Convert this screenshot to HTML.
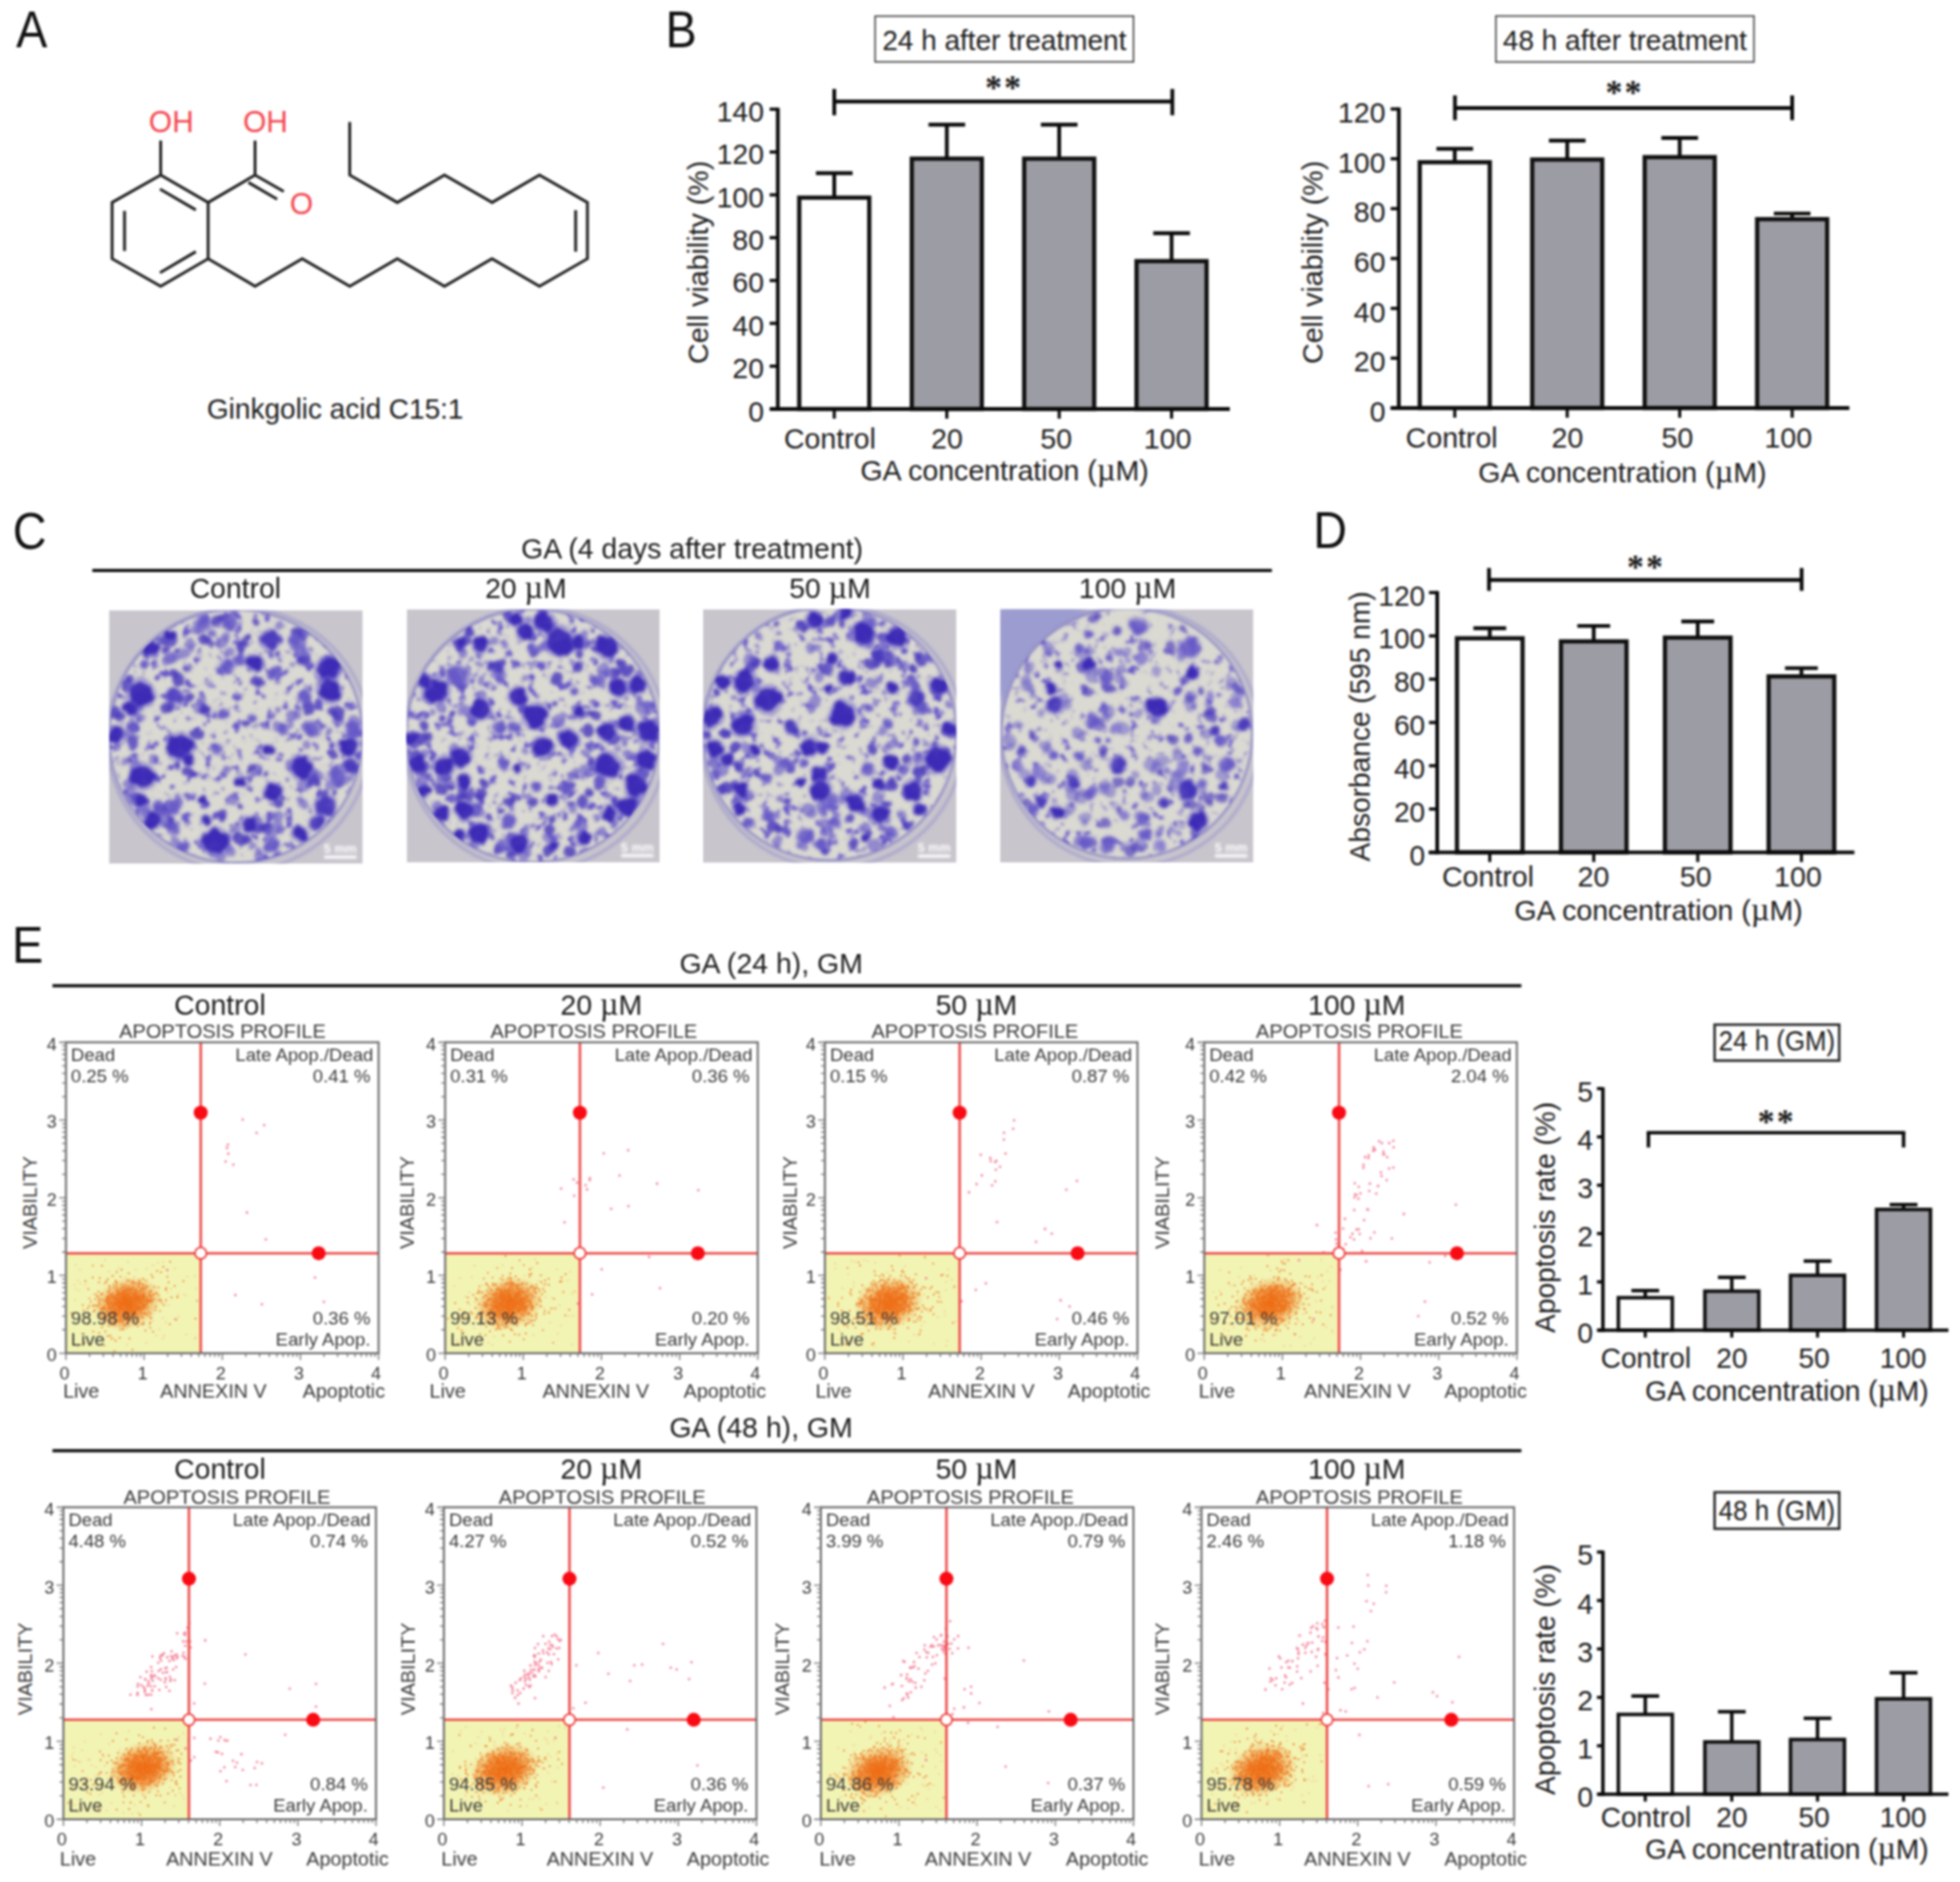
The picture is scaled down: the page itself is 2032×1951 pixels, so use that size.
<!DOCTYPE html>
<html lang="en"><head><meta charset="utf-8"><title>Ginkgolic acid C15:1 figure</title>
<style>
html,body{margin:0;padding:0;background:#fff;}
body{width:2032px;height:1951px;overflow:hidden;}
svg{display:block;font-family:"Liberation Sans",sans-serif;filter:blur(0.8px);}
</style></head><body>
<svg width="2032" height="1951" viewBox="0 0 2032 1951">
<rect width="2032" height="1951" fill="#fff"/>
<text transform="translate(16.7,49) scale(1,1.10)" font-size="48.5" fill="#111">A</text>
<text transform="translate(690,48.7) scale(1,1.10)" font-size="48.5" fill="#111">B</text>
<text transform="translate(13.2,569) scale(1,1.10)" font-size="48.5" fill="#111">C</text>
<text transform="translate(1361.5,568) scale(1,1.10)" font-size="48.5" fill="#111">D</text>
<text transform="translate(12.5,998) scale(1,1.10)" font-size="48.5" fill="#111">E</text>
<path d="M116.2 209.9 L166.6 181.5 L215.8 209.9 L215.8 268.2 L166.6 296.7 L116.2 268.2 Z" fill="none" stroke="#222" stroke-width="3.0" stroke-linejoin="miter" stroke-linecap="butt"/>
<path d="M129.1 218.6 L129.1 260.2" fill="none" stroke="#222" stroke-width="3.0" stroke-linejoin="miter" stroke-linecap="butt"/>
<path d="M165.9 196.0 L203.0 217.6" fill="none" stroke="#222" stroke-width="3.0" stroke-linejoin="miter" stroke-linecap="butt"/>
<path d="M165.9 282.8 L203.0 260.9" fill="none" stroke="#222" stroke-width="3.0" stroke-linejoin="miter" stroke-linecap="butt"/>
<path d="M166.6 181.5 L166.6 145.7" fill="none" stroke="#222" stroke-width="3.0" stroke-linejoin="miter" stroke-linecap="butt"/>
<path d="M215.8 268.2 L264.4 296.7 L313.3 268.2 L362.6 296.7 L411.9 268.2 L460.8 296.7 L510.1 268.2 L559.3 296.7 L609.0 268.2 L609.0 209.9 L559.3 181.5 L510.1 209.9 L460.8 181.5 L411.9 209.9 L362.6 181.5 L362.6 126.6" fill="none" stroke="#222" stroke-width="3.0" stroke-linejoin="miter" stroke-linecap="butt"/>
<path d="M596.8 217.9 L596.8 260.9" fill="none" stroke="#222" stroke-width="3.0" stroke-linejoin="miter" stroke-linecap="butt"/>
<path d="M215.8 209.9 L264.4 181.5 L264.4 145.7" fill="none" stroke="#222" stroke-width="3.0" stroke-linejoin="miter" stroke-linecap="butt"/>
<path d="M264.4 181.5 L294.2 198.5" fill="none" stroke="#222" stroke-width="3.0" stroke-linejoin="miter" stroke-linecap="butt"/>
<path d="M257.5 189.1 L287.3 206.5" fill="none" stroke="#222" stroke-width="3.0" stroke-linejoin="miter" stroke-linecap="butt"/>
<text x="154.3" y="136.5" font-size="31" text-anchor="start" fill="#f4474f" >OH</text>
<text x="252.0" y="136.5" font-size="31" text-anchor="start" fill="#f4474f" >OH</text>
<text x="300.5" y="222.0" font-size="31" text-anchor="start" fill="#f4474f" >O</text>
<text x="347.5" y="434.0" font-size="29" text-anchor="middle" fill="#1c1c1c" >Ginkgolic acid C15:1</text>
<rect x="828.6" y="204.9" width="72.6" height="219.1" fill="#ffffff" stroke="#111" stroke-width="4.4" />
<rect x="945.3" y="164.5" width="72.6" height="259.5" fill="#9c9ca4" stroke="#111" stroke-width="4.4" />
<rect x="1061.8" y="164.5" width="72.6" height="259.5" fill="#9c9ca4" stroke="#111" stroke-width="4.4" />
<rect x="1178.3" y="270.7" width="72.6" height="153.3" fill="#9c9ca4" stroke="#111" stroke-width="4.4" />
<line x1="864.9" y1="179.5" x2="864.9" y2="203.7" stroke="#0a0a0a" stroke-width="3.9" stroke-linecap="butt"/>
<line x1="845.9" y1="179.5" x2="883.9" y2="179.5" stroke="#0a0a0a" stroke-width="3.9" stroke-linecap="butt"/>
<line x1="981.6" y1="129.3" x2="981.6" y2="163.3" stroke="#0a0a0a" stroke-width="3.9" stroke-linecap="butt"/>
<line x1="962.6" y1="129.3" x2="1000.6" y2="129.3" stroke="#0a0a0a" stroke-width="3.9" stroke-linecap="butt"/>
<line x1="1098.1" y1="129.3" x2="1098.1" y2="163.3" stroke="#0a0a0a" stroke-width="3.9" stroke-linecap="butt"/>
<line x1="1079.1" y1="129.3" x2="1117.1" y2="129.3" stroke="#0a0a0a" stroke-width="3.9" stroke-linecap="butt"/>
<line x1="1214.6" y1="241.8" x2="1214.6" y2="269.5" stroke="#0a0a0a" stroke-width="3.9" stroke-linecap="butt"/>
<line x1="1195.6" y1="241.8" x2="1233.6" y2="241.8" stroke="#0a0a0a" stroke-width="3.9" stroke-linecap="butt"/>
<line x1="806.4" y1="111.8" x2="806.4" y2="425.9" stroke="#0a0a0a" stroke-width="3.9" stroke-linecap="butt"/>
<line x1="798.0" y1="424.0" x2="1275.0" y2="424.0" stroke="#0a0a0a" stroke-width="3.9" stroke-linecap="butt"/>
<line x1="797.9" y1="424.0" x2="806.4" y2="424.0" stroke="#0a0a0a" stroke-width="3.3" stroke-linecap="butt"/>
<text x="792.0" y="436.5" font-size="29.4" text-anchor="end" fill="#1c1c1c" >0</text>
<line x1="797.9" y1="379.6" x2="806.4" y2="379.6" stroke="#0a0a0a" stroke-width="3.3" stroke-linecap="butt"/>
<text x="792.0" y="392.1" font-size="29.4" text-anchor="end" fill="#1c1c1c" >20</text>
<line x1="797.9" y1="335.2" x2="806.4" y2="335.2" stroke="#0a0a0a" stroke-width="3.3" stroke-linecap="butt"/>
<text x="792.0" y="347.7" font-size="29.4" text-anchor="end" fill="#1c1c1c" >40</text>
<line x1="797.9" y1="290.8" x2="806.4" y2="290.8" stroke="#0a0a0a" stroke-width="3.3" stroke-linecap="butt"/>
<text x="792.0" y="303.3" font-size="29.4" text-anchor="end" fill="#1c1c1c" >60</text>
<line x1="797.9" y1="246.4" x2="806.4" y2="246.4" stroke="#0a0a0a" stroke-width="3.3" stroke-linecap="butt"/>
<text x="792.0" y="258.9" font-size="29.4" text-anchor="end" fill="#1c1c1c" >80</text>
<line x1="797.9" y1="202.0" x2="806.4" y2="202.0" stroke="#0a0a0a" stroke-width="3.3" stroke-linecap="butt"/>
<text x="792.0" y="214.5" font-size="29.4" text-anchor="end" fill="#1c1c1c" >100</text>
<line x1="797.9" y1="157.6" x2="806.4" y2="157.6" stroke="#0a0a0a" stroke-width="3.3" stroke-linecap="butt"/>
<text x="792.0" y="170.1" font-size="29.4" text-anchor="end" fill="#1c1c1c" >120</text>
<line x1="797.9" y1="113.2" x2="806.4" y2="113.2" stroke="#0a0a0a" stroke-width="3.3" stroke-linecap="butt"/>
<text x="792.0" y="125.7" font-size="29.4" text-anchor="end" fill="#1c1c1c" >140</text>
<line x1="864.9" y1="424.0" x2="864.9" y2="434.0" stroke="#0a0a0a" stroke-width="3.2" stroke-linecap="butt"/>
<text x="860.4" y="465.4" font-size="29.6" text-anchor="middle" fill="#1c1c1c" >Control</text>
<line x1="981.6" y1="424.0" x2="981.6" y2="434.0" stroke="#0a0a0a" stroke-width="3.2" stroke-linecap="butt"/>
<text x="981.7" y="465.4" font-size="29.6" text-anchor="middle" fill="#1c1c1c" >20</text>
<line x1="1098.1" y1="424.0" x2="1098.1" y2="434.0" stroke="#0a0a0a" stroke-width="3.2" stroke-linecap="butt"/>
<text x="1095.0" y="465.4" font-size="29.6" text-anchor="middle" fill="#1c1c1c" >50</text>
<line x1="1214.6" y1="424.0" x2="1214.6" y2="434.0" stroke="#0a0a0a" stroke-width="3.2" stroke-linecap="butt"/>
<text x="1210.5" y="465.4" font-size="29.6" text-anchor="middle" fill="#1c1c1c" >100</text>
<text x="1041.5" y="497.8" font-size="29.6" text-anchor="middle" fill="#1c1c1c" >GA concentration (<tspan font-family="Liberation Serif, serif" font-size="1.13em">µ</tspan>M)</text>
<text transform="translate(734.0,272.0) rotate(-90)" font-size="29.6" text-anchor="middle" fill="#1c1c1c">Cell viability (%)</text>
<line x1="864.9" y1="105.2" x2="1215.4" y2="105.2" stroke="#0a0a0a" stroke-width="3.9" stroke-linecap="butt"/>
<line x1="864.9" y1="92.2" x2="864.9" y2="119.5" stroke="#0a0a0a" stroke-width="3.9" stroke-linecap="butt"/>
<line x1="1215.4" y1="92.2" x2="1215.4" y2="119.5" stroke="#0a0a0a" stroke-width="3.9" stroke-linecap="butt"/>
<text x="1041.0" y="102.6" font-size="35" text-anchor="middle" fill="#1c1c1c" font-family="Liberation Serif, serif" font-weight="bold" letter-spacing="2.2">**</text>
<rect x="907.3" y="16.7" width="267.9" height="47.5" fill="#fff" stroke="#444" stroke-width="1.6" />
<text x="1041.2" y="51.5" font-size="29" text-anchor="middle" fill="#1c1c1c" >24 h after treatment</text>
<rect x="1471.9" y="168.2" width="72.6" height="254.8" fill="#ffffff" stroke="#111" stroke-width="4.4" />
<rect x="1588.5" y="165.4" width="72.6" height="257.6" fill="#9c9ca4" stroke="#111" stroke-width="4.4" />
<rect x="1705.1" y="162.9" width="72.6" height="260.1" fill="#9c9ca4" stroke="#111" stroke-width="4.4" />
<rect x="1821.7" y="227.2" width="72.6" height="195.8" fill="#9c9ca4" stroke="#111" stroke-width="4.4" />
<line x1="1508.2" y1="154.3" x2="1508.2" y2="167.0" stroke="#0a0a0a" stroke-width="3.9" stroke-linecap="butt"/>
<line x1="1489.2" y1="154.3" x2="1527.2" y2="154.3" stroke="#0a0a0a" stroke-width="3.9" stroke-linecap="butt"/>
<line x1="1624.8" y1="145.8" x2="1624.8" y2="164.2" stroke="#0a0a0a" stroke-width="3.9" stroke-linecap="butt"/>
<line x1="1605.8" y1="145.8" x2="1643.8" y2="145.8" stroke="#0a0a0a" stroke-width="3.9" stroke-linecap="butt"/>
<line x1="1741.4" y1="143.0" x2="1741.4" y2="161.7" stroke="#0a0a0a" stroke-width="3.9" stroke-linecap="butt"/>
<line x1="1722.4" y1="143.0" x2="1760.4" y2="143.0" stroke="#0a0a0a" stroke-width="3.9" stroke-linecap="butt"/>
<line x1="1858.0" y1="221.4" x2="1858.0" y2="226.0" stroke="#0a0a0a" stroke-width="3.9" stroke-linecap="butt"/>
<line x1="1839.0" y1="221.4" x2="1877.0" y2="221.4" stroke="#0a0a0a" stroke-width="3.9" stroke-linecap="butt"/>
<line x1="1450.2" y1="111.5" x2="1450.2" y2="424.9" stroke="#0a0a0a" stroke-width="3.9" stroke-linecap="butt"/>
<line x1="1441.7" y1="423.0" x2="1917.3" y2="423.0" stroke="#0a0a0a" stroke-width="3.9" stroke-linecap="butt"/>
<line x1="1441.7" y1="423.0" x2="1450.2" y2="423.0" stroke="#0a0a0a" stroke-width="3.3" stroke-linecap="butt"/>
<text x="1436.5" y="437.0" font-size="29.6" text-anchor="end" fill="#1c1c1c" >0</text>
<line x1="1441.7" y1="371.3" x2="1450.2" y2="371.3" stroke="#0a0a0a" stroke-width="3.3" stroke-linecap="butt"/>
<text x="1436.5" y="385.3" font-size="29.6" text-anchor="end" fill="#1c1c1c" >20</text>
<line x1="1441.7" y1="319.7" x2="1450.2" y2="319.7" stroke="#0a0a0a" stroke-width="3.3" stroke-linecap="butt"/>
<text x="1436.5" y="333.7" font-size="29.6" text-anchor="end" fill="#1c1c1c" >40</text>
<line x1="1441.7" y1="268.0" x2="1450.2" y2="268.0" stroke="#0a0a0a" stroke-width="3.3" stroke-linecap="butt"/>
<text x="1436.5" y="282.0" font-size="29.6" text-anchor="end" fill="#1c1c1c" >60</text>
<line x1="1441.7" y1="216.3" x2="1450.2" y2="216.3" stroke="#0a0a0a" stroke-width="3.3" stroke-linecap="butt"/>
<text x="1436.5" y="230.3" font-size="29.6" text-anchor="end" fill="#1c1c1c" >80</text>
<line x1="1441.7" y1="164.6" x2="1450.2" y2="164.6" stroke="#0a0a0a" stroke-width="3.3" stroke-linecap="butt"/>
<text x="1436.5" y="178.6" font-size="29.6" text-anchor="end" fill="#1c1c1c" >100</text>
<line x1="1441.7" y1="113.0" x2="1450.2" y2="113.0" stroke="#0a0a0a" stroke-width="3.3" stroke-linecap="butt"/>
<text x="1436.5" y="127.0" font-size="29.6" text-anchor="end" fill="#1c1c1c" >120</text>
<line x1="1508.2" y1="423.0" x2="1508.2" y2="433.0" stroke="#0a0a0a" stroke-width="3.2" stroke-linecap="butt"/>
<text x="1505.0" y="464.3" font-size="29.6" text-anchor="middle" fill="#1c1c1c" >Control</text>
<line x1="1624.8" y1="423.0" x2="1624.8" y2="433.0" stroke="#0a0a0a" stroke-width="3.2" stroke-linecap="butt"/>
<text x="1625.0" y="464.3" font-size="29.6" text-anchor="middle" fill="#1c1c1c" >20</text>
<line x1="1741.4" y1="423.0" x2="1741.4" y2="433.0" stroke="#0a0a0a" stroke-width="3.2" stroke-linecap="butt"/>
<text x="1739.0" y="464.3" font-size="29.6" text-anchor="middle" fill="#1c1c1c" >50</text>
<line x1="1858.0" y1="423.0" x2="1858.0" y2="433.0" stroke="#0a0a0a" stroke-width="3.2" stroke-linecap="butt"/>
<text x="1854.0" y="464.3" font-size="29.6" text-anchor="middle" fill="#1c1c1c" >100</text>
<text x="1682.0" y="499.6" font-size="29.6" text-anchor="middle" fill="#1c1c1c" >GA concentration (<tspan font-family="Liberation Serif, serif" font-size="1.13em">µ</tspan>M)</text>
<text transform="translate(1371.0,272.0) rotate(-90)" font-size="29.6" text-anchor="middle" fill="#1c1c1c">Cell viability (%)</text>
<line x1="1508.4" y1="112.0" x2="1858.0" y2="112.0" stroke="#0a0a0a" stroke-width="3.9" stroke-linecap="butt"/>
<line x1="1508.4" y1="98.9" x2="1508.4" y2="124.6" stroke="#0a0a0a" stroke-width="3.9" stroke-linecap="butt"/>
<line x1="1858.0" y1="98.9" x2="1858.0" y2="124.6" stroke="#0a0a0a" stroke-width="3.9" stroke-linecap="butt"/>
<text x="1684.3" y="107.6" font-size="35" text-anchor="middle" fill="#1c1c1c" font-family="Liberation Serif, serif" font-weight="bold" letter-spacing="2.2">**</text>
<rect x="1550.8" y="16.6" width="267.6" height="47.7" fill="#fff" stroke="#444" stroke-width="1.6" />
<text x="1684.6" y="51.5" font-size="29" text-anchor="middle" fill="#1c1c1c" >48 h after treatment</text>
<rect x="1510.5" y="661.7" width="68.0" height="221.9" fill="#ffffff" stroke="#111" stroke-width="4.4" />
<rect x="1618.3" y="664.9" width="68.0" height="218.7" fill="#9c9ca4" stroke="#111" stroke-width="4.4" />
<rect x="1726.1" y="661.0" width="68.0" height="222.6" fill="#9c9ca4" stroke="#111" stroke-width="4.4" />
<rect x="1833.6" y="701.2" width="68.0" height="182.4" fill="#9c9ca4" stroke="#111" stroke-width="4.4" />
<line x1="1544.5" y1="651.3" x2="1544.5" y2="660.5" stroke="#0a0a0a" stroke-width="3.9" stroke-linecap="butt"/>
<line x1="1527.5" y1="651.3" x2="1561.5" y2="651.3" stroke="#0a0a0a" stroke-width="3.9" stroke-linecap="butt"/>
<line x1="1652.3" y1="648.9" x2="1652.3" y2="663.7" stroke="#0a0a0a" stroke-width="3.9" stroke-linecap="butt"/>
<line x1="1635.3" y1="648.9" x2="1669.3" y2="648.9" stroke="#0a0a0a" stroke-width="3.9" stroke-linecap="butt"/>
<line x1="1760.1" y1="644.3" x2="1760.1" y2="659.8" stroke="#0a0a0a" stroke-width="3.9" stroke-linecap="butt"/>
<line x1="1743.1" y1="644.3" x2="1777.1" y2="644.3" stroke="#0a0a0a" stroke-width="3.9" stroke-linecap="butt"/>
<line x1="1867.6" y1="692.6" x2="1867.6" y2="700.0" stroke="#0a0a0a" stroke-width="3.9" stroke-linecap="butt"/>
<line x1="1850.6" y1="692.6" x2="1884.6" y2="692.6" stroke="#0a0a0a" stroke-width="3.9" stroke-linecap="butt"/>
<line x1="1490.0" y1="612.8" x2="1490.0" y2="885.6" stroke="#0a0a0a" stroke-width="3.9" stroke-linecap="butt"/>
<line x1="1481.2" y1="883.6" x2="1922.5" y2="883.6" stroke="#0a0a0a" stroke-width="3.9" stroke-linecap="butt"/>
<line x1="1481.5" y1="883.6" x2="1490.0" y2="883.6" stroke="#0a0a0a" stroke-width="3.3" stroke-linecap="butt"/>
<text x="1477.5" y="896.8" font-size="29.1" text-anchor="end" fill="#1c1c1c" >0</text>
<line x1="1481.5" y1="838.7" x2="1490.0" y2="838.7" stroke="#0a0a0a" stroke-width="3.3" stroke-linecap="butt"/>
<text x="1477.5" y="851.9" font-size="29.1" text-anchor="end" fill="#1c1c1c" >20</text>
<line x1="1481.5" y1="793.8" x2="1490.0" y2="793.8" stroke="#0a0a0a" stroke-width="3.3" stroke-linecap="butt"/>
<text x="1477.5" y="807.1" font-size="29.1" text-anchor="end" fill="#1c1c1c" >40</text>
<line x1="1481.5" y1="749.0" x2="1490.0" y2="749.0" stroke="#0a0a0a" stroke-width="3.3" stroke-linecap="butt"/>
<text x="1477.5" y="762.2" font-size="29.1" text-anchor="end" fill="#1c1c1c" >60</text>
<line x1="1481.5" y1="704.1" x2="1490.0" y2="704.1" stroke="#0a0a0a" stroke-width="3.3" stroke-linecap="butt"/>
<text x="1477.5" y="717.3" font-size="29.1" text-anchor="end" fill="#1c1c1c" >80</text>
<line x1="1481.5" y1="659.2" x2="1490.0" y2="659.2" stroke="#0a0a0a" stroke-width="3.3" stroke-linecap="butt"/>
<text x="1477.5" y="672.4" font-size="29.1" text-anchor="end" fill="#1c1c1c" >100</text>
<line x1="1481.5" y1="614.3" x2="1490.0" y2="614.3" stroke="#0a0a0a" stroke-width="3.3" stroke-linecap="butt"/>
<text x="1477.5" y="627.5" font-size="29.1" text-anchor="end" fill="#1c1c1c" >120</text>
<line x1="1544.5" y1="883.6" x2="1544.5" y2="893.6" stroke="#0a0a0a" stroke-width="3.2" stroke-linecap="butt"/>
<text x="1542.7" y="919.0" font-size="29.6" text-anchor="middle" fill="#1c1c1c" >Control</text>
<line x1="1652.3" y1="883.6" x2="1652.3" y2="893.6" stroke="#0a0a0a" stroke-width="3.2" stroke-linecap="butt"/>
<text x="1652.0" y="919.0" font-size="29.6" text-anchor="middle" fill="#1c1c1c" >20</text>
<line x1="1760.1" y1="883.6" x2="1760.1" y2="893.6" stroke="#0a0a0a" stroke-width="3.2" stroke-linecap="butt"/>
<text x="1758.0" y="919.0" font-size="29.6" text-anchor="middle" fill="#1c1c1c" >50</text>
<line x1="1867.6" y1="883.6" x2="1867.6" y2="893.6" stroke="#0a0a0a" stroke-width="3.2" stroke-linecap="butt"/>
<text x="1864.0" y="919.0" font-size="29.6" text-anchor="middle" fill="#1c1c1c" >100</text>
<text x="1719.5" y="953.5" font-size="29.6" text-anchor="middle" fill="#1c1c1c" >GA concentration (<tspan font-family="Liberation Serif, serif" font-size="1.13em">µ</tspan>M)</text>
<text transform="translate(1419.8,753.0) rotate(-90)" font-size="29.1" text-anchor="middle" fill="#1c1c1c">Absorbance (595 nm)</text>
<line x1="1543.7" y1="601.2" x2="1867.8" y2="601.2" stroke="#0a0a0a" stroke-width="3.9" stroke-linecap="butt"/>
<line x1="1543.7" y1="588.8" x2="1543.7" y2="612.5" stroke="#0a0a0a" stroke-width="3.9" stroke-linecap="butt"/>
<line x1="1867.8" y1="588.8" x2="1867.8" y2="612.5" stroke="#0a0a0a" stroke-width="3.9" stroke-linecap="butt"/>
<text x="1706.4" y="600.0" font-size="35" text-anchor="middle" fill="#1c1c1c" font-family="Liberation Serif, serif" font-weight="bold" letter-spacing="2.2">**</text>
<rect x="1677.8" y="1345.3" width="55.9" height="33.6" fill="#ffffff" stroke="#111" stroke-width="3.7" />
<rect x="1767.5" y="1338.5" width="55.9" height="40.4" fill="#9c9ca4" stroke="#111" stroke-width="3.7" />
<rect x="1856.3" y="1322.1" width="55.9" height="56.9" fill="#9c9ca4" stroke="#111" stroke-width="3.7" />
<rect x="1945.5" y="1253.8" width="55.9" height="125.2" fill="#9c9ca4" stroke="#111" stroke-width="3.7" />
<line x1="1705.7" y1="1337.9" x2="1705.7" y2="1344.5" stroke="#0a0a0a" stroke-width="3.6" stroke-linecap="butt"/>
<line x1="1691.3" y1="1337.9" x2="1720.1" y2="1337.9" stroke="#0a0a0a" stroke-width="3.6" stroke-linecap="butt"/>
<line x1="1795.4" y1="1324.2" x2="1795.4" y2="1337.7" stroke="#0a0a0a" stroke-width="3.6" stroke-linecap="butt"/>
<line x1="1781.0" y1="1324.2" x2="1809.8" y2="1324.2" stroke="#0a0a0a" stroke-width="3.6" stroke-linecap="butt"/>
<line x1="1884.3" y1="1307.3" x2="1884.3" y2="1321.3" stroke="#0a0a0a" stroke-width="3.6" stroke-linecap="butt"/>
<line x1="1869.9" y1="1307.3" x2="1898.7" y2="1307.3" stroke="#0a0a0a" stroke-width="3.6" stroke-linecap="butt"/>
<line x1="1973.5" y1="1248.8" x2="1973.5" y2="1252.9" stroke="#0a0a0a" stroke-width="3.6" stroke-linecap="butt"/>
<line x1="1959.1" y1="1248.8" x2="1987.9" y2="1248.8" stroke="#0a0a0a" stroke-width="3.6" stroke-linecap="butt"/>
<line x1="1661.8" y1="1127.2" x2="1661.8" y2="1380.8" stroke="#0a0a0a" stroke-width="3.6" stroke-linecap="butt"/>
<line x1="1656.3" y1="1379.0" x2="2020.0" y2="1379.0" stroke="#0a0a0a" stroke-width="3.6" stroke-linecap="butt"/>
<line x1="1655.6" y1="1379.0" x2="1661.8" y2="1379.0" stroke="#0a0a0a" stroke-width="3.3" stroke-linecap="butt"/>
<text x="1651.5" y="1392.4" font-size="29.3" text-anchor="end" fill="#1c1c1c" >0</text>
<line x1="1655.6" y1="1328.9" x2="1661.8" y2="1328.9" stroke="#0a0a0a" stroke-width="3.3" stroke-linecap="butt"/>
<text x="1651.5" y="1342.3" font-size="29.3" text-anchor="end" fill="#1c1c1c" >1</text>
<line x1="1655.6" y1="1278.8" x2="1661.8" y2="1278.8" stroke="#0a0a0a" stroke-width="3.3" stroke-linecap="butt"/>
<text x="1651.5" y="1292.2" font-size="29.3" text-anchor="end" fill="#1c1c1c" >2</text>
<line x1="1655.6" y1="1228.7" x2="1661.8" y2="1228.7" stroke="#0a0a0a" stroke-width="3.3" stroke-linecap="butt"/>
<text x="1651.5" y="1242.1" font-size="29.3" text-anchor="end" fill="#1c1c1c" >3</text>
<line x1="1655.6" y1="1178.6" x2="1661.8" y2="1178.6" stroke="#0a0a0a" stroke-width="3.3" stroke-linecap="butt"/>
<text x="1651.5" y="1192.0" font-size="29.3" text-anchor="end" fill="#1c1c1c" >4</text>
<line x1="1655.6" y1="1128.5" x2="1661.8" y2="1128.5" stroke="#0a0a0a" stroke-width="3.3" stroke-linecap="butt"/>
<text x="1651.5" y="1141.9" font-size="29.3" text-anchor="end" fill="#1c1c1c" >5</text>
<line x1="1705.7" y1="1379.0" x2="1705.7" y2="1386.6" stroke="#0a0a0a" stroke-width="3.2" stroke-linecap="butt"/>
<text x="1706.3" y="1417.6" font-size="29.1" text-anchor="middle" fill="#1c1c1c" >Control</text>
<line x1="1795.4" y1="1379.0" x2="1795.4" y2="1386.6" stroke="#0a0a0a" stroke-width="3.2" stroke-linecap="butt"/>
<text x="1795.4" y="1417.6" font-size="29.1" text-anchor="middle" fill="#1c1c1c" >20</text>
<line x1="1884.3" y1="1379.0" x2="1884.3" y2="1386.6" stroke="#0a0a0a" stroke-width="3.2" stroke-linecap="butt"/>
<text x="1880.7" y="1417.6" font-size="29.1" text-anchor="middle" fill="#1c1c1c" >50</text>
<line x1="1973.5" y1="1379.0" x2="1973.5" y2="1386.6" stroke="#0a0a0a" stroke-width="3.2" stroke-linecap="butt"/>
<text x="1973.0" y="1417.6" font-size="29.1" text-anchor="middle" fill="#1c1c1c" >100</text>
<text x="1852.5" y="1451.8" font-size="29.1" text-anchor="middle" fill="#1c1c1c" >GA concentration (<tspan font-family="Liberation Serif, serif" font-size="1.13em">µ</tspan>M)</text>
<text transform="translate(1612.0,1262.0) rotate(-90)" font-size="29.1" text-anchor="middle" fill="#1c1c1c">Apoptosis rate (%)</text>
<line x1="1707.2" y1="1174.3" x2="1975.3" y2="1174.3" stroke="#0a0a0a" stroke-width="3.6" stroke-linecap="butt"/>
<line x1="1709.0" y1="1174.3" x2="1709.0" y2="1189.5" stroke="#0a0a0a" stroke-width="3.6" stroke-linecap="butt"/>
<line x1="1973.5" y1="1174.3" x2="1973.5" y2="1189.5" stroke="#0a0a0a" stroke-width="3.6" stroke-linecap="butt"/>
<text x="1842.0" y="1174.8" font-size="35" text-anchor="middle" fill="#1c1c1c" font-family="Liberation Serif, serif" font-weight="bold" letter-spacing="2.2">**</text>
<rect x="1777.6" y="1062.2" width="129.2" height="37.3" fill="#fff" stroke="#2a2a2a" stroke-width="2.6" />
<text transform="translate(1842.2,1089.2) scale(0.925,1)" font-size="29" text-anchor="middle" fill="#1c1c1c">24 h (GM)</text>
<rect x="1677.8" y="1777.3" width="55.9" height="82.7" fill="#ffffff" stroke="#111" stroke-width="3.7" />
<rect x="1767.5" y="1805.8" width="55.9" height="54.2" fill="#9c9ca4" stroke="#111" stroke-width="3.7" />
<rect x="1856.3" y="1803.3" width="55.9" height="56.6" fill="#9c9ca4" stroke="#111" stroke-width="3.7" />
<rect x="1945.5" y="1761.1" width="55.9" height="98.9" fill="#9c9ca4" stroke="#111" stroke-width="3.7" />
<line x1="1705.7" y1="1758.2" x2="1705.7" y2="1776.5" stroke="#0a0a0a" stroke-width="3.6" stroke-linecap="butt"/>
<line x1="1691.3" y1="1758.2" x2="1720.1" y2="1758.2" stroke="#0a0a0a" stroke-width="3.6" stroke-linecap="butt"/>
<line x1="1795.4" y1="1774.5" x2="1795.4" y2="1804.9" stroke="#0a0a0a" stroke-width="3.6" stroke-linecap="butt"/>
<line x1="1781.0" y1="1774.5" x2="1809.8" y2="1774.5" stroke="#0a0a0a" stroke-width="3.6" stroke-linecap="butt"/>
<line x1="1884.3" y1="1781.3" x2="1884.3" y2="1802.5" stroke="#0a0a0a" stroke-width="3.6" stroke-linecap="butt"/>
<line x1="1869.9" y1="1781.3" x2="1898.7" y2="1781.3" stroke="#0a0a0a" stroke-width="3.6" stroke-linecap="butt"/>
<line x1="1973.5" y1="1734.1" x2="1973.5" y2="1760.3" stroke="#0a0a0a" stroke-width="3.6" stroke-linecap="butt"/>
<line x1="1959.1" y1="1734.1" x2="1987.9" y2="1734.1" stroke="#0a0a0a" stroke-width="3.6" stroke-linecap="butt"/>
<line x1="1661.8" y1="1607.6" x2="1661.8" y2="1861.8" stroke="#0a0a0a" stroke-width="3.6" stroke-linecap="butt"/>
<line x1="1656.3" y1="1860.0" x2="2020.0" y2="1860.0" stroke="#0a0a0a" stroke-width="3.6" stroke-linecap="butt"/>
<line x1="1655.6" y1="1860.0" x2="1661.8" y2="1860.0" stroke="#0a0a0a" stroke-width="3.3" stroke-linecap="butt"/>
<text x="1651.5" y="1873.4" font-size="29.3" text-anchor="end" fill="#1c1c1c" >0</text>
<line x1="1655.6" y1="1809.8" x2="1661.8" y2="1809.8" stroke="#0a0a0a" stroke-width="3.3" stroke-linecap="butt"/>
<text x="1651.5" y="1823.2" font-size="29.3" text-anchor="end" fill="#1c1c1c" >1</text>
<line x1="1655.6" y1="1759.6" x2="1661.8" y2="1759.6" stroke="#0a0a0a" stroke-width="3.3" stroke-linecap="butt"/>
<text x="1651.5" y="1773.0" font-size="29.3" text-anchor="end" fill="#1c1c1c" >2</text>
<line x1="1655.6" y1="1709.4" x2="1661.8" y2="1709.4" stroke="#0a0a0a" stroke-width="3.3" stroke-linecap="butt"/>
<text x="1651.5" y="1722.8" font-size="29.3" text-anchor="end" fill="#1c1c1c" >3</text>
<line x1="1655.6" y1="1659.2" x2="1661.8" y2="1659.2" stroke="#0a0a0a" stroke-width="3.3" stroke-linecap="butt"/>
<text x="1651.5" y="1672.6" font-size="29.3" text-anchor="end" fill="#1c1c1c" >4</text>
<line x1="1655.6" y1="1609.0" x2="1661.8" y2="1609.0" stroke="#0a0a0a" stroke-width="3.3" stroke-linecap="butt"/>
<text x="1651.5" y="1622.4" font-size="29.3" text-anchor="end" fill="#1c1c1c" >5</text>
<line x1="1705.7" y1="1860.0" x2="1705.7" y2="1867.6" stroke="#0a0a0a" stroke-width="3.2" stroke-linecap="butt"/>
<text x="1706.3" y="1893.8" font-size="29.1" text-anchor="middle" fill="#1c1c1c" >Control</text>
<line x1="1795.4" y1="1860.0" x2="1795.4" y2="1867.6" stroke="#0a0a0a" stroke-width="3.2" stroke-linecap="butt"/>
<text x="1795.4" y="1893.8" font-size="29.1" text-anchor="middle" fill="#1c1c1c" >20</text>
<line x1="1884.3" y1="1860.0" x2="1884.3" y2="1867.6" stroke="#0a0a0a" stroke-width="3.2" stroke-linecap="butt"/>
<text x="1880.7" y="1893.8" font-size="29.1" text-anchor="middle" fill="#1c1c1c" >50</text>
<line x1="1973.5" y1="1860.0" x2="1973.5" y2="1867.6" stroke="#0a0a0a" stroke-width="3.2" stroke-linecap="butt"/>
<text x="1973.0" y="1893.8" font-size="29.1" text-anchor="middle" fill="#1c1c1c" >100</text>
<text x="1852.5" y="1927.0" font-size="29.1" text-anchor="middle" fill="#1c1c1c" >GA concentration (<tspan font-family="Liberation Serif, serif" font-size="1.13em">µ</tspan>M)</text>
<text transform="translate(1612.0,1741.0) rotate(-90)" font-size="29.1" text-anchor="middle" fill="#1c1c1c">Apoptosis rate (%)</text>
<rect x="1777.6" y="1547.0" width="129.2" height="37.8" fill="#fff" stroke="#2a2a2a" stroke-width="2.6" />
<text transform="translate(1842.2,1575.8) scale(0.925,1)" font-size="29" text-anchor="middle" fill="#1c1c1c">48 h (GM)</text>
<defs>
<clipPath id="pc0"><rect x="113.1" y="632.6" width="262.8" height="262.8"/></clipPath>
<clipPath id="pw0"><circle cx="244.5" cy="763.2" r="131.4"/></clipPath>
<clipPath id="pc1"><rect x="421.6" y="631.6" width="262.3" height="262.3"/></clipPath>
<clipPath id="pw1"><circle cx="552.2" cy="762.8" r="131.2"/></clipPath>
<clipPath id="pc2"><rect x="728.8" y="631.6" width="262.8" height="262.8"/></clipPath>
<clipPath id="pw2"><circle cx="860.2" cy="760.4" r="131.4"/></clipPath>
<clipPath id="pc3"><rect x="1037.0" y="631.6" width="262.5" height="262.5"/></clipPath>
<clipPath id="pw3"><circle cx="1168.2" cy="760.2" r="129.9"/></clipPath>
<filter id="b1" x="-10%" y="-10%" width="120%" height="120%"><feGaussianBlur stdDeviation="0.9"/></filter>
<filter id="b2" x="-10%" y="-10%" width="120%" height="120%"><feGaussianBlur stdDeviation="1.5"/></filter>
<filter id="b4" x="-20%" y="-20%" width="140%" height="140%"><feGaussianBlur stdDeviation="6"/></filter>
<filter id="nz0" x="0" y="0" width="100%" height="100%" color-interpolation-filters="sRGB"><feTurbulence type="fractalNoise" baseFrequency="0.095" numOctaves="3" seed="4"/><feColorMatrix type="matrix" values="0 0 0 0 0.40  0 0 0 0 0.34  0 0 0 0 0.79  5.0 0 0 0 -2.8"/><feGaussianBlur stdDeviation="1.2"/></filter>
<filter id="bd0" x="-5%" y="-5%" width="110%" height="110%"><feTurbulence type="fractalNoise" baseFrequency="0.06" numOctaves="3" seed="5" result="n"/><feDisplacementMap in="SourceGraphic" in2="n" scale="7" xChannelSelector="R" yChannelSelector="G"/><feGaussianBlur stdDeviation="1.5"/></filter>
<filter id="nz1" x="0" y="0" width="100%" height="100%" color-interpolation-filters="sRGB"><feTurbulence type="fractalNoise" baseFrequency="0.095" numOctaves="3" seed="9"/><feColorMatrix type="matrix" values="0 0 0 0 0.40  0 0 0 0 0.34  0 0 0 0 0.79  5.0 0 0 0 -2.72"/><feGaussianBlur stdDeviation="1.2"/></filter>
<filter id="bd1" x="-5%" y="-5%" width="110%" height="110%"><feTurbulence type="fractalNoise" baseFrequency="0.06" numOctaves="3" seed="10" result="n"/><feDisplacementMap in="SourceGraphic" in2="n" scale="7" xChannelSelector="R" yChannelSelector="G"/><feGaussianBlur stdDeviation="1.5"/></filter>
<filter id="nz2" x="0" y="0" width="100%" height="100%" color-interpolation-filters="sRGB"><feTurbulence type="fractalNoise" baseFrequency="0.09" numOctaves="3" seed="15"/><feColorMatrix type="matrix" values="0 0 0 0 0.40  0 0 0 0 0.34  0 0 0 0 0.79  5.0 0 0 0 -2.8"/><feGaussianBlur stdDeviation="1.2"/></filter>
<filter id="bd2" x="-5%" y="-5%" width="110%" height="110%"><feTurbulence type="fractalNoise" baseFrequency="0.06" numOctaves="3" seed="16" result="n"/><feDisplacementMap in="SourceGraphic" in2="n" scale="7" xChannelSelector="R" yChannelSelector="G"/><feGaussianBlur stdDeviation="1.5"/></filter>
<filter id="nz3" x="0" y="0" width="100%" height="100%" color-interpolation-filters="sRGB"><feTurbulence type="fractalNoise" baseFrequency="0.1" numOctaves="3" seed="21"/><feColorMatrix type="matrix" values="0 0 0 0 0.40  0 0 0 0 0.34  0 0 0 0 0.79  4.4 0 0 0 -2.55"/><feGaussianBlur stdDeviation="1.2"/></filter>
<filter id="bd3" x="-5%" y="-5%" width="110%" height="110%"><feTurbulence type="fractalNoise" baseFrequency="0.06" numOctaves="3" seed="22" result="n"/><feDisplacementMap in="SourceGraphic" in2="n" scale="7" xChannelSelector="R" yChannelSelector="G"/><feGaussianBlur stdDeviation="1.5"/></filter>
</defs>
<g clip-path="url(#pc0)">
<rect x="113.1" y="632.6" width="262.8" height="262.8" fill="#c9c5cd" stroke="none" stroke-width="0" />

<circle cx="247.5" cy="766.2" r="136.4" fill="none" stroke="#9f9ccb" stroke-width="3" opacity="0.7" filter="url(#b1)"/>
<circle cx="244.5" cy="763.2" r="131.4" fill="#dad9d2" stroke="#8f8bc6" stroke-width="2.4" filter="url(#b1)"/>
<g clip-path="url(#pw0)">
<rect x="113.1" y="632.6" width="262.8" height="262.8" filter="url(#nz0)"/>
<g filter="url(#bd0)">
<circle cx="140.8" cy="795.2" r="6.5" fill="#6c5fca" opacity="0.65"/>
<circle cx="176.5" cy="721.6" r="4.8" fill="#4c3cbd" opacity="0.85"/>
<circle cx="320.5" cy="814.2" r="3.0" fill="#4c3cbd" opacity="0.85"/>
<circle cx="367.0" cy="796.2" r="6.7" fill="#4c3cbd" opacity="0.85"/>
<circle cx="266.3" cy="796.4" r="4.8" fill="#6c5fca" opacity="0.65"/>
<circle cx="266.5" cy="801.2" r="3.4" fill="#6c5fca" opacity="0.65"/>
<circle cx="345.6" cy="782.6" r="4.5" fill="#4c3cbd" opacity="0.85"/>
<circle cx="177.6" cy="682.1" r="5.4" fill="#6c5fca" opacity="0.65"/>
<circle cx="183.0" cy="682.0" r="3.8" fill="#6c5fca" opacity="0.65"/>
<circle cx="365.9" cy="759.9" r="5.6" fill="#6c5fca" opacity="0.65"/>
<circle cx="364.5" cy="765.3" r="3.9" fill="#6c5fca" opacity="0.65"/>
<circle cx="351.5" cy="813.8" r="4.3" fill="#4c3cbd" opacity="0.85"/>
<circle cx="355.7" cy="812.6" r="3.0" fill="#4c3cbd" opacity="0.85"/>
<circle cx="253.6" cy="750.3" r="3.5" fill="#4c3cbd" opacity="0.85"/>
<circle cx="257.0" cy="749.8" r="2.4" fill="#4c3cbd" opacity="0.85"/>
<circle cx="195.2" cy="800.2" r="5.2" fill="#4c3cbd" opacity="0.85"/>
<circle cx="199.7" cy="803.0" r="3.7" fill="#4c3cbd" opacity="0.85"/>
<circle cx="181.9" cy="872.8" r="5.8" fill="#6c5fca" opacity="0.65"/>
<circle cx="186.6" cy="876.2" r="4.0" fill="#6c5fca" opacity="0.65"/>
<circle cx="355.8" cy="807.2" r="3.3" fill="#6c5fca" opacity="0.65"/>
<circle cx="357.0" cy="810.3" r="2.3" fill="#6c5fca" opacity="0.65"/>
<circle cx="236.3" cy="691.2" r="5.3" fill="#6c5fca" opacity="0.65"/>
<circle cx="237.5" cy="696.4" r="3.7" fill="#6c5fca" opacity="0.65"/>
<circle cx="228.8" cy="888.7" r="6.0" fill="#6c5fca" opacity="0.65"/>
<circle cx="268.6" cy="858.6" r="6.2" fill="#4c3cbd" opacity="0.85"/>
<circle cx="274.7" cy="858.2" r="4.3" fill="#4c3cbd" opacity="0.85"/>
<circle cx="264.5" cy="848.4" r="5.8" fill="#6c5fca" opacity="0.65"/>
<circle cx="269.8" cy="851.0" r="4.1" fill="#6c5fca" opacity="0.65"/>
<circle cx="337.1" cy="822.1" r="3.6" fill="#4c3cbd" opacity="0.85"/>
<circle cx="333.6" cy="823.1" r="2.5" fill="#4c3cbd" opacity="0.85"/>
<circle cx="345.3" cy="736.8" r="5.0" fill="#4c3cbd" opacity="0.85"/>
<circle cx="348.1" cy="740.9" r="3.5" fill="#4c3cbd" opacity="0.85"/>
<circle cx="345.6" cy="697.6" r="3.6" fill="#6c5fca" opacity="0.65"/>
<circle cx="320.0" cy="733.5" r="6.6" fill="#4c3cbd" opacity="0.85"/>
<circle cx="184.7" cy="795.4" r="2.8" fill="#4c3cbd" opacity="0.85"/>
<circle cx="183.9" cy="792.7" r="1.9" fill="#4c3cbd" opacity="0.85"/>
<circle cx="239.2" cy="883.9" r="5.1" fill="#6c5fca" opacity="0.65"/>
<circle cx="238.3" cy="878.9" r="3.6" fill="#6c5fca" opacity="0.65"/>
<circle cx="321.3" cy="798.6" r="4.9" fill="#4c3cbd" opacity="0.85"/>
<circle cx="221.0" cy="885.4" r="3.5" fill="#6c5fca" opacity="0.65"/>
<circle cx="217.8" cy="886.6" r="2.4" fill="#6c5fca" opacity="0.65"/>
<circle cx="317.6" cy="792.4" r="4.1" fill="#6c5fca" opacity="0.65"/>
<circle cx="314.9" cy="795.6" r="2.9" fill="#6c5fca" opacity="0.65"/>
<circle cx="342.6" cy="683.0" r="5.4" fill="#4c3cbd" opacity="0.85"/>
<circle cx="276.5" cy="802.0" r="2.7" fill="#4c3cbd" opacity="0.85"/>
<circle cx="287.0" cy="753.1" r="5.3" fill="#6c5fca" opacity="0.65"/>
<circle cx="191.0" cy="878.9" r="2.9" fill="#6c5fca" opacity="0.65"/>
<circle cx="339.3" cy="694.5" r="5.6" fill="#4c3cbd" opacity="0.85"/>
<circle cx="176.0" cy="855.3" r="6.4" fill="#4c3cbd" opacity="0.85"/>
<circle cx="177.6" cy="849.1" r="4.5" fill="#4c3cbd" opacity="0.85"/>
<circle cx="315.9" cy="680.6" r="5.2" fill="#6c5fca" opacity="0.65"/>
<circle cx="195.5" cy="723.3" r="5.3" fill="#4c3cbd" opacity="0.85"/>
<circle cx="231.1" cy="666.1" r="5.7" fill="#6c5fca" opacity="0.65"/>
<circle cx="234.1" cy="661.3" r="4.0" fill="#6c5fca" opacity="0.65"/>
<circle cx="346.2" cy="822.3" r="2.7" fill="#4c3cbd" opacity="0.85"/>
<circle cx="346.6" cy="825.0" r="1.9" fill="#4c3cbd" opacity="0.85"/>
<circle cx="211.0" cy="663.7" r="5.2" fill="#4c3cbd" opacity="0.85"/>
<circle cx="216.2" cy="664.1" r="3.6" fill="#4c3cbd" opacity="0.85"/>
<circle cx="208.4" cy="871.8" r="3.5" fill="#6c5fca" opacity="0.65"/>
<circle cx="190.1" cy="677.4" r="6.3" fill="#6c5fca" opacity="0.65"/>
<circle cx="276.6" cy="858.9" r="6.0" fill="#4c3cbd" opacity="0.85"/>
<circle cx="162.5" cy="836.1" r="3.9" fill="#6c5fca" opacity="0.65"/>
<circle cx="164.5" cy="832.7" r="2.8" fill="#6c5fca" opacity="0.65"/>
<circle cx="311.9" cy="668.9" r="6.6" fill="#6c5fca" opacity="0.65"/>
<circle cx="305.6" cy="670.9" r="4.6" fill="#6c5fca" opacity="0.65"/>
<circle cx="231.4" cy="845.2" r="4.3" fill="#4c3cbd" opacity="0.85"/>
<circle cx="229.7" cy="849.2" r="3.0" fill="#4c3cbd" opacity="0.85"/>
<circle cx="311.9" cy="655.8" r="4.5" fill="#6c5fca" opacity="0.65"/>
<circle cx="315.0" cy="652.5" r="3.2" fill="#6c5fca" opacity="0.65"/>
<circle cx="356.4" cy="793.1" r="5.0" fill="#6c5fca" opacity="0.65"/>
<circle cx="317.2" cy="772.0" r="4.5" fill="#6c5fca" opacity="0.65"/>
<circle cx="250.3" cy="836.9" r="2.8" fill="#4c3cbd" opacity="0.85"/>
<circle cx="248.4" cy="834.9" r="2.0" fill="#4c3cbd" opacity="0.85"/>
<circle cx="177.0" cy="663.9" r="6.6" fill="#4c3cbd" opacity="0.85"/>
<circle cx="170.5" cy="664.9" r="4.6" fill="#4c3cbd" opacity="0.85"/>
<circle cx="260.2" cy="795.8" r="4.6" fill="#4c3cbd" opacity="0.85"/>
<circle cx="259.5" cy="800.4" r="3.2" fill="#4c3cbd" opacity="0.85"/>
<circle cx="179.2" cy="858.3" r="4.8" fill="#4c3cbd" opacity="0.85"/>
<circle cx="150.8" cy="837.3" r="6.4" fill="#6c5fca" opacity="0.65"/>
<circle cx="232.0" cy="692.0" r="4.5" fill="#4c3cbd" opacity="0.85"/>
<circle cx="166.6" cy="839.4" r="6.3" fill="#4c3cbd" opacity="0.85"/>
<circle cx="134.3" cy="788.8" r="3.5" fill="#4c3cbd" opacity="0.85"/>
<circle cx="171.3" cy="672.9" r="3.5" fill="#4c3cbd" opacity="0.85"/>
<circle cx="350.7" cy="748.0" r="5.9" fill="#6c5fca" opacity="0.65"/>
<circle cx="303.2" cy="688.4" r="2.9" fill="#6c5fca" opacity="0.65"/>
<circle cx="256.4" cy="659.5" r="2.7" fill="#4c3cbd" opacity="0.85"/>
<circle cx="257.3" cy="656.9" r="1.9" fill="#4c3cbd" opacity="0.85"/>
<circle cx="288.3" cy="846.5" r="5.9" fill="#6c5fca" opacity="0.65"/>
<circle cx="282.4" cy="845.8" r="4.1" fill="#6c5fca" opacity="0.65"/>
<circle cx="224.4" cy="643.5" r="5.5" fill="#4c3cbd" opacity="0.85"/>
<circle cx="229.6" cy="641.7" r="3.8" fill="#4c3cbd" opacity="0.85"/>
<circle cx="316.4" cy="806.4" r="4.8" fill="#6c5fca" opacity="0.65"/>
<circle cx="176.1" cy="681.7" r="6.1" fill="#6c5fca" opacity="0.65"/>
<circle cx="171.6" cy="685.8" r="4.3" fill="#6c5fca" opacity="0.65"/>
<circle cx="314.3" cy="660.9" r="3.5" fill="#4c3cbd" opacity="0.85"/>
<circle cx="136.6" cy="746.7" r="3.4" fill="#6c5fca" opacity="0.65"/>
<circle cx="207.3" cy="734.3" r="6.7" fill="#6c5fca" opacity="0.65"/>
<circle cx="209.4" cy="728.0" r="4.7" fill="#6c5fca" opacity="0.65"/>
<circle cx="147.9" cy="723.0" r="5.5" fill="#6c5fca" opacity="0.65"/>
<circle cx="136.6" cy="828.1" r="6.5" fill="#6c5fca" opacity="0.65"/>
<circle cx="141.1" cy="832.8" r="4.5" fill="#6c5fca" opacity="0.65"/>
<circle cx="134.4" cy="812.0" r="6.4" fill="#6c5fca" opacity="0.65"/>
<circle cx="136.7" cy="817.9" r="4.5" fill="#6c5fca" opacity="0.65"/>
<circle cx="152.4" cy="679.0" r="3.1" fill="#4c3cbd" opacity="0.85"/>
<circle cx="153.5" cy="682.0" r="2.2" fill="#4c3cbd" opacity="0.85"/>
<circle cx="260.9" cy="876.9" r="4.0" fill="#6c5fca" opacity="0.65"/>
<circle cx="336.9" cy="834.8" r="3.1" fill="#6c5fca" opacity="0.65"/>
<circle cx="337.9" cy="837.7" r="2.2" fill="#6c5fca" opacity="0.65"/>
<circle cx="145.1" cy="744.0" r="4.2" fill="#6c5fca" opacity="0.65"/>
<circle cx="288.5" cy="832.4" r="5.3" fill="#4c3cbd" opacity="0.85"/>
<circle cx="310.6" cy="673.8" r="6.2" fill="#6c5fca" opacity="0.65"/>
<circle cx="290.5" cy="648.2" r="3.9" fill="#6c5fca" opacity="0.65"/>
<circle cx="269.8" cy="888.1" r="6.3" fill="#6c5fca" opacity="0.65"/>
<circle cx="268.9" cy="881.8" r="4.4" fill="#6c5fca" opacity="0.65"/>
<circle cx="240.5" cy="829.8" r="6.1" fill="#6c5fca" opacity="0.65"/>
<circle cx="314.1" cy="833.7" r="5.5" fill="#6c5fca" opacity="0.65"/>
<circle cx="311.8" cy="828.7" r="3.8" fill="#6c5fca" opacity="0.65"/>
<circle cx="351.7" cy="696.4" r="3.1" fill="#6c5fca" opacity="0.65"/>
<circle cx="129.7" cy="761.2" r="3.4" fill="#6c5fca" opacity="0.65"/>
<circle cx="133.0" cy="762.0" r="2.4" fill="#6c5fca" opacity="0.65"/>
<circle cx="144.0" cy="729.4" r="5.0" fill="#6c5fca" opacity="0.65"/>
<circle cx="145.5" cy="734.2" r="3.5" fill="#6c5fca" opacity="0.65"/>
<circle cx="312.8" cy="656.0" r="6.5" fill="#6c5fca" opacity="0.65"/>
<circle cx="318.9" cy="654.0" r="4.5" fill="#6c5fca" opacity="0.65"/>
<circle cx="129.5" cy="791.1" r="4.0" fill="#6c5fca" opacity="0.65"/>
<circle cx="144.4" cy="810.3" r="2.7" fill="#4c3cbd" opacity="0.85"/>
<circle cx="287.3" cy="856.2" r="5.7" fill="#6c5fca" opacity="0.65"/>
<circle cx="290.2" cy="861.1" r="4.0" fill="#6c5fca" opacity="0.65"/>
<circle cx="204.6" cy="760.1" r="6.4" fill="#4c3cbd" opacity="0.85"/>
<circle cx="316.3" cy="677.2" r="4.3" fill="#6c5fca" opacity="0.65"/>
<circle cx="363.8" cy="750.2" r="3.7" fill="#4c3cbd" opacity="0.85"/>
<circle cx="265.6" cy="644.7" r="4.3" fill="#4c3cbd" opacity="0.85"/>
<circle cx="204.2" cy="651.8" r="5.8" fill="#6c5fca" opacity="0.65"/>
<circle cx="329.9" cy="803.8" r="4.6" fill="#6c5fca" opacity="0.65"/>
<circle cx="327.0" cy="800.3" r="3.2" fill="#6c5fca" opacity="0.65"/>
<circle cx="184.1" cy="703.5" r="6.6" fill="#4c3cbd" opacity="0.85"/>
<circle cx="180.5" cy="698.0" r="4.6" fill="#4c3cbd" opacity="0.85"/>
<circle cx="147.5" cy="717.9" r="4.2" fill="#4c3cbd" opacity="0.85"/>
<circle cx="208.9" cy="650.5" r="6.7" fill="#6c5fca" opacity="0.65"/>
<circle cx="238.4" cy="676.1" r="4.3" fill="#6c5fca" opacity="0.65"/>
<circle cx="235.3" cy="679.1" r="3.0" fill="#6c5fca" opacity="0.65"/>
<circle cx="315.2" cy="813.5" r="6.4" fill="#6c5fca" opacity="0.65"/>
<circle cx="351.1" cy="740.9" r="6.8" fill="#4c3cbd" opacity="0.85"/>
<circle cx="342.6" cy="814.1" r="5.8" fill="#6c5fca" opacity="0.65"/>
<circle cx="300.0" cy="850.5" r="3.3" fill="#6c5fca" opacity="0.65"/>
<circle cx="361.6" cy="808.3" r="4.4" fill="#6c5fca" opacity="0.65"/>
<circle cx="184.7" cy="830.5" r="5.4" fill="#6c5fca" opacity="0.65"/>
<circle cx="183.6" cy="825.3" r="3.7" fill="#6c5fca" opacity="0.65"/>
<circle cx="233.4" cy="800.5" r="3.6" fill="#6c5fca" opacity="0.65"/>
<circle cx="233.5" cy="796.9" r="2.5" fill="#6c5fca" opacity="0.65"/>
<circle cx="149.2" cy="842.1" r="5.7" fill="#6c5fca" opacity="0.65"/>
<circle cx="302.5" cy="742.1" r="6.4" fill="#6c5fca" opacity="0.65"/>
<circle cx="308.8" cy="741.0" r="4.5" fill="#6c5fca" opacity="0.65"/>
<circle cx="248.7" cy="869.6" r="6.5" fill="#4c3cbd" opacity="0.85"/>
<circle cx="255.2" cy="868.7" r="4.6" fill="#4c3cbd" opacity="0.85"/>
<circle cx="289.6" cy="662.0" r="3.1" fill="#4c3cbd" opacity="0.85"/>
<circle cx="290.5" cy="665.0" r="2.2" fill="#4c3cbd" opacity="0.85"/>
<circle cx="345.6" cy="797.5" r="3.1" fill="#6c5fca" opacity="0.65"/>
<circle cx="160.0" cy="787.4" r="5.0" fill="#6c5fca" opacity="0.65"/>
<circle cx="119.5" cy="738.7" r="6.6" fill="#4c3cbd" opacity="0.85"/>
<circle cx="124.5" cy="743.1" r="4.6" fill="#4c3cbd" opacity="0.85"/>
<circle cx="337.6" cy="688.8" r="5.2" fill="#6c5fca" opacity="0.65"/>
<circle cx="335.5" cy="684.0" r="3.7" fill="#6c5fca" opacity="0.65"/>
<circle cx="143.4" cy="719.5" r="5.3" fill="#4c3cbd" opacity="0.85"/>
<circle cx="143.4" cy="724.8" r="3.7" fill="#4c3cbd" opacity="0.85"/>
<circle cx="367.9" cy="747.4" r="6.3" fill="#6c5fca" opacity="0.65"/>
<circle cx="367.0" cy="753.6" r="4.4" fill="#6c5fca" opacity="0.65"/>
<circle cx="144.8" cy="813.8" r="3.0" fill="#6c5fca" opacity="0.65"/>
<circle cx="147.4" cy="815.4" r="2.1" fill="#6c5fca" opacity="0.65"/>
<circle cx="196.2" cy="666.6" r="5.3" fill="#6c5fca" opacity="0.65"/>
<circle cx="197.5" cy="671.7" r="3.7" fill="#6c5fca" opacity="0.65"/>
<circle cx="179.3" cy="860.9" r="6.1" fill="#6c5fca" opacity="0.65"/>
<circle cx="181.5" cy="855.2" r="4.3" fill="#6c5fca" opacity="0.65"/>
<circle cx="160.1" cy="680.1" r="3.5" fill="#6c5fca" opacity="0.65"/>
<circle cx="161.3" cy="676.9" r="2.4" fill="#6c5fca" opacity="0.65"/>
<circle cx="167.5" cy="846.3" r="6.8" fill="#6c5fca" opacity="0.65"/>
<circle cx="241.5" cy="638.7" r="4.4" fill="#6c5fca" opacity="0.65"/>
<circle cx="244.6" cy="635.6" r="3.1" fill="#6c5fca" opacity="0.65"/>
<circle cx="300.7" cy="793.4" r="5.0" fill="#6c5fca" opacity="0.65"/>
<circle cx="208.6" cy="876.4" r="2.9" fill="#6c5fca" opacity="0.65"/>
<circle cx="324.2" cy="808.2" r="5.6" fill="#4c3cbd" opacity="0.85"/>
<circle cx="327.8" cy="812.6" r="4.0" fill="#4c3cbd" opacity="0.85"/>
<circle cx="171.4" cy="854.1" r="4.1" fill="#6c5fca" opacity="0.65"/>
<circle cx="131.6" cy="710.7" r="6.5" fill="#4c3cbd" opacity="0.85"/>
<circle cx="133.8" cy="704.5" r="4.6" fill="#4c3cbd" opacity="0.85"/>
<circle cx="213.2" cy="850.5" r="4.3" fill="#4c3cbd" opacity="0.85"/>
<circle cx="245.5" cy="859.3" r="4.1" fill="#6c5fca" opacity="0.65"/>
<circle cx="242.4" cy="862.0" r="2.9" fill="#6c5fca" opacity="0.65"/>
<circle cx="281.3" cy="865.5" r="5.9" fill="#6c5fca" opacity="0.65"/>
<circle cx="171.8" cy="733.0" r="5.8" fill="#4c3cbd" opacity="0.85"/>
<circle cx="177.5" cy="733.8" r="4.1" fill="#4c3cbd" opacity="0.85"/>
<circle cx="137.4" cy="752.7" r="5.0" fill="#4c3cbd" opacity="0.85"/>
<circle cx="264.4" cy="707.2" r="4.9" fill="#4c3cbd" opacity="0.85"/>
<circle cx="268.7" cy="709.6" r="3.4" fill="#4c3cbd" opacity="0.85"/>
<circle cx="234.4" cy="639.9" r="3.0" fill="#4c3cbd" opacity="0.85"/>
<circle cx="234.4" cy="636.9" r="2.1" fill="#4c3cbd" opacity="0.85"/>
<circle cx="193.3" cy="693.7" r="3.5" fill="#4c3cbd" opacity="0.85"/>
<circle cx="253.6" cy="665.2" r="4.0" fill="#4c3cbd" opacity="0.85"/>
<circle cx="137.3" cy="767.5" r="5.6" fill="#4c3cbd" opacity="0.85"/>
<circle cx="142.2" cy="827.6" r="5.4" fill="#4c3cbd" opacity="0.85"/>
<circle cx="306.5" cy="656.6" r="6.6" fill="#4c3cbd" opacity="0.85"/>
<circle cx="214.7" cy="647.1" r="4.4" fill="#6c5fca" opacity="0.65"/>
<circle cx="214.5" cy="642.7" r="3.1" fill="#6c5fca" opacity="0.65"/>
<circle cx="341.4" cy="757.7" r="3.3" fill="#6c5fca" opacity="0.65"/>
<circle cx="340.6" cy="760.9" r="2.3" fill="#6c5fca" opacity="0.65"/>
<circle cx="301.6" cy="752.2" r="3.9" fill="#6c5fca" opacity="0.65"/>
<circle cx="257.3" cy="685.2" r="2.9" fill="#6c5fca" opacity="0.65"/>
<circle cx="287.2" cy="735.8" r="3.1" fill="#6c5fca" opacity="0.65"/>
<circle cx="287.5" cy="738.9" r="2.1" fill="#6c5fca" opacity="0.65"/>
<circle cx="222.0" cy="655.2" r="3.5" fill="#6c5fca" opacity="0.65"/>
<circle cx="223.6" cy="658.3" r="2.5" fill="#6c5fca" opacity="0.65"/>
<circle cx="248.8" cy="671.1" r="4.9" fill="#4c3cbd" opacity="0.85"/>
<circle cx="248.5" cy="676.0" r="3.4" fill="#4c3cbd" opacity="0.85"/>
<circle cx="339.0" cy="682.4" r="4.0" fill="#6c5fca" opacity="0.65"/>
<circle cx="161.2" cy="772.3" r="2.8" fill="#4c3cbd" opacity="0.85"/>
<circle cx="164.5" cy="833.8" r="4.8" fill="#6c5fca" opacity="0.65"/>
<circle cx="197.6" cy="691.7" r="2.6" fill="#6c5fca" opacity="0.65"/>
<circle cx="198.3" cy="689.2" r="1.9" fill="#6c5fca" opacity="0.65"/>
<circle cx="219.1" cy="655.2" r="3.3" fill="#6c5fca" opacity="0.65"/>
<circle cx="219.0" cy="658.5" r="2.3" fill="#6c5fca" opacity="0.65"/>
<circle cx="316.7" cy="685.5" r="5.3" fill="#4c3cbd" opacity="0.85"/>
<circle cx="311.6" cy="684.4" r="3.7" fill="#4c3cbd" opacity="0.85"/>
<circle cx="313.8" cy="859.4" r="2.6" fill="#4c3cbd" opacity="0.85"/>
<circle cx="272.4" cy="705.9" r="3.7" fill="#4c3cbd" opacity="0.85"/>
<circle cx="268.7" cy="706.4" r="2.6" fill="#4c3cbd" opacity="0.85"/>
<circle cx="187.1" cy="774.1" r="16.0" fill="#7a6ed0" opacity="0.5"/>
<circle cx="187.1" cy="774.1" r="11.7" fill="#3c2ab6" opacity="0.93"/>
<circle cx="179.6" cy="775.6" r="6.7" fill="#3c2ab6" opacity="0.93"/>
<circle cx="194.4" cy="772.0" r="6.7" fill="#3c2ab6" opacity="0.93"/>
<circle cx="180.6" cy="770.1" r="6.7" fill="#3c2ab6" opacity="0.93"/>
<circle cx="340.4" cy="693.9" r="15.1" fill="#7a6ed0" opacity="0.5"/>
<circle cx="340.4" cy="693.9" r="11.0" fill="#3c2ab6" opacity="0.93"/>
<circle cx="344.9" cy="688.3" r="6.3" fill="#3c2ab6" opacity="0.93"/>
<circle cx="338.1" cy="700.7" r="6.3" fill="#3c2ab6" opacity="0.93"/>
<circle cx="342.2" cy="687.0" r="6.3" fill="#3c2ab6" opacity="0.93"/>
<circle cx="342.0" cy="715.5" r="14.2" fill="#7a6ed0" opacity="0.5"/>
<circle cx="342.0" cy="715.5" r="10.4" fill="#3c2ab6" opacity="0.93"/>
<circle cx="336.1" cy="718.9" r="5.9" fill="#3c2ab6" opacity="0.93"/>
<circle cx="347.9" cy="712.1" r="5.9" fill="#3c2ab6" opacity="0.93"/>
<circle cx="347.7" cy="719.2" r="5.9" fill="#3c2ab6" opacity="0.93"/>
<circle cx="280.3" cy="663.1" r="12.4" fill="#7a6ed0" opacity="0.5"/>
<circle cx="280.3" cy="663.1" r="9.1" fill="#4a3abc" opacity="0.88"/>
<circle cx="283.1" cy="657.9" r="5.2" fill="#4a3abc" opacity="0.88"/>
<circle cx="281.9" cy="668.9" r="5.2" fill="#4a3abc" opacity="0.88"/>
<circle cx="274.6" cy="661.5" r="5.2" fill="#4a3abc" opacity="0.88"/>
<circle cx="263.4" cy="687.8" r="10.6" fill="#7a6ed0" opacity="0.5"/>
<circle cx="263.4" cy="687.8" r="7.8" fill="#3c2ab6" opacity="0.93"/>
<circle cx="258.4" cy="687.0" r="4.4" fill="#3c2ab6" opacity="0.93"/>
<circle cx="266.2" cy="692.0" r="4.4" fill="#3c2ab6" opacity="0.93"/>
<circle cx="265.9" cy="683.4" r="4.4" fill="#3c2ab6" opacity="0.93"/>
<circle cx="146.2" cy="718.6" r="16.0" fill="#7a6ed0" opacity="0.5"/>
<circle cx="146.2" cy="718.6" r="11.7" fill="#3c2ab6" opacity="0.93"/>
<circle cx="143.4" cy="725.7" r="6.7" fill="#3c2ab6" opacity="0.93"/>
<circle cx="143.4" cy="725.7" r="6.7" fill="#3c2ab6" opacity="0.93"/>
<circle cx="153.0" cy="722.1" r="6.7" fill="#3c2ab6" opacity="0.93"/>
<circle cx="135.4" cy="734.0" r="8.9" fill="#7a6ed0" opacity="0.5"/>
<circle cx="135.4" cy="734.0" r="6.5" fill="#3c2ab6" opacity="0.93"/>
<circle cx="134.0" cy="738.0" r="3.7" fill="#3c2ab6" opacity="0.93"/>
<circle cx="131.3" cy="734.9" r="3.7" fill="#3c2ab6" opacity="0.93"/>
<circle cx="134.5" cy="729.9" r="3.7" fill="#3c2ab6" opacity="0.93"/>
<circle cx="181.7" cy="721.7" r="10.6" fill="#7a6ed0" opacity="0.5"/>
<circle cx="181.7" cy="721.7" r="7.8" fill="#5646c1" opacity="0.82"/>
<circle cx="178.5" cy="725.6" r="4.4" fill="#5646c1" opacity="0.82"/>
<circle cx="179.7" cy="717.0" r="4.4" fill="#5646c1" opacity="0.82"/>
<circle cx="185.7" cy="724.8" r="4.4" fill="#5646c1" opacity="0.82"/>
<circle cx="157.0" cy="672.4" r="9.7" fill="#7a6ed0" opacity="0.5"/>
<circle cx="157.0" cy="672.4" r="7.1" fill="#3c2ab6" opacity="0.93"/>
<circle cx="153.4" cy="675.2" r="4.1" fill="#3c2ab6" opacity="0.93"/>
<circle cx="152.5" cy="673.5" r="4.1" fill="#3c2ab6" opacity="0.93"/>
<circle cx="161.6" cy="671.4" r="4.1" fill="#3c2ab6" opacity="0.93"/>
<circle cx="177.1" cy="660.0" r="8.0" fill="#7a6ed0" opacity="0.5"/>
<circle cx="177.1" cy="660.0" r="5.8" fill="#3c2ab6" opacity="0.93"/>
<circle cx="178.9" cy="656.7" r="3.3" fill="#3c2ab6" opacity="0.93"/>
<circle cx="174.9" cy="656.9" r="3.3" fill="#3c2ab6" opacity="0.93"/>
<circle cx="180.9" cy="660.3" r="3.3" fill="#3c2ab6" opacity="0.93"/>
<circle cx="120.0" cy="761.8" r="10.6" fill="#7a6ed0" opacity="0.5"/>
<circle cx="120.0" cy="761.8" r="7.8" fill="#3c2ab6" opacity="0.93"/>
<circle cx="116.4" cy="765.3" r="4.4" fill="#3c2ab6" opacity="0.93"/>
<circle cx="118.8" cy="756.8" r="4.4" fill="#3c2ab6" opacity="0.93"/>
<circle cx="120.4" cy="766.8" r="4.4" fill="#3c2ab6" opacity="0.93"/>
<circle cx="147.8" cy="804.9" r="15.1" fill="#7a6ed0" opacity="0.5"/>
<circle cx="147.8" cy="804.9" r="11.0" fill="#3c2ab6" opacity="0.93"/>
<circle cx="141.2" cy="802.1" r="6.3" fill="#3c2ab6" opacity="0.93"/>
<circle cx="140.8" cy="806.8" r="6.3" fill="#3c2ab6" opacity="0.93"/>
<circle cx="155.0" cy="805.4" r="6.3" fill="#3c2ab6" opacity="0.93"/>
<circle cx="312.7" cy="795.7" r="14.2" fill="#7a6ed0" opacity="0.5"/>
<circle cx="312.7" cy="795.7" r="10.4" fill="#3c2ab6" opacity="0.93"/>
<circle cx="319.5" cy="795.3" r="5.9" fill="#3c2ab6" opacity="0.93"/>
<circle cx="314.8" cy="789.2" r="5.9" fill="#3c2ab6" opacity="0.93"/>
<circle cx="314.5" cy="802.2" r="5.9" fill="#3c2ab6" opacity="0.93"/>
<circle cx="362.0" cy="774.1" r="12.4" fill="#7a6ed0" opacity="0.5"/>
<circle cx="362.0" cy="774.1" r="9.1" fill="#3c2ab6" opacity="0.93"/>
<circle cx="357.6" cy="770.1" r="5.2" fill="#3c2ab6" opacity="0.93"/>
<circle cx="360.5" cy="779.8" r="5.2" fill="#3c2ab6" opacity="0.93"/>
<circle cx="357.8" cy="778.3" r="5.2" fill="#3c2ab6" opacity="0.93"/>
<circle cx="323.5" cy="755.6" r="10.6" fill="#7a6ed0" opacity="0.5"/>
<circle cx="323.5" cy="755.6" r="7.8" fill="#6658c7" opacity="0.78"/>
<circle cx="318.6" cy="754.3" r="4.4" fill="#6658c7" opacity="0.78"/>
<circle cx="322.0" cy="760.5" r="4.4" fill="#6658c7" opacity="0.78"/>
<circle cx="320.8" cy="759.9" r="4.4" fill="#6658c7" opacity="0.78"/>
<circle cx="283.4" cy="820.3" r="10.6" fill="#7a6ed0" opacity="0.5"/>
<circle cx="283.4" cy="820.3" r="7.8" fill="#3c2ab6" opacity="0.93"/>
<circle cx="279.5" cy="823.5" r="4.4" fill="#3c2ab6" opacity="0.93"/>
<circle cx="280.9" cy="815.9" r="4.4" fill="#3c2ab6" opacity="0.93"/>
<circle cx="283.2" cy="825.4" r="4.4" fill="#3c2ab6" opacity="0.93"/>
<circle cx="158.6" cy="851.2" r="11.5" fill="#7a6ed0" opacity="0.5"/>
<circle cx="158.6" cy="851.2" r="8.4" fill="#3c2ab6" opacity="0.93"/>
<circle cx="160.3" cy="856.4" r="4.8" fill="#3c2ab6" opacity="0.93"/>
<circle cx="157.9" cy="845.7" r="4.8" fill="#3c2ab6" opacity="0.93"/>
<circle cx="155.9" cy="856.0" r="4.8" fill="#3c2ab6" opacity="0.93"/>
<circle cx="223.3" cy="872.7" r="16.8" fill="#7a6ed0" opacity="0.5"/>
<circle cx="223.3" cy="872.7" r="12.3" fill="#3c2ab6" opacity="0.93"/>
<circle cx="230.9" cy="870.0" r="7.0" fill="#3c2ab6" opacity="0.93"/>
<circle cx="215.9" cy="869.6" r="7.0" fill="#3c2ab6" opacity="0.93"/>
<circle cx="222.0" cy="864.8" r="7.0" fill="#3c2ab6" opacity="0.93"/>
<circle cx="258.8" cy="854.2" r="9.7" fill="#7a6ed0" opacity="0.5"/>
<circle cx="258.8" cy="854.2" r="7.1" fill="#3c2ab6" opacity="0.93"/>
<circle cx="256.5" cy="858.3" r="4.1" fill="#3c2ab6" opacity="0.93"/>
<circle cx="260.9" cy="850.1" r="4.1" fill="#3c2ab6" opacity="0.93"/>
<circle cx="262.7" cy="856.8" r="4.1" fill="#3c2ab6" opacity="0.93"/>
<circle cx="311.2" cy="865.0" r="10.6" fill="#7a6ed0" opacity="0.5"/>
<circle cx="311.2" cy="865.0" r="7.8" fill="#3c2ab6" opacity="0.93"/>
<circle cx="314.4" cy="869.0" r="4.4" fill="#3c2ab6" opacity="0.93"/>
<circle cx="315.4" cy="867.9" r="4.4" fill="#3c2ab6" opacity="0.93"/>
<circle cx="308.9" cy="860.5" r="4.4" fill="#3c2ab6" opacity="0.93"/>
<circle cx="337.4" cy="835.7" r="12.4" fill="#7a6ed0" opacity="0.5"/>
<circle cx="337.4" cy="835.7" r="9.1" fill="#4a3abc" opacity="0.88"/>
<circle cx="335.8" cy="830.0" r="5.2" fill="#4a3abc" opacity="0.88"/>
<circle cx="339.9" cy="841.1" r="5.2" fill="#4a3abc" opacity="0.88"/>
<circle cx="332.5" cy="839.2" r="5.2" fill="#4a3abc" opacity="0.88"/>
<circle cx="209.4" cy="831.1" r="6.2" fill="#7a6ed0" opacity="0.5"/>
<circle cx="209.4" cy="831.1" r="4.5" fill="#3c2ab6" opacity="0.93"/>
<circle cx="211.0" cy="828.6" r="2.6" fill="#3c2ab6" opacity="0.93"/>
<circle cx="207.0" cy="829.5" r="2.6" fill="#3c2ab6" opacity="0.93"/>
<circle cx="211.9" cy="832.7" r="2.6" fill="#3c2ab6" opacity="0.93"/>
<circle cx="214.1" cy="849.6" r="5.3" fill="#7a6ed0" opacity="0.5"/>
<circle cx="214.1" cy="849.6" r="3.9" fill="#3c2ab6" opacity="0.93"/>
<circle cx="214.4" cy="852.1" r="2.2" fill="#3c2ab6" opacity="0.93"/>
<circle cx="215.5" cy="851.7" r="2.2" fill="#3c2ab6" opacity="0.93"/>
<circle cx="215.9" cy="851.4" r="2.2" fill="#3c2ab6" opacity="0.93"/>
<circle cx="248.7" cy="810.3" r="6.2" fill="#7a6ed0" opacity="0.5"/>
<circle cx="248.7" cy="810.3" r="4.5" fill="#3c2ab6" opacity="0.93"/>
<circle cx="246.3" cy="812.0" r="2.6" fill="#3c2ab6" opacity="0.93"/>
<circle cx="251.4" cy="811.6" r="2.6" fill="#3c2ab6" opacity="0.93"/>
<circle cx="251.3" cy="808.9" r="2.6" fill="#3c2ab6" opacity="0.93"/>
<circle cx="278.8" cy="777.2" r="7.1" fill="#7a6ed0" opacity="0.5"/>
<circle cx="278.8" cy="777.2" r="5.2" fill="#3c2ab6" opacity="0.93"/>
<circle cx="275.8" cy="778.7" r="3.0" fill="#3c2ab6" opacity="0.93"/>
<circle cx="275.4" cy="776.9" r="3.0" fill="#3c2ab6" opacity="0.93"/>
<circle cx="276.8" cy="774.5" r="3.0" fill="#3c2ab6" opacity="0.93"/>
<circle cx="292.7" cy="755.6" r="7.1" fill="#7a6ed0" opacity="0.5"/>
<circle cx="292.7" cy="755.6" r="5.2" fill="#6658c7" opacity="0.78"/>
<circle cx="293.0" cy="752.2" r="3.0" fill="#6658c7" opacity="0.78"/>
<circle cx="294.1" cy="752.5" r="3.0" fill="#6658c7" opacity="0.78"/>
<circle cx="290.1" cy="757.8" r="3.0" fill="#6658c7" opacity="0.78"/>
<circle cx="212.5" cy="735.6" r="6.2" fill="#7a6ed0" opacity="0.5"/>
<circle cx="212.5" cy="735.6" r="4.5" fill="#4a3abc" opacity="0.88"/>
<circle cx="211.1" cy="738.1" r="2.6" fill="#4a3abc" opacity="0.88"/>
<circle cx="210.0" cy="737.1" r="2.6" fill="#4a3abc" opacity="0.88"/>
<circle cx="215.5" cy="735.8" r="2.6" fill="#4a3abc" opacity="0.88"/>
<circle cx="231.0" cy="740.2" r="6.2" fill="#7a6ed0" opacity="0.5"/>
<circle cx="231.0" cy="740.2" r="4.5" fill="#6658c7" opacity="0.78"/>
<circle cx="228.6" cy="741.9" r="2.6" fill="#6658c7" opacity="0.78"/>
<circle cx="230.1" cy="737.4" r="2.6" fill="#6658c7" opacity="0.78"/>
<circle cx="234.0" cy="739.9" r="2.6" fill="#6658c7" opacity="0.78"/>
<circle cx="224.8" cy="775.6" r="7.1" fill="#7a6ed0" opacity="0.5"/>
<circle cx="224.8" cy="775.6" r="5.2" fill="#6658c7" opacity="0.78"/>
<circle cx="225.7" cy="772.4" r="3.0" fill="#6658c7" opacity="0.78"/>
<circle cx="223.0" cy="772.8" r="3.0" fill="#6658c7" opacity="0.78"/>
<circle cx="222.2" cy="773.5" r="3.0" fill="#6658c7" opacity="0.78"/>
<circle cx="146.2" cy="829.6" r="8.0" fill="#7a6ed0" opacity="0.5"/>
<circle cx="146.2" cy="829.6" r="5.8" fill="#3c2ab6" opacity="0.93"/>
<circle cx="150.0" cy="830.0" r="3.3" fill="#3c2ab6" opacity="0.93"/>
<circle cx="144.4" cy="832.9" r="3.3" fill="#3c2ab6" opacity="0.93"/>
<circle cx="144.1" cy="832.8" r="3.3" fill="#3c2ab6" opacity="0.93"/>
<circle cx="180.1" cy="835.7" r="9.7" fill="#7a6ed0" opacity="0.5"/>
<circle cx="180.1" cy="835.7" r="7.1" fill="#6658c7" opacity="0.78"/>
<circle cx="177.4" cy="832.0" r="4.1" fill="#6658c7" opacity="0.78"/>
<circle cx="183.8" cy="838.6" r="4.1" fill="#6658c7" opacity="0.78"/>
<circle cx="176.8" cy="839.0" r="4.1" fill="#6658c7" opacity="0.78"/>
<circle cx="235.6" cy="690.9" r="8.9" fill="#7a6ed0" opacity="0.5"/>
<circle cx="235.6" cy="690.9" r="6.5" fill="#6658c7" opacity="0.78"/>
<circle cx="231.4" cy="690.6" r="3.7" fill="#6658c7" opacity="0.78"/>
<circle cx="236.7" cy="686.7" r="3.7" fill="#6658c7" opacity="0.78"/>
<circle cx="237.6" cy="687.1" r="3.7" fill="#6658c7" opacity="0.78"/>
<circle cx="248.0" cy="684.7" r="7.1" fill="#7a6ed0" opacity="0.5"/>
<circle cx="248.0" cy="684.7" r="5.2" fill="#6658c7" opacity="0.78"/>
<circle cx="245.4" cy="682.5" r="3.0" fill="#6658c7" opacity="0.78"/>
<circle cx="249.8" cy="687.5" r="3.0" fill="#6658c7" opacity="0.78"/>
<circle cx="248.3" cy="681.3" r="3.0" fill="#6658c7" opacity="0.78"/>
<circle cx="285.0" cy="697.0" r="8.0" fill="#7a6ed0" opacity="0.5"/>
<circle cx="285.0" cy="697.0" r="5.8" fill="#6658c7" opacity="0.78"/>
<circle cx="288.1" cy="694.8" r="3.3" fill="#6658c7" opacity="0.78"/>
<circle cx="281.3" cy="695.9" r="3.3" fill="#6658c7" opacity="0.78"/>
<circle cx="282.7" cy="700.1" r="3.3" fill="#6658c7" opacity="0.78"/>
<circle cx="315.8" cy="721.7" r="8.9" fill="#7a6ed0" opacity="0.5"/>
<circle cx="315.8" cy="721.7" r="6.5" fill="#6658c7" opacity="0.78"/>
<circle cx="311.5" cy="721.7" r="3.7" fill="#6658c7" opacity="0.78"/>
<circle cx="318.5" cy="725.0" r="3.7" fill="#6658c7" opacity="0.78"/>
<circle cx="314.8" cy="717.6" r="3.7" fill="#6658c7" opacity="0.78"/>
<circle cx="138.5" cy="755.6" r="7.1" fill="#7a6ed0" opacity="0.5"/>
<circle cx="138.5" cy="755.6" r="5.2" fill="#6658c7" opacity="0.78"/>
<circle cx="141.9" cy="755.3" r="3.0" fill="#6658c7" opacity="0.78"/>
<circle cx="135.2" cy="755.3" r="3.0" fill="#6658c7" opacity="0.78"/>
<circle cx="137.8" cy="752.3" r="3.0" fill="#6658c7" opacity="0.78"/>
<circle cx="137.0" cy="772.6" r="5.3" fill="#7a6ed0" opacity="0.5"/>
<circle cx="137.0" cy="772.6" r="3.9" fill="#6658c7" opacity="0.78"/>
<circle cx="138.3" cy="770.4" r="2.2" fill="#6658c7" opacity="0.78"/>
<circle cx="137.8" cy="775.0" r="2.2" fill="#6658c7" opacity="0.78"/>
<circle cx="139.4" cy="771.7" r="2.2" fill="#6658c7" opacity="0.78"/>
<circle cx="365.1" cy="755.6" r="8.9" fill="#7a6ed0" opacity="0.5"/>
<circle cx="365.1" cy="755.6" r="6.5" fill="#6658c7" opacity="0.78"/>
<circle cx="362.2" cy="752.6" r="3.7" fill="#6658c7" opacity="0.78"/>
<circle cx="366.5" cy="759.6" r="3.7" fill="#6658c7" opacity="0.78"/>
<circle cx="368.8" cy="757.7" r="3.7" fill="#6658c7" opacity="0.78"/>
<circle cx="349.7" cy="804.9" r="10.6" fill="#7a6ed0" opacity="0.5"/>
<circle cx="349.7" cy="804.9" r="7.8" fill="#6658c7" opacity="0.78"/>
<circle cx="349.9" cy="810.0" r="4.4" fill="#6658c7" opacity="0.78"/>
<circle cx="345.2" cy="802.6" r="4.4" fill="#6658c7" opacity="0.78"/>
<circle cx="348.0" cy="800.1" r="4.4" fill="#6658c7" opacity="0.78"/>
<circle cx="189.4" cy="878.9" r="8.0" fill="#7a6ed0" opacity="0.5"/>
<circle cx="189.4" cy="878.9" r="5.8" fill="#6658c7" opacity="0.78"/>
<circle cx="187.6" cy="882.3" r="3.3" fill="#6658c7" opacity="0.78"/>
<circle cx="192.8" cy="877.3" r="3.3" fill="#6658c7" opacity="0.78"/>
<circle cx="186.9" cy="881.8" r="3.3" fill="#6658c7" opacity="0.78"/>
<circle cx="281.9" cy="875.8" r="8.9" fill="#7a6ed0" opacity="0.5"/>
<circle cx="281.9" cy="875.8" r="6.5" fill="#6658c7" opacity="0.78"/>
<circle cx="277.8" cy="876.8" r="3.7" fill="#6658c7" opacity="0.78"/>
<circle cx="284.9" cy="878.8" r="3.7" fill="#6658c7" opacity="0.78"/>
<circle cx="286.1" cy="875.1" r="3.7" fill="#6658c7" opacity="0.78"/>
<circle cx="305.0" cy="664.7" r="7.1" fill="#7a6ed0" opacity="0.5"/>
<circle cx="305.0" cy="664.7" r="5.2" fill="#6658c7" opacity="0.78"/>
<circle cx="307.2" cy="667.2" r="3.0" fill="#6658c7" opacity="0.78"/>
<circle cx="307.8" cy="662.7" r="3.0" fill="#6658c7" opacity="0.78"/>
<circle cx="301.7" cy="663.7" r="3.0" fill="#6658c7" opacity="0.78"/>
<circle cx="238.7" cy="647.7" r="8.9" fill="#7a6ed0" opacity="0.5"/>
<circle cx="238.7" cy="647.7" r="6.5" fill="#6658c7" opacity="0.78"/>
<circle cx="234.8" cy="646.1" r="3.7" fill="#6658c7" opacity="0.78"/>
<circle cx="234.8" cy="646.1" r="3.7" fill="#6658c7" opacity="0.78"/>
<circle cx="238.3" cy="651.9" r="3.7" fill="#6658c7" opacity="0.78"/>
<circle cx="207.9" cy="644.6" r="7.1" fill="#7a6ed0" opacity="0.5"/>
<circle cx="207.9" cy="644.6" r="5.2" fill="#6658c7" opacity="0.78"/>
<circle cx="210.7" cy="642.8" r="3.0" fill="#6658c7" opacity="0.78"/>
<circle cx="211.3" cy="644.5" r="3.0" fill="#6658c7" opacity="0.78"/>
<circle cx="209.3" cy="641.5" r="3.0" fill="#6658c7" opacity="0.78"/>
<circle cx="147.8" cy="689.3" r="5.3" fill="#7a6ed0" opacity="0.5"/>
<circle cx="147.8" cy="689.3" r="3.9" fill="#6658c7" opacity="0.78"/>
<circle cx="145.7" cy="687.8" r="2.2" fill="#6658c7" opacity="0.78"/>
<circle cx="149.6" cy="691.1" r="2.2" fill="#6658c7" opacity="0.78"/>
<circle cx="148.9" cy="687.1" r="2.2" fill="#6658c7" opacity="0.78"/>
<circle cx="261.8" cy="744.8" r="5.3" fill="#7a6ed0" opacity="0.5"/>
<circle cx="261.8" cy="744.8" r="3.9" fill="#6658c7" opacity="0.78"/>
<circle cx="261.2" cy="747.3" r="2.2" fill="#6658c7" opacity="0.78"/>
<circle cx="263.9" cy="743.3" r="2.2" fill="#6658c7" opacity="0.78"/>
<circle cx="262.0" cy="747.3" r="2.2" fill="#6658c7" opacity="0.78"/>
<circle cx="195.6" cy="788.0" r="7.1" fill="#7a6ed0" opacity="0.5"/>
<circle cx="195.6" cy="788.0" r="5.2" fill="#3c2ab6" opacity="0.93"/>
<circle cx="192.5" cy="786.5" r="3.0" fill="#3c2ab6" opacity="0.93"/>
<circle cx="197.2" cy="785.0" r="3.0" fill="#3c2ab6" opacity="0.93"/>
<circle cx="196.9" cy="791.1" r="3.0" fill="#3c2ab6" opacity="0.93"/>
<circle cx="362.0" cy="794.1" r="8.9" fill="#7a6ed0" opacity="0.5"/>
<circle cx="362.0" cy="794.1" r="6.5" fill="#4a3abc" opacity="0.88"/>
<circle cx="358.0" cy="792.9" r="3.7" fill="#4a3abc" opacity="0.88"/>
<circle cx="365.8" cy="796.1" r="3.7" fill="#4a3abc" opacity="0.88"/>
<circle cx="366.2" cy="795.0" r="3.7" fill="#4a3abc" opacity="0.88"/>
<circle cx="328.1" cy="851.2" r="8.9" fill="#7a6ed0" opacity="0.5"/>
<circle cx="328.1" cy="851.2" r="6.5" fill="#4a3abc" opacity="0.88"/>
<circle cx="329.9" cy="855.0" r="3.7" fill="#4a3abc" opacity="0.88"/>
<circle cx="332.3" cy="850.8" r="3.7" fill="#4a3abc" opacity="0.88"/>
<circle cx="332.1" cy="849.6" r="3.7" fill="#4a3abc" opacity="0.88"/>
</g></g>
<g filter="url(#b1)"><rect x="336.0" y="887.0" width="33.6" height="3" fill="#fff"/>
<text x="352.8" y="884.1" font-size="13" font-weight="bold" text-anchor="middle" fill="#fff">5 mm</text></g>
</g>
<g clip-path="url(#pc1)">
<rect x="421.6" y="631.6" width="262.3" height="262.3" fill="#c9c5cd" stroke="none" stroke-width="0" />

<circle cx="555.2" cy="765.8" r="136.2" fill="none" stroke="#9f9ccb" stroke-width="3" opacity="0.7" filter="url(#b1)"/>
<circle cx="552.2" cy="762.8" r="131.2" fill="#dad9d2" stroke="#8f8bc6" stroke-width="2.4" filter="url(#b1)"/>
<g clip-path="url(#pw1)">
<rect x="421.6" y="631.6" width="262.3" height="262.3" filter="url(#nz1)"/>
<g filter="url(#bd1)">
<circle cx="440.4" cy="780.8" r="5.4" fill="#6c5fca" opacity="0.65"/>
<circle cx="436.6" cy="784.6" r="3.8" fill="#6c5fca" opacity="0.65"/>
<circle cx="534.2" cy="881.4" r="5.5" fill="#4c3cbd" opacity="0.85"/>
<circle cx="512.9" cy="699.6" r="4.4" fill="#6c5fca" opacity="0.65"/>
<circle cx="664.4" cy="806.2" r="2.9" fill="#4c3cbd" opacity="0.85"/>
<circle cx="662.0" cy="807.9" r="2.0" fill="#4c3cbd" opacity="0.85"/>
<circle cx="575.3" cy="727.6" r="2.9" fill="#4c3cbd" opacity="0.85"/>
<circle cx="658.8" cy="831.3" r="6.6" fill="#6c5fca" opacity="0.65"/>
<circle cx="663.2" cy="836.3" r="4.6" fill="#6c5fca" opacity="0.65"/>
<circle cx="509.5" cy="865.7" r="3.3" fill="#4c3cbd" opacity="0.85"/>
<circle cx="511.1" cy="868.6" r="2.3" fill="#4c3cbd" opacity="0.85"/>
<circle cx="591.8" cy="672.4" r="4.4" fill="#6c5fca" opacity="0.65"/>
<circle cx="588.5" cy="675.3" r="3.1" fill="#6c5fca" opacity="0.65"/>
<circle cx="666.5" cy="784.9" r="6.7" fill="#4c3cbd" opacity="0.85"/>
<circle cx="492.7" cy="838.1" r="5.5" fill="#4c3cbd" opacity="0.85"/>
<circle cx="493.3" cy="843.6" r="3.8" fill="#4c3cbd" opacity="0.85"/>
<circle cx="483.2" cy="842.7" r="6.0" fill="#6c5fca" opacity="0.65"/>
<circle cx="485.9" cy="837.3" r="4.2" fill="#6c5fca" opacity="0.65"/>
<circle cx="456.2" cy="807.8" r="3.5" fill="#6c5fca" opacity="0.65"/>
<circle cx="456.7" cy="804.3" r="2.5" fill="#6c5fca" opacity="0.65"/>
<circle cx="638.3" cy="827.5" r="3.3" fill="#4c3cbd" opacity="0.85"/>
<circle cx="637.8" cy="830.8" r="2.3" fill="#4c3cbd" opacity="0.85"/>
<circle cx="489.6" cy="855.9" r="2.8" fill="#6c5fca" opacity="0.65"/>
<circle cx="489.1" cy="858.7" r="2.0" fill="#6c5fca" opacity="0.65"/>
<circle cx="427.9" cy="781.4" r="4.6" fill="#4c3cbd" opacity="0.85"/>
<circle cx="432.0" cy="779.3" r="3.2" fill="#4c3cbd" opacity="0.85"/>
<circle cx="499.6" cy="823.1" r="5.7" fill="#4c3cbd" opacity="0.85"/>
<circle cx="498.9" cy="828.8" r="4.0" fill="#4c3cbd" opacity="0.85"/>
<circle cx="564.5" cy="669.1" r="3.6" fill="#6c5fca" opacity="0.65"/>
<circle cx="561.8" cy="666.7" r="2.5" fill="#6c5fca" opacity="0.65"/>
<circle cx="678.7" cy="749.8" r="4.7" fill="#6c5fca" opacity="0.65"/>
<circle cx="679.8" cy="745.3" r="3.3" fill="#6c5fca" opacity="0.65"/>
<circle cx="607.6" cy="665.0" r="3.6" fill="#6c5fca" opacity="0.65"/>
<circle cx="605.1" cy="662.4" r="2.5" fill="#6c5fca" opacity="0.65"/>
<circle cx="542.3" cy="887.6" r="6.4" fill="#6c5fca" opacity="0.65"/>
<circle cx="546.7" cy="883.1" r="4.4" fill="#6c5fca" opacity="0.65"/>
<circle cx="530.1" cy="886.0" r="4.8" fill="#4c3cbd" opacity="0.85"/>
<circle cx="572.3" cy="850.2" r="3.7" fill="#4c3cbd" opacity="0.85"/>
<circle cx="635.5" cy="853.3" r="4.4" fill="#6c5fca" opacity="0.65"/>
<circle cx="639.8" cy="852.8" r="3.1" fill="#6c5fca" opacity="0.65"/>
<circle cx="448.4" cy="721.7" r="6.5" fill="#4c3cbd" opacity="0.85"/>
<circle cx="456.8" cy="817.1" r="6.4" fill="#4c3cbd" opacity="0.85"/>
<circle cx="496.8" cy="841.6" r="5.7" fill="#6c5fca" opacity="0.65"/>
<circle cx="495.4" cy="836.1" r="4.0" fill="#6c5fca" opacity="0.65"/>
<circle cx="650.5" cy="694.9" r="6.4" fill="#4c3cbd" opacity="0.85"/>
<circle cx="575.9" cy="668.5" r="3.0" fill="#6c5fca" opacity="0.65"/>
<circle cx="578.6" cy="667.3" r="2.1" fill="#6c5fca" opacity="0.65"/>
<circle cx="512.2" cy="663.2" r="5.2" fill="#6c5fca" opacity="0.65"/>
<circle cx="522.2" cy="669.2" r="3.6" fill="#6c5fca" opacity="0.65"/>
<circle cx="520.8" cy="665.9" r="2.5" fill="#6c5fca" opacity="0.65"/>
<circle cx="593.3" cy="813.5" r="3.9" fill="#4c3cbd" opacity="0.85"/>
<circle cx="484.9" cy="657.6" r="4.1" fill="#6c5fca" opacity="0.65"/>
<circle cx="481.0" cy="659.0" r="2.9" fill="#6c5fca" opacity="0.65"/>
<circle cx="601.0" cy="865.4" r="4.0" fill="#6c5fca" opacity="0.65"/>
<circle cx="604.8" cy="864.0" r="2.8" fill="#6c5fca" opacity="0.65"/>
<circle cx="647.9" cy="767.4" r="3.8" fill="#6c5fca" opacity="0.65"/>
<circle cx="648.6" cy="771.1" r="2.6" fill="#6c5fca" opacity="0.65"/>
<circle cx="643.9" cy="711.5" r="5.5" fill="#6c5fca" opacity="0.65"/>
<circle cx="639.5" cy="708.1" r="3.9" fill="#6c5fca" opacity="0.65"/>
<circle cx="599.9" cy="690.5" r="4.5" fill="#4c3cbd" opacity="0.85"/>
<circle cx="567.3" cy="868.8" r="5.8" fill="#6c5fca" opacity="0.65"/>
<circle cx="486.8" cy="654.8" r="4.9" fill="#4c3cbd" opacity="0.85"/>
<circle cx="486.2" cy="649.9" r="3.4" fill="#4c3cbd" opacity="0.85"/>
<circle cx="506.2" cy="857.0" r="4.1" fill="#6c5fca" opacity="0.65"/>
<circle cx="506.8" cy="861.1" r="2.9" fill="#6c5fca" opacity="0.65"/>
<circle cx="468.8" cy="738.9" r="2.8" fill="#4c3cbd" opacity="0.85"/>
<circle cx="471.4" cy="737.8" r="2.0" fill="#4c3cbd" opacity="0.85"/>
<circle cx="472.6" cy="705.8" r="6.3" fill="#4c3cbd" opacity="0.85"/>
<circle cx="477.0" cy="710.3" r="4.4" fill="#4c3cbd" opacity="0.85"/>
<circle cx="475.5" cy="668.8" r="5.2" fill="#4c3cbd" opacity="0.85"/>
<circle cx="471.6" cy="665.3" r="3.6" fill="#4c3cbd" opacity="0.85"/>
<circle cx="544.0" cy="861.5" r="4.2" fill="#6c5fca" opacity="0.65"/>
<circle cx="545.5" cy="857.6" r="2.9" fill="#6c5fca" opacity="0.65"/>
<circle cx="591.8" cy="834.5" r="3.7" fill="#4c3cbd" opacity="0.85"/>
<circle cx="666.6" cy="802.3" r="6.3" fill="#4c3cbd" opacity="0.85"/>
<circle cx="666.0" cy="796.0" r="4.4" fill="#4c3cbd" opacity="0.85"/>
<circle cx="527.2" cy="831.6" r="6.2" fill="#4c3cbd" opacity="0.85"/>
<circle cx="531.7" cy="827.3" r="4.4" fill="#4c3cbd" opacity="0.85"/>
<circle cx="642.9" cy="776.9" r="2.7" fill="#6c5fca" opacity="0.65"/>
<circle cx="642.3" cy="774.3" r="1.9" fill="#6c5fca" opacity="0.65"/>
<circle cx="529.1" cy="839.5" r="3.4" fill="#6c5fca" opacity="0.65"/>
<circle cx="499.3" cy="720.7" r="5.5" fill="#6c5fca" opacity="0.65"/>
<circle cx="494.0" cy="719.8" r="3.8" fill="#6c5fca" opacity="0.65"/>
<circle cx="482.8" cy="665.3" r="4.7" fill="#4c3cbd" opacity="0.85"/>
<circle cx="479.7" cy="661.8" r="3.3" fill="#4c3cbd" opacity="0.85"/>
<circle cx="476.1" cy="827.0" r="4.8" fill="#4c3cbd" opacity="0.85"/>
<circle cx="480.3" cy="824.8" r="3.3" fill="#4c3cbd" opacity="0.85"/>
<circle cx="430.6" cy="769.2" r="5.5" fill="#4c3cbd" opacity="0.85"/>
<circle cx="463.5" cy="806.7" r="5.2" fill="#4c3cbd" opacity="0.85"/>
<circle cx="592.7" cy="805.5" r="3.1" fill="#6c5fca" opacity="0.65"/>
<circle cx="595.8" cy="805.6" r="2.1" fill="#6c5fca" opacity="0.65"/>
<circle cx="552.4" cy="832.2" r="5.5" fill="#4c3cbd" opacity="0.85"/>
<circle cx="665.9" cy="733.9" r="6.6" fill="#6c5fca" opacity="0.65"/>
<circle cx="671.8" cy="731.0" r="4.6" fill="#6c5fca" opacity="0.65"/>
<circle cx="471.1" cy="775.4" r="5.8" fill="#6c5fca" opacity="0.65"/>
<circle cx="517.7" cy="841.2" r="3.0" fill="#4c3cbd" opacity="0.85"/>
<circle cx="669.9" cy="752.9" r="6.5" fill="#6c5fca" opacity="0.65"/>
<circle cx="675.7" cy="749.9" r="4.6" fill="#6c5fca" opacity="0.65"/>
<circle cx="460.2" cy="695.8" r="2.7" fill="#6c5fca" opacity="0.65"/>
<circle cx="459.9" cy="693.2" r="1.9" fill="#6c5fca" opacity="0.65"/>
<circle cx="606.2" cy="658.1" r="4.0" fill="#6c5fca" opacity="0.65"/>
<circle cx="656.1" cy="755.9" r="3.4" fill="#4c3cbd" opacity="0.85"/>
<circle cx="497.6" cy="827.4" r="4.2" fill="#4c3cbd" opacity="0.85"/>
<circle cx="493.5" cy="826.3" r="3.0" fill="#4c3cbd" opacity="0.85"/>
<circle cx="664.2" cy="728.1" r="3.7" fill="#6c5fca" opacity="0.65"/>
<circle cx="663.9" cy="724.5" r="2.6" fill="#6c5fca" opacity="0.65"/>
<circle cx="499.4" cy="705.2" r="4.9" fill="#6c5fca" opacity="0.65"/>
<circle cx="485.9" cy="826.3" r="4.1" fill="#4c3cbd" opacity="0.85"/>
<circle cx="481.8" cy="826.3" r="2.9" fill="#4c3cbd" opacity="0.85"/>
<circle cx="476.5" cy="782.2" r="4.3" fill="#6c5fca" opacity="0.65"/>
<circle cx="473.7" cy="785.4" r="3.0" fill="#6c5fca" opacity="0.65"/>
<circle cx="478.8" cy="863.9" r="3.8" fill="#6c5fca" opacity="0.65"/>
<circle cx="467.7" cy="826.4" r="5.3" fill="#6c5fca" opacity="0.65"/>
<circle cx="621.9" cy="814.2" r="6.0" fill="#4c3cbd" opacity="0.85"/>
<circle cx="600.1" cy="851.9" r="3.8" fill="#4c3cbd" opacity="0.85"/>
<circle cx="601.3" cy="855.5" r="2.7" fill="#4c3cbd" opacity="0.85"/>
<circle cx="479.6" cy="677.1" r="5.1" fill="#6c5fca" opacity="0.65"/>
<circle cx="431.5" cy="795.0" r="4.2" fill="#6c5fca" opacity="0.65"/>
<circle cx="430.6" cy="790.9" r="3.0" fill="#6c5fca" opacity="0.65"/>
<circle cx="553.0" cy="677.3" r="4.8" fill="#4c3cbd" opacity="0.85"/>
<circle cx="494.1" cy="668.0" r="5.6" fill="#6c5fca" opacity="0.65"/>
<circle cx="499.6" cy="668.8" r="3.9" fill="#6c5fca" opacity="0.65"/>
<circle cx="644.2" cy="687.0" r="4.2" fill="#4c3cbd" opacity="0.85"/>
<circle cx="622.5" cy="861.4" r="4.4" fill="#6c5fca" opacity="0.65"/>
<circle cx="618.7" cy="863.6" r="3.1" fill="#6c5fca" opacity="0.65"/>
<circle cx="604.8" cy="780.5" r="3.1" fill="#6c5fca" opacity="0.65"/>
<circle cx="607.0" cy="782.6" r="2.2" fill="#6c5fca" opacity="0.65"/>
<circle cx="600.1" cy="678.1" r="4.7" fill="#4c3cbd" opacity="0.85"/>
<circle cx="603.5" cy="829.8" r="6.2" fill="#4c3cbd" opacity="0.85"/>
<circle cx="457.5" cy="745.7" r="3.4" fill="#4c3cbd" opacity="0.85"/>
<circle cx="439.2" cy="724.7" r="3.7" fill="#6c5fca" opacity="0.65"/>
<circle cx="638.6" cy="832.9" r="3.4" fill="#4c3cbd" opacity="0.85"/>
<circle cx="489.9" cy="683.3" r="2.7" fill="#6c5fca" opacity="0.65"/>
<circle cx="487.7" cy="684.9" r="1.9" fill="#6c5fca" opacity="0.65"/>
<circle cx="662.0" cy="821.1" r="4.8" fill="#6c5fca" opacity="0.65"/>
<circle cx="637.9" cy="697.4" r="4.9" fill="#4c3cbd" opacity="0.85"/>
<circle cx="641.9" cy="694.6" r="3.4" fill="#4c3cbd" opacity="0.85"/>
<circle cx="670.2" cy="780.9" r="4.8" fill="#4c3cbd" opacity="0.85"/>
<circle cx="570.9" cy="860.1" r="6.0" fill="#4c3cbd" opacity="0.85"/>
<circle cx="571.5" cy="650.2" r="6.3" fill="#4c3cbd" opacity="0.85"/>
<circle cx="570.1" cy="656.3" r="4.4" fill="#4c3cbd" opacity="0.85"/>
<circle cx="614.1" cy="797.8" r="2.8" fill="#4c3cbd" opacity="0.85"/>
<circle cx="611.9" cy="796.1" r="1.9" fill="#4c3cbd" opacity="0.85"/>
<circle cx="636.1" cy="856.8" r="4.8" fill="#6c5fca" opacity="0.65"/>
<circle cx="632.9" cy="665.4" r="3.5" fill="#6c5fca" opacity="0.65"/>
<circle cx="530.2" cy="869.3" r="5.5" fill="#4c3cbd" opacity="0.85"/>
<circle cx="552.7" cy="673.0" r="5.8" fill="#6c5fca" opacity="0.65"/>
<circle cx="558.5" cy="673.7" r="4.0" fill="#6c5fca" opacity="0.65"/>
<circle cx="483.5" cy="696.3" r="3.0" fill="#6c5fca" opacity="0.65"/>
<circle cx="482.1" cy="699.0" r="2.1" fill="#6c5fca" opacity="0.65"/>
<circle cx="454.2" cy="719.4" r="4.8" fill="#4c3cbd" opacity="0.85"/>
<circle cx="515.3" cy="879.5" r="3.9" fill="#4c3cbd" opacity="0.85"/>
<circle cx="513.7" cy="883.1" r="2.7" fill="#4c3cbd" opacity="0.85"/>
<circle cx="655.4" cy="715.7" r="5.6" fill="#6c5fca" opacity="0.65"/>
<circle cx="660.8" cy="714.3" r="3.9" fill="#6c5fca" opacity="0.65"/>
<circle cx="624.0" cy="794.3" r="4.4" fill="#4c3cbd" opacity="0.85"/>
<circle cx="670.9" cy="761.6" r="4.4" fill="#4c3cbd" opacity="0.85"/>
<circle cx="675.1" cy="763.0" r="3.1" fill="#4c3cbd" opacity="0.85"/>
<circle cx="671.1" cy="731.8" r="5.4" fill="#6c5fca" opacity="0.65"/>
<circle cx="672.1" cy="737.0" r="3.8" fill="#6c5fca" opacity="0.65"/>
<circle cx="612.3" cy="789.9" r="4.6" fill="#4c3cbd" opacity="0.85"/>
<circle cx="438.7" cy="752.5" r="4.6" fill="#4c3cbd" opacity="0.85"/>
<circle cx="673.1" cy="751.2" r="5.4" fill="#6c5fca" opacity="0.65"/>
<circle cx="667.7" cy="752.2" r="3.8" fill="#6c5fca" opacity="0.65"/>
<circle cx="480.6" cy="787.2" r="3.4" fill="#6c5fca" opacity="0.65"/>
<circle cx="478.1" cy="784.8" r="2.4" fill="#6c5fca" opacity="0.65"/>
<circle cx="492.5" cy="874.6" r="5.5" fill="#6c5fca" opacity="0.65"/>
<circle cx="488.3" cy="878.0" r="3.8" fill="#6c5fca" opacity="0.65"/>
<circle cx="590.8" cy="882.6" r="6.4" fill="#4c3cbd" opacity="0.85"/>
<circle cx="618.5" cy="847.1" r="3.3" fill="#6c5fca" opacity="0.65"/>
<circle cx="593.0" cy="837.2" r="5.7" fill="#6c5fca" opacity="0.65"/>
<circle cx="587.3" cy="817.4" r="6.5" fill="#4c3cbd" opacity="0.85"/>
<circle cx="482.0" cy="736.8" r="6.7" fill="#6c5fca" opacity="0.65"/>
<circle cx="606.2" cy="833.4" r="4.9" fill="#6c5fca" opacity="0.65"/>
<circle cx="548.0" cy="825.5" r="3.3" fill="#6c5fca" opacity="0.65"/>
<circle cx="634.4" cy="684.0" r="4.4" fill="#6c5fca" opacity="0.65"/>
<circle cx="609.4" cy="820.6" r="4.4" fill="#4c3cbd" opacity="0.85"/>
<circle cx="613.5" cy="822.3" r="3.1" fill="#4c3cbd" opacity="0.85"/>
<circle cx="580.3" cy="744.3" r="5.7" fill="#6c5fca" opacity="0.65"/>
<circle cx="581.8" cy="749.7" r="4.0" fill="#6c5fca" opacity="0.65"/>
<circle cx="436.9" cy="809.3" r="6.1" fill="#6c5fca" opacity="0.65"/>
<circle cx="439.7" cy="814.8" r="4.3" fill="#6c5fca" opacity="0.65"/>
<circle cx="518.7" cy="877.3" r="6.4" fill="#6c5fca" opacity="0.65"/>
<circle cx="524.9" cy="875.7" r="4.5" fill="#6c5fca" opacity="0.65"/>
<circle cx="589.0" cy="814.0" r="3.7" fill="#4c3cbd" opacity="0.85"/>
<circle cx="588.3" cy="810.3" r="2.6" fill="#4c3cbd" opacity="0.85"/>
<circle cx="635.3" cy="839.7" r="3.3" fill="#6c5fca" opacity="0.65"/>
<circle cx="625.3" cy="693.0" r="6.7" fill="#6c5fca" opacity="0.65"/>
<circle cx="661.3" cy="697.3" r="3.0" fill="#6c5fca" opacity="0.65"/>
<circle cx="617.8" cy="705.3" r="5.8" fill="#6c5fca" opacity="0.65"/>
<circle cx="622.8" cy="708.2" r="4.1" fill="#6c5fca" opacity="0.65"/>
<circle cx="636.6" cy="766.6" r="6.5" fill="#4c3cbd" opacity="0.85"/>
<circle cx="637.1" cy="713.5" r="5.5" fill="#4c3cbd" opacity="0.85"/>
<circle cx="655.1" cy="830.4" r="3.3" fill="#6c5fca" opacity="0.65"/>
<circle cx="548.2" cy="642.2" r="3.9" fill="#6c5fca" opacity="0.65"/>
<circle cx="669.4" cy="798.4" r="3.9" fill="#6c5fca" opacity="0.65"/>
<circle cx="668.5" cy="794.6" r="2.7" fill="#6c5fca" opacity="0.65"/>
<circle cx="585.8" cy="827.6" r="2.9" fill="#6c5fca" opacity="0.65"/>
<circle cx="582.7" cy="760.6" r="4.5" fill="#6c5fca" opacity="0.65"/>
<circle cx="580.2" cy="764.4" r="3.2" fill="#6c5fca" opacity="0.65"/>
<circle cx="630.2" cy="825.7" r="3.7" fill="#6c5fca" opacity="0.65"/>
<circle cx="633.6" cy="824.0" r="2.6" fill="#6c5fca" opacity="0.65"/>
<circle cx="527.1" cy="638.6" r="6.0" fill="#4c3cbd" opacity="0.85"/>
<circle cx="531.8" cy="642.5" r="4.2" fill="#4c3cbd" opacity="0.85"/>
<circle cx="666.2" cy="751.4" r="5.6" fill="#6c5fca" opacity="0.65"/>
<circle cx="489.1" cy="748.5" r="3.5" fill="#4c3cbd" opacity="0.85"/>
<circle cx="605.5" cy="796.9" r="5.8" fill="#6c5fca" opacity="0.65"/>
<circle cx="609.2" cy="801.3" r="4.0" fill="#6c5fca" opacity="0.65"/>
<circle cx="597.9" cy="857.0" r="4.4" fill="#6c5fca" opacity="0.65"/>
<circle cx="593.8" cy="858.5" r="3.1" fill="#6c5fca" opacity="0.65"/>
<circle cx="596.7" cy="801.2" r="4.6" fill="#6c5fca" opacity="0.65"/>
<circle cx="565.1" cy="648.0" r="6.6" fill="#6c5fca" opacity="0.65"/>
<circle cx="559.4" cy="651.4" r="4.6" fill="#6c5fca" opacity="0.65"/>
<circle cx="661.8" cy="816.3" r="2.8" fill="#4c3cbd" opacity="0.85"/>
<circle cx="610.2" cy="757.2" r="6.4" fill="#4c3cbd" opacity="0.85"/>
<circle cx="453.4" cy="708.4" r="4.6" fill="#4c3cbd" opacity="0.85"/>
<circle cx="457.6" cy="733.7" r="5.2" fill="#6c5fca" opacity="0.65"/>
<circle cx="565.6" cy="670.2" r="5.6" fill="#6c5fca" opacity="0.65"/>
<circle cx="560.1" cy="669.3" r="3.9" fill="#6c5fca" opacity="0.65"/>
<circle cx="543.4" cy="702.0" r="3.2" fill="#6c5fca" opacity="0.65"/>
<circle cx="604.1" cy="857.8" r="6.3" fill="#6c5fca" opacity="0.65"/>
<circle cx="598.9" cy="854.2" r="4.4" fill="#6c5fca" opacity="0.65"/>
<circle cx="466.4" cy="816.2" r="3.3" fill="#4c3cbd" opacity="0.85"/>
<circle cx="469.8" cy="815.9" r="2.3" fill="#4c3cbd" opacity="0.85"/>
<circle cx="437.9" cy="765.3" r="6.5" fill="#4c3cbd" opacity="0.85"/>
<circle cx="443.7" cy="762.4" r="4.5" fill="#4c3cbd" opacity="0.85"/>
<circle cx="652.0" cy="838.6" r="5.9" fill="#6c5fca" opacity="0.65"/>
<circle cx="458.1" cy="723.4" r="5.2" fill="#6c5fca" opacity="0.65"/>
<circle cx="542.0" cy="734.4" r="5.3" fill="#4c3cbd" opacity="0.85"/>
<circle cx="447.7" cy="738.7" r="3.2" fill="#6c5fca" opacity="0.65"/>
<circle cx="666.5" cy="809.8" r="3.1" fill="#6c5fca" opacity="0.65"/>
<circle cx="652.2" cy="781.7" r="6.0" fill="#6c5fca" opacity="0.65"/>
<circle cx="657.7" cy="783.9" r="4.2" fill="#6c5fca" opacity="0.65"/>
<circle cx="616.6" cy="741.0" r="5.4" fill="#4c3cbd" opacity="0.85"/>
<circle cx="611.5" cy="739.1" r="3.8" fill="#4c3cbd" opacity="0.85"/>
<circle cx="520.1" cy="687.1" r="3.6" fill="#4c3cbd" opacity="0.85"/>
<circle cx="516.4" cy="687.3" r="2.5" fill="#4c3cbd" opacity="0.85"/>
<circle cx="438.3" cy="796.0" r="6.2" fill="#4c3cbd" opacity="0.85"/>
<circle cx="488.9" cy="746.2" r="5.0" fill="#6c5fca" opacity="0.65"/>
<circle cx="501.7" cy="812.6" r="4.2" fill="#4c3cbd" opacity="0.85"/>
<circle cx="499.7" cy="808.9" r="2.9" fill="#4c3cbd" opacity="0.85"/>
<circle cx="630.7" cy="791.9" r="3.7" fill="#6c5fca" opacity="0.65"/>
<circle cx="634.2" cy="790.6" r="2.6" fill="#6c5fca" opacity="0.65"/>
<circle cx="543.3" cy="778.7" r="3.6" fill="#6c5fca" opacity="0.65"/>
<circle cx="577.7" cy="703.5" r="6.7" fill="#4c3cbd" opacity="0.85"/>
<circle cx="497.0" cy="689.6" r="3.2" fill="#6c5fca" opacity="0.65"/>
<circle cx="630.7" cy="698.1" r="5.1" fill="#6c5fca" opacity="0.65"/>
<circle cx="647.6" cy="831.6" r="3.3" fill="#6c5fca" opacity="0.65"/>
<circle cx="616.4" cy="672.0" r="3.3" fill="#4c3cbd" opacity="0.85"/>
<circle cx="613.3" cy="670.7" r="2.3" fill="#4c3cbd" opacity="0.85"/>
<circle cx="591.6" cy="642.6" r="3.0" fill="#6c5fca" opacity="0.65"/>
<circle cx="593.3" cy="640.1" r="2.1" fill="#6c5fca" opacity="0.65"/>
<circle cx="453.0" cy="837.0" r="5.9" fill="#6c5fca" opacity="0.65"/>
<circle cx="522.1" cy="699.4" r="3.8" fill="#6c5fca" opacity="0.65"/>
<circle cx="480.1" cy="818.4" r="5.6" fill="#4c3cbd" opacity="0.85"/>
<circle cx="478.0" cy="813.1" r="3.9" fill="#4c3cbd" opacity="0.85"/>
<circle cx="568.3" cy="880.9" r="5.7" fill="#4c3cbd" opacity="0.85"/>
<circle cx="536.4" cy="721.8" r="11.5" fill="#7a6ed0" opacity="0.5"/>
<circle cx="536.4" cy="721.8" r="8.4" fill="#3c2ab6" opacity="0.93"/>
<circle cx="540.4" cy="725.6" r="4.8" fill="#3c2ab6" opacity="0.93"/>
<circle cx="539.7" cy="717.3" r="4.8" fill="#3c2ab6" opacity="0.93"/>
<circle cx="540.6" cy="725.3" r="4.8" fill="#3c2ab6" opacity="0.93"/>
<circle cx="554.9" cy="741.8" r="15.1" fill="#7a6ed0" opacity="0.5"/>
<circle cx="554.9" cy="741.8" r="11.0" fill="#3c2ab6" opacity="0.93"/>
<circle cx="548.6" cy="738.3" r="6.3" fill="#3c2ab6" opacity="0.93"/>
<circle cx="561.9" cy="740.0" r="6.3" fill="#3c2ab6" opacity="0.93"/>
<circle cx="554.1" cy="748.9" r="6.3" fill="#3c2ab6" opacity="0.93"/>
<circle cx="497.9" cy="735.6" r="12.4" fill="#7a6ed0" opacity="0.5"/>
<circle cx="497.9" cy="735.6" r="9.1" fill="#3c2ab6" opacity="0.93"/>
<circle cx="492.0" cy="736.3" r="5.2" fill="#3c2ab6" opacity="0.93"/>
<circle cx="495.2" cy="730.3" r="5.2" fill="#3c2ab6" opacity="0.93"/>
<circle cx="494.3" cy="730.9" r="5.2" fill="#3c2ab6" opacity="0.93"/>
<circle cx="451.7" cy="715.6" r="16.0" fill="#7a6ed0" opacity="0.5"/>
<circle cx="451.7" cy="715.6" r="11.7" fill="#3c2ab6" opacity="0.93"/>
<circle cx="448.3" cy="722.4" r="6.7" fill="#3c2ab6" opacity="0.93"/>
<circle cx="445.1" cy="719.4" r="6.7" fill="#3c2ab6" opacity="0.93"/>
<circle cx="457.7" cy="711.0" r="6.7" fill="#3c2ab6" opacity="0.93"/>
<circle cx="440.9" cy="706.3" r="8.9" fill="#7a6ed0" opacity="0.5"/>
<circle cx="440.9" cy="706.3" r="6.5" fill="#3c2ab6" opacity="0.93"/>
<circle cx="440.0" cy="702.2" r="3.7" fill="#3c2ab6" opacity="0.93"/>
<circle cx="442.8" cy="710.1" r="3.7" fill="#3c2ab6" opacity="0.93"/>
<circle cx="439.1" cy="702.5" r="3.7" fill="#3c2ab6" opacity="0.93"/>
<circle cx="497.9" cy="667.8" r="10.6" fill="#7a6ed0" opacity="0.5"/>
<circle cx="497.9" cy="667.8" r="7.8" fill="#3c2ab6" opacity="0.93"/>
<circle cx="500.9" cy="663.7" r="4.4" fill="#3c2ab6" opacity="0.93"/>
<circle cx="493.8" cy="664.8" r="4.4" fill="#3c2ab6" opacity="0.93"/>
<circle cx="501.9" cy="664.7" r="4.4" fill="#3c2ab6" opacity="0.93"/>
<circle cx="477.9" cy="664.7" r="7.1" fill="#7a6ed0" opacity="0.5"/>
<circle cx="477.9" cy="664.7" r="5.2" fill="#3c2ab6" opacity="0.93"/>
<circle cx="477.5" cy="668.1" r="3.0" fill="#3c2ab6" opacity="0.93"/>
<circle cx="477.0" cy="668.0" r="3.0" fill="#3c2ab6" opacity="0.93"/>
<circle cx="480.1" cy="662.2" r="3.0" fill="#3c2ab6" opacity="0.93"/>
<circle cx="579.6" cy="664.7" r="17.7" fill="#7a6ed0" opacity="0.5"/>
<circle cx="579.6" cy="664.7" r="12.9" fill="#3c2ab6" opacity="0.93"/>
<circle cx="579.2" cy="673.2" r="7.4" fill="#3c2ab6" opacity="0.93"/>
<circle cx="585.5" cy="670.8" r="7.4" fill="#3c2ab6" opacity="0.93"/>
<circle cx="584.6" cy="671.5" r="7.4" fill="#3c2ab6" opacity="0.93"/>
<circle cx="544.1" cy="655.5" r="10.6" fill="#7a6ed0" opacity="0.5"/>
<circle cx="544.1" cy="655.5" r="7.8" fill="#3c2ab6" opacity="0.93"/>
<circle cx="547.9" cy="652.1" r="4.4" fill="#3c2ab6" opacity="0.93"/>
<circle cx="546.4" cy="650.9" r="4.4" fill="#3c2ab6" opacity="0.93"/>
<circle cx="545.7" cy="660.3" r="4.4" fill="#3c2ab6" opacity="0.93"/>
<circle cx="564.2" cy="644.7" r="12.4" fill="#7a6ed0" opacity="0.5"/>
<circle cx="564.2" cy="644.7" r="9.1" fill="#3c2ab6" opacity="0.93"/>
<circle cx="563.8" cy="638.8" r="5.2" fill="#3c2ab6" opacity="0.93"/>
<circle cx="566.1" cy="650.3" r="5.2" fill="#3c2ab6" opacity="0.93"/>
<circle cx="559.9" cy="640.6" r="5.2" fill="#3c2ab6" opacity="0.93"/>
<circle cx="534.9" cy="643.2" r="8.0" fill="#7a6ed0" opacity="0.5"/>
<circle cx="534.9" cy="643.2" r="5.8" fill="#3c2ab6" opacity="0.93"/>
<circle cx="538.7" cy="643.4" r="3.3" fill="#3c2ab6" opacity="0.93"/>
<circle cx="531.5" cy="641.4" r="3.3" fill="#3c2ab6" opacity="0.93"/>
<circle cx="534.9" cy="639.3" r="3.3" fill="#3c2ab6" opacity="0.93"/>
<circle cx="628.9" cy="670.9" r="14.2" fill="#7a6ed0" opacity="0.5"/>
<circle cx="628.9" cy="670.9" r="10.4" fill="#3c2ab6" opacity="0.93"/>
<circle cx="622.1" cy="670.7" r="5.9" fill="#3c2ab6" opacity="0.93"/>
<circle cx="624.2" cy="666.0" r="5.9" fill="#3c2ab6" opacity="0.93"/>
<circle cx="633.9" cy="675.5" r="5.9" fill="#3c2ab6" opacity="0.93"/>
<circle cx="599.6" cy="666.3" r="8.9" fill="#7a6ed0" opacity="0.5"/>
<circle cx="599.6" cy="666.3" r="6.5" fill="#3c2ab6" opacity="0.93"/>
<circle cx="595.5" cy="667.4" r="3.7" fill="#3c2ab6" opacity="0.93"/>
<circle cx="600.5" cy="662.1" r="3.7" fill="#3c2ab6" opacity="0.93"/>
<circle cx="596.6" cy="669.3" r="3.7" fill="#3c2ab6" opacity="0.93"/>
<circle cx="641.2" cy="712.5" r="12.4" fill="#7a6ed0" opacity="0.5"/>
<circle cx="641.2" cy="712.5" r="9.1" fill="#3c2ab6" opacity="0.93"/>
<circle cx="641.0" cy="706.6" r="5.2" fill="#3c2ab6" opacity="0.93"/>
<circle cx="636.4" cy="709.1" r="5.2" fill="#3c2ab6" opacity="0.93"/>
<circle cx="643.3" cy="707.0" r="5.2" fill="#3c2ab6" opacity="0.93"/>
<circle cx="661.2" cy="711.0" r="10.6" fill="#7a6ed0" opacity="0.5"/>
<circle cx="661.2" cy="711.0" r="7.8" fill="#3c2ab6" opacity="0.93"/>
<circle cx="660.9" cy="705.9" r="4.4" fill="#3c2ab6" opacity="0.93"/>
<circle cx="659.5" cy="715.8" r="4.4" fill="#3c2ab6" opacity="0.93"/>
<circle cx="663.4" cy="706.4" r="4.4" fill="#3c2ab6" opacity="0.93"/>
<circle cx="601.1" cy="738.7" r="8.9" fill="#7a6ed0" opacity="0.5"/>
<circle cx="601.1" cy="738.7" r="6.5" fill="#3c2ab6" opacity="0.93"/>
<circle cx="602.9" cy="734.8" r="3.7" fill="#3c2ab6" opacity="0.93"/>
<circle cx="597.3" cy="740.6" r="3.7" fill="#3c2ab6" opacity="0.93"/>
<circle cx="600.3" cy="734.6" r="3.7" fill="#3c2ab6" opacity="0.93"/>
<circle cx="590.4" cy="766.4" r="12.4" fill="#7a6ed0" opacity="0.5"/>
<circle cx="590.4" cy="766.4" r="9.1" fill="#3c2ab6" opacity="0.93"/>
<circle cx="585.3" cy="769.5" r="5.2" fill="#3c2ab6" opacity="0.93"/>
<circle cx="585.1" cy="763.7" r="5.2" fill="#3c2ab6" opacity="0.93"/>
<circle cx="587.7" cy="771.7" r="5.2" fill="#3c2ab6" opacity="0.93"/>
<circle cx="562.6" cy="774.2" r="12.4" fill="#7a6ed0" opacity="0.5"/>
<circle cx="562.6" cy="774.2" r="9.1" fill="#3c2ab6" opacity="0.93"/>
<circle cx="556.8" cy="775.6" r="5.2" fill="#3c2ab6" opacity="0.93"/>
<circle cx="560.5" cy="779.7" r="5.2" fill="#3c2ab6" opacity="0.93"/>
<circle cx="567.3" cy="770.5" r="5.2" fill="#3c2ab6" opacity="0.93"/>
<circle cx="630.4" cy="758.7" r="12.4" fill="#7a6ed0" opacity="0.5"/>
<circle cx="630.4" cy="758.7" r="9.1" fill="#3c2ab6" opacity="0.93"/>
<circle cx="625.9" cy="754.9" r="5.2" fill="#3c2ab6" opacity="0.93"/>
<circle cx="625.9" cy="754.9" r="5.2" fill="#3c2ab6" opacity="0.93"/>
<circle cx="624.6" cy="757.9" r="5.2" fill="#3c2ab6" opacity="0.93"/>
<circle cx="630.4" cy="794.2" r="16.0" fill="#7a6ed0" opacity="0.5"/>
<circle cx="630.4" cy="794.2" r="11.7" fill="#3c2ab6" opacity="0.93"/>
<circle cx="623.0" cy="795.9" r="6.7" fill="#3c2ab6" opacity="0.93"/>
<circle cx="633.9" cy="801.0" r="6.7" fill="#3c2ab6" opacity="0.93"/>
<circle cx="625.8" cy="788.1" r="6.7" fill="#3c2ab6" opacity="0.93"/>
<circle cx="650.5" cy="749.5" r="10.6" fill="#7a6ed0" opacity="0.5"/>
<circle cx="650.5" cy="749.5" r="7.8" fill="#3c2ab6" opacity="0.93"/>
<circle cx="645.7" cy="751.2" r="4.4" fill="#3c2ab6" opacity="0.93"/>
<circle cx="647.6" cy="753.7" r="4.4" fill="#3c2ab6" opacity="0.93"/>
<circle cx="645.4" cy="749.1" r="4.4" fill="#3c2ab6" opacity="0.93"/>
<circle cx="672.0" cy="758.7" r="14.2" fill="#7a6ed0" opacity="0.5"/>
<circle cx="672.0" cy="758.7" r="10.4" fill="#3c2ab6" opacity="0.93"/>
<circle cx="676.7" cy="763.7" r="5.9" fill="#3c2ab6" opacity="0.93"/>
<circle cx="668.0" cy="753.3" r="5.9" fill="#3c2ab6" opacity="0.93"/>
<circle cx="673.4" cy="752.1" r="5.9" fill="#3c2ab6" opacity="0.93"/>
<circle cx="669.0" cy="786.5" r="12.4" fill="#7a6ed0" opacity="0.5"/>
<circle cx="669.0" cy="786.5" r="9.1" fill="#3c2ab6" opacity="0.93"/>
<circle cx="665.0" cy="790.9" r="5.2" fill="#3c2ab6" opacity="0.93"/>
<circle cx="672.1" cy="791.5" r="5.2" fill="#3c2ab6" opacity="0.93"/>
<circle cx="674.8" cy="785.3" r="5.2" fill="#3c2ab6" opacity="0.93"/>
<circle cx="659.7" cy="814.2" r="14.2" fill="#7a6ed0" opacity="0.5"/>
<circle cx="659.7" cy="814.2" r="10.4" fill="#3c2ab6" opacity="0.93"/>
<circle cx="654.8" cy="809.6" r="5.9" fill="#3c2ab6" opacity="0.93"/>
<circle cx="656.9" cy="820.4" r="5.9" fill="#3c2ab6" opacity="0.93"/>
<circle cx="665.4" cy="817.9" r="5.9" fill="#3c2ab6" opacity="0.93"/>
<circle cx="650.5" cy="835.8" r="12.4" fill="#7a6ed0" opacity="0.5"/>
<circle cx="650.5" cy="835.8" r="9.1" fill="#3c2ab6" opacity="0.93"/>
<circle cx="645.1" cy="833.2" r="5.2" fill="#3c2ab6" opacity="0.93"/>
<circle cx="651.6" cy="841.6" r="5.2" fill="#3c2ab6" opacity="0.93"/>
<circle cx="655.2" cy="832.3" r="5.2" fill="#3c2ab6" opacity="0.93"/>
<circle cx="632.0" cy="843.5" r="10.6" fill="#7a6ed0" opacity="0.5"/>
<circle cx="632.0" cy="843.5" r="7.8" fill="#3c2ab6" opacity="0.93"/>
<circle cx="630.9" cy="838.5" r="4.4" fill="#3c2ab6" opacity="0.93"/>
<circle cx="631.1" cy="848.5" r="4.4" fill="#3c2ab6" opacity="0.93"/>
<circle cx="627.7" cy="846.3" r="4.4" fill="#3c2ab6" opacity="0.93"/>
<circle cx="477.9" cy="784.9" r="12.4" fill="#7a6ed0" opacity="0.5"/>
<circle cx="477.9" cy="784.9" r="9.1" fill="#3c2ab6" opacity="0.93"/>
<circle cx="482.9" cy="788.0" r="5.2" fill="#3c2ab6" opacity="0.93"/>
<circle cx="478.8" cy="790.8" r="5.2" fill="#3c2ab6" opacity="0.93"/>
<circle cx="472.3" cy="782.8" r="5.2" fill="#3c2ab6" opacity="0.93"/>
<circle cx="460.9" cy="794.2" r="12.4" fill="#7a6ed0" opacity="0.5"/>
<circle cx="460.9" cy="794.2" r="9.1" fill="#3c2ab6" opacity="0.93"/>
<circle cx="465.3" cy="790.2" r="5.2" fill="#3c2ab6" opacity="0.93"/>
<circle cx="455.6" cy="796.8" r="5.2" fill="#3c2ab6" opacity="0.93"/>
<circle cx="466.7" cy="792.8" r="5.2" fill="#3c2ab6" opacity="0.93"/>
<circle cx="431.6" cy="791.1" r="11.5" fill="#7a6ed0" opacity="0.5"/>
<circle cx="431.6" cy="791.1" r="8.4" fill="#3c2ab6" opacity="0.93"/>
<circle cx="431.4" cy="796.6" r="4.8" fill="#3c2ab6" opacity="0.93"/>
<circle cx="436.0" cy="794.4" r="4.8" fill="#3c2ab6" opacity="0.93"/>
<circle cx="434.6" cy="786.4" r="4.8" fill="#3c2ab6" opacity="0.93"/>
<circle cx="427.0" cy="764.9" r="8.9" fill="#7a6ed0" opacity="0.5"/>
<circle cx="427.0" cy="764.9" r="6.5" fill="#3c2ab6" opacity="0.93"/>
<circle cx="423.9" cy="767.9" r="3.7" fill="#3c2ab6" opacity="0.93"/>
<circle cx="426.2" cy="769.1" r="3.7" fill="#3c2ab6" opacity="0.93"/>
<circle cx="423.0" cy="766.4" r="3.7" fill="#3c2ab6" opacity="0.93"/>
<circle cx="480.9" cy="809.6" r="9.7" fill="#7a6ed0" opacity="0.5"/>
<circle cx="480.9" cy="809.6" r="7.1" fill="#3c2ab6" opacity="0.93"/>
<circle cx="477.4" cy="806.6" r="4.1" fill="#3c2ab6" opacity="0.93"/>
<circle cx="481.8" cy="814.2" r="4.1" fill="#3c2ab6" opacity="0.93"/>
<circle cx="484.6" cy="812.5" r="4.1" fill="#3c2ab6" opacity="0.93"/>
<circle cx="482.5" cy="840.4" r="12.4" fill="#7a6ed0" opacity="0.5"/>
<circle cx="482.5" cy="840.4" r="9.1" fill="#3c2ab6" opacity="0.93"/>
<circle cx="477.6" cy="837.0" r="5.2" fill="#3c2ab6" opacity="0.93"/>
<circle cx="479.2" cy="835.5" r="5.2" fill="#3c2ab6" opacity="0.93"/>
<circle cx="477.0" cy="838.2" r="5.2" fill="#3c2ab6" opacity="0.93"/>
<circle cx="457.8" cy="843.5" r="9.7" fill="#7a6ed0" opacity="0.5"/>
<circle cx="457.8" cy="843.5" r="7.1" fill="#3c2ab6" opacity="0.93"/>
<circle cx="460.3" cy="847.4" r="4.1" fill="#3c2ab6" opacity="0.93"/>
<circle cx="460.8" cy="839.9" r="4.1" fill="#3c2ab6" opacity="0.93"/>
<circle cx="453.6" cy="845.5" r="4.1" fill="#3c2ab6" opacity="0.93"/>
<circle cx="496.3" cy="863.5" r="12.4" fill="#7a6ed0" opacity="0.5"/>
<circle cx="496.3" cy="863.5" r="9.1" fill="#3c2ab6" opacity="0.93"/>
<circle cx="490.6" cy="862.0" r="5.2" fill="#3c2ab6" opacity="0.93"/>
<circle cx="500.8" cy="859.6" r="5.2" fill="#3c2ab6" opacity="0.93"/>
<circle cx="500.3" cy="868.0" r="5.2" fill="#3c2ab6" opacity="0.93"/>
<circle cx="476.3" cy="865.1" r="7.1" fill="#7a6ed0" opacity="0.5"/>
<circle cx="476.3" cy="865.1" r="5.2" fill="#3c2ab6" opacity="0.93"/>
<circle cx="472.9" cy="865.2" r="3.0" fill="#3c2ab6" opacity="0.93"/>
<circle cx="473.3" cy="866.6" r="3.0" fill="#3c2ab6" opacity="0.93"/>
<circle cx="474.1" cy="862.5" r="3.0" fill="#3c2ab6" opacity="0.93"/>
<circle cx="538.0" cy="874.3" r="12.4" fill="#7a6ed0" opacity="0.5"/>
<circle cx="538.0" cy="874.3" r="9.1" fill="#3c2ab6" opacity="0.93"/>
<circle cx="538.9" cy="880.2" r="5.2" fill="#3c2ab6" opacity="0.93"/>
<circle cx="538.3" cy="880.3" r="5.2" fill="#3c2ab6" opacity="0.93"/>
<circle cx="538.8" cy="880.2" r="5.2" fill="#3c2ab6" opacity="0.93"/>
<circle cx="527.2" cy="852.8" r="8.9" fill="#7a6ed0" opacity="0.5"/>
<circle cx="527.2" cy="852.8" r="6.5" fill="#6658c7" opacity="0.78"/>
<circle cx="523.2" cy="851.2" r="3.7" fill="#6658c7" opacity="0.78"/>
<circle cx="525.8" cy="856.8" r="3.7" fill="#6658c7" opacity="0.78"/>
<circle cx="531.0" cy="850.9" r="3.7" fill="#6658c7" opacity="0.78"/>
<circle cx="571.9" cy="829.6" r="7.1" fill="#7a6ed0" opacity="0.5"/>
<circle cx="571.9" cy="829.6" r="5.2" fill="#3c2ab6" opacity="0.93"/>
<circle cx="574.2" cy="827.2" r="3.0" fill="#3c2ab6" opacity="0.93"/>
<circle cx="571.4" cy="826.3" r="3.0" fill="#3c2ab6" opacity="0.93"/>
<circle cx="569.0" cy="831.5" r="3.0" fill="#3c2ab6" opacity="0.93"/>
<circle cx="556.4" cy="815.8" r="7.1" fill="#7a6ed0" opacity="0.5"/>
<circle cx="556.4" cy="815.8" r="5.2" fill="#6658c7" opacity="0.78"/>
<circle cx="558.0" cy="812.7" r="3.0" fill="#6658c7" opacity="0.78"/>
<circle cx="553.4" cy="814.2" r="3.0" fill="#6658c7" opacity="0.78"/>
<circle cx="557.1" cy="812.4" r="3.0" fill="#6658c7" opacity="0.78"/>
<circle cx="605.8" cy="869.7" r="8.9" fill="#7a6ed0" opacity="0.5"/>
<circle cx="605.8" cy="869.7" r="6.5" fill="#3c2ab6" opacity="0.93"/>
<circle cx="609.8" cy="868.5" r="3.7" fill="#3c2ab6" opacity="0.93"/>
<circle cx="608.8" cy="872.6" r="3.7" fill="#3c2ab6" opacity="0.93"/>
<circle cx="606.1" cy="865.5" r="3.7" fill="#3c2ab6" opacity="0.93"/>
<circle cx="573.4" cy="875.9" r="5.3" fill="#7a6ed0" opacity="0.5"/>
<circle cx="573.4" cy="875.9" r="3.9" fill="#3c2ab6" opacity="0.93"/>
<circle cx="575.5" cy="874.4" r="2.2" fill="#3c2ab6" opacity="0.93"/>
<circle cx="571.3" cy="877.3" r="2.2" fill="#3c2ab6" opacity="0.93"/>
<circle cx="572.0" cy="878.0" r="2.2" fill="#3c2ab6" opacity="0.93"/>
<circle cx="517.9" cy="754.1" r="8.0" fill="#7a6ed0" opacity="0.5"/>
<circle cx="517.9" cy="754.1" r="5.8" fill="#6658c7" opacity="0.78"/>
<circle cx="521.7" cy="754.9" r="3.3" fill="#6658c7" opacity="0.78"/>
<circle cx="520.9" cy="751.8" r="3.3" fill="#6658c7" opacity="0.78"/>
<circle cx="518.9" cy="757.8" r="3.3" fill="#6658c7" opacity="0.78"/>
<circle cx="533.3" cy="754.1" r="7.1" fill="#7a6ed0" opacity="0.5"/>
<circle cx="533.3" cy="754.1" r="5.2" fill="#6658c7" opacity="0.78"/>
<circle cx="536.7" cy="754.3" r="3.0" fill="#6658c7" opacity="0.78"/>
<circle cx="536.2" cy="755.9" r="3.0" fill="#6658c7" opacity="0.78"/>
<circle cx="530.0" cy="753.8" r="3.0" fill="#6658c7" opacity="0.78"/>
<circle cx="516.4" cy="692.5" r="7.1" fill="#7a6ed0" opacity="0.5"/>
<circle cx="516.4" cy="692.5" r="5.2" fill="#4a3abc" opacity="0.88"/>
<circle cx="515.0" cy="689.4" r="3.0" fill="#4a3abc" opacity="0.88"/>
<circle cx="519.2" cy="690.6" r="3.0" fill="#4a3abc" opacity="0.88"/>
<circle cx="514.6" cy="689.6" r="3.0" fill="#4a3abc" opacity="0.88"/>
<circle cx="508.7" cy="690.9" r="5.3" fill="#7a6ed0" opacity="0.5"/>
<circle cx="508.7" cy="690.9" r="3.9" fill="#4a3abc" opacity="0.88"/>
<circle cx="510.7" cy="692.4" r="2.2" fill="#4a3abc" opacity="0.88"/>
<circle cx="511.0" cy="689.9" r="2.2" fill="#4a3abc" opacity="0.88"/>
<circle cx="510.4" cy="689.1" r="2.2" fill="#4a3abc" opacity="0.88"/>
<circle cx="522.5" cy="791.1" r="7.1" fill="#7a6ed0" opacity="0.5"/>
<circle cx="522.5" cy="791.1" r="5.2" fill="#6658c7" opacity="0.78"/>
<circle cx="523.7" cy="787.9" r="3.0" fill="#6658c7" opacity="0.78"/>
<circle cx="525.3" cy="789.1" r="3.0" fill="#6658c7" opacity="0.78"/>
<circle cx="524.3" cy="788.2" r="3.0" fill="#6658c7" opacity="0.78"/>
<circle cx="536.4" cy="797.3" r="4.4" fill="#7a6ed0" opacity="0.5"/>
<circle cx="536.4" cy="797.3" r="3.2" fill="#3c2ab6" opacity="0.93"/>
<circle cx="535.6" cy="795.3" r="1.8" fill="#3c2ab6" opacity="0.93"/>
<circle cx="536.6" cy="795.2" r="1.8" fill="#3c2ab6" opacity="0.93"/>
<circle cx="538.5" cy="797.6" r="1.8" fill="#3c2ab6" opacity="0.93"/>
<circle cx="439.3" cy="820.4" r="8.9" fill="#7a6ed0" opacity="0.5"/>
<circle cx="439.3" cy="820.4" r="6.5" fill="#3c2ab6" opacity="0.93"/>
<circle cx="443.6" cy="820.1" r="3.7" fill="#3c2ab6" opacity="0.93"/>
<circle cx="443.6" cy="820.5" r="3.7" fill="#3c2ab6" opacity="0.93"/>
<circle cx="435.5" cy="822.3" r="3.7" fill="#3c2ab6" opacity="0.93"/>
<circle cx="474.8" cy="700.2" r="12.4" fill="#7a6ed0" opacity="0.5"/>
<circle cx="474.8" cy="700.2" r="9.1" fill="#6658c7" opacity="0.78"/>
<circle cx="469.4" cy="697.7" r="5.2" fill="#6658c7" opacity="0.78"/>
<circle cx="468.8" cy="699.8" r="5.2" fill="#6658c7" opacity="0.78"/>
<circle cx="471.6" cy="705.2" r="5.2" fill="#6658c7" opacity="0.78"/>
<circle cx="616.6" cy="706.3" r="5.3" fill="#7a6ed0" opacity="0.5"/>
<circle cx="616.6" cy="706.3" r="3.9" fill="#6658c7" opacity="0.78"/>
<circle cx="614.0" cy="706.2" r="2.2" fill="#6658c7" opacity="0.78"/>
<circle cx="615.5" cy="708.7" r="2.2" fill="#6658c7" opacity="0.78"/>
<circle cx="615.2" cy="704.2" r="2.2" fill="#6658c7" opacity="0.78"/>
<circle cx="595.0" cy="717.1" r="5.3" fill="#7a6ed0" opacity="0.5"/>
<circle cx="595.0" cy="717.1" r="3.9" fill="#6658c7" opacity="0.78"/>
<circle cx="597.5" cy="717.6" r="2.2" fill="#6658c7" opacity="0.78"/>
<circle cx="593.6" cy="719.2" r="2.2" fill="#6658c7" opacity="0.78"/>
<circle cx="593.5" cy="715.1" r="2.2" fill="#6658c7" opacity="0.78"/>
<circle cx="517.9" cy="704.8" r="5.3" fill="#7a6ed0" opacity="0.5"/>
<circle cx="517.9" cy="704.8" r="3.9" fill="#6658c7" opacity="0.78"/>
<circle cx="515.5" cy="705.5" r="2.2" fill="#6658c7" opacity="0.78"/>
<circle cx="520.4" cy="705.1" r="2.2" fill="#6658c7" opacity="0.78"/>
<circle cx="515.5" cy="705.4" r="2.2" fill="#6658c7" opacity="0.78"/>
<circle cx="621.2" cy="811.1" r="7.1" fill="#7a6ed0" opacity="0.5"/>
<circle cx="621.2" cy="811.1" r="5.2" fill="#6658c7" opacity="0.78"/>
<circle cx="624.2" cy="809.7" r="3.0" fill="#6658c7" opacity="0.78"/>
<circle cx="617.8" cy="810.7" r="3.0" fill="#6658c7" opacity="0.78"/>
<circle cx="620.8" cy="807.8" r="3.0" fill="#6658c7" opacity="0.78"/>
<circle cx="587.3" cy="817.3" r="7.1" fill="#7a6ed0" opacity="0.5"/>
<circle cx="587.3" cy="817.3" r="5.2" fill="#6658c7" opacity="0.78"/>
<circle cx="584.8" cy="819.6" r="3.0" fill="#6658c7" opacity="0.78"/>
<circle cx="590.6" cy="816.9" r="3.0" fill="#6658c7" opacity="0.78"/>
<circle cx="583.9" cy="816.8" r="3.0" fill="#6658c7" opacity="0.78"/>
<circle cx="610.4" cy="774.2" r="5.3" fill="#7a6ed0" opacity="0.5"/>
<circle cx="610.4" cy="774.2" r="3.9" fill="#6658c7" opacity="0.78"/>
<circle cx="611.3" cy="771.8" r="2.2" fill="#6658c7" opacity="0.78"/>
<circle cx="608.6" cy="772.3" r="2.2" fill="#6658c7" opacity="0.78"/>
<circle cx="611.4" cy="771.8" r="2.2" fill="#6658c7" opacity="0.78"/>
</g></g>
<g filter="url(#b1)"><rect x="644.0" y="885.5" width="33.6" height="3" fill="#fff"/>
<text x="660.8" y="882.6" font-size="13" font-weight="bold" text-anchor="middle" fill="#fff">5 mm</text></g>
</g>
<g clip-path="url(#pc2)">
<rect x="728.8" y="631.6" width="262.8" height="262.8" fill="#c9c5cd" stroke="none" stroke-width="0" />

<circle cx="863.2" cy="763.4" r="136.4" fill="none" stroke="#9f9ccb" stroke-width="3" opacity="0.7" filter="url(#b1)"/>
<circle cx="860.2" cy="760.4" r="131.4" fill="#dad9d2" stroke="#8f8bc6" stroke-width="2.4" filter="url(#b1)"/>
<g clip-path="url(#pw2)">
<rect x="728.8" y="631.6" width="262.8" height="262.8" filter="url(#nz2)"/>
<g filter="url(#bd2)">
<circle cx="853.7" cy="874.9" r="5.5" fill="#4c3cbd" opacity="0.85"/>
<circle cx="854.4" cy="880.4" r="3.8" fill="#4c3cbd" opacity="0.85"/>
<circle cx="910.9" cy="827.6" r="5.7" fill="#6c5fca" opacity="0.65"/>
<circle cx="880.6" cy="848.8" r="4.4" fill="#4c3cbd" opacity="0.85"/>
<circle cx="949.0" cy="768.4" r="3.2" fill="#4c3cbd" opacity="0.85"/>
<circle cx="901.9" cy="646.9" r="5.7" fill="#4c3cbd" opacity="0.85"/>
<circle cx="855.1" cy="882.1" r="4.6" fill="#4c3cbd" opacity="0.85"/>
<circle cx="773.2" cy="801.6" r="4.4" fill="#6c5fca" opacity="0.65"/>
<circle cx="775.1" cy="797.6" r="3.1" fill="#6c5fca" opacity="0.65"/>
<circle cx="898.1" cy="639.2" r="5.5" fill="#6c5fca" opacity="0.65"/>
<circle cx="935.9" cy="846.1" r="4.5" fill="#6c5fca" opacity="0.65"/>
<circle cx="931.5" cy="845.5" r="3.1" fill="#6c5fca" opacity="0.65"/>
<circle cx="858.1" cy="863.0" r="5.1" fill="#6c5fca" opacity="0.65"/>
<circle cx="852.9" cy="863.3" r="3.6" fill="#6c5fca" opacity="0.65"/>
<circle cx="868.0" cy="845.3" r="3.4" fill="#6c5fca" opacity="0.65"/>
<circle cx="866.0" cy="842.5" r="2.4" fill="#6c5fca" opacity="0.65"/>
<circle cx="954.2" cy="732.2" r="5.6" fill="#4c3cbd" opacity="0.85"/>
<circle cx="957.7" cy="736.6" r="3.9" fill="#4c3cbd" opacity="0.85"/>
<circle cx="902.1" cy="646.5" r="5.3" fill="#6c5fca" opacity="0.65"/>
<circle cx="905.7" cy="642.6" r="3.7" fill="#6c5fca" opacity="0.65"/>
<circle cx="950.8" cy="681.7" r="3.5" fill="#4c3cbd" opacity="0.85"/>
<circle cx="950.0" cy="678.4" r="2.4" fill="#4c3cbd" opacity="0.85"/>
<circle cx="942.6" cy="856.3" r="5.1" fill="#4c3cbd" opacity="0.85"/>
<circle cx="938.8" cy="852.8" r="3.6" fill="#4c3cbd" opacity="0.85"/>
<circle cx="764.0" cy="706.8" r="4.1" fill="#4c3cbd" opacity="0.85"/>
<circle cx="762.8" cy="710.7" r="2.9" fill="#4c3cbd" opacity="0.85"/>
<circle cx="918.9" cy="858.9" r="3.1" fill="#6c5fca" opacity="0.65"/>
<circle cx="917.0" cy="856.5" r="2.2" fill="#6c5fca" opacity="0.65"/>
<circle cx="759.2" cy="723.2" r="2.8" fill="#6c5fca" opacity="0.65"/>
<circle cx="761.5" cy="724.7" r="1.9" fill="#6c5fca" opacity="0.65"/>
<circle cx="987.6" cy="762.8" r="3.1" fill="#6c5fca" opacity="0.65"/>
<circle cx="985.0" cy="761.0" r="2.2" fill="#6c5fca" opacity="0.65"/>
<circle cx="951.5" cy="808.7" r="4.1" fill="#4c3cbd" opacity="0.85"/>
<circle cx="949.4" cy="812.3" r="2.9" fill="#4c3cbd" opacity="0.85"/>
<circle cx="733.9" cy="763.1" r="4.8" fill="#6c5fca" opacity="0.65"/>
<circle cx="846.1" cy="807.2" r="4.7" fill="#4c3cbd" opacity="0.85"/>
<circle cx="854.2" cy="874.9" r="6.2" fill="#6c5fca" opacity="0.65"/>
<circle cx="807.1" cy="828.3" r="3.8" fill="#6c5fca" opacity="0.65"/>
<circle cx="810.8" cy="829.2" r="2.7" fill="#6c5fca" opacity="0.65"/>
<circle cx="808.5" cy="799.1" r="5.8" fill="#6c5fca" opacity="0.65"/>
<circle cx="809.3" cy="793.4" r="4.0" fill="#6c5fca" opacity="0.65"/>
<circle cx="898.2" cy="857.2" r="4.9" fill="#6c5fca" opacity="0.65"/>
<circle cx="893.7" cy="859.1" r="3.5" fill="#6c5fca" opacity="0.65"/>
<circle cx="940.0" cy="853.2" r="3.1" fill="#4c3cbd" opacity="0.85"/>
<circle cx="939.0" cy="856.1" r="2.1" fill="#4c3cbd" opacity="0.85"/>
<circle cx="822.3" cy="792.4" r="3.1" fill="#6c5fca" opacity="0.65"/>
<circle cx="824.6" cy="790.2" r="2.2" fill="#6c5fca" opacity="0.65"/>
<circle cx="913.5" cy="757.0" r="4.8" fill="#6c5fca" opacity="0.65"/>
<circle cx="805.7" cy="871.2" r="4.9" fill="#6c5fca" opacity="0.65"/>
<circle cx="805.8" cy="876.1" r="3.4" fill="#6c5fca" opacity="0.65"/>
<circle cx="911.0" cy="704.9" r="4.6" fill="#6c5fca" opacity="0.65"/>
<circle cx="912.5" cy="700.5" r="3.2" fill="#6c5fca" opacity="0.65"/>
<circle cx="886.4" cy="873.6" r="5.4" fill="#4c3cbd" opacity="0.85"/>
<circle cx="949.3" cy="711.7" r="5.0" fill="#4c3cbd" opacity="0.85"/>
<circle cx="916.2" cy="718.4" r="3.2" fill="#6c5fca" opacity="0.65"/>
<circle cx="771.0" cy="741.3" r="6.6" fill="#6c5fca" opacity="0.65"/>
<circle cx="777.3" cy="743.4" r="4.6" fill="#6c5fca" opacity="0.65"/>
<circle cx="974.7" cy="782.5" r="3.1" fill="#4c3cbd" opacity="0.85"/>
<circle cx="980.4" cy="760.1" r="4.4" fill="#4c3cbd" opacity="0.85"/>
<circle cx="841.0" cy="672.0" r="5.8" fill="#6c5fca" opacity="0.65"/>
<circle cx="846.8" cy="671.9" r="4.1" fill="#6c5fca" opacity="0.65"/>
<circle cx="773.2" cy="776.3" r="5.9" fill="#6c5fca" opacity="0.65"/>
<circle cx="779.0" cy="777.3" r="4.1" fill="#6c5fca" opacity="0.65"/>
<circle cx="854.9" cy="854.0" r="6.5" fill="#6c5fca" opacity="0.65"/>
<circle cx="920.7" cy="680.9" r="6.8" fill="#4c3cbd" opacity="0.85"/>
<circle cx="920.2" cy="687.6" r="4.7" fill="#4c3cbd" opacity="0.85"/>
<circle cx="740.0" cy="790.4" r="4.9" fill="#6c5fca" opacity="0.65"/>
<circle cx="735.2" cy="791.1" r="3.4" fill="#6c5fca" opacity="0.65"/>
<circle cx="899.9" cy="862.1" r="2.7" fill="#4c3cbd" opacity="0.85"/>
<circle cx="902.1" cy="863.7" r="1.9" fill="#4c3cbd" opacity="0.85"/>
<circle cx="782.3" cy="711.7" r="6.3" fill="#6c5fca" opacity="0.65"/>
<circle cx="902.3" cy="688.7" r="5.7" fill="#4c3cbd" opacity="0.85"/>
<circle cx="907.8" cy="687.3" r="4.0" fill="#4c3cbd" opacity="0.85"/>
<circle cx="981.3" cy="777.2" r="3.2" fill="#4c3cbd" opacity="0.85"/>
<circle cx="984.4" cy="778.3" r="2.2" fill="#4c3cbd" opacity="0.85"/>
<circle cx="735.4" cy="759.8" r="3.7" fill="#6c5fca" opacity="0.65"/>
<circle cx="864.5" cy="867.2" r="2.6" fill="#6c5fca" opacity="0.65"/>
<circle cx="815.4" cy="831.1" r="2.8" fill="#4c3cbd" opacity="0.85"/>
<circle cx="817.8" cy="829.7" r="2.0" fill="#4c3cbd" opacity="0.85"/>
<circle cx="856.2" cy="693.2" r="6.4" fill="#4c3cbd" opacity="0.85"/>
<circle cx="916.2" cy="660.4" r="5.6" fill="#4c3cbd" opacity="0.85"/>
<circle cx="856.9" cy="833.2" r="5.7" fill="#6c5fca" opacity="0.65"/>
<circle cx="853.4" cy="828.8" r="4.0" fill="#6c5fca" opacity="0.65"/>
<circle cx="778.7" cy="692.9" r="5.9" fill="#4c3cbd" opacity="0.85"/>
<circle cx="781.0" cy="687.5" r="4.1" fill="#4c3cbd" opacity="0.85"/>
<circle cx="751.1" cy="760.9" r="4.3" fill="#4c3cbd" opacity="0.85"/>
<circle cx="755.2" cy="759.6" r="3.0" fill="#4c3cbd" opacity="0.85"/>
<circle cx="800.1" cy="857.4" r="6.4" fill="#4c3cbd" opacity="0.85"/>
<circle cx="805.8" cy="860.4" r="4.5" fill="#4c3cbd" opacity="0.85"/>
<circle cx="761.3" cy="773.9" r="6.0" fill="#4c3cbd" opacity="0.85"/>
<circle cx="766.0" cy="792.5" r="5.0" fill="#4c3cbd" opacity="0.85"/>
<circle cx="767.1" cy="797.3" r="3.5" fill="#4c3cbd" opacity="0.85"/>
<circle cx="917.0" cy="834.3" r="3.9" fill="#4c3cbd" opacity="0.85"/>
<circle cx="920.5" cy="832.8" r="2.7" fill="#4c3cbd" opacity="0.85"/>
<circle cx="837.5" cy="839.1" r="6.7" fill="#6c5fca" opacity="0.65"/>
<circle cx="842.2" cy="844.0" r="4.7" fill="#6c5fca" opacity="0.65"/>
<circle cx="949.6" cy="800.3" r="3.5" fill="#6c5fca" opacity="0.65"/>
<circle cx="948.4" cy="797.0" r="2.4" fill="#6c5fca" opacity="0.65"/>
<circle cx="941.0" cy="786.2" r="5.0" fill="#4c3cbd" opacity="0.85"/>
<circle cx="830.7" cy="648.8" r="5.9" fill="#4c3cbd" opacity="0.85"/>
<circle cx="836.3" cy="650.7" r="4.2" fill="#4c3cbd" opacity="0.85"/>
<circle cx="783.2" cy="687.2" r="4.8" fill="#4c3cbd" opacity="0.85"/>
<circle cx="781.9" cy="682.6" r="3.4" fill="#4c3cbd" opacity="0.85"/>
<circle cx="770.4" cy="805.1" r="3.6" fill="#6c5fca" opacity="0.65"/>
<circle cx="743.2" cy="719.1" r="3.8" fill="#4c3cbd" opacity="0.85"/>
<circle cx="741.0" cy="716.0" r="2.6" fill="#4c3cbd" opacity="0.85"/>
<circle cx="925.2" cy="863.8" r="6.7" fill="#6c5fca" opacity="0.65"/>
<circle cx="877.6" cy="850.4" r="3.0" fill="#6c5fca" opacity="0.65"/>
<circle cx="876.7" cy="847.5" r="2.1" fill="#6c5fca" opacity="0.65"/>
<circle cx="771.1" cy="714.6" r="5.6" fill="#6c5fca" opacity="0.65"/>
<circle cx="767.4" cy="718.8" r="3.9" fill="#6c5fca" opacity="0.65"/>
<circle cx="983.5" cy="761.9" r="3.0" fill="#6c5fca" opacity="0.65"/>
<circle cx="902.7" cy="667.7" r="4.4" fill="#6c5fca" opacity="0.65"/>
<circle cx="898.4" cy="667.1" r="3.1" fill="#6c5fca" opacity="0.65"/>
<circle cx="863.1" cy="835.7" r="6.4" fill="#6c5fca" opacity="0.65"/>
<circle cx="863.2" cy="829.3" r="4.5" fill="#6c5fca" opacity="0.65"/>
<circle cx="858.8" cy="691.9" r="5.7" fill="#6c5fca" opacity="0.65"/>
<circle cx="972.4" cy="718.6" r="5.1" fill="#4c3cbd" opacity="0.85"/>
<circle cx="967.6" cy="717.0" r="3.6" fill="#4c3cbd" opacity="0.85"/>
<circle cx="906.1" cy="658.7" r="4.2" fill="#6c5fca" opacity="0.65"/>
<circle cx="806.1" cy="845.4" r="3.8" fill="#6c5fca" opacity="0.65"/>
<circle cx="808.0" cy="842.1" r="2.7" fill="#6c5fca" opacity="0.65"/>
<circle cx="770.2" cy="699.9" r="5.9" fill="#6c5fca" opacity="0.65"/>
<circle cx="860.4" cy="643.9" r="5.7" fill="#4c3cbd" opacity="0.85"/>
<circle cx="784.8" cy="733.1" r="3.6" fill="#6c5fca" opacity="0.65"/>
<circle cx="787.7" cy="731.0" r="2.5" fill="#6c5fca" opacity="0.65"/>
<circle cx="952.0" cy="785.6" r="5.7" fill="#6c5fca" opacity="0.65"/>
<circle cx="923.8" cy="860.4" r="4.4" fill="#6c5fca" opacity="0.65"/>
<circle cx="920.2" cy="863.0" r="3.1" fill="#6c5fca" opacity="0.65"/>
<circle cx="898.3" cy="649.7" r="5.0" fill="#6c5fca" opacity="0.65"/>
<circle cx="896.8" cy="645.0" r="3.5" fill="#6c5fca" opacity="0.65"/>
<circle cx="750.2" cy="798.9" r="5.2" fill="#6c5fca" opacity="0.65"/>
<circle cx="945.2" cy="853.4" r="3.0" fill="#4c3cbd" opacity="0.85"/>
<circle cx="741.8" cy="800.7" r="4.8" fill="#6c5fca" opacity="0.65"/>
<circle cx="743.2" cy="796.2" r="3.3" fill="#6c5fca" opacity="0.65"/>
<circle cx="805.2" cy="694.6" r="3.1" fill="#6c5fca" opacity="0.65"/>
<circle cx="931.0" cy="685.5" r="2.8" fill="#4c3cbd" opacity="0.85"/>
<circle cx="930.7" cy="682.8" r="1.9" fill="#4c3cbd" opacity="0.85"/>
<circle cx="734.0" cy="760.8" r="3.2" fill="#4c3cbd" opacity="0.85"/>
<circle cx="968.3" cy="772.1" r="3.8" fill="#4c3cbd" opacity="0.85"/>
<circle cx="807.5" cy="669.8" r="5.1" fill="#6c5fca" opacity="0.65"/>
<circle cx="811.3" cy="673.2" r="3.6" fill="#6c5fca" opacity="0.65"/>
<circle cx="849.2" cy="701.5" r="4.8" fill="#6c5fca" opacity="0.65"/>
<circle cx="904.2" cy="776.7" r="5.2" fill="#4c3cbd" opacity="0.85"/>
<circle cx="804.0" cy="646.1" r="3.2" fill="#4c3cbd" opacity="0.85"/>
<circle cx="893.6" cy="826.2" r="3.6" fill="#6c5fca" opacity="0.65"/>
<circle cx="833.7" cy="654.5" r="2.9" fill="#4c3cbd" opacity="0.85"/>
<circle cx="914.2" cy="858.0" r="3.6" fill="#6c5fca" opacity="0.65"/>
<circle cx="914.2" cy="854.3" r="2.5" fill="#6c5fca" opacity="0.65"/>
<circle cx="939.8" cy="823.6" r="3.6" fill="#4c3cbd" opacity="0.85"/>
<circle cx="849.9" cy="876.2" r="4.5" fill="#6c5fca" opacity="0.65"/>
<circle cx="845.5" cy="875.2" r="3.2" fill="#6c5fca" opacity="0.65"/>
<circle cx="898.9" cy="656.7" r="2.6" fill="#4c3cbd" opacity="0.85"/>
<circle cx="784.3" cy="800.5" r="4.5" fill="#4c3cbd" opacity="0.85"/>
<circle cx="787.2" cy="803.9" r="3.1" fill="#4c3cbd" opacity="0.85"/>
<circle cx="933.7" cy="690.2" r="2.9" fill="#4c3cbd" opacity="0.85"/>
<circle cx="931.8" cy="692.4" r="2.0" fill="#4c3cbd" opacity="0.85"/>
<circle cx="776.8" cy="683.0" r="6.4" fill="#6c5fca" opacity="0.65"/>
<circle cx="935.1" cy="689.4" r="5.6" fill="#6c5fca" opacity="0.65"/>
<circle cx="951.4" cy="735.7" r="5.7" fill="#6c5fca" opacity="0.65"/>
<circle cx="870.9" cy="638.7" r="6.3" fill="#6c5fca" opacity="0.65"/>
<circle cx="921.3" cy="850.9" r="2.9" fill="#6c5fca" opacity="0.65"/>
<circle cx="833.8" cy="877.7" r="4.4" fill="#6c5fca" opacity="0.65"/>
<circle cx="830.0" cy="875.7" r="3.0" fill="#6c5fca" opacity="0.65"/>
<circle cx="819.5" cy="796.6" r="3.9" fill="#4c3cbd" opacity="0.85"/>
<circle cx="817.9" cy="793.0" r="2.7" fill="#4c3cbd" opacity="0.85"/>
<circle cx="805.5" cy="787.6" r="5.2" fill="#6c5fca" opacity="0.65"/>
<circle cx="801.6" cy="784.2" r="3.6" fill="#6c5fca" opacity="0.65"/>
<circle cx="843.9" cy="728.1" r="6.6" fill="#6c5fca" opacity="0.65"/>
<circle cx="840.8" cy="733.9" r="4.6" fill="#6c5fca" opacity="0.65"/>
<circle cx="894.6" cy="648.2" r="5.7" fill="#6c5fca" opacity="0.65"/>
<circle cx="944.4" cy="854.2" r="2.8" fill="#6c5fca" opacity="0.65"/>
<circle cx="874.3" cy="647.1" r="3.6" fill="#4c3cbd" opacity="0.85"/>
<circle cx="878.3" cy="824.4" r="6.8" fill="#6c5fca" opacity="0.65"/>
<circle cx="874.1" cy="829.7" r="4.7" fill="#6c5fca" opacity="0.65"/>
<circle cx="955.1" cy="685.2" r="6.1" fill="#4c3cbd" opacity="0.85"/>
<circle cx="954.6" cy="679.0" r="4.3" fill="#4c3cbd" opacity="0.85"/>
<circle cx="906.1" cy="877.2" r="6.7" fill="#6c5fca" opacity="0.65"/>
<circle cx="863.8" cy="828.3" r="6.3" fill="#6c5fca" opacity="0.65"/>
<circle cx="857.9" cy="826.0" r="4.4" fill="#6c5fca" opacity="0.65"/>
<circle cx="952.5" cy="799.9" r="5.3" fill="#4c3cbd" opacity="0.85"/>
<circle cx="956.7" cy="796.6" r="3.7" fill="#4c3cbd" opacity="0.85"/>
<circle cx="925.1" cy="810.9" r="4.0" fill="#6c5fca" opacity="0.65"/>
<circle cx="922.8" cy="807.6" r="2.8" fill="#6c5fca" opacity="0.65"/>
<circle cx="795.6" cy="808.1" r="4.8" fill="#6c5fca" opacity="0.65"/>
<circle cx="960.8" cy="737.4" r="4.4" fill="#6c5fca" opacity="0.65"/>
<circle cx="957.0" cy="739.6" r="3.1" fill="#6c5fca" opacity="0.65"/>
<circle cx="899.7" cy="842.2" r="5.5" fill="#6c5fca" opacity="0.65"/>
<circle cx="903.1" cy="846.6" r="3.9" fill="#6c5fca" opacity="0.65"/>
<circle cx="911.8" cy="680.1" r="6.1" fill="#4c3cbd" opacity="0.85"/>
<circle cx="792.7" cy="846.6" r="4.3" fill="#6c5fca" opacity="0.65"/>
<circle cx="925.0" cy="812.3" r="6.4" fill="#4c3cbd" opacity="0.85"/>
<circle cx="903.7" cy="708.2" r="5.6" fill="#6c5fca" opacity="0.65"/>
<circle cx="777.2" cy="823.9" r="4.8" fill="#6c5fca" opacity="0.65"/>
<circle cx="926.4" cy="682.7" r="4.4" fill="#6c5fca" opacity="0.65"/>
<circle cx="925.4" cy="687.0" r="3.1" fill="#6c5fca" opacity="0.65"/>
<circle cx="926.4" cy="652.9" r="4.2" fill="#6c5fca" opacity="0.65"/>
<circle cx="929.1" cy="649.8" r="2.9" fill="#6c5fca" opacity="0.65"/>
<circle cx="854.0" cy="839.6" r="3.9" fill="#6c5fca" opacity="0.65"/>
<circle cx="854.5" cy="843.5" r="2.7" fill="#6c5fca" opacity="0.65"/>
<circle cx="787.6" cy="658.7" r="3.7" fill="#6c5fca" opacity="0.65"/>
<circle cx="924.2" cy="772.5" r="5.0" fill="#6c5fca" opacity="0.65"/>
<circle cx="919.9" cy="775.0" r="3.5" fill="#6c5fca" opacity="0.65"/>
<circle cx="947.2" cy="771.2" r="3.3" fill="#6c5fca" opacity="0.65"/>
<circle cx="948.5" cy="768.1" r="2.3" fill="#6c5fca" opacity="0.65"/>
<circle cx="959.5" cy="770.6" r="3.3" fill="#6c5fca" opacity="0.65"/>
<circle cx="982.7" cy="729.8" r="4.0" fill="#6c5fca" opacity="0.65"/>
<circle cx="986.2" cy="731.8" r="2.8" fill="#6c5fca" opacity="0.65"/>
<circle cx="761.8" cy="812.1" r="4.3" fill="#4c3cbd" opacity="0.85"/>
<circle cx="760.6" cy="816.2" r="3.0" fill="#4c3cbd" opacity="0.85"/>
<circle cx="946.5" cy="693.7" r="3.7" fill="#4c3cbd" opacity="0.85"/>
<circle cx="943.6" cy="691.5" r="2.6" fill="#4c3cbd" opacity="0.85"/>
<circle cx="740.4" cy="784.5" r="5.7" fill="#6c5fca" opacity="0.65"/>
<circle cx="741.2" cy="778.9" r="4.0" fill="#6c5fca" opacity="0.65"/>
<circle cx="918.0" cy="665.9" r="6.3" fill="#6c5fca" opacity="0.65"/>
<circle cx="915.4" cy="671.6" r="4.4" fill="#6c5fca" opacity="0.65"/>
<circle cx="851.1" cy="835.5" r="6.5" fill="#6c5fca" opacity="0.65"/>
<circle cx="852.8" cy="841.8" r="4.5" fill="#6c5fca" opacity="0.65"/>
<circle cx="753.5" cy="815.5" r="6.2" fill="#4c3cbd" opacity="0.85"/>
<circle cx="748.0" cy="818.2" r="4.3" fill="#4c3cbd" opacity="0.85"/>
<circle cx="895.3" cy="657.0" r="15.1" fill="#7a6ed0" opacity="0.5"/>
<circle cx="895.3" cy="657.0" r="11.0" fill="#3c2ab6" opacity="0.93"/>
<circle cx="902.1" cy="654.7" r="6.3" fill="#3c2ab6" opacity="0.93"/>
<circle cx="889.8" cy="661.7" r="6.3" fill="#3c2ab6" opacity="0.93"/>
<circle cx="891.0" cy="651.2" r="6.3" fill="#3c2ab6" opacity="0.93"/>
<circle cx="930.7" cy="660.1" r="13.3" fill="#7a6ed0" opacity="0.5"/>
<circle cx="930.7" cy="660.1" r="9.7" fill="#3c2ab6" opacity="0.93"/>
<circle cx="936.8" cy="662.1" r="5.5" fill="#3c2ab6" opacity="0.93"/>
<circle cx="924.4" cy="660.9" r="5.5" fill="#3c2ab6" opacity="0.93"/>
<circle cx="924.4" cy="659.9" r="5.5" fill="#3c2ab6" opacity="0.93"/>
<circle cx="844.4" cy="643.2" r="10.6" fill="#7a6ed0" opacity="0.5"/>
<circle cx="844.4" cy="643.2" r="7.8" fill="#3c2ab6" opacity="0.93"/>
<circle cx="848.7" cy="640.4" r="4.4" fill="#3c2ab6" opacity="0.93"/>
<circle cx="849.3" cy="641.9" r="4.4" fill="#3c2ab6" opacity="0.93"/>
<circle cx="844.5" cy="638.1" r="4.4" fill="#3c2ab6" opacity="0.93"/>
<circle cx="876.8" cy="637.0" r="8.0" fill="#7a6ed0" opacity="0.5"/>
<circle cx="876.8" cy="637.0" r="5.8" fill="#3c2ab6" opacity="0.93"/>
<circle cx="874.9" cy="640.3" r="3.3" fill="#3c2ab6" opacity="0.93"/>
<circle cx="879.4" cy="634.3" r="3.3" fill="#3c2ab6" opacity="0.93"/>
<circle cx="880.1" cy="635.1" r="3.3" fill="#3c2ab6" opacity="0.93"/>
<circle cx="799.7" cy="687.9" r="9.7" fill="#7a6ed0" opacity="0.5"/>
<circle cx="799.7" cy="687.9" r="7.1" fill="#3c2ab6" opacity="0.93"/>
<circle cx="803.8" cy="690.0" r="4.1" fill="#3c2ab6" opacity="0.93"/>
<circle cx="795.6" cy="690.0" r="4.1" fill="#3c2ab6" opacity="0.93"/>
<circle cx="795.3" cy="686.4" r="4.1" fill="#3c2ab6" opacity="0.93"/>
<circle cx="772.0" cy="706.4" r="14.2" fill="#7a6ed0" opacity="0.5"/>
<circle cx="772.0" cy="706.4" r="10.4" fill="#3c2ab6" opacity="0.93"/>
<circle cx="769.7" cy="712.7" r="5.9" fill="#3c2ab6" opacity="0.93"/>
<circle cx="772.4" cy="713.1" r="5.9" fill="#3c2ab6" opacity="0.93"/>
<circle cx="773.4" cy="699.7" r="5.9" fill="#3c2ab6" opacity="0.93"/>
<circle cx="748.8" cy="706.4" r="8.9" fill="#7a6ed0" opacity="0.5"/>
<circle cx="748.8" cy="706.4" r="6.5" fill="#3c2ab6" opacity="0.93"/>
<circle cx="749.9" cy="710.5" r="3.7" fill="#3c2ab6" opacity="0.93"/>
<circle cx="744.8" cy="705.0" r="3.7" fill="#3c2ab6" opacity="0.93"/>
<circle cx="753.0" cy="706.9" r="3.7" fill="#3c2ab6" opacity="0.93"/>
<circle cx="796.6" cy="724.9" r="16.8" fill="#7a6ed0" opacity="0.5"/>
<circle cx="796.6" cy="724.9" r="12.3" fill="#3c2ab6" opacity="0.93"/>
<circle cx="788.8" cy="726.8" r="7.0" fill="#3c2ab6" opacity="0.93"/>
<circle cx="804.5" cy="723.1" r="7.0" fill="#3c2ab6" opacity="0.93"/>
<circle cx="804.7" cy="725.0" r="7.0" fill="#3c2ab6" opacity="0.93"/>
<circle cx="878.3" cy="703.3" r="10.6" fill="#7a6ed0" opacity="0.5"/>
<circle cx="878.3" cy="703.3" r="7.8" fill="#3c2ab6" opacity="0.93"/>
<circle cx="882.3" cy="706.5" r="4.4" fill="#3c2ab6" opacity="0.93"/>
<circle cx="882.4" cy="700.3" r="4.4" fill="#3c2ab6" opacity="0.93"/>
<circle cx="882.7" cy="700.7" r="4.4" fill="#3c2ab6" opacity="0.93"/>
<circle cx="859.8" cy="712.5" r="6.2" fill="#7a6ed0" opacity="0.5"/>
<circle cx="859.8" cy="712.5" r="4.5" fill="#3c2ab6" opacity="0.93"/>
<circle cx="856.8" cy="712.4" r="2.6" fill="#3c2ab6" opacity="0.93"/>
<circle cx="859.0" cy="715.4" r="2.6" fill="#3c2ab6" opacity="0.93"/>
<circle cx="858.9" cy="715.4" r="2.6" fill="#3c2ab6" opacity="0.93"/>
<circle cx="862.9" cy="683.2" r="7.1" fill="#7a6ed0" opacity="0.5"/>
<circle cx="862.9" cy="683.2" r="5.2" fill="#3c2ab6" opacity="0.93"/>
<circle cx="862.5" cy="679.9" r="3.0" fill="#3c2ab6" opacity="0.93"/>
<circle cx="859.9" cy="681.6" r="3.0" fill="#3c2ab6" opacity="0.93"/>
<circle cx="859.7" cy="684.4" r="3.0" fill="#3c2ab6" opacity="0.93"/>
<circle cx="873.7" cy="740.3" r="16.0" fill="#7a6ed0" opacity="0.5"/>
<circle cx="873.7" cy="740.3" r="11.7" fill="#3c2ab6" opacity="0.93"/>
<circle cx="870.9" cy="733.2" r="6.7" fill="#3c2ab6" opacity="0.93"/>
<circle cx="879.9" cy="744.7" r="6.7" fill="#3c2ab6" opacity="0.93"/>
<circle cx="867.8" cy="745.2" r="6.7" fill="#3c2ab6" opacity="0.93"/>
<circle cx="738.0" cy="743.3" r="13.3" fill="#7a6ed0" opacity="0.5"/>
<circle cx="738.0" cy="743.3" r="9.7" fill="#3c2ab6" opacity="0.93"/>
<circle cx="742.6" cy="738.9" r="5.5" fill="#3c2ab6" opacity="0.93"/>
<circle cx="743.5" cy="740.0" r="5.5" fill="#3c2ab6" opacity="0.93"/>
<circle cx="731.7" cy="743.9" r="5.5" fill="#3c2ab6" opacity="0.93"/>
<circle cx="770.4" cy="751.1" r="14.2" fill="#7a6ed0" opacity="0.5"/>
<circle cx="770.4" cy="751.1" r="10.4" fill="#3c2ab6" opacity="0.93"/>
<circle cx="771.8" cy="744.4" r="5.9" fill="#3c2ab6" opacity="0.93"/>
<circle cx="775.5" cy="746.6" r="5.9" fill="#3c2ab6" opacity="0.93"/>
<circle cx="763.7" cy="750.1" r="5.9" fill="#3c2ab6" opacity="0.93"/>
<circle cx="819.7" cy="754.1" r="8.9" fill="#7a6ed0" opacity="0.5"/>
<circle cx="819.7" cy="754.1" r="6.5" fill="#4a3abc" opacity="0.88"/>
<circle cx="822.4" cy="757.5" r="3.7" fill="#4a3abc" opacity="0.88"/>
<circle cx="823.1" cy="756.7" r="3.7" fill="#4a3abc" opacity="0.88"/>
<circle cx="817.7" cy="750.4" r="3.7" fill="#4a3abc" opacity="0.88"/>
<circle cx="839.8" cy="774.2" r="11.5" fill="#7a6ed0" opacity="0.5"/>
<circle cx="839.8" cy="774.2" r="8.4" fill="#3c2ab6" opacity="0.93"/>
<circle cx="836.8" cy="778.8" r="4.8" fill="#3c2ab6" opacity="0.93"/>
<circle cx="834.3" cy="773.3" r="4.8" fill="#3c2ab6" opacity="0.93"/>
<circle cx="845.1" cy="775.6" r="4.8" fill="#3c2ab6" opacity="0.93"/>
<circle cx="852.1" cy="775.7" r="7.1" fill="#7a6ed0" opacity="0.5"/>
<circle cx="852.1" cy="775.7" r="5.2" fill="#3c2ab6" opacity="0.93"/>
<circle cx="855.3" cy="774.6" r="3.0" fill="#3c2ab6" opacity="0.93"/>
<circle cx="851.5" cy="779.1" r="3.0" fill="#3c2ab6" opacity="0.93"/>
<circle cx="849.9" cy="773.2" r="3.0" fill="#3c2ab6" opacity="0.93"/>
<circle cx="784.3" cy="777.3" r="7.1" fill="#7a6ed0" opacity="0.5"/>
<circle cx="784.3" cy="777.3" r="5.2" fill="#3c2ab6" opacity="0.93"/>
<circle cx="781.9" cy="774.9" r="3.0" fill="#3c2ab6" opacity="0.93"/>
<circle cx="782.2" cy="779.9" r="3.0" fill="#3c2ab6" opacity="0.93"/>
<circle cx="785.1" cy="780.5" r="3.0" fill="#3c2ab6" opacity="0.93"/>
<circle cx="741.1" cy="775.7" r="10.6" fill="#7a6ed0" opacity="0.5"/>
<circle cx="741.1" cy="775.7" r="7.8" fill="#3c2ab6" opacity="0.93"/>
<circle cx="736.4" cy="773.8" r="4.4" fill="#3c2ab6" opacity="0.93"/>
<circle cx="738.8" cy="780.2" r="4.4" fill="#3c2ab6" opacity="0.93"/>
<circle cx="745.6" cy="778.1" r="4.4" fill="#3c2ab6" opacity="0.93"/>
<circle cx="753.5" cy="788.0" r="8.9" fill="#7a6ed0" opacity="0.5"/>
<circle cx="753.5" cy="788.0" r="6.5" fill="#3c2ab6" opacity="0.93"/>
<circle cx="755.4" cy="791.8" r="3.7" fill="#3c2ab6" opacity="0.93"/>
<circle cx="757.6" cy="789.1" r="3.7" fill="#3c2ab6" opacity="0.93"/>
<circle cx="756.9" cy="785.5" r="3.7" fill="#3c2ab6" opacity="0.93"/>
<circle cx="923.0" cy="791.1" r="9.7" fill="#7a6ed0" opacity="0.5"/>
<circle cx="923.0" cy="791.1" r="7.1" fill="#3c2ab6" opacity="0.93"/>
<circle cx="924.4" cy="795.6" r="4.1" fill="#3c2ab6" opacity="0.93"/>
<circle cx="927.1" cy="788.9" r="4.1" fill="#3c2ab6" opacity="0.93"/>
<circle cx="919.6" cy="788.0" r="4.1" fill="#3c2ab6" opacity="0.93"/>
<circle cx="972.3" cy="786.5" r="16.0" fill="#7a6ed0" opacity="0.5"/>
<circle cx="972.3" cy="786.5" r="11.7" fill="#3c2ab6" opacity="0.93"/>
<circle cx="979.7" cy="784.5" r="6.7" fill="#3c2ab6" opacity="0.93"/>
<circle cx="964.8" cy="788.0" r="6.7" fill="#3c2ab6" opacity="0.93"/>
<circle cx="972.1" cy="794.1" r="6.7" fill="#3c2ab6" opacity="0.93"/>
<circle cx="983.1" cy="755.7" r="8.9" fill="#7a6ed0" opacity="0.5"/>
<circle cx="983.1" cy="755.7" r="6.5" fill="#3c2ab6" opacity="0.93"/>
<circle cx="986.8" cy="757.8" r="3.7" fill="#3c2ab6" opacity="0.93"/>
<circle cx="980.1" cy="752.8" r="3.7" fill="#3c2ab6" opacity="0.93"/>
<circle cx="981.7" cy="751.7" r="3.7" fill="#3c2ab6" opacity="0.93"/>
<circle cx="973.9" cy="711.0" r="10.6" fill="#7a6ed0" opacity="0.5"/>
<circle cx="973.9" cy="711.0" r="7.8" fill="#3c2ab6" opacity="0.93"/>
<circle cx="971.7" cy="706.4" r="4.4" fill="#3c2ab6" opacity="0.93"/>
<circle cx="978.2" cy="708.2" r="4.4" fill="#3c2ab6" opacity="0.93"/>
<circle cx="978.0" cy="713.9" r="4.4" fill="#3c2ab6" opacity="0.93"/>
<circle cx="926.1" cy="712.5" r="8.0" fill="#7a6ed0" opacity="0.5"/>
<circle cx="926.1" cy="712.5" r="5.8" fill="#3c2ab6" opacity="0.93"/>
<circle cx="923.8" cy="709.5" r="3.3" fill="#3c2ab6" opacity="0.93"/>
<circle cx="925.0" cy="708.9" r="3.3" fill="#3c2ab6" opacity="0.93"/>
<circle cx="929.7" cy="711.1" r="3.3" fill="#3c2ab6" opacity="0.93"/>
<circle cx="949.2" cy="723.3" r="10.6" fill="#7a6ed0" opacity="0.5"/>
<circle cx="949.2" cy="723.3" r="7.8" fill="#4a3abc" opacity="0.88"/>
<circle cx="949.2" cy="728.4" r="4.4" fill="#4a3abc" opacity="0.88"/>
<circle cx="953.8" cy="721.2" r="4.4" fill="#4a3abc" opacity="0.88"/>
<circle cx="954.2" cy="724.1" r="4.4" fill="#4a3abc" opacity="0.88"/>
<circle cx="910.7" cy="680.2" r="8.9" fill="#7a6ed0" opacity="0.5"/>
<circle cx="910.7" cy="680.2" r="6.5" fill="#4a3abc" opacity="0.88"/>
<circle cx="907.1" cy="677.9" r="3.7" fill="#4a3abc" opacity="0.88"/>
<circle cx="908.7" cy="683.9" r="3.7" fill="#4a3abc" opacity="0.88"/>
<circle cx="906.5" cy="679.7" r="3.7" fill="#4a3abc" opacity="0.88"/>
<circle cx="849.0" cy="801.9" r="9.7" fill="#7a6ed0" opacity="0.5"/>
<circle cx="849.0" cy="801.9" r="7.1" fill="#3c2ab6" opacity="0.93"/>
<circle cx="851.2" cy="806.1" r="4.1" fill="#3c2ab6" opacity="0.93"/>
<circle cx="845.5" cy="805.0" r="4.1" fill="#3c2ab6" opacity="0.93"/>
<circle cx="846.3" cy="805.7" r="4.1" fill="#3c2ab6" opacity="0.93"/>
<circle cx="850.6" cy="818.9" r="12.4" fill="#7a6ed0" opacity="0.5"/>
<circle cx="850.6" cy="818.9" r="9.1" fill="#3c2ab6" opacity="0.93"/>
<circle cx="844.8" cy="820.2" r="5.2" fill="#3c2ab6" opacity="0.93"/>
<circle cx="845.6" cy="822.2" r="5.2" fill="#3c2ab6" opacity="0.93"/>
<circle cx="851.7" cy="824.7" r="5.2" fill="#3c2ab6" opacity="0.93"/>
<circle cx="829.0" cy="809.6" r="6.2" fill="#7a6ed0" opacity="0.5"/>
<circle cx="829.0" cy="809.6" r="4.5" fill="#3c2ab6" opacity="0.93"/>
<circle cx="830.4" cy="812.2" r="2.6" fill="#3c2ab6" opacity="0.93"/>
<circle cx="826.1" cy="810.2" r="2.6" fill="#3c2ab6" opacity="0.93"/>
<circle cx="832.0" cy="809.5" r="2.6" fill="#3c2ab6" opacity="0.93"/>
<circle cx="767.3" cy="818.9" r="9.7" fill="#7a6ed0" opacity="0.5"/>
<circle cx="767.3" cy="818.9" r="7.1" fill="#3c2ab6" opacity="0.93"/>
<circle cx="770.0" cy="815.1" r="4.1" fill="#3c2ab6" opacity="0.93"/>
<circle cx="770.1" cy="822.6" r="4.1" fill="#3c2ab6" opacity="0.93"/>
<circle cx="764.2" cy="815.4" r="4.1" fill="#3c2ab6" opacity="0.93"/>
<circle cx="765.8" cy="837.4" r="8.9" fill="#7a6ed0" opacity="0.5"/>
<circle cx="765.8" cy="837.4" r="6.5" fill="#3c2ab6" opacity="0.93"/>
<circle cx="768.4" cy="840.7" r="3.7" fill="#3c2ab6" opacity="0.93"/>
<circle cx="763.9" cy="841.1" r="3.7" fill="#3c2ab6" opacity="0.93"/>
<circle cx="770.0" cy="837.3" r="3.7" fill="#3c2ab6" opacity="0.93"/>
<circle cx="887.6" cy="832.7" r="11.5" fill="#7a6ed0" opacity="0.5"/>
<circle cx="887.6" cy="832.7" r="8.4" fill="#3c2ab6" opacity="0.93"/>
<circle cx="884.6" cy="837.4" r="4.8" fill="#3c2ab6" opacity="0.93"/>
<circle cx="892.0" cy="836.1" r="4.8" fill="#3c2ab6" opacity="0.93"/>
<circle cx="882.5" cy="830.7" r="4.8" fill="#3c2ab6" opacity="0.93"/>
<circle cx="912.2" cy="845.1" r="10.6" fill="#7a6ed0" opacity="0.5"/>
<circle cx="912.2" cy="845.1" r="7.8" fill="#3c2ab6" opacity="0.93"/>
<circle cx="907.9" cy="842.4" r="4.4" fill="#3c2ab6" opacity="0.93"/>
<circle cx="907.1" cy="844.7" r="4.4" fill="#3c2ab6" opacity="0.93"/>
<circle cx="917.0" cy="843.4" r="4.4" fill="#3c2ab6" opacity="0.93"/>
<circle cx="946.1" cy="818.9" r="12.4" fill="#7a6ed0" opacity="0.5"/>
<circle cx="946.1" cy="818.9" r="9.1" fill="#3c2ab6" opacity="0.93"/>
<circle cx="940.2" cy="818.4" r="5.2" fill="#3c2ab6" opacity="0.93"/>
<circle cx="942.2" cy="823.3" r="5.2" fill="#3c2ab6" opacity="0.93"/>
<circle cx="947.7" cy="824.6" r="5.2" fill="#3c2ab6" opacity="0.93"/>
<circle cx="912.2" cy="814.2" r="8.0" fill="#7a6ed0" opacity="0.5"/>
<circle cx="912.2" cy="814.2" r="5.8" fill="#3c2ab6" opacity="0.93"/>
<circle cx="908.9" cy="812.4" r="3.3" fill="#3c2ab6" opacity="0.93"/>
<circle cx="912.1" cy="810.4" r="3.3" fill="#3c2ab6" opacity="0.93"/>
<circle cx="908.4" cy="814.2" r="3.3" fill="#3c2ab6" opacity="0.93"/>
<circle cx="953.8" cy="838.9" r="8.0" fill="#7a6ed0" opacity="0.5"/>
<circle cx="953.8" cy="838.9" r="5.8" fill="#3c2ab6" opacity="0.93"/>
<circle cx="950.9" cy="841.3" r="3.3" fill="#3c2ab6" opacity="0.93"/>
<circle cx="953.8" cy="842.7" r="3.3" fill="#3c2ab6" opacity="0.93"/>
<circle cx="956.0" cy="835.8" r="3.3" fill="#3c2ab6" opacity="0.93"/>
<circle cx="815.1" cy="792.7" r="7.1" fill="#7a6ed0" opacity="0.5"/>
<circle cx="815.1" cy="792.7" r="5.2" fill="#6658c7" opacity="0.78"/>
<circle cx="818.5" cy="792.5" r="3.0" fill="#6658c7" opacity="0.78"/>
<circle cx="812.2" cy="790.9" r="3.0" fill="#6658c7" opacity="0.78"/>
<circle cx="814.3" cy="789.4" r="3.0" fill="#6658c7" opacity="0.78"/>
<circle cx="833.6" cy="791.1" r="5.3" fill="#7a6ed0" opacity="0.5"/>
<circle cx="833.6" cy="791.1" r="3.9" fill="#6658c7" opacity="0.78"/>
<circle cx="832.5" cy="793.4" r="2.2" fill="#6658c7" opacity="0.78"/>
<circle cx="835.0" cy="793.3" r="2.2" fill="#6658c7" opacity="0.78"/>
<circle cx="836.0" cy="792.0" r="2.2" fill="#6658c7" opacity="0.78"/>
<circle cx="793.5" cy="806.5" r="6.2" fill="#7a6ed0" opacity="0.5"/>
<circle cx="793.5" cy="806.5" r="4.5" fill="#6658c7" opacity="0.78"/>
<circle cx="791.3" cy="804.6" r="2.6" fill="#6658c7" opacity="0.78"/>
<circle cx="796.1" cy="805.1" r="2.6" fill="#6658c7" opacity="0.78"/>
<circle cx="792.5" cy="803.8" r="2.6" fill="#6658c7" opacity="0.78"/>
<circle cx="776.6" cy="854.3" r="7.1" fill="#7a6ed0" opacity="0.5"/>
<circle cx="776.6" cy="854.3" r="5.2" fill="#6658c7" opacity="0.78"/>
<circle cx="775.0" cy="851.3" r="3.0" fill="#6658c7" opacity="0.78"/>
<circle cx="778.7" cy="851.7" r="3.0" fill="#6658c7" opacity="0.78"/>
<circle cx="773.7" cy="856.1" r="3.0" fill="#6658c7" opacity="0.78"/>
<circle cx="798.2" cy="846.6" r="7.1" fill="#7a6ed0" opacity="0.5"/>
<circle cx="798.2" cy="846.6" r="5.2" fill="#6658c7" opacity="0.78"/>
<circle cx="795.1" cy="848.1" r="3.0" fill="#6658c7" opacity="0.78"/>
<circle cx="797.9" cy="850.0" r="3.0" fill="#6658c7" opacity="0.78"/>
<circle cx="799.8" cy="843.7" r="3.0" fill="#6658c7" opacity="0.78"/>
<circle cx="864.4" cy="852.8" r="7.1" fill="#7a6ed0" opacity="0.5"/>
<circle cx="864.4" cy="852.8" r="5.2" fill="#6658c7" opacity="0.78"/>
<circle cx="863.2" cy="849.6" r="3.0" fill="#6658c7" opacity="0.78"/>
<circle cx="861.1" cy="852.3" r="3.0" fill="#6658c7" opacity="0.78"/>
<circle cx="865.1" cy="849.4" r="3.0" fill="#6658c7" opacity="0.78"/>
<circle cx="835.2" cy="866.7" r="8.9" fill="#7a6ed0" opacity="0.5"/>
<circle cx="835.2" cy="866.7" r="6.5" fill="#6658c7" opacity="0.78"/>
<circle cx="838.8" cy="864.4" r="3.7" fill="#6658c7" opacity="0.78"/>
<circle cx="839.2" cy="867.9" r="3.7" fill="#6658c7" opacity="0.78"/>
<circle cx="836.0" cy="870.8" r="3.7" fill="#6658c7" opacity="0.78"/>
<circle cx="852.1" cy="874.4" r="6.2" fill="#7a6ed0" opacity="0.5"/>
<circle cx="852.1" cy="874.4" r="4.5" fill="#6658c7" opacity="0.78"/>
<circle cx="849.2" cy="875.0" r="2.6" fill="#6658c7" opacity="0.78"/>
<circle cx="851.4" cy="871.5" r="2.6" fill="#6658c7" opacity="0.78"/>
<circle cx="852.3" cy="877.3" r="2.6" fill="#6658c7" opacity="0.78"/>
<circle cx="898.3" cy="868.2" r="5.3" fill="#7a6ed0" opacity="0.5"/>
<circle cx="898.3" cy="868.2" r="3.9" fill="#3c2ab6" opacity="0.93"/>
<circle cx="896.0" cy="869.1" r="2.2" fill="#3c2ab6" opacity="0.93"/>
<circle cx="897.0" cy="866.0" r="2.2" fill="#3c2ab6" opacity="0.93"/>
<circle cx="897.7" cy="870.6" r="2.2" fill="#3c2ab6" opacity="0.93"/>
<circle cx="921.5" cy="865.1" r="5.3" fill="#7a6ed0" opacity="0.5"/>
<circle cx="921.5" cy="865.1" r="3.9" fill="#6658c7" opacity="0.78"/>
<circle cx="920.2" cy="862.9" r="2.2" fill="#6658c7" opacity="0.78"/>
<circle cx="923.8" cy="866.1" r="2.2" fill="#6658c7" opacity="0.78"/>
<circle cx="919.3" cy="866.4" r="2.2" fill="#6658c7" opacity="0.78"/>
<circle cx="899.9" cy="797.3" r="8.9" fill="#7a6ed0" opacity="0.5"/>
<circle cx="899.9" cy="797.3" r="6.5" fill="#6658c7" opacity="0.78"/>
<circle cx="897.2" cy="794.1" r="3.7" fill="#6658c7" opacity="0.78"/>
<circle cx="902.7" cy="794.1" r="3.7" fill="#6658c7" opacity="0.78"/>
<circle cx="895.7" cy="797.0" r="3.7" fill="#6658c7" opacity="0.78"/>
<circle cx="946.1" cy="706.4" r="7.1" fill="#7a6ed0" opacity="0.5"/>
<circle cx="946.1" cy="706.4" r="5.2" fill="#6658c7" opacity="0.78"/>
<circle cx="944.4" cy="703.4" r="3.0" fill="#6658c7" opacity="0.78"/>
<circle cx="944.4" cy="703.4" r="3.0" fill="#6658c7" opacity="0.78"/>
<circle cx="944.1" cy="703.6" r="3.0" fill="#6658c7" opacity="0.78"/>
<circle cx="919.9" cy="749.5" r="5.3" fill="#7a6ed0" opacity="0.5"/>
<circle cx="919.9" cy="749.5" r="3.9" fill="#6658c7" opacity="0.78"/>
<circle cx="917.5" cy="750.3" r="2.2" fill="#6658c7" opacity="0.78"/>
<circle cx="918.9" cy="751.8" r="2.2" fill="#6658c7" opacity="0.78"/>
<circle cx="921.7" cy="751.3" r="2.2" fill="#6658c7" opacity="0.78"/>
<circle cx="899.9" cy="734.1" r="5.3" fill="#7a6ed0" opacity="0.5"/>
<circle cx="899.9" cy="734.1" r="3.9" fill="#6658c7" opacity="0.78"/>
<circle cx="901.8" cy="732.4" r="2.2" fill="#6658c7" opacity="0.78"/>
<circle cx="900.3" cy="731.6" r="2.2" fill="#6658c7" opacity="0.78"/>
<circle cx="898.4" cy="732.0" r="2.2" fill="#6658c7" opacity="0.78"/>
<circle cx="742.7" cy="801.9" r="6.2" fill="#7a6ed0" opacity="0.5"/>
<circle cx="742.7" cy="801.9" r="4.5" fill="#6658c7" opacity="0.78"/>
<circle cx="742.7" cy="799.0" r="2.6" fill="#6658c7" opacity="0.78"/>
<circle cx="741.5" cy="804.6" r="2.6" fill="#6658c7" opacity="0.78"/>
<circle cx="744.0" cy="804.6" r="2.6" fill="#6658c7" opacity="0.78"/>
<circle cx="936.9" cy="797.3" r="7.1" fill="#7a6ed0" opacity="0.5"/>
<circle cx="936.9" cy="797.3" r="5.2" fill="#6658c7" opacity="0.78"/>
<circle cx="933.6" cy="796.6" r="3.0" fill="#6658c7" opacity="0.78"/>
<circle cx="933.6" cy="798.0" r="3.0" fill="#6658c7" opacity="0.78"/>
<circle cx="934.9" cy="794.6" r="3.0" fill="#6658c7" opacity="0.78"/>
<circle cx="963.1" cy="681.7" r="6.2" fill="#7a6ed0" opacity="0.5"/>
<circle cx="963.1" cy="681.7" r="4.5" fill="#6658c7" opacity="0.78"/>
<circle cx="965.2" cy="679.6" r="2.6" fill="#6658c7" opacity="0.78"/>
<circle cx="960.8" cy="683.6" r="2.6" fill="#6658c7" opacity="0.78"/>
<circle cx="961.0" cy="683.8" r="2.6" fill="#6658c7" opacity="0.78"/>
</g></g>
<g filter="url(#b1)"><rect x="951.7" y="886.0" width="33.6" height="3" fill="#fff"/>
<text x="968.5" y="883.1" font-size="13" font-weight="bold" text-anchor="middle" fill="#fff">5 mm</text></g>
</g>
<g clip-path="url(#pc3)">
<rect x="1037.0" y="631.6" width="262.5" height="262.5" fill="#c9c5cd" stroke="none" stroke-width="0" />
<circle cx="1079.0" cy="676.2" r="65.6" fill="#9c9cd0" filter="url(#b4)"/>
<circle cx="1171.2" cy="763.2" r="134.9" fill="none" stroke="#9f9ccb" stroke-width="3" opacity="0.7" filter="url(#b1)"/>
<circle cx="1168.2" cy="760.2" r="129.9" fill="#dad9d2" stroke="#8f8bc6" stroke-width="2.4" filter="url(#b1)"/>
<g clip-path="url(#pw3)">
<rect x="1037.0" y="631.6" width="262.5" height="262.5" filter="url(#nz3)"/>
<g filter="url(#bd3)">
<circle cx="1253.9" cy="828.2" r="5.3" fill="#4c3cbd" opacity="0.68"/>
<circle cx="1253.7" cy="833.5" r="3.7" fill="#4c3cbd" opacity="0.68"/>
<circle cx="1157.6" cy="654.3" r="3.9" fill="#4c3cbd" opacity="0.68"/>
<circle cx="1158.3" cy="650.4" r="2.7" fill="#4c3cbd" opacity="0.68"/>
<circle cx="1218.9" cy="806.9" r="6.4" fill="#6c5fca" opacity="0.52"/>
<circle cx="1221.1" cy="800.8" r="4.5" fill="#6c5fca" opacity="0.52"/>
<circle cx="1128.6" cy="717.1" r="4.9" fill="#4c3cbd" opacity="0.68"/>
<circle cx="1125.7" cy="713.1" r="3.4" fill="#4c3cbd" opacity="0.68"/>
<circle cx="1226.4" cy="817.0" r="2.9" fill="#6c5fca" opacity="0.52"/>
<circle cx="1065.0" cy="831.7" r="4.4" fill="#4c3cbd" opacity="0.68"/>
<circle cx="1148.1" cy="712.2" r="5.1" fill="#4c3cbd" opacity="0.68"/>
<circle cx="1152.3" cy="715.1" r="3.6" fill="#4c3cbd" opacity="0.68"/>
<circle cx="1236.3" cy="692.0" r="3.4" fill="#6c5fca" opacity="0.52"/>
<circle cx="1237.3" cy="688.7" r="2.4" fill="#6c5fca" opacity="0.52"/>
<circle cx="1118.0" cy="760.1" r="6.0" fill="#6c5fca" opacity="0.52"/>
<circle cx="1123.9" cy="761.1" r="4.2" fill="#6c5fca" opacity="0.52"/>
<circle cx="1165.1" cy="707.8" r="4.8" fill="#6c5fca" opacity="0.52"/>
<circle cx="1163.2" cy="703.4" r="3.4" fill="#6c5fca" opacity="0.52"/>
<circle cx="1078.7" cy="740.3" r="4.6" fill="#6c5fca" opacity="0.52"/>
<circle cx="1245.5" cy="812.6" r="3.6" fill="#4c3cbd" opacity="0.68"/>
<circle cx="1220.9" cy="783.6" r="5.6" fill="#6c5fca" opacity="0.52"/>
<circle cx="1219.3" cy="778.2" r="3.9" fill="#6c5fca" opacity="0.52"/>
<circle cx="1251.9" cy="729.5" r="4.1" fill="#6c5fca" opacity="0.52"/>
<circle cx="1161.6" cy="837.7" r="3.4" fill="#4c3cbd" opacity="0.68"/>
<circle cx="1161.5" cy="841.1" r="2.4" fill="#4c3cbd" opacity="0.68"/>
<circle cx="1143.5" cy="781.3" r="3.9" fill="#4c3cbd" opacity="0.68"/>
<circle cx="1143.3" cy="880.4" r="4.1" fill="#6c5fca" opacity="0.52"/>
<circle cx="1145.8" cy="883.7" r="2.9" fill="#6c5fca" opacity="0.52"/>
<circle cx="1190.2" cy="826.4" r="6.3" fill="#6c5fca" opacity="0.52"/>
<circle cx="1185.2" cy="822.6" r="4.4" fill="#6c5fca" opacity="0.52"/>
<circle cx="1234.8" cy="722.1" r="5.8" fill="#6c5fca" opacity="0.52"/>
<circle cx="1066.8" cy="690.5" r="5.8" fill="#6c5fca" opacity="0.52"/>
<circle cx="1111.0" cy="824.0" r="6.6" fill="#6c5fca" opacity="0.52"/>
<circle cx="1120.3" cy="872.0" r="5.2" fill="#6c5fca" opacity="0.52"/>
<circle cx="1088.3" cy="776.0" r="3.7" fill="#6c5fca" opacity="0.52"/>
<circle cx="1087.0" cy="772.6" r="2.6" fill="#6c5fca" opacity="0.52"/>
<circle cx="1214.6" cy="816.7" r="4.5" fill="#6c5fca" opacity="0.52"/>
<circle cx="1215.6" cy="812.3" r="3.1" fill="#6c5fca" opacity="0.52"/>
<circle cx="1164.7" cy="844.4" r="4.4" fill="#6c5fca" opacity="0.52"/>
<circle cx="1167.3" cy="847.9" r="3.1" fill="#6c5fca" opacity="0.52"/>
<circle cx="1159.3" cy="702.8" r="5.4" fill="#6c5fca" opacity="0.52"/>
<circle cx="1122.3" cy="691.2" r="6.5" fill="#4c3cbd" opacity="0.68"/>
<circle cx="1252.2" cy="785.4" r="3.7" fill="#6c5fca" opacity="0.52"/>
<circle cx="1195.2" cy="729.3" r="5.5" fill="#4c3cbd" opacity="0.68"/>
<circle cx="1265.9" cy="828.2" r="4.4" fill="#4c3cbd" opacity="0.68"/>
<circle cx="1226.5" cy="652.5" r="2.9" fill="#4c3cbd" opacity="0.68"/>
<circle cx="1228.4" cy="654.7" r="2.0" fill="#4c3cbd" opacity="0.68"/>
<circle cx="1094.4" cy="830.3" r="2.6" fill="#6c5fca" opacity="0.52"/>
<circle cx="1070.9" cy="763.1" r="3.8" fill="#4c3cbd" opacity="0.68"/>
<circle cx="1069.2" cy="759.6" r="2.7" fill="#4c3cbd" opacity="0.68"/>
<circle cx="1164.5" cy="755.3" r="6.8" fill="#6c5fca" opacity="0.52"/>
<circle cx="1277.0" cy="707.6" r="6.2" fill="#6c5fca" opacity="0.52"/>
<circle cx="1273.5" cy="712.7" r="4.3" fill="#6c5fca" opacity="0.52"/>
<circle cx="1196.2" cy="748.3" r="3.2" fill="#4c3cbd" opacity="0.68"/>
<circle cx="1134.3" cy="640.5" r="4.8" fill="#4c3cbd" opacity="0.68"/>
<circle cx="1138.2" cy="637.7" r="3.4" fill="#4c3cbd" opacity="0.68"/>
<circle cx="1250.1" cy="798.5" r="5.0" fill="#4c3cbd" opacity="0.68"/>
<circle cx="1248.0" cy="794.0" r="3.5" fill="#4c3cbd" opacity="0.68"/>
<circle cx="1255.2" cy="742.4" r="3.4" fill="#6c5fca" opacity="0.52"/>
<circle cx="1083.2" cy="773.1" r="4.8" fill="#6c5fca" opacity="0.52"/>
<circle cx="1083.6" cy="777.9" r="3.3" fill="#6c5fca" opacity="0.52"/>
<circle cx="1164.4" cy="878.7" r="3.6" fill="#6c5fca" opacity="0.52"/>
<circle cx="1140.4" cy="749.6" r="5.4" fill="#4c3cbd" opacity="0.68"/>
<circle cx="1182.0" cy="672.1" r="3.5" fill="#4c3cbd" opacity="0.68"/>
<circle cx="1150.0" cy="699.3" r="4.2" fill="#4c3cbd" opacity="0.68"/>
<circle cx="1146.7" cy="696.8" r="2.9" fill="#4c3cbd" opacity="0.68"/>
<circle cx="1057.4" cy="779.2" r="4.1" fill="#6c5fca" opacity="0.52"/>
<circle cx="1145.0" cy="818.3" r="5.3" fill="#6c5fca" opacity="0.52"/>
<circle cx="1149.3" cy="879.8" r="4.8" fill="#6c5fca" opacity="0.52"/>
<circle cx="1129.5" cy="674.3" r="5.3" fill="#6c5fca" opacity="0.52"/>
<circle cx="1220.8" cy="862.6" r="2.7" fill="#6c5fca" opacity="0.52"/>
<circle cx="1222.7" cy="864.6" r="1.9" fill="#6c5fca" opacity="0.52"/>
<circle cx="1065.5" cy="696.3" r="3.9" fill="#6c5fca" opacity="0.52"/>
<circle cx="1062.4" cy="694.0" r="2.7" fill="#6c5fca" opacity="0.52"/>
<circle cx="1119.5" cy="827.0" r="6.2" fill="#6c5fca" opacity="0.52"/>
<circle cx="1122.1" cy="821.4" r="4.3" fill="#6c5fca" opacity="0.52"/>
<circle cx="1258.1" cy="759.7" r="2.7" fill="#6c5fca" opacity="0.52"/>
<circle cx="1199.2" cy="818.2" r="5.9" fill="#6c5fca" opacity="0.52"/>
<circle cx="1181.0" cy="845.3" r="5.1" fill="#6c5fca" opacity="0.52"/>
<circle cx="1063.2" cy="803.0" r="5.8" fill="#6c5fca" opacity="0.52"/>
<circle cx="1198.9" cy="696.1" r="5.1" fill="#6c5fca" opacity="0.52"/>
<circle cx="1169.2" cy="675.2" r="4.8" fill="#6c5fca" opacity="0.52"/>
<circle cx="1086.3" cy="676.8" r="2.9" fill="#4c3cbd" opacity="0.68"/>
<circle cx="1083.5" cy="675.8" r="2.1" fill="#4c3cbd" opacity="0.68"/>
<circle cx="1182.8" cy="880.2" r="3.0" fill="#6c5fca" opacity="0.52"/>
<circle cx="1180.5" cy="882.2" r="2.1" fill="#6c5fca" opacity="0.52"/>
<circle cx="1266.6" cy="802.4" r="6.7" fill="#6c5fca" opacity="0.52"/>
<circle cx="1128.7" cy="823.6" r="4.5" fill="#4c3cbd" opacity="0.68"/>
<circle cx="1145.2" cy="734.8" r="4.5" fill="#6c5fca" opacity="0.52"/>
<circle cx="1142.0" cy="738.0" r="3.1" fill="#6c5fca" opacity="0.52"/>
<circle cx="1170.2" cy="810.8" r="4.7" fill="#4c3cbd" opacity="0.68"/>
<circle cx="1245.5" cy="715.2" r="3.3" fill="#4c3cbd" opacity="0.68"/>
<circle cx="1243.6" cy="718.0" r="2.3" fill="#4c3cbd" opacity="0.68"/>
<circle cx="1213.0" cy="671.2" r="6.6" fill="#4c3cbd" opacity="0.68"/>
<circle cx="1238.6" cy="861.2" r="4.9" fill="#4c3cbd" opacity="0.68"/>
<circle cx="1238.8" cy="866.1" r="3.4" fill="#4c3cbd" opacity="0.68"/>
<circle cx="1150.4" cy="819.3" r="6.6" fill="#6c5fca" opacity="0.52"/>
<circle cx="1146.0" cy="814.3" r="4.6" fill="#6c5fca" opacity="0.52"/>
<circle cx="1187.3" cy="825.1" r="3.7" fill="#6c5fca" opacity="0.52"/>
<circle cx="1187.1" cy="821.5" r="2.6" fill="#6c5fca" opacity="0.52"/>
<circle cx="1125.8" cy="694.1" r="6.4" fill="#6c5fca" opacity="0.52"/>
<circle cx="1132.0" cy="692.7" r="4.5" fill="#6c5fca" opacity="0.52"/>
<circle cx="1183.0" cy="875.0" r="6.0" fill="#6c5fca" opacity="0.52"/>
<circle cx="1084.4" cy="805.9" r="6.6" fill="#6c5fca" opacity="0.52"/>
<circle cx="1090.6" cy="807.9" r="4.6" fill="#6c5fca" opacity="0.52"/>
<circle cx="1237.2" cy="699.8" r="5.6" fill="#4c3cbd" opacity="0.68"/>
<circle cx="1281.2" cy="712.3" r="4.7" fill="#4c3cbd" opacity="0.68"/>
<circle cx="1284.6" cy="715.7" r="3.3" fill="#4c3cbd" opacity="0.68"/>
<circle cx="1149.0" cy="737.2" r="6.7" fill="#6c5fca" opacity="0.52"/>
<circle cx="1147.3" cy="743.6" r="4.7" fill="#6c5fca" opacity="0.52"/>
<circle cx="1124.8" cy="848.2" r="6.0" fill="#6c5fca" opacity="0.52"/>
<circle cx="1125.0" cy="854.2" r="4.2" fill="#6c5fca" opacity="0.52"/>
<circle cx="1255.6" cy="736.9" r="4.5" fill="#4c3cbd" opacity="0.68"/>
<circle cx="1252.3" cy="739.9" r="3.1" fill="#4c3cbd" opacity="0.68"/>
<circle cx="1111.4" cy="801.9" r="5.6" fill="#6c5fca" opacity="0.52"/>
<circle cx="1066.3" cy="711.0" r="5.7" fill="#6c5fca" opacity="0.52"/>
<circle cx="1284.0" cy="719.1" r="5.6" fill="#6c5fca" opacity="0.52"/>
<circle cx="1287.6" cy="714.8" r="3.9" fill="#6c5fca" opacity="0.52"/>
<circle cx="1057.7" cy="778.7" r="4.2" fill="#6c5fca" opacity="0.52"/>
<circle cx="1057.1" cy="774.5" r="3.0" fill="#6c5fca" opacity="0.52"/>
<circle cx="1144.8" cy="852.1" r="5.6" fill="#4c3cbd" opacity="0.68"/>
<circle cx="1132.0" cy="700.3" r="6.5" fill="#6c5fca" opacity="0.52"/>
<circle cx="1137.8" cy="697.3" r="4.6" fill="#6c5fca" opacity="0.52"/>
<circle cx="1225.9" cy="675.8" r="6.2" fill="#6c5fca" opacity="0.52"/>
<circle cx="1224.1" cy="681.8" r="4.4" fill="#6c5fca" opacity="0.52"/>
<circle cx="1199.4" cy="745.7" r="4.0" fill="#6c5fca" opacity="0.52"/>
<circle cx="1202.1" cy="742.8" r="2.8" fill="#6c5fca" opacity="0.52"/>
<circle cx="1204.9" cy="789.3" r="6.8" fill="#6c5fca" opacity="0.52"/>
<circle cx="1199.2" cy="793.0" r="4.8" fill="#6c5fca" opacity="0.52"/>
<circle cx="1227.5" cy="704.8" r="5.0" fill="#4c3cbd" opacity="0.68"/>
<circle cx="1179.9" cy="739.3" r="4.9" fill="#6c5fca" opacity="0.52"/>
<circle cx="1216.3" cy="768.0" r="4.4" fill="#4c3cbd" opacity="0.68"/>
<circle cx="1213.5" cy="764.6" r="3.1" fill="#4c3cbd" opacity="0.68"/>
<circle cx="1232.1" cy="808.4" r="2.8" fill="#4c3cbd" opacity="0.68"/>
<circle cx="1178.2" cy="681.0" r="3.6" fill="#4c3cbd" opacity="0.68"/>
<circle cx="1254.9" cy="742.9" r="6.3" fill="#4c3cbd" opacity="0.68"/>
<circle cx="1054.3" cy="751.5" r="4.7" fill="#6c5fca" opacity="0.52"/>
<circle cx="1058.9" cy="752.7" r="3.3" fill="#6c5fca" opacity="0.52"/>
<circle cx="1130.8" cy="688.3" r="3.4" fill="#4c3cbd" opacity="0.68"/>
<circle cx="1119.0" cy="871.9" r="6.5" fill="#6c5fca" opacity="0.52"/>
<circle cx="1251.4" cy="760.3" r="6.7" fill="#6c5fca" opacity="0.52"/>
<circle cx="1192.4" cy="764.6" r="2.9" fill="#6c5fca" opacity="0.52"/>
<circle cx="1280.9" cy="751.8" r="5.1" fill="#6c5fca" opacity="0.52"/>
<circle cx="1284.4" cy="755.6" r="3.6" fill="#6c5fca" opacity="0.52"/>
<circle cx="1125.2" cy="792.7" r="6.0" fill="#6c5fca" opacity="0.52"/>
<circle cx="1128.8" cy="787.9" r="4.2" fill="#6c5fca" opacity="0.52"/>
<circle cx="1131.3" cy="873.6" r="5.6" fill="#4c3cbd" opacity="0.68"/>
<circle cx="1087.1" cy="670.6" r="6.8" fill="#6c5fca" opacity="0.52"/>
<circle cx="1172.1" cy="882.4" r="6.3" fill="#4c3cbd" opacity="0.68"/>
<circle cx="1176.9" cy="878.3" r="4.4" fill="#4c3cbd" opacity="0.68"/>
<circle cx="1109.7" cy="816.1" r="6.6" fill="#6c5fca" opacity="0.52"/>
<circle cx="1185.8" cy="878.0" r="3.5" fill="#6c5fca" opacity="0.52"/>
<circle cx="1182.5" cy="879.0" r="2.5" fill="#6c5fca" opacity="0.52"/>
<circle cx="1169.3" cy="684.7" r="3.8" fill="#6c5fca" opacity="0.52"/>
<circle cx="1235.8" cy="833.8" r="6.0" fill="#4c3cbd" opacity="0.68"/>
<circle cx="1229.8" cy="834.5" r="4.2" fill="#4c3cbd" opacity="0.68"/>
<circle cx="1245.5" cy="812.1" r="5.8" fill="#6c5fca" opacity="0.52"/>
<circle cx="1234.6" cy="724.4" r="3.9" fill="#4c3cbd" opacity="0.68"/>
<circle cx="1234.1" cy="728.3" r="2.8" fill="#4c3cbd" opacity="0.68"/>
<circle cx="1096.7" cy="695.2" r="3.3" fill="#6c5fca" opacity="0.52"/>
<circle cx="1098.9" cy="692.7" r="2.3" fill="#6c5fca" opacity="0.52"/>
<circle cx="1201.3" cy="863.3" r="4.8" fill="#6c5fca" opacity="0.52"/>
<circle cx="1203.4" cy="858.9" r="3.4" fill="#6c5fca" opacity="0.52"/>
<circle cx="1247.3" cy="819.5" r="4.6" fill="#6c5fca" opacity="0.52"/>
<circle cx="1249.5" cy="823.6" r="3.2" fill="#6c5fca" opacity="0.52"/>
<circle cx="1143.0" cy="777.7" r="5.0" fill="#4c3cbd" opacity="0.68"/>
<circle cx="1234.2" cy="730.6" r="6.0" fill="#6c5fca" opacity="0.52"/>
<circle cx="1058.3" cy="780.4" r="4.3" fill="#4c3cbd" opacity="0.68"/>
<circle cx="1059.6" cy="776.3" r="3.0" fill="#4c3cbd" opacity="0.68"/>
<circle cx="1215.4" cy="860.6" r="3.5" fill="#6c5fca" opacity="0.52"/>
<circle cx="1213.7" cy="857.6" r="2.4" fill="#6c5fca" opacity="0.52"/>
<circle cx="1102.1" cy="725.2" r="6.5" fill="#6c5fca" opacity="0.52"/>
<circle cx="1106.5" cy="729.9" r="4.6" fill="#6c5fca" opacity="0.52"/>
<circle cx="1221.3" cy="803.3" r="6.6" fill="#6c5fca" opacity="0.52"/>
<circle cx="1064.8" cy="705.1" r="6.2" fill="#6c5fca" opacity="0.52"/>
<circle cx="1201.9" cy="801.9" r="3.6" fill="#4c3cbd" opacity="0.68"/>
<circle cx="1143.1" cy="697.2" r="4.6" fill="#6c5fca" opacity="0.52"/>
<circle cx="1069.0" cy="714.8" r="4.5" fill="#6c5fca" opacity="0.52"/>
<circle cx="1069.7" cy="719.3" r="3.1" fill="#6c5fca" opacity="0.52"/>
<circle cx="1162.6" cy="694.2" r="4.6" fill="#6c5fca" opacity="0.52"/>
<circle cx="1159.5" cy="697.6" r="3.2" fill="#6c5fca" opacity="0.52"/>
<circle cx="1046.7" cy="767.4" r="5.9" fill="#6c5fca" opacity="0.52"/>
<circle cx="1047.2" cy="773.3" r="4.1" fill="#6c5fca" opacity="0.52"/>
<circle cx="1109.8" cy="838.4" r="6.7" fill="#6c5fca" opacity="0.52"/>
<circle cx="1104.5" cy="842.5" r="4.7" fill="#6c5fca" opacity="0.52"/>
<circle cx="1129.3" cy="743.3" r="2.7" fill="#6c5fca" opacity="0.52"/>
<circle cx="1130.5" cy="740.9" r="1.9" fill="#6c5fca" opacity="0.52"/>
<circle cx="1124.0" cy="678.6" r="6.8" fill="#6c5fca" opacity="0.52"/>
<circle cx="1176.9" cy="804.4" r="4.4" fill="#6c5fca" opacity="0.52"/>
<circle cx="1245.3" cy="838.3" r="3.8" fill="#4c3cbd" opacity="0.68"/>
<circle cx="1173.6" cy="724.6" r="2.8" fill="#6c5fca" opacity="0.52"/>
<circle cx="1176.3" cy="725.2" r="2.0" fill="#6c5fca" opacity="0.52"/>
<circle cx="1193.1" cy="791.5" r="6.8" fill="#6c5fca" opacity="0.52"/>
<circle cx="1197.1" cy="797.0" r="4.7" fill="#6c5fca" opacity="0.52"/>
<circle cx="1158.7" cy="810.6" r="5.9" fill="#4c3cbd" opacity="0.68"/>
<circle cx="1199.3" cy="734.2" r="13.3" fill="#7a6ed0" opacity="0.5"/>
<circle cx="1199.3" cy="734.2" r="9.7" fill="#3c2ab6" opacity="0.93"/>
<circle cx="1204.9" cy="737.1" r="5.6" fill="#3c2ab6" opacity="0.93"/>
<circle cx="1194.3" cy="730.2" r="5.6" fill="#3c2ab6" opacity="0.93"/>
<circle cx="1203.1" cy="729.1" r="5.6" fill="#3c2ab6" opacity="0.93"/>
<circle cx="1128.3" cy="689.4" r="8.9" fill="#7a6ed0" opacity="0.5"/>
<circle cx="1128.3" cy="689.4" r="6.5" fill="#3c2ab6" opacity="0.93"/>
<circle cx="1125.0" cy="692.0" r="3.7" fill="#3c2ab6" opacity="0.93"/>
<circle cx="1129.1" cy="685.3" r="3.7" fill="#3c2ab6" opacity="0.93"/>
<circle cx="1132.5" cy="689.8" r="3.7" fill="#3c2ab6" opacity="0.93"/>
<circle cx="1236.3" cy="697.1" r="8.9" fill="#7a6ed0" opacity="0.5"/>
<circle cx="1236.3" cy="697.1" r="6.5" fill="#3c2ab6" opacity="0.93"/>
<circle cx="1232.1" cy="696.7" r="3.7" fill="#3c2ab6" opacity="0.93"/>
<circle cx="1236.1" cy="692.9" r="3.7" fill="#3c2ab6" opacity="0.93"/>
<circle cx="1232.4" cy="699.0" r="3.7" fill="#3c2ab6" opacity="0.93"/>
<circle cx="1095.9" cy="689.4" r="5.3" fill="#7a6ed0" opacity="0.5"/>
<circle cx="1095.9" cy="689.4" r="3.9" fill="#3c2ab6" opacity="0.93"/>
<circle cx="1098.0" cy="690.9" r="2.2" fill="#3c2ab6" opacity="0.93"/>
<circle cx="1098.4" cy="689.0" r="2.2" fill="#3c2ab6" opacity="0.93"/>
<circle cx="1096.9" cy="687.1" r="2.2" fill="#3c2ab6" opacity="0.93"/>
<circle cx="1089.7" cy="712.6" r="7.1" fill="#7a6ed0" opacity="0.5"/>
<circle cx="1089.7" cy="712.6" r="5.2" fill="#3c2ab6" opacity="0.93"/>
<circle cx="1089.0" cy="715.9" r="3.0" fill="#3c2ab6" opacity="0.93"/>
<circle cx="1089.3" cy="709.2" r="3.0" fill="#3c2ab6" opacity="0.93"/>
<circle cx="1091.4" cy="715.5" r="3.0" fill="#3c2ab6" opacity="0.93"/>
<circle cx="1092.8" cy="731.1" r="10.6" fill="#7a6ed0" opacity="0.5"/>
<circle cx="1092.8" cy="731.1" r="7.8" fill="#4a3abc" opacity="0.88"/>
<circle cx="1089.0" cy="727.7" r="4.4" fill="#4a3abc" opacity="0.88"/>
<circle cx="1091.6" cy="726.1" r="4.4" fill="#4a3abc" opacity="0.88"/>
<circle cx="1088.7" cy="728.1" r="4.4" fill="#4a3abc" opacity="0.88"/>
<circle cx="1242.4" cy="851.4" r="12.4" fill="#7a6ed0" opacity="0.5"/>
<circle cx="1242.4" cy="851.4" r="9.1" fill="#3c2ab6" opacity="0.93"/>
<circle cx="1236.9" cy="853.6" r="5.2" fill="#3c2ab6" opacity="0.93"/>
<circle cx="1245.1" cy="846.1" r="5.2" fill="#3c2ab6" opacity="0.93"/>
<circle cx="1237.4" cy="854.5" r="5.2" fill="#3c2ab6" opacity="0.93"/>
<circle cx="1240.9" cy="874.5" r="9.8" fill="#7a6ed0" opacity="0.5"/>
<circle cx="1240.9" cy="874.5" r="7.1" fill="#3c2ab6" opacity="0.93"/>
<circle cx="1245.1" cy="876.5" r="4.1" fill="#3c2ab6" opacity="0.93"/>
<circle cx="1243.6" cy="878.3" r="4.1" fill="#3c2ab6" opacity="0.93"/>
<circle cx="1243.6" cy="878.3" r="4.1" fill="#3c2ab6" opacity="0.93"/>
<circle cx="1230.1" cy="819.0" r="12.4" fill="#7a6ed0" opacity="0.5"/>
<circle cx="1230.1" cy="819.0" r="9.1" fill="#4434ba" opacity="0.9"/>
<circle cx="1231.2" cy="813.2" r="5.2" fill="#4434ba" opacity="0.9"/>
<circle cx="1235.6" cy="821.3" r="5.2" fill="#4434ba" opacity="0.9"/>
<circle cx="1235.9" cy="817.7" r="5.2" fill="#4434ba" opacity="0.9"/>
<circle cx="1095.9" cy="842.1" r="8.0" fill="#7a6ed0" opacity="0.5"/>
<circle cx="1095.9" cy="842.1" r="5.8" fill="#3c2ab6" opacity="0.93"/>
<circle cx="1092.5" cy="840.4" r="3.3" fill="#3c2ab6" opacity="0.93"/>
<circle cx="1099.4" cy="843.8" r="3.3" fill="#3c2ab6" opacity="0.93"/>
<circle cx="1099.5" cy="840.8" r="3.3" fill="#3c2ab6" opacity="0.93"/>
<circle cx="1079.0" cy="831.3" r="7.1" fill="#7a6ed0" opacity="0.5"/>
<circle cx="1079.0" cy="831.3" r="5.2" fill="#4a3abc" opacity="0.88"/>
<circle cx="1082.3" cy="831.1" r="3.0" fill="#4a3abc" opacity="0.88"/>
<circle cx="1079.3" cy="834.7" r="3.0" fill="#4a3abc" opacity="0.88"/>
<circle cx="1075.8" cy="830.0" r="3.0" fill="#4a3abc" opacity="0.88"/>
<circle cx="1112.9" cy="811.3" r="8.0" fill="#7a6ed0" opacity="0.5"/>
<circle cx="1112.9" cy="811.3" r="5.8" fill="#4a3abc" opacity="0.88"/>
<circle cx="1113.3" cy="815.1" r="3.3" fill="#4a3abc" opacity="0.88"/>
<circle cx="1115.4" cy="814.1" r="3.3" fill="#4a3abc" opacity="0.88"/>
<circle cx="1116.3" cy="813.0" r="3.3" fill="#4a3abc" opacity="0.88"/>
<circle cx="1068.2" cy="809.7" r="7.1" fill="#7a6ed0" opacity="0.5"/>
<circle cx="1068.2" cy="809.7" r="5.2" fill="#4a3abc" opacity="0.88"/>
<circle cx="1070.7" cy="807.5" r="3.0" fill="#4a3abc" opacity="0.88"/>
<circle cx="1068.7" cy="813.1" r="3.0" fill="#4a3abc" opacity="0.88"/>
<circle cx="1069.1" cy="813.0" r="3.0" fill="#4a3abc" opacity="0.88"/>
<circle cx="1159.2" cy="792.8" r="9.8" fill="#7a6ed0" opacity="0.5"/>
<circle cx="1159.2" cy="792.8" r="7.1" fill="#4a3abc" opacity="0.88"/>
<circle cx="1161.3" cy="796.9" r="4.1" fill="#4a3abc" opacity="0.88"/>
<circle cx="1158.1" cy="797.3" r="4.1" fill="#4a3abc" opacity="0.88"/>
<circle cx="1163.5" cy="791.2" r="4.1" fill="#4a3abc" opacity="0.88"/>
<circle cx="1207.0" cy="831.3" r="7.1" fill="#7a6ed0" opacity="0.5"/>
<circle cx="1207.0" cy="831.3" r="5.2" fill="#4a3abc" opacity="0.88"/>
<circle cx="1207.8" cy="834.6" r="3.0" fill="#4a3abc" opacity="0.88"/>
<circle cx="1208.3" cy="834.4" r="3.0" fill="#4a3abc" opacity="0.88"/>
<circle cx="1210.1" cy="832.5" r="3.0" fill="#4a3abc" opacity="0.88"/>
<circle cx="1259.4" cy="757.3" r="7.1" fill="#7a6ed0" opacity="0.5"/>
<circle cx="1259.4" cy="757.3" r="5.2" fill="#4a3abc" opacity="0.88"/>
<circle cx="1258.5" cy="754.0" r="3.0" fill="#4a3abc" opacity="0.88"/>
<circle cx="1262.1" cy="759.4" r="3.0" fill="#4a3abc" opacity="0.88"/>
<circle cx="1260.8" cy="754.2" r="3.0" fill="#4a3abc" opacity="0.88"/>
<circle cx="1290.2" cy="751.1" r="7.1" fill="#7a6ed0" opacity="0.5"/>
<circle cx="1290.2" cy="751.1" r="5.2" fill="#4a3abc" opacity="0.88"/>
<circle cx="1293.4" cy="749.9" r="3.0" fill="#4a3abc" opacity="0.88"/>
<circle cx="1289.7" cy="754.5" r="3.0" fill="#4a3abc" opacity="0.88"/>
<circle cx="1286.9" cy="751.8" r="3.0" fill="#4a3abc" opacity="0.88"/>
<circle cx="1268.7" cy="814.4" r="6.2" fill="#7a6ed0" opacity="0.5"/>
<circle cx="1268.7" cy="814.4" r="4.5" fill="#4a3abc" opacity="0.88"/>
<circle cx="1269.6" cy="811.6" r="2.6" fill="#4a3abc" opacity="0.88"/>
<circle cx="1265.7" cy="814.6" r="2.6" fill="#4a3abc" opacity="0.88"/>
<circle cx="1267.4" cy="817.1" r="2.6" fill="#4a3abc" opacity="0.88"/>
<circle cx="1271.7" cy="792.8" r="8.9" fill="#7a6ed0" opacity="0.5"/>
<circle cx="1271.7" cy="792.8" r="6.5" fill="#6658c7" opacity="0.78"/>
<circle cx="1275.4" cy="790.6" r="3.7" fill="#6658c7" opacity="0.78"/>
<circle cx="1276.0" cy="792.7" r="3.7" fill="#6658c7" opacity="0.78"/>
<circle cx="1272.1" cy="797.0" r="3.7" fill="#6658c7" opacity="0.78"/>
<circle cx="1233.2" cy="670.9" r="12.4" fill="#7a6ed0" opacity="0.5"/>
<circle cx="1233.2" cy="670.9" r="9.1" fill="#6658c7" opacity="0.78"/>
<circle cx="1236.5" cy="666.0" r="5.2" fill="#6658c7" opacity="0.78"/>
<circle cx="1239.0" cy="672.3" r="5.2" fill="#6658c7" opacity="0.78"/>
<circle cx="1235.9" cy="665.6" r="5.2" fill="#6658c7" opacity="0.78"/>
<circle cx="1132.9" cy="748.0" r="8.9" fill="#7a6ed0" opacity="0.5"/>
<circle cx="1132.9" cy="748.0" r="6.5" fill="#6658c7" opacity="0.78"/>
<circle cx="1130.6" cy="751.6" r="3.7" fill="#6658c7" opacity="0.78"/>
<circle cx="1137.2" cy="747.7" r="3.7" fill="#6658c7" opacity="0.78"/>
<circle cx="1137.1" cy="748.7" r="3.7" fill="#6658c7" opacity="0.78"/>
<circle cx="1146.8" cy="703.3" r="6.2" fill="#7a6ed0" opacity="0.5"/>
<circle cx="1146.8" cy="703.3" r="4.5" fill="#6658c7" opacity="0.78"/>
<circle cx="1147.6" cy="706.2" r="2.6" fill="#6658c7" opacity="0.78"/>
<circle cx="1144.4" cy="705.0" r="2.6" fill="#6658c7" opacity="0.78"/>
<circle cx="1143.8" cy="703.2" r="2.6" fill="#6658c7" opacity="0.78"/>
<circle cx="1117.5" cy="672.5" r="5.3" fill="#7a6ed0" opacity="0.5"/>
<circle cx="1117.5" cy="672.5" r="3.9" fill="#6658c7" opacity="0.78"/>
<circle cx="1117.9" cy="670.0" r="2.2" fill="#6658c7" opacity="0.78"/>
<circle cx="1119.2" cy="674.4" r="2.2" fill="#6658c7" opacity="0.78"/>
<circle cx="1119.9" cy="673.4" r="2.2" fill="#6658c7" opacity="0.78"/>
<circle cx="1128.3" cy="658.6" r="5.3" fill="#7a6ed0" opacity="0.5"/>
<circle cx="1128.3" cy="658.6" r="3.9" fill="#6658c7" opacity="0.78"/>
<circle cx="1128.4" cy="661.1" r="2.2" fill="#6658c7" opacity="0.78"/>
<circle cx="1130.4" cy="660.1" r="2.2" fill="#6658c7" opacity="0.78"/>
<circle cx="1130.7" cy="657.8" r="2.2" fill="#6658c7" opacity="0.78"/>
<circle cx="1180.7" cy="649.3" r="10.6" fill="#7a6ed0" opacity="0.5"/>
<circle cx="1180.7" cy="649.3" r="7.8" fill="#6658c7" opacity="0.78"/>
<circle cx="1175.7" cy="648.8" r="4.4" fill="#6658c7" opacity="0.78"/>
<circle cx="1182.3" cy="654.2" r="4.4" fill="#6658c7" opacity="0.78"/>
<circle cx="1178.5" cy="653.9" r="4.4" fill="#6658c7" opacity="0.78"/>
<circle cx="1190.0" cy="667.8" r="5.3" fill="#7a6ed0" opacity="0.5"/>
<circle cx="1190.0" cy="667.8" r="3.9" fill="#6658c7" opacity="0.78"/>
<circle cx="1189.8" cy="670.4" r="2.2" fill="#6658c7" opacity="0.78"/>
<circle cx="1187.6" cy="668.6" r="2.2" fill="#6658c7" opacity="0.78"/>
<circle cx="1188.9" cy="670.1" r="2.2" fill="#6658c7" opacity="0.78"/>
<circle cx="1183.8" cy="681.7" r="7.1" fill="#7a6ed0" opacity="0.5"/>
<circle cx="1183.8" cy="681.7" r="5.2" fill="#877dd1" opacity="0.62"/>
<circle cx="1181.4" cy="679.3" r="3.0" fill="#877dd1" opacity="0.62"/>
<circle cx="1184.6" cy="685.0" r="3.0" fill="#877dd1" opacity="0.62"/>
<circle cx="1182.5" cy="678.6" r="3.0" fill="#877dd1" opacity="0.62"/>
<circle cx="1160.7" cy="675.6" r="5.3" fill="#7a6ed0" opacity="0.5"/>
<circle cx="1160.7" cy="675.6" r="3.9" fill="#877dd1" opacity="0.62"/>
<circle cx="1162.9" cy="674.2" r="2.2" fill="#877dd1" opacity="0.62"/>
<circle cx="1160.7" cy="673.0" r="2.2" fill="#877dd1" opacity="0.62"/>
<circle cx="1162.9" cy="676.8" r="2.2" fill="#877dd1" opacity="0.62"/>
<circle cx="1149.9" cy="681.7" r="4.4" fill="#7a6ed0" opacity="0.5"/>
<circle cx="1149.9" cy="681.7" r="3.2" fill="#6658c7" opacity="0.78"/>
<circle cx="1147.8" cy="682.0" r="1.9" fill="#6658c7" opacity="0.78"/>
<circle cx="1150.8" cy="679.8" r="1.9" fill="#6658c7" opacity="0.78"/>
<circle cx="1151.8" cy="682.6" r="1.9" fill="#6658c7" opacity="0.78"/>
<circle cx="1117.5" cy="783.5" r="6.2" fill="#7a6ed0" opacity="0.5"/>
<circle cx="1117.5" cy="783.5" r="4.5" fill="#6658c7" opacity="0.78"/>
<circle cx="1120.3" cy="782.4" r="2.6" fill="#6658c7" opacity="0.78"/>
<circle cx="1119.8" cy="785.4" r="2.6" fill="#6658c7" opacity="0.78"/>
<circle cx="1119.8" cy="785.4" r="2.6" fill="#6658c7" opacity="0.78"/>
<circle cx="1092.8" cy="782.0" r="5.3" fill="#7a6ed0" opacity="0.5"/>
<circle cx="1092.8" cy="782.0" r="3.9" fill="#6658c7" opacity="0.78"/>
<circle cx="1095.4" cy="782.1" r="2.2" fill="#6658c7" opacity="0.78"/>
<circle cx="1094.4" cy="780.0" r="2.2" fill="#6658c7" opacity="0.78"/>
<circle cx="1095.3" cy="782.4" r="2.2" fill="#6658c7" opacity="0.78"/>
<circle cx="1132.9" cy="822.1" r="7.1" fill="#7a6ed0" opacity="0.5"/>
<circle cx="1132.9" cy="822.1" r="5.2" fill="#6658c7" opacity="0.78"/>
<circle cx="1129.6" cy="822.7" r="3.0" fill="#6658c7" opacity="0.78"/>
<circle cx="1130.1" cy="820.3" r="3.0" fill="#6658c7" opacity="0.78"/>
<circle cx="1129.6" cy="822.4" r="3.0" fill="#6658c7" opacity="0.78"/>
<circle cx="1185.4" cy="848.3" r="7.1" fill="#7a6ed0" opacity="0.5"/>
<circle cx="1185.4" cy="848.3" r="5.2" fill="#6658c7" opacity="0.78"/>
<circle cx="1188.8" cy="848.2" r="3.0" fill="#6658c7" opacity="0.78"/>
<circle cx="1182.6" cy="846.3" r="3.0" fill="#6658c7" opacity="0.78"/>
<circle cx="1188.8" cy="848.4" r="3.0" fill="#6658c7" opacity="0.78"/>
<circle cx="1186.9" cy="863.7" r="7.1" fill="#7a6ed0" opacity="0.5"/>
<circle cx="1186.9" cy="863.7" r="5.2" fill="#6658c7" opacity="0.78"/>
<circle cx="1184.2" cy="865.8" r="3.0" fill="#6658c7" opacity="0.78"/>
<circle cx="1188.8" cy="866.6" r="3.0" fill="#6658c7" opacity="0.78"/>
<circle cx="1189.6" cy="861.6" r="3.0" fill="#6658c7" opacity="0.78"/>
<circle cx="1166.9" cy="843.7" r="6.2" fill="#7a6ed0" opacity="0.5"/>
<circle cx="1166.9" cy="843.7" r="4.5" fill="#877dd1" opacity="0.62"/>
<circle cx="1167.3" cy="846.6" r="2.6" fill="#877dd1" opacity="0.62"/>
<circle cx="1165.3" cy="841.1" r="2.6" fill="#877dd1" opacity="0.62"/>
<circle cx="1164.1" cy="844.7" r="2.6" fill="#877dd1" opacity="0.62"/>
<circle cx="1125.2" cy="874.5" r="7.1" fill="#7a6ed0" opacity="0.5"/>
<circle cx="1125.2" cy="874.5" r="5.2" fill="#6658c7" opacity="0.78"/>
<circle cx="1122.1" cy="875.8" r="3.0" fill="#6658c7" opacity="0.78"/>
<circle cx="1121.9" cy="873.7" r="3.0" fill="#6658c7" opacity="0.78"/>
<circle cx="1125.1" cy="877.9" r="3.0" fill="#6658c7" opacity="0.78"/>
<circle cx="1149.9" cy="874.5" r="8.9" fill="#7a6ed0" opacity="0.5"/>
<circle cx="1149.9" cy="874.5" r="6.5" fill="#6658c7" opacity="0.78"/>
<circle cx="1147.3" cy="871.2" r="3.7" fill="#6658c7" opacity="0.78"/>
<circle cx="1146.5" cy="872.0" r="3.7" fill="#6658c7" opacity="0.78"/>
<circle cx="1151.5" cy="870.6" r="3.7" fill="#6658c7" opacity="0.78"/>
<circle cx="1202.3" cy="876.1" r="7.1" fill="#7a6ed0" opacity="0.5"/>
<circle cx="1202.3" cy="876.1" r="5.2" fill="#877dd1" opacity="0.62"/>
<circle cx="1203.7" cy="872.9" r="3.0" fill="#877dd1" opacity="0.62"/>
<circle cx="1205.1" cy="878.0" r="3.0" fill="#877dd1" opacity="0.62"/>
<circle cx="1203.8" cy="873.0" r="3.0" fill="#877dd1" opacity="0.62"/>
<circle cx="1069.7" cy="839.0" r="6.2" fill="#7a6ed0" opacity="0.5"/>
<circle cx="1069.7" cy="839.0" r="4.5" fill="#6658c7" opacity="0.78"/>
<circle cx="1068.4" cy="841.7" r="2.6" fill="#6658c7" opacity="0.78"/>
<circle cx="1072.6" cy="838.5" r="2.6" fill="#6658c7" opacity="0.78"/>
<circle cx="1067.0" cy="837.7" r="2.6" fill="#6658c7" opacity="0.78"/>
<circle cx="1055.8" cy="794.3" r="7.1" fill="#7a6ed0" opacity="0.5"/>
<circle cx="1055.8" cy="794.3" r="5.2" fill="#877dd1" opacity="0.62"/>
<circle cx="1056.9" cy="797.5" r="3.0" fill="#877dd1" opacity="0.62"/>
<circle cx="1052.4" cy="793.9" r="3.0" fill="#877dd1" opacity="0.62"/>
<circle cx="1052.6" cy="793.4" r="3.0" fill="#877dd1" opacity="0.62"/>
<circle cx="1077.4" cy="800.5" r="7.1" fill="#7a6ed0" opacity="0.5"/>
<circle cx="1077.4" cy="800.5" r="5.2" fill="#877dd1" opacity="0.62"/>
<circle cx="1074.0" cy="800.3" r="3.0" fill="#877dd1" opacity="0.62"/>
<circle cx="1074.9" cy="802.7" r="3.0" fill="#877dd1" opacity="0.62"/>
<circle cx="1074.5" cy="798.8" r="3.0" fill="#877dd1" opacity="0.62"/>
<circle cx="1265.6" cy="768.1" r="7.1" fill="#7a6ed0" opacity="0.5"/>
<circle cx="1265.6" cy="768.1" r="5.2" fill="#6658c7" opacity="0.78"/>
<circle cx="1262.3" cy="767.2" r="3.0" fill="#6658c7" opacity="0.78"/>
<circle cx="1266.5" cy="764.8" r="3.0" fill="#6658c7" opacity="0.78"/>
<circle cx="1263.7" cy="770.9" r="3.0" fill="#6658c7" opacity="0.78"/>
<circle cx="1231.6" cy="765.0" r="5.3" fill="#7a6ed0" opacity="0.5"/>
<circle cx="1231.6" cy="765.0" r="3.9" fill="#6658c7" opacity="0.78"/>
<circle cx="1229.2" cy="765.7" r="2.2" fill="#6658c7" opacity="0.78"/>
<circle cx="1234.2" cy="765.2" r="2.2" fill="#6658c7" opacity="0.78"/>
<circle cx="1231.6" cy="762.5" r="2.2" fill="#6658c7" opacity="0.78"/>
<circle cx="1242.4" cy="778.9" r="5.3" fill="#7a6ed0" opacity="0.5"/>
<circle cx="1242.4" cy="778.9" r="3.9" fill="#6658c7" opacity="0.78"/>
<circle cx="1244.8" cy="779.8" r="2.2" fill="#6658c7" opacity="0.78"/>
<circle cx="1244.2" cy="777.1" r="2.2" fill="#6658c7" opacity="0.78"/>
<circle cx="1239.9" cy="778.6" r="2.2" fill="#6658c7" opacity="0.78"/>
<circle cx="1220.8" cy="717.2" r="4.4" fill="#7a6ed0" opacity="0.5"/>
<circle cx="1220.8" cy="717.2" r="3.2" fill="#6658c7" opacity="0.78"/>
<circle cx="1218.9" cy="716.3" r="1.9" fill="#6658c7" opacity="0.78"/>
<circle cx="1219.2" cy="718.6" r="1.9" fill="#6658c7" opacity="0.78"/>
<circle cx="1218.8" cy="716.5" r="1.9" fill="#6658c7" opacity="0.78"/>
<circle cx="1281.0" cy="728.0" r="7.1" fill="#7a6ed0" opacity="0.5"/>
<circle cx="1281.0" cy="728.0" r="5.2" fill="#877dd1" opacity="0.62"/>
<circle cx="1283.7" cy="730.0" r="3.0" fill="#877dd1" opacity="0.62"/>
<circle cx="1282.9" cy="730.8" r="3.0" fill="#877dd1" opacity="0.62"/>
<circle cx="1277.7" cy="727.3" r="3.0" fill="#877dd1" opacity="0.62"/>
<circle cx="1254.8" cy="720.3" r="5.3" fill="#7a6ed0" opacity="0.5"/>
<circle cx="1254.8" cy="720.3" r="3.9" fill="#877dd1" opacity="0.62"/>
<circle cx="1254.0" cy="722.7" r="2.2" fill="#877dd1" opacity="0.62"/>
<circle cx="1252.2" cy="720.2" r="2.2" fill="#877dd1" opacity="0.62"/>
<circle cx="1252.2" cy="720.4" r="2.2" fill="#877dd1" opacity="0.62"/>
<circle cx="1171.5" cy="738.8" r="3.5" fill="#7a6ed0" opacity="0.5"/>
<circle cx="1171.5" cy="738.8" r="2.6" fill="#6658c7" opacity="0.78"/>
<circle cx="1173.2" cy="738.6" r="1.5" fill="#6658c7" opacity="0.78"/>
<circle cx="1170.5" cy="737.4" r="1.5" fill="#6658c7" opacity="0.78"/>
<circle cx="1173.2" cy="739.0" r="1.5" fill="#6658c7" opacity="0.78"/>
<circle cx="1137.6" cy="766.6" r="3.5" fill="#7a6ed0" opacity="0.5"/>
<circle cx="1137.6" cy="766.6" r="2.6" fill="#6658c7" opacity="0.78"/>
<circle cx="1136.7" cy="765.1" r="1.5" fill="#6658c7" opacity="0.78"/>
<circle cx="1136.8" cy="768.1" r="1.5" fill="#6658c7" opacity="0.78"/>
<circle cx="1138.3" cy="768.1" r="1.5" fill="#6658c7" opacity="0.78"/>
<circle cx="1148.4" cy="768.1" r="3.5" fill="#7a6ed0" opacity="0.5"/>
<circle cx="1148.4" cy="768.1" r="2.6" fill="#6658c7" opacity="0.78"/>
<circle cx="1147.2" cy="769.4" r="1.5" fill="#6658c7" opacity="0.78"/>
<circle cx="1149.7" cy="767.1" r="1.5" fill="#6658c7" opacity="0.78"/>
<circle cx="1148.8" cy="766.5" r="1.5" fill="#6658c7" opacity="0.78"/>
<circle cx="1157.6" cy="755.8" r="6.2" fill="#7a6ed0" opacity="0.5"/>
<circle cx="1157.6" cy="755.8" r="4.5" fill="#877dd1" opacity="0.62"/>
<circle cx="1154.7" cy="756.5" r="2.6" fill="#877dd1" opacity="0.62"/>
<circle cx="1159.5" cy="753.5" r="2.6" fill="#877dd1" opacity="0.62"/>
<circle cx="1154.7" cy="755.5" r="2.6" fill="#877dd1" opacity="0.62"/>
<circle cx="1227.0" cy="794.3" r="7.1" fill="#7a6ed0" opacity="0.5"/>
<circle cx="1227.0" cy="794.3" r="5.2" fill="#877dd1" opacity="0.62"/>
<circle cx="1229.0" cy="797.0" r="3.0" fill="#877dd1" opacity="0.62"/>
<circle cx="1226.1" cy="791.0" r="3.0" fill="#877dd1" opacity="0.62"/>
<circle cx="1229.2" cy="791.7" r="3.0" fill="#877dd1" opacity="0.62"/>
<circle cx="1210.0" cy="800.5" r="4.4" fill="#7a6ed0" opacity="0.5"/>
<circle cx="1210.0" cy="800.5" r="3.2" fill="#877dd1" opacity="0.62"/>
<circle cx="1209.1" cy="798.6" r="1.9" fill="#877dd1" opacity="0.62"/>
<circle cx="1209.5" cy="802.5" r="1.9" fill="#877dd1" opacity="0.62"/>
<circle cx="1207.9" cy="800.8" r="1.9" fill="#877dd1" opacity="0.62"/>
</g></g>
<g filter="url(#b1)"><rect x="1259.6" y="885.7" width="33.6" height="3" fill="#fff"/>
<text x="1276.4" y="882.8" font-size="13" font-weight="bold" text-anchor="middle" fill="#fff">5 mm</text></g>
</g>
<line x1="95.7" y1="591.4" x2="1318.6" y2="591.4" stroke="#0a0a0a" stroke-width="3.4" stroke-linecap="butt"/>
<text x="717.5" y="579.0" font-size="29.4" text-anchor="middle" fill="#1c1c1c" >GA (4 days after treatment)</text>
<text x="244.0" y="620.0" font-size="29.4" text-anchor="middle" fill="#1c1c1c" >Control</text>
<text x="545.2" y="620.0" font-size="29.4" text-anchor="middle" fill="#1c1c1c" >20 <tspan font-family="Liberation Serif, serif" font-size="1.13em">µ</tspan>M</text>
<text x="860.4" y="620.0" font-size="29.4" text-anchor="middle" fill="#1c1c1c" >50 <tspan font-family="Liberation Serif, serif" font-size="1.13em">µ</tspan>M</text>
<text x="1169.0" y="620.0" font-size="29.4" text-anchor="middle" fill="#1c1c1c" >100 <tspan font-family="Liberation Serif, serif" font-size="1.13em">µ</tspan>M</text>
<defs><radialGradient id="lg"><stop offset="0" stop-color="#ee6a12" stop-opacity="0.95"/><stop offset="0.45" stop-color="#ee6a12" stop-opacity="0.7"/><stop offset="1" stop-color="#f08a30" stop-opacity="0"/></radialGradient></defs>
<line x1="54.4" y1="1021.9" x2="1577.3" y2="1021.9" stroke="#0a0a0a" stroke-width="3.4" stroke-linecap="butt"/>
<text x="799.5" y="1009.4" font-size="29.5" text-anchor="middle" fill="#1c1c1c" >GA (24 h), GM</text>
<rect x="68.4" y="1299.2" width="139.7" height="103.6" fill="#f2f4b4" stroke="none" stroke-width="0" />
<ellipse cx="131.8" cy="1351.2" rx="37" ry="27" fill="url(#lg)" transform="rotate(-18 131.8 1351.2)"/>
<path d="M144.5 1356.7h.01M129.8 1334.7h.01M126.6 1341.2h.01M133.6 1337.7h.01M147.8 1351.9h.01M166.8 1347.4h.01M143.4 1344.2h.01M127.8 1370.1h.01M136.4 1356.3h.01M139.7 1358.1h.01M99.3 1341.5h.01M148.6 1372.5h.01M99.6 1353.6h.01M133.7 1344.7h.01M125.9 1348.5h.01M146.7 1346.8h.01M130.5 1337.5h.01M147.6 1365.9h.01M139.9 1344.4h.01M113.4 1362.2h.01M137.1 1346.2h.01M92.4 1354.3h.01M110.4 1347.0h.01M130.7 1338.6h.01M131.1 1365.7h.01M118.0 1353.9h.01M137.9 1340.9h.01M107.5 1361.0h.01M137.6 1327.9h.01M123.3 1347.1h.01M144.5 1327.3h.01M120.9 1336.4h.01M114.3 1355.8h.01M123.7 1350.7h.01M112.9 1337.7h.01M149.1 1361.5h.01M128.2 1347.0h.01M152.0 1349.3h.01M137.0 1358.8h.01M113.1 1346.2h.01M127.4 1338.3h.01M131.1 1353.0h.01M140.5 1353.1h.01M107.8 1356.2h.01M138.6 1359.6h.01M144.3 1342.8h.01M122.7 1339.2h.01M119.7 1344.5h.01M108.4 1354.0h.01M150.7 1361.8h.01M134.3 1347.9h.01M137.7 1357.2h.01M139.5 1352.1h.01M125.7 1348.8h.01M167.5 1350.5h.01M119.1 1363.3h.01M118.9 1357.0h.01M123.1 1356.1h.01M120.8 1350.7h.01M139.7 1354.6h.01M106.7 1372.7h.01M92.7 1346.0h.01M124.0 1358.7h.01M127.4 1345.7h.01M146.4 1346.3h.01M132.8 1359.6h.01M127.4 1377.1h.01M150.4 1344.5h.01M132.5 1352.5h.01M144.0 1351.7h.01M115.3 1344.4h.01M143.5 1331.1h.01M122.4 1367.5h.01M111.2 1364.0h.01M156.1 1371.0h.01M152.7 1346.6h.01M120.6 1370.7h.01M156.4 1361.5h.01M155.9 1343.7h.01M123.0 1341.5h.01M141.2 1357.8h.01M122.9 1356.6h.01M152.1 1362.6h.01M119.9 1352.4h.01M113.8 1346.0h.01M147.9 1357.0h.01M124.8 1350.8h.01M128.7 1373.1h.01M121.5 1350.8h.01M121.2 1362.2h.01M118.0 1334.5h.01M136.2 1351.5h.01M129.3 1352.8h.01M137.0 1353.8h.01M151.7 1352.9h.01M149.9 1353.4h.01M139.4 1347.5h.01M128.6 1337.6h.01M156.1 1367.0h.01M127.4 1341.9h.01M136.1 1346.5h.01M140.6 1330.0h.01M161.0 1358.0h.01M131.7 1327.3h.01M132.3 1368.8h.01M131.4 1341.3h.01M134.4 1350.8h.01M113.1 1356.7h.01M149.8 1356.4h.01M148.9 1349.7h.01M121.7 1354.0h.01M164.3 1347.7h.01M140.1 1336.7h.01M150.2 1347.7h.01M155.0 1339.3h.01M129.4 1349.1h.01M121.2 1350.8h.01M133.9 1350.4h.01M143.6 1369.8h.01M142.7 1354.0h.01M127.5 1374.0h.01M113.3 1332.9h.01M135.4 1354.5h.01M122.5 1369.9h.01M101.4 1343.5h.01M129.1 1347.6h.01M129.9 1358.7h.01M134.2 1366.7h.01M110.4 1364.6h.01M164.6 1343.0h.01M149.1 1361.1h.01M133.4 1348.0h.01M90.8 1356.6h.01M149.2 1346.1h.01M120.4 1359.8h.01M136.9 1356.1h.01M133.0 1358.5h.01M129.9 1374.7h.01M141.9 1345.2h.01M143.7 1348.8h.01M135.9 1344.5h.01M127.2 1348.6h.01M128.0 1357.8h.01M119.2 1348.2h.01M130.6 1338.4h.01M129.7 1353.2h.01M133.2 1348.1h.01M88.1 1365.6h.01M132.3 1341.0h.01M141.0 1344.6h.01M112.9 1350.3h.01M127.0 1343.8h.01M123.1 1359.9h.01M150.3 1336.4h.01M122.9 1370.2h.01M122.0 1348.8h.01M125.1 1353.4h.01M134.5 1354.6h.01M151.8 1352.1h.01M139.9 1330.2h.01M146.4 1372.8h.01M124.6 1368.1h.01M115.9 1349.3h.01M113.9 1335.4h.01M122.3 1341.9h.01M143.4 1333.4h.01M109.3 1380.3h.01M128.9 1353.9h.01M164.4 1334.6h.01M106.7 1355.3h.01M128.2 1347.6h.01M133.3 1335.8h.01M147.4 1343.4h.01M132.9 1369.5h.01M101.4 1353.8h.01M154.7 1348.2h.01M138.6 1345.2h.01M148.2 1352.8h.01M116.2 1343.5h.01M118.1 1353.8h.01M111.7 1325.9h.01M116.9 1355.6h.01M140.4 1347.0h.01M103.4 1352.3h.01M132.7 1333.2h.01M121.9 1343.5h.01M132.6 1350.8h.01M119.1 1360.9h.01M126.8 1343.9h.01M140.3 1359.8h.01M116.9 1345.8h.01M141.0 1339.4h.01M142.2 1363.0h.01M129.7 1353.5h.01M126.9 1355.9h.01M106.0 1341.3h.01M119.7 1327.6h.01M154.1 1360.4h.01M130.3 1343.5h.01M123.2 1355.1h.01M128.9 1364.7h.01M122.7 1361.2h.01M121.7 1338.4h.01M148.9 1355.2h.01M131.6 1348.5h.01M131.1 1349.2h.01M120.2 1359.7h.01M137.7 1349.8h.01M124.0 1346.1h.01M122.8 1353.3h.01M101.0 1344.1h.01M128.9 1341.6h.01M144.2 1344.5h.01M132.4 1362.4h.01M146.0 1345.6h.01M131.0 1364.8h.01M111.4 1343.8h.01M121.6 1338.6h.01M120.2 1361.2h.01M148.5 1344.3h.01M129.7 1341.5h.01M146.7 1347.1h.01M116.6 1354.6h.01M135.9 1356.2h.01M155.3 1348.9h.01M104.1 1356.7h.01M143.8 1333.3h.01M133.8 1327.6h.01M152.1 1334.1h.01M140.8 1342.1h.01M162.8 1340.6h.01M137.0 1329.7h.01M127.1 1338.3h.01M97.1 1359.6h.01M131.5 1366.8h.01M141.4 1344.6h.01M141.2 1356.1h.01M116.8 1360.8h.01M135.4 1358.2h.01M144.8 1356.9h.01M142.8 1355.6h.01M145.6 1360.5h.01M122.4 1348.8h.01M143.8 1347.2h.01M140.7 1343.2h.01M111.9 1352.1h.01M118.6 1350.7h.01M132.6 1336.0h.01M114.7 1352.0h.01M131.9 1362.2h.01M124.5 1336.3h.01M155.4 1343.0h.01M144.8 1346.5h.01M134.3 1387.6h.01M116.4 1362.7h.01M135.7 1345.7h.01M146.4 1354.9h.01M134.5 1354.1h.01M123.4 1340.3h.01M112.9 1361.8h.01M129.8 1362.3h.01M125.0 1367.1h.01M114.2 1360.7h.01M112.3 1353.2h.01M158.0 1348.1h.01M135.8 1347.6h.01M126.7 1338.5h.01M131.1 1349.5h.01M150.7 1348.1h.01M124.7 1351.8h.01M131.4 1346.4h.01M148.7 1333.4h.01M120.7 1333.3h.01M130.8 1366.2h.01M156.9 1345.6h.01M134.7 1353.5h.01M131.0 1347.6h.01M102.1 1338.9h.01M112.8 1353.9h.01M128.1 1334.2h.01M127.0 1352.8h.01M155.0 1341.9h.01M110.8 1360.3h.01M134.1 1358.5h.01M147.0 1349.0h.01M124.9 1351.4h.01M140.6 1358.4h.01M158.7 1342.5h.01M154.7 1364.2h.01M119.1 1351.3h.01M152.5 1351.2h.01M145.2 1350.4h.01M159.4 1341.9h.01M122.8 1340.0h.01M110.3 1345.8h.01M135.6 1346.5h.01M158.3 1324.2h.01M118.9 1350.5h.01M145.6 1350.0h.01M154.5 1347.5h.01M109.1 1348.5h.01M138.5 1342.0h.01M126.5 1334.8h.01M126.4 1351.5h.01M141.0 1337.7h.01M105.0 1364.6h.01M135.3 1352.0h.01M115.5 1341.4h.01M112.5 1354.9h.01M129.6 1331.5h.01M113.3 1342.8h.01M122.8 1353.7h.01M132.3 1347.8h.01M144.9 1359.5h.01M116.1 1373.4h.01M130.0 1364.0h.01M148.2 1365.6h.01M120.7 1368.3h.01M126.8 1340.8h.01M165.9 1359.0h.01M160.0 1346.7h.01M143.2 1357.3h.01M118.4 1359.5h.01M110.5 1349.3h.01M128.3 1348.7h.01M126.7 1358.0h.01M149.0 1342.9h.01M141.8 1347.5h.01M121.1 1342.4h.01M129.0 1358.4h.01M103.1 1346.4h.01M114.2 1357.4h.01M141.7 1345.1h.01M118.8 1373.7h.01M135.8 1351.4h.01M119.9 1344.3h.01M145.4 1338.8h.01M132.7 1366.9h.01M113.9 1362.3h.01M134.7 1354.1h.01M152.4 1333.1h.01M137.1 1353.7h.01M138.2 1333.8h.01M106.6 1366.2h.01M137.5 1330.6h.01M151.8 1334.4h.01M152.9 1344.5h.01M161.6 1354.6h.01M136.8 1336.1h.01M113.0 1363.8h.01M130.1 1367.9h.01M135.6 1349.2h.01M114.9 1369.4h.01M140.4 1357.7h.01M135.8 1336.8h.01M133.9 1361.7h.01M123.1 1363.9h.01M142.8 1347.3h.01M124.2 1374.5h.01M111.0 1359.2h.01M135.3 1346.3h.01M137.0 1355.0h.01M135.2 1353.7h.01M141.7 1372.5h.01M147.0 1336.3h.01M107.0 1357.5h.01M142.6 1345.2h.01M129.2 1346.3h.01M121.3 1363.8h.01M123.2 1348.6h.01M125.3 1356.8h.01M119.0 1370.5h.01M135.5 1359.8h.01M122.9 1349.8h.01M139.5 1342.1h.01M130.4 1360.8h.01M117.4 1359.3h.01M121.1 1361.1h.01M134.8 1354.0h.01M145.7 1331.0h.01M127.4 1339.9h.01M139.0 1347.5h.01M166.2 1348.0h.01M113.0 1353.6h.01M108.0 1357.1h.01M114.6 1341.3h.01M105.4 1358.1h.01M112.2 1339.7h.01M131.3 1345.7h.01M112.8 1363.0h.01M124.9 1341.8h.01M102.5 1348.0h.01M136.5 1358.3h.01M130.8 1357.4h.01M113.4 1348.7h.01M149.5 1344.3h.01M133.9 1355.7h.01M124.1 1350.2h.01M145.6 1355.9h.01M133.9 1342.0h.01M132.2 1354.6h.01M156.3 1338.8h.01M125.8 1352.4h.01M149.4 1340.6h.01M121.5 1338.7h.01M116.4 1352.2h.01M130.9 1346.7h.01M133.2 1364.8h.01M115.9 1359.7h.01M124.7 1351.4h.01M132.8 1351.8h.01M117.1 1342.3h.01M141.6 1348.9h.01M124.7 1370.9h.01M129.4 1344.9h.01M114.2 1360.8h.01M132.3 1344.2h.01M144.1 1365.4h.01M124.9 1344.6h.01M135.7 1361.9h.01M152.9 1347.7h.01M132.0 1343.7h.01M148.5 1331.3h.01M157.0 1349.3h.01M131.1 1336.8h.01M138.0 1361.7h.01M149.6 1340.9h.01M156.7 1338.2h.01M106.1 1347.6h.01M124.2 1354.8h.01M121.8 1352.2h.01M130.9 1355.9h.01M105.9 1356.7h.01M156.6 1343.0h.01M121.1 1336.4h.01M138.5 1364.2h.01M147.7 1337.5h.01M117.2 1367.6h.01M140.9 1340.4h.01M136.8 1359.7h.01M128.2 1345.0h.01M148.9 1373.0h.01M138.8 1350.3h.01M134.6 1335.0h.01M151.4 1327.5h.01M146.7 1362.7h.01M133.9 1366.9h.01M157.4 1349.0h.01M142.1 1363.3h.01M112.2 1361.8h.01M129.5 1353.3h.01M130.4 1359.7h.01M136.3 1349.7h.01M131.1 1345.6h.01M125.0 1368.6h.01M128.0 1351.4h.01M131.9 1360.3h.01M117.9 1345.2h.01M129.6 1352.4h.01M117.9 1360.2h.01M146.9 1357.4h.01M143.3 1356.0h.01M143.7 1354.8h.01M150.2 1352.7h.01M98.7 1346.6h.01M130.7 1356.7h.01M114.9 1366.9h.01M142.8 1375.0h.01M135.5 1365.8h.01M149.5 1354.6h.01M130.0 1338.8h.01M131.9 1365.2h.01M143.2 1347.1h.01M126.9 1339.1h.01M143.4 1346.7h.01M133.2 1348.5h.01M135.8 1348.6h.01M128.9 1359.1h.01M132.7 1373.3h.01M140.7 1362.4h.01M122.7 1349.8h.01M112.7 1355.7h.01M127.7 1378.5h.01M174.8 1329.4h.01M131.6 1362.5h.01M121.1 1330.4h.01M119.8 1389.9h.01M124.2 1386.8h.01M126.1 1316.3h.01M139.8 1373.0h.01M146.3 1335.6h.01M140.9 1352.1h.01M104.8 1342.0h.01M105.7 1312.1h.01M102.7 1350.4h.01M157.1 1321.5h.01M154.3 1349.7h.01M113.6 1347.8h.01M140.6 1348.1h.01M176.4 1307.8h.01M115.7 1369.6h.01M110.9 1350.7h.01M171.8 1337.1h.01M109.4 1356.9h.01M94.3 1349.3h.01M116.6 1322.6h.01M127.9 1343.6h.01M104.9 1362.6h.01M132.8 1336.4h.01M126.9 1368.3h.01M118.6 1400.7h.01M119.5 1373.6h.01M172.1 1347.7h.01M108.3 1365.2h.01M102.6 1329.3h.01M103.5 1324.9h.01M155.2 1371.7h.01M108.1 1361.0h.01M127.0 1346.8h.01M166.8 1318.8h.01M176.0 1372.7h.01M114.4 1384.7h.01M184.0 1345.0h.01M126.0 1331.6h.01M112.7 1374.5h.01M202.6 1366.9h.01M92.5 1362.8h.01M114.8 1351.5h.01M96.4 1312.0h.01M161.7 1340.6h.01M133.5 1320.1h.01M96.2 1324.4h.01M127.2 1370.6h.01M125.8 1364.8h.01M128.1 1350.7h.01M111.2 1346.2h.01M120.2 1361.3h.01M137.3 1337.0h.01M183.8 1344.2h.01M155.8 1347.7h.01M148.6 1345.5h.01M86.7 1358.3h.01M97.2 1353.2h.01M130.6 1344.9h.01M127.9 1364.3h.01M190.2 1328.1h.01M148.7 1371.2h.01M120.5 1328.8h.01M121.0 1318.7h.01M145.7 1350.3h.01M139.4 1363.1h.01M152.8 1355.7h.01M106.9 1368.2h.01M156.9 1366.0h.01M112.6 1345.4h.01M172.4 1335.3h.01M160.1 1334.1h.01M124.9 1323.5h.01M148.5 1335.4h.01M87.6 1392.1h.01M138.2 1371.1h.01M133.1 1357.2h.01M135.0 1349.4h.01M96.3 1354.2h.01M118.1 1331.5h.01M144.7 1339.0h.01M111.9 1343.9h.01M139.9 1345.2h.01M110.9 1348.4h.01M147.3 1342.0h.01M130.5 1349.0h.01M139.0 1369.0h.01M91.5 1336.3h.01M118.3 1358.9h.01M127.4 1361.9h.01M144.5 1329.3h.01M91.1 1372.7h.01M104.7 1341.3h.01M105.7 1375.8h.01M177.7 1344.8h.01M132.7 1368.4h.01M204.4 1348.5h.01M125.6 1355.3h.01M181.1 1333.1h.01M134.9 1340.1h.01M150.7 1379.3h.01M85.9 1353.0h.01M110.5 1328.3h.01M169.3 1313.4h.01M119.9 1346.1h.01M97.8 1358.1h.01M76.0 1388.8h.01M74.1 1361.2h.01M162.8 1317.6h.01M169.8 1352.9h.01M111.7 1384.8h.01M134.8 1351.7h.01M109.3 1329.8h.01M121.6 1346.6h.01M88.5 1328.1h.01M148.3 1325.7h.01M107.9 1394.7h.01M173.5 1323.7h.01M120.2 1357.5h.01M96.6 1380.3h.01M143.3 1367.2h.01M115.6 1387.7h.01M124.7 1378.4h.01M137.4 1399.4h.01M158.7 1380.7h.01M102.7 1381.8h.01M142.7 1344.2h.01M140.3 1361.8h.01M156.0 1376.5h.01" stroke="#ee6a12" stroke-width="1.7" stroke-linecap="square" fill="none" opacity="0.8"/>
<path d="M112.8 1354.5h.01M92.7 1352.2h.01M114.2 1371.5h.01M123.0 1314.7h.01M138.0 1327.8h.01M77.8 1347.5h.01M154.5 1374.6h.01M169.2 1308.3h.01M127.7 1335.6h.01M185.3 1364.8h.01M106.4 1357.1h.01M180.7 1367.0h.01M157.2 1357.2h.01M202.8 1386.3h.01M131.7 1393.7h.01M184.7 1341.6h.01M132.6 1308.1h.01M181.4 1315.0h.01M118.1 1387.4h.01M194.2 1323.5h.01M146.1 1336.6h.01M168.3 1349.3h.01M159.3 1368.9h.01M202.6 1335.9h.01M77.2 1331.7h.01M78.5 1310.9h.01M80.6 1327.4h.01M151.8 1315.4h.01M131.4 1377.2h.01M147.1 1338.9h.01M168.9 1387.4h.01M193.3 1342.7h.01M171.8 1370.8h.01M117.2 1323.0h.01M163.6 1309.0h.01M80.6 1396.5h.01M145.1 1340.6h.01M139.1 1323.4h.01M97.0 1341.8h.01M170.3 1384.6h.01M81.9 1337.7h.01M174.5 1353.1h.01M190.7 1341.7h.01M162.3 1384.6h.01M140.7 1316.3h.01M82.7 1316.5h.01M151.7 1392.2h.01M99.4 1343.3h.01M83.2 1330.4h.01M108.7 1306.3h.01M165.2 1378.2h.01M117.9 1387.8h.01M193.2 1383.4h.01M156.3 1333.1h.01M177.1 1336.3h.01M202.4 1388.1h.01M111.3 1385.6h.01M88.4 1332.1h.01M123.8 1386.6h.01M168.8 1366.2h.01M171.7 1349.7h.01M112.7 1318.3h.01M173.8 1340.0h.01M129.8 1324.0h.01M201.9 1323.0h.01M78.4 1336.3h.01M107.6 1331.3h.01M84.4 1382.2h.01M134.4 1375.0h.01M158.4 1311.4h.01" stroke="#f0a060" stroke-width="1.5" stroke-linecap="square" fill="none" opacity="0.55"/>
<path d="M251.6 1160.6h.01M236.7 1196.0h.01M233.9 1204.1h.01M273.9 1166.3h.01M241.9 1207.3h.01M235.3 1190.0h.01M266.0 1174.3h.01M236.2 1186.6h.01M271.6 1352.2h.01M182.4 1367.8h.01M173.3 1316.7h.01M244.0 1342.5h.01M275.6 1284.8h.01M256.0 1257.0h.01M335.8 1349.6h.01M326.6 1324.3h.01" stroke="#f2708a" stroke-width="2.3" stroke-linecap="square" fill="none" opacity="0.85"/>
<line x1="208.1" y1="1080.5" x2="208.1" y2="1402.8" stroke="#ee4b4b" stroke-width="2.6" stroke-linecap="butt"/>
<line x1="68.4" y1="1299.2" x2="392.5" y2="1299.2" stroke="#ee4b4b" stroke-width="2.6" stroke-linecap="butt"/>
<rect x="68.4" y="1080.5" width="324.1" height="322.3" fill="none" stroke="#666" stroke-width="2" />
<path d="M64.4 1378.5h4M92.8 1402.8v4M64.4 1364.4h4M107.1 1402.8v4M64.4 1354.3h4M117.2 1402.8v4M64.4 1346.5h4M125.0 1402.8v4M64.4 1340.1h4M131.4 1402.8v4M64.4 1334.7h4M136.9 1402.8v4M64.4 1330.0h4M141.6 1402.8v4M64.4 1325.9h4M145.7 1402.8v4M64.4 1298.0h4M173.8 1402.8v4M64.4 1283.8h4M188.1 1402.8v4M64.4 1273.7h4M198.2 1402.8v4M64.4 1265.9h4M206.1 1402.8v4M64.4 1259.5h4M212.5 1402.8v4M64.4 1254.1h4M217.9 1402.8v4M64.4 1249.5h4M222.6 1402.8v4M64.4 1245.3h4M226.7 1402.8v4M64.4 1217.4h4M254.8 1402.8v4M64.4 1203.2h4M269.1 1402.8v4M64.4 1193.1h4M279.2 1402.8v4M64.4 1185.3h4M287.1 1402.8v4M64.4 1179.0h4M293.5 1402.8v4M64.4 1173.6h4M298.9 1402.8v4M64.4 1168.9h4M303.6 1402.8v4M64.4 1164.8h4M307.8 1402.8v4M64.4 1136.8h4M335.9 1402.8v4M64.4 1122.6h4M350.1 1402.8v4M64.4 1112.6h4M360.3 1402.8v4M64.4 1104.8h4M368.1 1402.8v4M64.4 1098.4h4M374.5 1402.8v4M64.4 1093.0h4M379.9 1402.8v4M64.4 1088.3h4M384.6 1402.8v4M64.4 1084.2h4M388.8 1402.8v4M61.4 1402.8h7M68.4 1402.8v7M61.4 1322.2h7M149.4 1402.8v7M61.4 1241.6h7M230.5 1402.8v7M61.4 1161.1h7M311.5 1402.8v7M61.4 1080.5h7M392.5 1402.8v7" stroke="#777" stroke-width="1.3" fill="none"/>
<circle cx="208.1" cy="1153.5" r="7.3" fill="#f90b14"/>
<circle cx="330.4" cy="1299.2" r="7.3" fill="#f90b14"/>
<circle cx="208.1" cy="1299.2" r="6" fill="#fff" stroke="#ee3a3a" stroke-width="1.8"/>
<text x="73.6" y="1100.0" font-size="19.2" text-anchor="start" fill="#3a3a3a" >Dead</text>
<text x="73.6" y="1122.0" font-size="19.2" text-anchor="start" fill="#3a3a3a" >0.25 %</text>
<text x="387.0" y="1100.0" font-size="19.2" text-anchor="end" fill="#3a3a3a" >Late Apop./Dead</text>
<text x="384.0" y="1122.0" font-size="19.2" text-anchor="end" fill="#3a3a3a" >0.41 %</text>
<text x="73.6" y="1372.8" font-size="19.2" text-anchor="start" fill="#3a3a3a" >98.98 %</text>
<text x="73.6" y="1395.0" font-size="19.2" text-anchor="start" fill="#3a3a3a" >Live</text>
<text x="384.0" y="1372.8" font-size="19.2" text-anchor="end" fill="#3a3a3a" >0.36 %</text>
<text x="384.0" y="1395.0" font-size="19.2" text-anchor="end" fill="#3a3a3a" >Early Apop.</text>
<text x="58.9" y="1411.0" font-size="18.5" text-anchor="end" fill="#3a3a3a" >0</text>
<text x="66.9" y="1429.8" font-size="18.5" text-anchor="middle" fill="#3a3a3a" >0</text>
<text x="58.9" y="1330.4" font-size="18.5" text-anchor="end" fill="#3a3a3a" >1</text>
<text x="147.9" y="1429.8" font-size="18.5" text-anchor="middle" fill="#3a3a3a" >1</text>
<text x="58.9" y="1249.8" font-size="18.5" text-anchor="end" fill="#3a3a3a" >2</text>
<text x="229.0" y="1429.8" font-size="18.5" text-anchor="middle" fill="#3a3a3a" >2</text>
<text x="58.9" y="1169.3" font-size="18.5" text-anchor="end" fill="#3a3a3a" >3</text>
<text x="310.0" y="1429.8" font-size="18.5" text-anchor="middle" fill="#3a3a3a" >3</text>
<text x="58.9" y="1088.7" font-size="18.5" text-anchor="end" fill="#3a3a3a" >4</text>
<text x="390.0" y="1429.8" font-size="18.5" text-anchor="middle" fill="#3a3a3a" >4</text>
<text x="228.0" y="1052.0" font-size="29.5" text-anchor="middle" fill="#1c1c1c" >Control</text>
<text x="230.7" y="1076.2" font-size="20.8" text-anchor="middle" fill="#3a3a3a" >APOPTOSIS PROFILE</text>
<text transform="translate(38.0,1246.6) rotate(-90)" font-size="20.6" text-anchor="middle" fill="#3a3a3a">VIABILITY</text>
<text x="65.4" y="1448.7" font-size="20.5" text-anchor="start" fill="#3a3a3a" >Live</text>
<text x="221.3" y="1448.7" font-size="20.5" text-anchor="middle" fill="#3a3a3a" >ANNEXIN V</text>
<text x="399.2" y="1448.7" font-size="20.5" text-anchor="end" fill="#3a3a3a" >Apoptotic</text>
<rect x="461.5" y="1299.2" width="139.7" height="103.6" fill="#f2f4b4" stroke="none" stroke-width="0" />
<ellipse cx="527.2" cy="1351.2" rx="37" ry="27" fill="url(#lg)" transform="rotate(-18 527.2 1351.2)"/>
<path d="M517.7 1350.7h.01M558.3 1335.7h.01M506.9 1361.1h.01M531.7 1357.3h.01M526.6 1367.9h.01M544.8 1374.1h.01M536.8 1351.2h.01M551.6 1353.3h.01M518.8 1363.2h.01M521.7 1367.0h.01M520.2 1357.8h.01M517.0 1358.5h.01M552.1 1356.3h.01M513.6 1340.8h.01M535.9 1340.9h.01M518.3 1362.0h.01M511.8 1365.5h.01M543.8 1346.3h.01M513.3 1353.5h.01M550.7 1345.9h.01M546.4 1345.8h.01M530.1 1352.7h.01M530.6 1353.8h.01M544.3 1359.3h.01M522.2 1342.4h.01M514.6 1345.1h.01M497.2 1361.2h.01M522.1 1373.5h.01M514.5 1339.7h.01M533.4 1349.4h.01M541.1 1348.7h.01M553.4 1335.2h.01M529.7 1345.7h.01M514.8 1336.9h.01M531.3 1331.6h.01M534.7 1354.1h.01M528.5 1333.4h.01M537.5 1340.3h.01M532.3 1345.7h.01M554.9 1336.1h.01M525.4 1355.3h.01M504.2 1353.6h.01M525.1 1354.9h.01M528.2 1371.1h.01M560.5 1354.4h.01M529.4 1358.0h.01M564.7 1359.1h.01M536.1 1342.7h.01M547.6 1353.7h.01M528.6 1349.6h.01M503.0 1342.9h.01M509.8 1360.5h.01M528.6 1343.1h.01M528.8 1366.7h.01M508.6 1352.8h.01M516.3 1377.2h.01M526.7 1367.5h.01M536.9 1341.1h.01M537.8 1350.4h.01M535.6 1351.0h.01M539.1 1354.3h.01M518.8 1362.7h.01M511.7 1341.9h.01M519.0 1344.2h.01M514.0 1343.6h.01M543.0 1356.0h.01M522.4 1367.8h.01M523.8 1344.2h.01M513.7 1360.4h.01M526.9 1354.3h.01M574.4 1346.5h.01M522.7 1340.8h.01M519.1 1346.2h.01M510.6 1330.3h.01M526.0 1339.4h.01M559.6 1338.1h.01M542.6 1350.3h.01M516.7 1357.2h.01M519.9 1349.5h.01M520.3 1331.7h.01M550.0 1350.2h.01M529.7 1366.1h.01M504.3 1330.4h.01M528.4 1341.2h.01M524.3 1346.0h.01M520.4 1342.2h.01M528.5 1358.9h.01M538.3 1366.9h.01M537.4 1352.5h.01M532.0 1355.7h.01M520.5 1338.8h.01M505.1 1338.0h.01M523.6 1353.3h.01M537.4 1360.2h.01M513.0 1331.7h.01M516.5 1354.1h.01M494.3 1347.7h.01M516.7 1376.7h.01M540.7 1338.6h.01M519.7 1354.3h.01M531.1 1352.0h.01M506.1 1346.8h.01M547.0 1344.1h.01M542.0 1345.9h.01M531.5 1352.7h.01M526.8 1364.5h.01M539.3 1346.5h.01M534.6 1366.4h.01M515.5 1364.1h.01M549.1 1361.7h.01M546.2 1336.0h.01M538.2 1343.7h.01M540.1 1348.9h.01M538.3 1340.1h.01M531.6 1355.8h.01M538.3 1357.8h.01M551.5 1333.0h.01M523.0 1334.1h.01M541.7 1364.3h.01M534.0 1362.3h.01M559.1 1345.7h.01M544.0 1356.4h.01M512.1 1342.6h.01M518.5 1344.4h.01M528.9 1325.5h.01M490.6 1342.4h.01M529.2 1347.5h.01M522.9 1348.3h.01M517.0 1345.5h.01M529.1 1347.9h.01M531.0 1348.9h.01M528.3 1351.1h.01M564.3 1362.0h.01M537.7 1326.6h.01M540.5 1362.4h.01M528.8 1333.6h.01M530.9 1379.1h.01M519.3 1337.2h.01M527.2 1362.1h.01M524.2 1338.9h.01M494.7 1363.6h.01M504.7 1369.0h.01M545.7 1349.1h.01M526.2 1349.9h.01M520.7 1344.8h.01M509.5 1346.0h.01M556.2 1361.8h.01M529.3 1356.5h.01M522.6 1354.1h.01M550.5 1354.7h.01M544.6 1353.5h.01M537.0 1340.0h.01M532.5 1330.4h.01M531.3 1353.6h.01M527.1 1329.6h.01M537.2 1334.0h.01M489.7 1361.7h.01M520.1 1334.8h.01M530.8 1348.1h.01M521.8 1338.3h.01M538.7 1348.1h.01M519.5 1340.5h.01M515.0 1351.7h.01M496.8 1351.8h.01M545.2 1343.6h.01M525.1 1347.2h.01M542.4 1357.2h.01M529.2 1345.6h.01M540.7 1357.2h.01M526.1 1357.3h.01M538.5 1357.3h.01M527.7 1344.5h.01M528.0 1346.9h.01M531.9 1366.1h.01M540.3 1347.4h.01M535.2 1355.2h.01M532.5 1345.2h.01M514.1 1331.6h.01M534.4 1370.9h.01M521.4 1370.3h.01M513.8 1350.6h.01M541.1 1335.5h.01M522.9 1365.7h.01M526.4 1360.2h.01M561.0 1328.9h.01M551.2 1364.0h.01M526.2 1349.9h.01M541.6 1353.9h.01M545.7 1330.6h.01M530.6 1362.1h.01M535.2 1345.2h.01M541.3 1353.6h.01M508.6 1336.9h.01M528.5 1349.6h.01M532.2 1354.7h.01M512.9 1349.5h.01M543.1 1338.9h.01M507.1 1346.6h.01M542.6 1368.7h.01M540.2 1331.3h.01M527.1 1344.6h.01M541.5 1350.0h.01M523.0 1345.3h.01M542.3 1330.3h.01M518.1 1342.2h.01M547.7 1360.8h.01M538.6 1358.9h.01M523.7 1336.7h.01M536.5 1370.8h.01M523.7 1362.8h.01M507.9 1364.0h.01M548.7 1348.0h.01M501.2 1361.2h.01M517.6 1365.1h.01M532.0 1348.9h.01M528.0 1339.0h.01M526.0 1360.0h.01M539.1 1368.2h.01M546.2 1372.0h.01M514.9 1354.3h.01M527.0 1337.0h.01M532.1 1345.5h.01M525.2 1349.4h.01M536.5 1358.6h.01M525.0 1360.2h.01M502.8 1351.4h.01M514.0 1362.1h.01M527.0 1343.5h.01M530.4 1350.1h.01M512.6 1370.9h.01M531.3 1359.7h.01M554.0 1368.8h.01M530.6 1346.9h.01M518.5 1352.5h.01M537.8 1348.6h.01M518.1 1341.2h.01M526.8 1365.5h.01M540.4 1351.9h.01M553.1 1354.7h.01M513.3 1367.5h.01M522.3 1362.6h.01M515.9 1351.0h.01M501.3 1354.1h.01M536.9 1351.3h.01M544.6 1347.2h.01M543.5 1354.5h.01M540.1 1358.4h.01M527.6 1369.1h.01M534.6 1323.2h.01M498.6 1365.8h.01M533.6 1341.5h.01M563.0 1336.1h.01M545.3 1360.7h.01M515.2 1341.0h.01M521.8 1344.3h.01M534.6 1333.5h.01M550.5 1369.9h.01M525.6 1348.0h.01M536.4 1349.6h.01M510.4 1341.6h.01M552.1 1333.5h.01M532.0 1356.6h.01M541.5 1352.1h.01M515.9 1359.9h.01M531.9 1335.9h.01M530.8 1329.3h.01M525.0 1338.7h.01M514.0 1362.9h.01M507.2 1361.8h.01M536.5 1334.9h.01M530.9 1364.2h.01M520.4 1355.0h.01M542.1 1353.8h.01M546.8 1338.6h.01M560.5 1348.8h.01M519.7 1338.8h.01M540.0 1347.4h.01M521.9 1363.9h.01M545.3 1356.2h.01M508.1 1347.2h.01M508.5 1357.8h.01M552.1 1356.6h.01M542.0 1330.5h.01M526.0 1343.4h.01M526.9 1354.7h.01M527.4 1329.8h.01M543.9 1340.0h.01M529.9 1330.0h.01M532.1 1352.5h.01M549.1 1323.5h.01M518.5 1339.0h.01M508.0 1370.7h.01M527.2 1354.8h.01M527.8 1347.3h.01M518.1 1338.5h.01M541.6 1354.1h.01M529.3 1370.4h.01M526.6 1341.7h.01M537.3 1356.3h.01M510.2 1362.3h.01M538.6 1344.4h.01M543.2 1358.4h.01M508.0 1365.6h.01M514.0 1343.7h.01M529.2 1343.9h.01M527.1 1344.4h.01M509.1 1358.9h.01M519.9 1352.1h.01M516.3 1357.0h.01M528.0 1362.3h.01M519.8 1357.5h.01M506.9 1334.3h.01M535.3 1346.3h.01M532.2 1360.8h.01M505.6 1348.7h.01M510.6 1349.7h.01M564.7 1338.8h.01M528.6 1342.8h.01M526.8 1348.4h.01M547.3 1339.2h.01M539.5 1342.0h.01M522.1 1344.7h.01M534.5 1345.7h.01M539.3 1347.8h.01M514.4 1343.6h.01M530.5 1334.5h.01M526.3 1325.6h.01M534.2 1351.0h.01M527.0 1357.0h.01M503.3 1353.3h.01M537.8 1359.5h.01M527.9 1353.0h.01M528.7 1359.4h.01M504.5 1331.7h.01M544.3 1350.9h.01M508.0 1360.9h.01M555.7 1364.1h.01M528.3 1365.2h.01M513.6 1363.4h.01M539.1 1336.9h.01M514.2 1378.3h.01M551.3 1368.3h.01M519.9 1346.2h.01M556.1 1339.9h.01M500.1 1358.9h.01M538.5 1352.5h.01M493.2 1365.8h.01M503.3 1384.1h.01M504.2 1350.2h.01M527.1 1345.5h.01M542.3 1339.1h.01M534.6 1353.2h.01M529.0 1337.1h.01M550.6 1333.9h.01M511.5 1352.8h.01M521.3 1322.7h.01M524.7 1364.6h.01M531.1 1352.2h.01M541.6 1350.5h.01M501.1 1344.9h.01M518.9 1325.5h.01M532.6 1371.1h.01M523.9 1361.9h.01M476.5 1357.7h.01M522.5 1353.6h.01M517.6 1365.0h.01M522.0 1347.1h.01M527.2 1357.7h.01M512.2 1355.2h.01M523.3 1364.4h.01M523.1 1337.2h.01M522.4 1341.6h.01M533.0 1346.8h.01M533.8 1351.2h.01M514.6 1356.5h.01M528.1 1352.2h.01M527.3 1347.5h.01M495.0 1340.6h.01M531.3 1364.6h.01M536.7 1340.2h.01M530.2 1348.8h.01M501.8 1351.1h.01M499.7 1360.9h.01M554.4 1339.9h.01M505.5 1360.5h.01M538.1 1336.5h.01M537.4 1350.0h.01M520.6 1349.9h.01M555.8 1366.7h.01M482.9 1365.2h.01M535.8 1331.9h.01M518.9 1357.8h.01M537.7 1351.0h.01M507.1 1358.0h.01M539.7 1357.0h.01M511.6 1372.9h.01M524.7 1372.1h.01M499.9 1339.7h.01M527.6 1359.7h.01M516.0 1355.5h.01M493.2 1345.9h.01M517.3 1353.0h.01M548.3 1349.4h.01M525.4 1352.3h.01M513.7 1370.2h.01M515.8 1347.8h.01M565.3 1331.0h.01M538.0 1349.0h.01M515.0 1348.8h.01M539.1 1366.7h.01M539.1 1340.0h.01M545.1 1342.2h.01M512.2 1346.4h.01M529.5 1327.6h.01M510.4 1356.6h.01M528.8 1330.3h.01M520.8 1347.8h.01M539.1 1354.9h.01M541.3 1349.5h.01M523.6 1356.7h.01M543.8 1358.2h.01M533.8 1344.1h.01M521.3 1341.9h.01M561.9 1341.6h.01M542.5 1354.3h.01M539.4 1348.2h.01M521.0 1361.8h.01M487.9 1360.2h.01M512.6 1348.1h.01M532.2 1339.0h.01M518.8 1342.5h.01M525.7 1346.8h.01M542.3 1361.4h.01M523.3 1342.0h.01M548.0 1348.3h.01M540.7 1353.5h.01M531.2 1331.4h.01M528.9 1346.0h.01M526.0 1348.9h.01M550.8 1341.6h.01M525.0 1330.3h.01M532.9 1332.4h.01M531.6 1348.1h.01M549.9 1352.1h.01M550.7 1357.0h.01M508.7 1366.6h.01M544.4 1354.2h.01M517.2 1336.7h.01M534.0 1356.4h.01M537.6 1331.9h.01M524.3 1352.0h.01M517.0 1336.4h.01M496.5 1337.4h.01M504.6 1343.5h.01M530.1 1359.4h.01M580.5 1328.7h.01M546.1 1354.7h.01M515.2 1341.2h.01M518.6 1360.6h.01M533.5 1346.3h.01M550.8 1353.3h.01M542.0 1347.4h.01M504.7 1352.4h.01M530.9 1365.7h.01M507.1 1340.7h.01M494.9 1366.2h.01M498.1 1368.1h.01M511.4 1367.1h.01M526.2 1366.5h.01M526.0 1347.6h.01M526.8 1346.8h.01M527.5 1345.2h.01M530.8 1359.6h.01M530.0 1365.3h.01M516.1 1371.5h.01M512.4 1369.1h.01M523.5 1364.8h.01M513.9 1350.1h.01M527.4 1336.0h.01M505.1 1352.9h.01M535.9 1366.7h.01M551.0 1320.7h.01M565.0 1327.4h.01M551.7 1357.6h.01M504.0 1375.4h.01M524.7 1374.4h.01M535.5 1341.8h.01M560.5 1353.8h.01M554.3 1344.5h.01M538.1 1383.7h.01M547.8 1368.0h.01M549.0 1321.1h.01M515.6 1363.5h.01M568.8 1325.7h.01M514.7 1340.3h.01M543.1 1388.5h.01M542.9 1311.5h.01M521.6 1384.4h.01M538.7 1306.5h.01M522.6 1345.2h.01M550.4 1349.3h.01M529.5 1332.3h.01M559.3 1348.0h.01M547.8 1362.9h.01M511.3 1332.5h.01M492.9 1355.8h.01M586.4 1320.8h.01M513.0 1355.1h.01M518.8 1342.8h.01M539.8 1347.7h.01M480.4 1381.7h.01M478.6 1367.4h.01M481.2 1359.7h.01M480.9 1362.1h.01M517.4 1367.5h.01M530.8 1314.7h.01M529.1 1320.2h.01M529.3 1324.1h.01M496.9 1333.5h.01M521.9 1356.3h.01M557.0 1309.4h.01M519.7 1373.6h.01M586.2 1363.6h.01M556.7 1352.0h.01M584.1 1339.4h.01M501.6 1325.5h.01M485.0 1350.1h.01M535.7 1343.4h.01M528.5 1361.0h.01M516.9 1356.0h.01M496.0 1339.5h.01M505.8 1319.5h.01M535.2 1351.0h.01M497.8 1369.4h.01M515.7 1336.5h.01M556.1 1331.8h.01M485.8 1366.9h.01M560.7 1322.1h.01M538.4 1339.1h.01M532.8 1352.3h.01M484.9 1345.1h.01M548.0 1371.3h.01M544.9 1372.6h.01M582.3 1328.3h.01M527.7 1358.4h.01M536.2 1374.2h.01M516.6 1373.9h.01M464.4 1367.1h.01M514.8 1372.3h.01M518.8 1377.9h.01M551.7 1364.4h.01M476.0 1363.9h.01M516.8 1375.0h.01M526.3 1352.8h.01M510.6 1324.5h.01M535.7 1346.9h.01M549.4 1316.1h.01M537.7 1340.8h.01M533.7 1383.2h.01M518.9 1345.3h.01M516.3 1334.7h.01M511.4 1358.7h.01M590.2 1357.9h.01M525.7 1331.8h.01M521.4 1326.7h.01M497.5 1340.0h.01M474.8 1392.9h.01M523.6 1331.2h.01M504.0 1354.8h.01M546.3 1357.3h.01M536.0 1336.4h.01M528.0 1356.7h.01M548.2 1342.3h.01M552.7 1373.7h.01M575.5 1356.3h.01M524.0 1346.4h.01M527.7 1336.8h.01M571.7 1356.3h.01M548.9 1335.9h.01M526.1 1375.6h.01M509.9 1338.2h.01M474.6 1376.9h.01M529.9 1370.6h.01M573.5 1392.0h.01M527.8 1336.0h.01M524.0 1302.1h.01M524.0 1369.9h.01M528.3 1391.0h.01M478.4 1379.4h.01M497.6 1382.9h.01M556.1 1334.9h.01M562.8 1379.0h.01M553.5 1337.6h.01M582.2 1324.4h.01M504.9 1363.7h.01M534.1 1365.0h.01M528.2 1363.1h.01M551.7 1343.4h.01M569.0 1361.1h.01M514.6 1340.9h.01M505.3 1332.0h.01M569.0 1331.8h.01M528.6 1363.7h.01M507.8 1366.3h.01M545.2 1382.3h.01M523.3 1376.4h.01M507.9 1380.1h.01M544.2 1363.4h.01M529.4 1377.8h.01M471.8 1350.8h.01M525.4 1350.2h.01M515.5 1314.5h.01M543.2 1339.2h.01" stroke="#ee6a12" stroke-width="1.7" stroke-linecap="square" fill="none" opacity="0.8"/>
<path d="M544.2 1322.1h.01M549.3 1372.0h.01M580.0 1353.0h.01M541.4 1332.2h.01M481.7 1344.0h.01M492.7 1368.1h.01M499.8 1340.2h.01M471.1 1333.5h.01M577.5 1315.7h.01M534.1 1373.0h.01M589.9 1364.2h.01M475.5 1374.6h.01M578.2 1382.5h.01M570.3 1370.9h.01M565.6 1344.9h.01M476.9 1325.1h.01M529.5 1351.4h.01M596.5 1338.7h.01M525.1 1374.8h.01M506.7 1339.8h.01M492.0 1349.9h.01M488.2 1361.4h.01M526.7 1322.7h.01M503.1 1359.2h.01M510.5 1394.6h.01M593.0 1341.1h.01M557.8 1328.0h.01M491.6 1376.9h.01M588.8 1327.5h.01M508.5 1362.7h.01M488.9 1324.2h.01M532.2 1345.2h.01M504.2 1350.3h.01M505.1 1342.3h.01M569.5 1359.1h.01M525.6 1347.0h.01M593.0 1394.0h.01M581.4 1374.3h.01M524.5 1352.8h.01M486.0 1392.4h.01M491.9 1311.9h.01M549.3 1314.9h.01M564.6 1333.1h.01M563.8 1355.5h.01M486.6 1352.5h.01M554.6 1305.4h.01M486.4 1339.4h.01M545.1 1342.5h.01M521.1 1366.2h.01M500.4 1332.4h.01M529.3 1390.8h.01M521.1 1311.8h.01M498.9 1353.0h.01M594.1 1364.2h.01M537.5 1326.9h.01M512.3 1385.4h.01M594.8 1339.1h.01M551.7 1369.0h.01M562.3 1331.2h.01M499.7 1339.0h.01M531.2 1325.8h.01M474.0 1389.4h.01M515.0 1350.2h.01M506.5 1391.8h.01M553.2 1384.0h.01M499.0 1375.1h.01M525.4 1327.9h.01M551.8 1314.6h.01M591.2 1318.3h.01M572.5 1345.5h.01" stroke="#f0a060" stroke-width="1.5" stroke-linecap="square" fill="none" opacity="0.55"/>
<path d="M595.3 1239.6h.01M651.2 1192.4h.01M607.1 1228.6h.01M625.9 1195.6h.01M594.7 1222.7h.01M598.2 1226.0h.01M642.3 1218.6h.01M611.4 1223.4h.01M608.6 1233.0h.01M611.6 1221.4h.01M673.0 1303.0h.01M581.8 1232.2h.01M599.0 1351.3h.01M684.2 1335.3h.01M724.0 1233.8h.01M633.6 1253.2h.01M585.3 1267.2h.01M613.9 1341.8h.01M681.2 1227.0h.01M651.5 1250.4h.01M623.8 1315.9h.01" stroke="#f2708a" stroke-width="2.3" stroke-linecap="square" fill="none" opacity="0.85"/>
<line x1="601.2" y1="1080.5" x2="601.2" y2="1402.8" stroke="#ee4b4b" stroke-width="2.6" stroke-linecap="butt"/>
<line x1="461.5" y1="1299.2" x2="785.6" y2="1299.2" stroke="#ee4b4b" stroke-width="2.6" stroke-linecap="butt"/>
<rect x="461.5" y="1080.5" width="324.1" height="322.3" fill="none" stroke="#666" stroke-width="2" />
<path d="M457.5 1378.5h4M485.9 1402.8v4M457.5 1364.4h4M500.2 1402.8v4M457.5 1354.3h4M510.3 1402.8v4M457.5 1346.5h4M518.1 1402.8v4M457.5 1340.1h4M524.5 1402.8v4M457.5 1334.7h4M530.0 1402.8v4M457.5 1330.0h4M534.7 1402.8v4M457.5 1325.9h4M538.8 1402.8v4M457.5 1298.0h4M566.9 1402.8v4M457.5 1283.8h4M581.2 1402.8v4M457.5 1273.7h4M591.3 1402.8v4M457.5 1265.9h4M599.2 1402.8v4M457.5 1259.5h4M605.6 1402.8v4M457.5 1254.1h4M611.0 1402.8v4M457.5 1249.5h4M615.7 1402.8v4M457.5 1245.3h4M619.8 1402.8v4M457.5 1217.4h4M647.9 1402.8v4M457.5 1203.2h4M662.2 1402.8v4M457.5 1193.1h4M672.3 1402.8v4M457.5 1185.3h4M680.2 1402.8v4M457.5 1179.0h4M686.6 1402.8v4M457.5 1173.6h4M692.0 1402.8v4M457.5 1168.9h4M696.7 1402.8v4M457.5 1164.8h4M700.9 1402.8v4M457.5 1136.8h4M729.0 1402.8v4M457.5 1122.6h4M743.2 1402.8v4M457.5 1112.6h4M753.4 1402.8v4M457.5 1104.8h4M761.2 1402.8v4M457.5 1098.4h4M767.6 1402.8v4M457.5 1093.0h4M773.0 1402.8v4M457.5 1088.3h4M777.7 1402.8v4M457.5 1084.2h4M781.9 1402.8v4M454.5 1402.8h7M461.5 1402.8v7M454.5 1322.2h7M542.5 1402.8v7M454.5 1241.6h7M623.5 1402.8v7M454.5 1161.1h7M704.6 1402.8v7M454.5 1080.5h7M785.6 1402.8v7" stroke="#777" stroke-width="1.3" fill="none"/>
<circle cx="601.2" cy="1153.5" r="7.3" fill="#f90b14"/>
<circle cx="723.5" cy="1299.2" r="7.3" fill="#f90b14"/>
<circle cx="601.2" cy="1299.2" r="6" fill="#fff" stroke="#ee3a3a" stroke-width="1.8"/>
<text x="466.7" y="1100.0" font-size="19.2" text-anchor="start" fill="#3a3a3a" >Dead</text>
<text x="466.7" y="1122.0" font-size="19.2" text-anchor="start" fill="#3a3a3a" >0.31 %</text>
<text x="780.1" y="1100.0" font-size="19.2" text-anchor="end" fill="#3a3a3a" >Late Apop./Dead</text>
<text x="777.1" y="1122.0" font-size="19.2" text-anchor="end" fill="#3a3a3a" >0.36 %</text>
<text x="466.7" y="1372.8" font-size="19.2" text-anchor="start" fill="#3a3a3a" >99.13 %</text>
<text x="466.7" y="1395.0" font-size="19.2" text-anchor="start" fill="#3a3a3a" >Live</text>
<text x="777.1" y="1372.8" font-size="19.2" text-anchor="end" fill="#3a3a3a" >0.20 %</text>
<text x="777.1" y="1395.0" font-size="19.2" text-anchor="end" fill="#3a3a3a" >Early Apop.</text>
<text x="452.0" y="1411.0" font-size="18.5" text-anchor="end" fill="#3a3a3a" >0</text>
<text x="460.0" y="1429.8" font-size="18.5" text-anchor="middle" fill="#3a3a3a" >0</text>
<text x="452.0" y="1330.4" font-size="18.5" text-anchor="end" fill="#3a3a3a" >1</text>
<text x="541.0" y="1429.8" font-size="18.5" text-anchor="middle" fill="#3a3a3a" >1</text>
<text x="452.0" y="1249.8" font-size="18.5" text-anchor="end" fill="#3a3a3a" >2</text>
<text x="622.0" y="1429.8" font-size="18.5" text-anchor="middle" fill="#3a3a3a" >2</text>
<text x="452.0" y="1169.3" font-size="18.5" text-anchor="end" fill="#3a3a3a" >3</text>
<text x="703.1" y="1429.8" font-size="18.5" text-anchor="middle" fill="#3a3a3a" >3</text>
<text x="452.0" y="1088.7" font-size="18.5" text-anchor="end" fill="#3a3a3a" >4</text>
<text x="783.1" y="1429.8" font-size="18.5" text-anchor="middle" fill="#3a3a3a" >4</text>
<text x="623.4" y="1052.0" font-size="29.5" text-anchor="middle" fill="#1c1c1c" >20 <tspan font-family="Liberation Serif, serif" font-size="1.13em">µ</tspan>M</text>
<text x="615.7" y="1076.2" font-size="20.8" text-anchor="middle" fill="#3a3a3a" >APOPTOSIS PROFILE</text>
<text transform="translate(428.5,1246.6) rotate(-90)" font-size="20.6" text-anchor="middle" fill="#3a3a3a">VIABILITY</text>
<text x="445.3" y="1448.7" font-size="20.5" text-anchor="start" fill="#3a3a3a" >Live</text>
<text x="617.7" y="1448.7" font-size="20.5" text-anchor="middle" fill="#3a3a3a" >ANNEXIN V</text>
<text x="794.2" y="1448.7" font-size="20.5" text-anchor="end" fill="#3a3a3a" >Apoptotic</text>
<rect x="855.2" y="1299.2" width="139.7" height="103.6" fill="#f2f4b4" stroke="none" stroke-width="0" />
<ellipse cx="921.3" cy="1351.2" rx="37" ry="27" fill="url(#lg)" transform="rotate(-18 921.3 1351.2)"/>
<path d="M937.1 1358.3h.01M937.0 1361.3h.01M908.0 1348.7h.01M904.4 1347.1h.01M939.8 1348.8h.01M905.6 1347.2h.01M935.1 1334.3h.01M915.3 1358.7h.01M944.2 1358.3h.01M909.7 1340.9h.01M906.4 1360.7h.01M928.4 1362.3h.01M937.4 1358.1h.01M902.8 1345.2h.01M922.9 1355.5h.01M914.4 1368.0h.01M896.6 1358.1h.01M909.2 1359.8h.01M927.7 1345.5h.01M930.7 1362.3h.01M908.1 1346.8h.01M905.2 1352.2h.01M900.3 1337.9h.01M926.7 1335.4h.01M887.6 1367.1h.01M903.2 1362.1h.01M932.8 1335.1h.01M905.9 1367.7h.01M890.6 1346.7h.01M905.5 1346.8h.01M938.5 1343.4h.01M898.0 1374.3h.01M929.1 1346.3h.01M950.3 1351.4h.01M929.9 1341.1h.01M925.6 1366.6h.01M930.0 1345.6h.01M902.3 1362.6h.01M927.4 1360.5h.01M934.7 1356.7h.01M923.4 1355.0h.01M916.0 1357.0h.01M928.7 1353.1h.01M911.5 1359.2h.01M915.9 1341.6h.01M923.8 1357.5h.01M919.3 1369.3h.01M929.7 1360.3h.01M925.2 1330.4h.01M895.2 1364.7h.01M912.9 1347.8h.01M929.9 1352.1h.01M921.8 1340.4h.01M934.2 1322.4h.01M934.0 1341.0h.01M933.3 1347.7h.01M930.0 1364.0h.01M904.4 1332.9h.01M903.0 1330.3h.01M907.7 1346.1h.01M925.2 1342.4h.01M920.4 1334.0h.01M923.9 1347.5h.01M942.2 1369.4h.01M934.2 1356.4h.01M905.5 1348.8h.01M942.4 1325.4h.01M918.5 1357.1h.01M933.4 1341.1h.01M923.1 1356.6h.01M941.0 1345.6h.01M921.7 1364.9h.01M934.7 1341.0h.01M926.2 1348.4h.01M917.1 1334.1h.01M924.7 1349.4h.01M902.3 1356.8h.01M905.6 1349.1h.01M923.7 1374.0h.01M934.3 1335.1h.01M938.4 1342.1h.01M943.6 1352.1h.01M944.0 1355.1h.01M913.6 1347.7h.01M925.5 1353.2h.01M947.4 1370.1h.01M932.2 1370.4h.01M932.4 1355.1h.01M908.2 1357.3h.01M931.4 1346.1h.01M911.6 1355.1h.01M941.9 1355.2h.01M915.4 1363.9h.01M917.8 1347.9h.01M944.1 1349.4h.01M924.1 1350.2h.01M878.9 1375.6h.01M935.0 1317.9h.01M881.0 1358.9h.01M938.2 1350.0h.01M927.1 1340.3h.01M907.6 1360.0h.01M905.7 1370.1h.01M931.4 1346.6h.01M914.9 1371.2h.01M914.3 1333.2h.01M901.2 1335.4h.01M929.2 1335.7h.01M921.3 1355.7h.01M934.9 1330.0h.01M928.7 1343.3h.01M911.4 1329.0h.01M922.8 1353.0h.01M928.1 1355.9h.01M904.2 1338.2h.01M926.2 1334.3h.01M959.2 1334.9h.01M893.1 1369.6h.01M916.8 1344.5h.01M912.5 1350.6h.01M903.0 1369.1h.01M939.8 1346.0h.01M911.3 1358.0h.01M939.3 1350.6h.01M919.2 1356.2h.01M906.0 1365.8h.01M946.7 1352.2h.01M937.5 1352.1h.01M906.6 1372.2h.01M936.8 1334.9h.01M920.5 1360.9h.01M925.8 1338.0h.01M901.8 1344.2h.01M929.5 1358.7h.01M933.2 1344.5h.01M924.7 1344.9h.01M939.0 1346.6h.01M921.5 1365.7h.01M920.9 1348.2h.01M907.1 1355.9h.01M941.4 1332.8h.01M935.9 1334.4h.01M913.3 1366.4h.01M906.9 1353.0h.01M920.5 1366.9h.01M928.6 1343.9h.01M917.5 1357.5h.01M914.0 1361.8h.01M941.5 1353.4h.01M911.3 1371.1h.01M927.7 1367.1h.01M929.9 1347.5h.01M900.6 1379.3h.01M912.1 1359.8h.01M942.1 1361.5h.01M913.3 1374.0h.01M911.9 1351.8h.01M952.6 1339.9h.01M916.7 1337.7h.01M914.3 1326.7h.01M927.1 1357.1h.01M919.1 1340.5h.01M948.5 1340.4h.01M912.4 1353.2h.01M903.2 1347.4h.01M896.2 1350.1h.01M891.4 1364.2h.01M913.0 1350.2h.01M923.4 1344.5h.01M945.1 1329.3h.01M926.7 1356.4h.01M913.1 1342.2h.01M907.8 1368.6h.01M918.8 1357.0h.01M890.5 1354.1h.01M927.7 1347.8h.01M918.1 1342.5h.01M935.1 1344.7h.01M933.6 1353.1h.01M912.0 1353.6h.01M920.1 1341.8h.01M918.4 1344.1h.01M900.0 1359.0h.01M927.2 1358.1h.01M926.4 1340.2h.01M913.1 1366.3h.01M904.6 1336.0h.01M892.2 1352.0h.01M943.0 1328.4h.01M938.7 1337.3h.01M913.4 1343.4h.01M952.0 1356.7h.01M911.3 1359.6h.01M896.1 1353.8h.01M923.4 1345.8h.01M921.2 1325.6h.01M955.1 1336.6h.01M890.5 1351.1h.01M893.8 1348.6h.01M935.4 1345.9h.01M942.6 1357.2h.01M948.2 1333.4h.01M906.5 1358.8h.01M946.2 1358.3h.01M921.9 1356.6h.01M953.1 1356.1h.01M901.6 1367.5h.01M938.2 1351.1h.01M915.1 1334.3h.01M931.0 1359.8h.01M927.2 1326.7h.01M940.0 1353.3h.01M934.2 1337.2h.01M921.4 1342.1h.01M918.9 1352.1h.01M923.0 1337.1h.01M943.1 1368.0h.01M923.1 1353.4h.01M919.0 1347.5h.01M915.5 1348.1h.01M945.9 1345.8h.01M901.8 1346.9h.01M910.3 1337.8h.01M931.3 1358.3h.01M893.0 1348.3h.01M907.9 1345.4h.01M927.7 1329.8h.01M923.4 1357.6h.01M951.4 1342.2h.01M930.1 1362.4h.01M899.2 1355.8h.01M939.5 1339.2h.01M931.7 1358.2h.01M930.0 1358.3h.01M915.3 1337.1h.01M896.3 1343.4h.01M932.5 1347.5h.01M910.5 1339.5h.01M968.1 1341.8h.01M906.4 1365.8h.01M926.7 1360.9h.01M955.6 1359.6h.01M927.2 1350.4h.01M914.3 1339.2h.01M912.7 1377.5h.01M912.9 1342.5h.01M905.6 1331.1h.01M928.8 1341.2h.01M920.6 1343.7h.01M893.0 1383.2h.01M916.6 1341.6h.01M905.1 1353.2h.01M912.7 1341.0h.01M907.6 1359.0h.01M936.8 1332.3h.01M925.3 1361.0h.01M937.6 1335.5h.01M901.9 1348.3h.01M931.0 1361.7h.01M917.4 1340.6h.01M910.0 1361.2h.01M911.5 1349.8h.01M922.6 1347.1h.01M920.0 1338.3h.01M923.7 1358.8h.01M922.1 1357.4h.01M933.1 1347.0h.01M942.3 1352.5h.01M932.9 1346.1h.01M927.9 1363.6h.01M917.0 1363.5h.01M869.1 1350.9h.01M913.4 1361.1h.01M912.2 1340.3h.01M930.1 1340.1h.01M906.8 1346.0h.01M905.4 1348.6h.01M926.7 1354.3h.01M881.1 1391.5h.01M903.8 1356.1h.01M898.9 1364.6h.01M914.9 1362.0h.01M915.1 1365.6h.01M902.0 1359.4h.01M932.6 1343.6h.01M881.5 1339.8h.01M913.7 1332.4h.01M923.0 1343.9h.01M910.0 1347.3h.01M917.9 1356.9h.01M920.6 1326.9h.01M928.9 1339.7h.01M941.6 1334.8h.01M897.6 1345.7h.01M921.2 1349.6h.01M902.6 1346.3h.01M908.9 1370.8h.01M919.4 1347.0h.01M920.1 1352.6h.01M917.4 1356.3h.01M933.7 1347.3h.01M917.4 1345.8h.01M930.2 1347.0h.01M924.6 1342.4h.01M931.0 1338.8h.01M927.0 1339.3h.01M922.2 1373.5h.01M929.2 1349.4h.01M936.6 1357.1h.01M919.5 1343.5h.01M893.0 1349.8h.01M946.5 1343.6h.01M924.1 1352.2h.01M906.9 1356.4h.01M907.6 1365.3h.01M941.7 1346.0h.01M949.0 1363.2h.01M911.6 1355.6h.01M905.8 1354.5h.01M946.2 1351.2h.01M898.3 1367.7h.01M916.7 1332.1h.01M932.3 1344.9h.01M902.0 1351.8h.01M899.7 1345.9h.01M918.4 1336.2h.01M904.2 1348.4h.01M930.7 1355.0h.01M938.8 1355.7h.01M911.6 1349.5h.01M904.5 1372.0h.01M934.8 1358.2h.01M904.4 1355.7h.01M921.2 1377.8h.01M903.7 1352.0h.01M925.4 1351.3h.01M910.4 1356.4h.01M907.3 1339.9h.01M935.8 1350.5h.01M917.7 1367.2h.01M891.9 1351.8h.01M938.5 1348.7h.01M918.1 1345.7h.01M937.7 1348.9h.01M922.7 1354.1h.01M931.1 1333.3h.01M901.2 1338.1h.01M916.3 1341.0h.01M916.9 1327.3h.01M947.3 1335.1h.01M922.8 1322.7h.01M939.2 1340.0h.01M903.9 1365.0h.01M927.5 1348.4h.01M914.7 1355.8h.01M939.0 1354.3h.01M925.4 1354.6h.01M902.9 1350.4h.01M918.0 1352.3h.01M936.5 1356.5h.01M928.4 1350.9h.01M908.4 1377.7h.01M917.5 1329.5h.01M921.2 1346.2h.01M912.8 1337.8h.01M925.4 1348.1h.01M926.4 1354.7h.01M910.8 1359.3h.01M923.2 1369.4h.01M950.4 1331.7h.01M930.1 1351.4h.01M899.2 1364.5h.01M917.2 1331.5h.01M937.6 1355.9h.01M944.2 1349.2h.01M925.0 1341.6h.01M918.0 1355.2h.01M928.9 1341.7h.01M921.8 1361.7h.01M953.8 1368.5h.01M936.7 1340.8h.01M909.8 1362.5h.01M924.5 1349.0h.01M930.2 1364.6h.01M918.2 1364.2h.01M936.1 1353.0h.01M939.9 1338.1h.01M894.0 1347.9h.01M936.2 1361.8h.01M934.4 1344.5h.01M941.8 1346.0h.01M926.7 1346.7h.01M922.8 1367.8h.01M874.5 1360.3h.01M907.0 1352.6h.01M913.5 1363.7h.01M920.9 1333.1h.01M909.1 1359.1h.01M912.8 1349.3h.01M908.0 1356.4h.01M944.0 1345.7h.01M933.2 1352.2h.01M893.7 1347.0h.01M891.6 1339.3h.01M948.4 1345.1h.01M914.7 1336.1h.01M926.4 1348.5h.01M956.9 1353.3h.01M925.8 1346.2h.01M893.7 1365.5h.01M917.8 1350.8h.01M933.1 1367.9h.01M930.2 1355.8h.01M923.5 1344.1h.01M912.5 1350.6h.01M934.0 1359.3h.01M921.0 1340.5h.01M927.1 1366.6h.01M920.3 1349.7h.01M909.4 1343.2h.01M940.9 1343.6h.01M916.1 1350.0h.01M916.7 1353.1h.01M933.0 1358.9h.01M938.3 1322.9h.01M927.2 1338.3h.01M901.4 1363.1h.01M919.9 1353.5h.01M912.8 1327.2h.01M934.3 1336.7h.01M922.3 1343.9h.01M930.5 1370.4h.01M910.5 1353.9h.01M903.2 1342.8h.01M925.9 1345.9h.01M919.4 1364.4h.01M936.7 1318.8h.01M933.6 1353.1h.01M895.7 1372.4h.01M911.9 1346.4h.01M911.8 1350.8h.01M928.7 1340.0h.01M894.7 1352.2h.01M915.7 1352.7h.01M920.4 1352.8h.01M886.9 1376.3h.01M916.2 1323.0h.01M938.8 1358.8h.01M921.1 1339.6h.01M922.8 1346.1h.01M947.2 1326.8h.01M924.2 1354.4h.01M931.4 1337.2h.01M939.5 1344.0h.01M925.3 1358.6h.01M911.9 1345.6h.01M946.0 1340.9h.01M891.9 1350.1h.01M922.7 1340.4h.01M907.0 1348.6h.01M928.7 1350.3h.01M921.7 1353.7h.01M930.4 1338.7h.01M922.8 1355.5h.01M911.6 1343.9h.01M931.2 1336.2h.01M958.0 1356.0h.01M929.6 1341.5h.01M922.9 1335.7h.01M931.4 1352.8h.01M917.0 1365.5h.01M902.2 1357.1h.01M935.7 1348.5h.01M933.4 1355.3h.01M928.0 1348.9h.01M936.5 1347.1h.01M917.7 1355.5h.01M933.7 1331.9h.01M926.9 1335.3h.01M902.1 1356.6h.01M925.1 1354.1h.01M975.7 1322.1h.01M922.6 1376.0h.01M967.7 1362.3h.01M965.0 1358.3h.01M937.8 1343.1h.01M873.0 1345.5h.01M924.6 1312.7h.01M898.5 1336.9h.01M872.6 1358.6h.01M911.9 1323.2h.01M933.0 1335.2h.01M912.3 1372.4h.01M927.5 1382.2h.01M989.5 1333.7h.01M951.2 1367.0h.01M915.5 1336.2h.01M945.8 1330.5h.01M931.3 1372.2h.01M908.4 1348.5h.01M882.4 1342.4h.01M932.3 1366.7h.01M907.6 1367.1h.01M909.0 1359.4h.01M904.2 1393.6h.01M900.7 1337.6h.01M942.9 1358.1h.01M907.7 1332.3h.01M914.8 1321.2h.01M878.3 1365.4h.01M895.6 1359.2h.01M966.0 1334.1h.01M919.1 1353.8h.01M897.9 1362.9h.01M918.2 1347.1h.01M909.7 1342.3h.01M868.8 1353.6h.01M930.5 1329.2h.01M894.9 1356.1h.01M875.6 1373.8h.01M935.5 1353.6h.01M935.0 1340.9h.01M907.5 1321.8h.01M975.5 1349.7h.01M887.9 1352.9h.01M908.7 1334.4h.01M940.0 1325.0h.01M919.5 1329.9h.01M901.8 1366.9h.01M954.4 1379.4h.01M859.4 1345.7h.01M882.4 1336.9h.01M888.5 1350.9h.01M927.6 1340.6h.01M917.9 1350.3h.01M987.9 1371.3h.01M973.3 1339.8h.01M964.3 1336.0h.01M936.7 1344.5h.01M905.6 1327.9h.01M910.1 1354.5h.01M972.2 1349.4h.01M949.8 1370.0h.01M953.0 1364.6h.01M909.0 1341.5h.01M936.8 1343.8h.01M885.5 1366.7h.01M955.0 1365.7h.01M927.2 1386.9h.01M982.4 1322.7h.01M950.6 1357.3h.01M917.0 1347.3h.01M970.7 1339.3h.01M912.0 1341.0h.01M906.6 1317.9h.01M920.7 1377.3h.01M920.1 1344.3h.01M890.2 1308.5h.01M932.7 1301.7h.01M907.1 1367.4h.01M920.9 1336.3h.01M927.8 1377.9h.01M877.5 1393.4h.01M942.3 1359.3h.01M935.9 1334.8h.01M908.3 1330.5h.01M935.2 1342.8h.01M896.4 1358.4h.01M891.6 1311.9h.01M878.6 1314.5h.01M933.1 1328.0h.01M923.1 1357.5h.01M907.1 1369.1h.01M902.3 1355.2h.01M930.3 1331.4h.01M893.9 1332.4h.01M911.3 1346.9h.01M964.2 1357.3h.01M883.0 1369.3h.01M938.2 1334.6h.01M894.5 1382.6h.01M942.2 1367.2h.01M966.9 1355.1h.01M922.8 1365.2h.01M874.4 1371.1h.01M897.5 1342.7h.01M948.9 1356.0h.01M953.3 1342.1h.01M960.4 1357.4h.01M935.4 1332.3h.01M956.7 1334.0h.01M890.3 1369.9h.01M925.8 1316.8h.01M967.5 1309.9h.01M953.4 1383.2h.01M940.3 1334.1h.01M898.9 1339.5h.01M908.9 1373.9h.01M946.1 1340.0h.01M973.7 1344.5h.01M923.1 1354.5h.01M929.7 1362.3h.01M908.5 1351.1h.01M949.5 1321.2h.01M977.5 1321.5h.01M958.9 1303.4h.01M905.8 1392.3h.01M876.3 1393.5h.01M961.9 1344.9h.01M866.9 1372.0h.01M941.4 1376.7h.01" stroke="#ee6a12" stroke-width="1.7" stroke-linecap="square" fill="none" opacity="0.8"/>
<path d="M906.2 1395.6h.01M929.3 1341.3h.01M972.3 1365.5h.01M946.8 1365.7h.01M936.4 1372.6h.01M958.5 1370.5h.01M866.8 1365.9h.01M990.7 1369.9h.01M935.8 1316.1h.01M927.5 1345.4h.01M885.3 1332.9h.01M899.8 1307.5h.01M924.8 1378.5h.01M942.1 1390.7h.01M980.0 1363.6h.01M886.4 1308.2h.01M938.4 1312.6h.01M947.9 1383.5h.01M907.6 1328.9h.01M889.5 1394.9h.01M918.7 1337.0h.01M935.9 1367.3h.01M917.8 1360.5h.01M879.4 1320.7h.01M906.4 1360.6h.01M925.3 1333.2h.01M907.5 1309.1h.01M951.8 1383.9h.01M955.5 1374.0h.01M896.9 1334.6h.01M920.1 1319.3h.01M871.0 1380.0h.01M929.0 1383.0h.01M958.0 1341.9h.01M885.0 1329.0h.01M927.2 1365.3h.01M902.6 1337.9h.01M894.9 1336.3h.01M908.1 1350.1h.01M868.6 1377.0h.01M962.8 1360.1h.01M960.7 1357.8h.01M926.7 1387.3h.01M982.3 1389.8h.01M988.8 1335.1h.01M908.5 1375.7h.01M909.2 1345.5h.01M913.2 1378.5h.01M895.7 1306.6h.01M979.5 1359.6h.01M980.9 1329.1h.01M866.0 1309.7h.01M924.8 1335.3h.01M883.0 1390.6h.01M986.7 1326.4h.01M968.3 1393.3h.01M942.8 1325.9h.01M873.4 1335.4h.01M870.0 1388.4h.01M946.0 1363.1h.01M980.6 1337.6h.01M885.0 1372.9h.01M893.0 1343.8h.01M980.8 1395.1h.01M908.5 1338.4h.01M925.7 1335.1h.01M865.9 1315.0h.01M919.3 1346.8h.01M982.6 1316.2h.01M882.8 1307.3h.01" stroke="#f0a060" stroke-width="1.5" stroke-linecap="square" fill="none" opacity="0.55"/>
<path d="M1033.0 1203.3h.01M1032.4 1212.7h.01M1016.8 1197.1h.01M1036.8 1209.7h.01M1012.5 1227.5h.01M1031.7 1204.7h.01M1051.3 1161.3h.01M1017.9 1218.5h.01M1026.7 1200.5h.01M1040.9 1174.3h.01M1050.4 1170.2h.01M1028.5 1228.8h.01M1031.9 1224.6h.01M1027.1 1203.7h.01M1040.8 1181.4h.01M1042.5 1195.8h.01M996.9 1349.0h.01M1022.1 1330.4h.01M1099.6 1348.0h.01M1083.4 1274.0h.01M960.1 1325.2h.01M1090.4 1278.8h.01M1033.7 1266.9h.01M1116.5 1224.2h.01M1011.7 1337.2h.01M1074.1 1287.4h.01M1105.5 1233.4h.01M1096.0 1367.3h.01M1004.6 1236.0h.01M1108.9 1354.4h.01" stroke="#f2708a" stroke-width="2.3" stroke-linecap="square" fill="none" opacity="0.85"/>
<line x1="994.9" y1="1080.5" x2="994.9" y2="1402.8" stroke="#ee4b4b" stroke-width="2.6" stroke-linecap="butt"/>
<line x1="855.2" y1="1299.2" x2="1179.3" y2="1299.2" stroke="#ee4b4b" stroke-width="2.6" stroke-linecap="butt"/>
<rect x="855.2" y="1080.5" width="324.1" height="322.3" fill="none" stroke="#666" stroke-width="2" />
<path d="M851.2 1378.5h4M879.6 1402.8v4M851.2 1364.4h4M893.9 1402.8v4M851.2 1354.3h4M904.0 1402.8v4M851.2 1346.5h4M911.8 1402.8v4M851.2 1340.1h4M918.2 1402.8v4M851.2 1334.7h4M923.7 1402.8v4M851.2 1330.0h4M928.4 1402.8v4M851.2 1325.9h4M932.5 1402.8v4M851.2 1298.0h4M960.6 1402.8v4M851.2 1283.8h4M974.9 1402.8v4M851.2 1273.7h4M985.0 1402.8v4M851.2 1265.9h4M992.9 1402.8v4M851.2 1259.5h4M999.3 1402.8v4M851.2 1254.1h4M1004.7 1402.8v4M851.2 1249.5h4M1009.4 1402.8v4M851.2 1245.3h4M1013.5 1402.8v4M851.2 1217.4h4M1041.6 1402.8v4M851.2 1203.2h4M1055.9 1402.8v4M851.2 1193.1h4M1066.0 1402.8v4M851.2 1185.3h4M1073.9 1402.8v4M851.2 1179.0h4M1080.3 1402.8v4M851.2 1173.6h4M1085.7 1402.8v4M851.2 1168.9h4M1090.4 1402.8v4M851.2 1164.8h4M1094.6 1402.8v4M851.2 1136.8h4M1122.7 1402.8v4M851.2 1122.6h4M1136.9 1402.8v4M851.2 1112.6h4M1147.1 1402.8v4M851.2 1104.8h4M1154.9 1402.8v4M851.2 1098.4h4M1161.3 1402.8v4M851.2 1093.0h4M1166.7 1402.8v4M851.2 1088.3h4M1171.4 1402.8v4M851.2 1084.2h4M1175.6 1402.8v4M848.2 1402.8h7M855.2 1402.8v7M848.2 1322.2h7M936.2 1402.8v7M848.2 1241.6h7M1017.2 1402.8v7M848.2 1161.1h7M1098.3 1402.8v7M848.2 1080.5h7M1179.3 1402.8v7" stroke="#777" stroke-width="1.3" fill="none"/>
<circle cx="994.9" cy="1153.5" r="7.3" fill="#f90b14"/>
<circle cx="1117.2" cy="1299.2" r="7.3" fill="#f90b14"/>
<circle cx="994.9" cy="1299.2" r="6" fill="#fff" stroke="#ee3a3a" stroke-width="1.8"/>
<text x="860.4" y="1100.0" font-size="19.2" text-anchor="start" fill="#3a3a3a" >Dead</text>
<text x="860.4" y="1122.0" font-size="19.2" text-anchor="start" fill="#3a3a3a" >0.15 %</text>
<text x="1173.8" y="1100.0" font-size="19.2" text-anchor="end" fill="#3a3a3a" >Late Apop./Dead</text>
<text x="1170.8" y="1122.0" font-size="19.2" text-anchor="end" fill="#3a3a3a" >0.87 %</text>
<text x="860.4" y="1372.8" font-size="19.2" text-anchor="start" fill="#3a3a3a" >98.51 %</text>
<text x="860.4" y="1395.0" font-size="19.2" text-anchor="start" fill="#3a3a3a" >Live</text>
<text x="1170.8" y="1372.8" font-size="19.2" text-anchor="end" fill="#3a3a3a" >0.46 %</text>
<text x="1170.8" y="1395.0" font-size="19.2" text-anchor="end" fill="#3a3a3a" >Early Apop.</text>
<text x="845.7" y="1411.0" font-size="18.5" text-anchor="end" fill="#3a3a3a" >0</text>
<text x="853.7" y="1429.8" font-size="18.5" text-anchor="middle" fill="#3a3a3a" >0</text>
<text x="845.7" y="1330.4" font-size="18.5" text-anchor="end" fill="#3a3a3a" >1</text>
<text x="934.7" y="1429.8" font-size="18.5" text-anchor="middle" fill="#3a3a3a" >1</text>
<text x="845.7" y="1249.8" font-size="18.5" text-anchor="end" fill="#3a3a3a" >2</text>
<text x="1015.8" y="1429.8" font-size="18.5" text-anchor="middle" fill="#3a3a3a" >2</text>
<text x="845.7" y="1169.3" font-size="18.5" text-anchor="end" fill="#3a3a3a" >3</text>
<text x="1096.8" y="1429.8" font-size="18.5" text-anchor="middle" fill="#3a3a3a" >3</text>
<text x="845.7" y="1088.7" font-size="18.5" text-anchor="end" fill="#3a3a3a" >4</text>
<text x="1176.8" y="1429.8" font-size="18.5" text-anchor="middle" fill="#3a3a3a" >4</text>
<text x="1012.3" y="1052.0" font-size="29.5" text-anchor="middle" fill="#1c1c1c" >50 <tspan font-family="Liberation Serif, serif" font-size="1.13em">µ</tspan>M</text>
<text x="1010.7" y="1076.2" font-size="20.8" text-anchor="middle" fill="#3a3a3a" >APOPTOSIS PROFILE</text>
<text transform="translate(825.5,1246.6) rotate(-90)" font-size="20.6" text-anchor="middle" fill="#3a3a3a">VIABILITY</text>
<text x="845.4" y="1448.7" font-size="20.5" text-anchor="start" fill="#3a3a3a" >Live</text>
<text x="1017.5" y="1448.7" font-size="20.5" text-anchor="middle" fill="#3a3a3a" >ANNEXIN V</text>
<text x="1192.5" y="1448.7" font-size="20.5" text-anchor="end" fill="#3a3a3a" >Apoptotic</text>
<rect x="1248.5" y="1299.2" width="139.7" height="103.6" fill="#f2f4b4" stroke="none" stroke-width="0" />
<ellipse cx="1316.7" cy="1351.2" rx="37" ry="27" fill="url(#lg)" transform="rotate(-18 1316.7 1351.2)"/>
<path d="M1332.4 1344.5h.01M1306.8 1336.8h.01M1319.3 1354.7h.01M1309.7 1350.1h.01M1298.4 1372.8h.01M1320.7 1345.9h.01M1326.9 1351.7h.01M1317.6 1348.7h.01M1319.3 1355.5h.01M1332.0 1355.9h.01M1325.9 1358.6h.01M1309.0 1336.1h.01M1297.3 1367.4h.01M1289.2 1351.0h.01M1319.9 1360.8h.01M1281.7 1349.7h.01M1301.9 1347.5h.01M1319.3 1359.3h.01M1335.2 1376.8h.01M1335.9 1329.7h.01M1293.0 1355.8h.01M1315.4 1363.7h.01M1328.8 1356.4h.01M1318.1 1355.8h.01M1321.8 1347.1h.01M1320.9 1334.0h.01M1333.0 1352.7h.01M1359.8 1336.3h.01M1291.2 1352.1h.01M1311.0 1344.2h.01M1296.4 1353.2h.01M1299.0 1369.6h.01M1295.5 1364.4h.01M1332.8 1350.7h.01M1338.4 1348.5h.01M1326.6 1338.0h.01M1296.0 1351.8h.01M1321.8 1360.4h.01M1295.8 1350.5h.01M1307.0 1363.0h.01M1311.2 1365.3h.01M1308.2 1345.2h.01M1299.5 1337.1h.01M1274.4 1357.9h.01M1311.4 1376.0h.01M1325.3 1357.9h.01M1317.5 1348.4h.01M1289.9 1345.2h.01M1336.0 1339.2h.01M1311.6 1361.0h.01M1312.1 1349.7h.01M1347.9 1345.1h.01M1309.2 1348.9h.01M1306.9 1358.3h.01M1323.0 1342.5h.01M1307.5 1336.2h.01M1314.2 1359.6h.01M1301.5 1354.7h.01M1304.2 1349.8h.01M1317.7 1339.8h.01M1337.6 1358.8h.01M1331.3 1336.2h.01M1286.2 1354.7h.01M1318.4 1350.1h.01M1313.9 1352.3h.01M1313.3 1359.4h.01M1296.4 1361.8h.01M1322.1 1342.9h.01M1372.4 1336.1h.01M1316.4 1337.6h.01M1321.1 1352.1h.01M1331.7 1340.9h.01M1328.8 1332.4h.01M1311.0 1333.1h.01M1318.9 1358.8h.01M1295.9 1365.6h.01M1318.3 1332.8h.01M1300.2 1350.5h.01M1328.7 1362.7h.01M1303.4 1344.6h.01M1301.8 1325.6h.01M1322.7 1347.4h.01M1316.3 1366.1h.01M1309.8 1345.1h.01M1330.0 1341.7h.01M1316.1 1347.8h.01M1316.8 1353.5h.01M1317.5 1338.0h.01M1334.7 1341.0h.01M1313.1 1361.6h.01M1311.3 1358.1h.01M1336.3 1354.9h.01M1313.7 1363.4h.01M1311.2 1344.4h.01M1305.6 1358.4h.01M1311.2 1367.6h.01M1330.7 1353.1h.01M1336.7 1355.2h.01M1313.4 1379.6h.01M1295.6 1359.8h.01M1288.8 1357.2h.01M1305.8 1339.7h.01M1325.1 1349.7h.01M1313.4 1340.9h.01M1336.7 1342.3h.01M1322.7 1332.9h.01M1336.6 1341.0h.01M1329.7 1342.5h.01M1317.5 1356.2h.01M1323.1 1372.5h.01M1313.5 1349.5h.01M1333.5 1347.9h.01M1302.4 1353.0h.01M1328.4 1348.5h.01M1330.0 1334.5h.01M1319.2 1342.4h.01M1310.0 1347.0h.01M1312.6 1378.7h.01M1322.1 1358.4h.01M1329.1 1368.9h.01M1305.1 1341.3h.01M1323.5 1339.1h.01M1335.9 1335.3h.01M1315.7 1359.3h.01M1300.3 1353.7h.01M1317.4 1335.4h.01M1311.4 1337.9h.01M1319.9 1368.3h.01M1337.0 1342.8h.01M1311.8 1345.0h.01M1330.9 1354.7h.01M1294.0 1348.7h.01M1299.1 1359.2h.01M1321.2 1351.6h.01M1328.0 1354.2h.01M1318.8 1356.6h.01M1312.1 1361.2h.01M1325.4 1325.3h.01M1340.6 1342.7h.01M1327.7 1348.2h.01M1339.4 1343.7h.01M1321.2 1344.0h.01M1318.6 1355.6h.01M1302.3 1354.2h.01M1309.1 1354.8h.01M1331.6 1348.1h.01M1333.8 1338.5h.01M1311.4 1351.2h.01M1305.0 1359.3h.01M1304.1 1347.1h.01M1318.0 1342.4h.01M1316.2 1350.3h.01M1337.3 1360.2h.01M1322.1 1342.0h.01M1336.5 1371.4h.01M1310.6 1350.6h.01M1335.4 1344.1h.01M1315.0 1364.2h.01M1306.6 1365.1h.01M1306.1 1360.2h.01M1312.5 1343.2h.01M1323.8 1332.9h.01M1324.0 1346.6h.01M1327.7 1334.2h.01M1336.6 1366.9h.01M1307.4 1354.1h.01M1342.2 1382.8h.01M1317.9 1343.2h.01M1319.3 1348.4h.01M1305.5 1340.1h.01M1333.4 1328.1h.01M1307.2 1333.2h.01M1285.0 1367.3h.01M1297.4 1365.1h.01M1313.5 1341.0h.01M1322.0 1333.6h.01M1330.9 1358.9h.01M1297.3 1358.8h.01M1340.1 1346.7h.01M1300.7 1367.3h.01M1317.5 1353.2h.01M1297.1 1360.9h.01M1316.0 1337.9h.01M1321.8 1345.0h.01M1329.7 1354.8h.01M1298.3 1341.5h.01M1336.7 1350.6h.01M1309.3 1364.6h.01M1324.9 1352.3h.01M1305.7 1347.1h.01M1333.5 1343.8h.01M1312.8 1358.2h.01M1298.7 1354.9h.01M1323.7 1378.0h.01M1291.1 1358.5h.01M1299.9 1337.5h.01M1351.9 1356.9h.01M1308.4 1350.1h.01M1311.9 1350.6h.01M1311.5 1355.2h.01M1333.1 1349.5h.01M1325.3 1332.6h.01M1338.0 1336.7h.01M1299.0 1346.9h.01M1323.8 1347.4h.01M1297.8 1355.6h.01M1347.2 1343.3h.01M1308.3 1344.8h.01M1317.8 1338.8h.01M1309.9 1339.6h.01M1324.9 1338.5h.01M1340.8 1353.4h.01M1323.2 1363.4h.01M1336.2 1337.7h.01M1344.9 1350.9h.01M1332.0 1343.6h.01M1319.8 1362.5h.01M1312.0 1352.0h.01M1325.0 1335.5h.01M1298.3 1369.1h.01M1337.1 1365.1h.01M1324.4 1339.0h.01M1331.2 1354.3h.01M1333.9 1354.2h.01M1331.0 1357.0h.01M1307.3 1359.5h.01M1298.9 1350.2h.01M1326.2 1340.0h.01M1293.1 1350.8h.01M1329.6 1358.8h.01M1327.5 1359.4h.01M1284.3 1360.4h.01M1328.3 1345.2h.01M1322.8 1340.7h.01M1321.1 1364.7h.01M1312.6 1377.8h.01M1319.3 1348.7h.01M1346.8 1339.2h.01M1334.4 1357.8h.01M1307.9 1351.7h.01M1315.7 1350.0h.01M1310.0 1364.2h.01M1318.4 1340.0h.01M1316.4 1363.4h.01M1301.4 1353.4h.01M1343.4 1354.6h.01M1321.3 1356.5h.01M1332.6 1374.0h.01M1337.0 1351.8h.01M1306.2 1351.2h.01M1316.6 1344.4h.01M1319.8 1351.9h.01M1313.2 1349.3h.01M1297.4 1346.8h.01M1352.7 1356.9h.01M1327.5 1355.1h.01M1317.9 1342.5h.01M1315.9 1334.7h.01M1314.3 1341.3h.01M1317.7 1363.2h.01M1313.9 1350.4h.01M1328.0 1352.4h.01M1341.9 1348.9h.01M1333.5 1343.5h.01M1312.0 1362.8h.01M1329.8 1334.5h.01M1295.5 1352.5h.01M1331.9 1338.3h.01M1330.8 1369.1h.01M1325.0 1350.2h.01M1324.7 1358.8h.01M1289.4 1350.6h.01M1322.5 1371.9h.01M1346.5 1340.8h.01M1320.1 1336.9h.01M1309.0 1355.6h.01M1310.4 1358.5h.01M1314.0 1355.3h.01M1330.9 1344.0h.01M1324.0 1352.0h.01M1311.5 1354.3h.01M1308.3 1345.6h.01M1305.9 1346.9h.01M1297.8 1372.1h.01M1287.2 1367.2h.01M1300.9 1339.9h.01M1310.6 1339.1h.01M1312.5 1367.9h.01M1328.1 1349.4h.01M1320.4 1329.9h.01M1343.0 1345.3h.01M1307.7 1356.5h.01M1331.4 1339.3h.01M1324.4 1373.4h.01M1339.9 1350.6h.01M1307.9 1336.2h.01M1304.9 1356.6h.01M1326.8 1366.2h.01M1313.2 1352.3h.01M1303.6 1338.7h.01M1317.4 1338.8h.01M1304.3 1341.5h.01M1317.3 1342.6h.01M1328.4 1368.1h.01M1317.1 1353.3h.01M1300.6 1338.9h.01M1337.6 1320.7h.01M1351.8 1351.9h.01M1316.7 1357.0h.01M1316.8 1355.9h.01M1325.1 1348.7h.01M1311.3 1351.6h.01M1316.5 1350.5h.01M1320.3 1356.6h.01M1316.9 1351.3h.01M1311.1 1352.8h.01M1317.3 1351.4h.01M1319.4 1344.7h.01M1298.1 1367.4h.01M1327.7 1355.9h.01M1323.2 1335.6h.01M1331.4 1356.5h.01M1322.6 1337.5h.01M1317.5 1358.5h.01M1327.0 1341.6h.01M1323.1 1357.5h.01M1289.2 1347.7h.01M1302.1 1343.2h.01M1312.2 1359.2h.01M1307.7 1344.9h.01M1314.5 1369.3h.01M1338.6 1333.7h.01M1338.6 1357.0h.01M1311.1 1352.0h.01M1319.5 1337.4h.01M1311.3 1353.4h.01M1299.6 1352.4h.01M1325.3 1327.0h.01M1343.7 1360.3h.01M1314.9 1353.0h.01M1311.2 1332.8h.01M1317.2 1344.9h.01M1306.7 1329.1h.01M1329.2 1344.1h.01M1319.3 1345.9h.01M1328.7 1337.7h.01M1298.8 1341.1h.01M1318.4 1358.6h.01M1340.1 1350.4h.01M1319.8 1350.7h.01M1303.6 1344.8h.01M1324.6 1348.4h.01M1306.8 1353.0h.01M1321.1 1323.9h.01M1323.4 1347.8h.01M1310.5 1339.4h.01M1331.5 1353.4h.01M1308.0 1336.6h.01M1311.1 1354.3h.01M1309.0 1360.2h.01M1301.9 1378.0h.01M1298.2 1346.8h.01M1330.2 1346.9h.01M1316.0 1345.1h.01M1329.1 1348.2h.01M1332.3 1357.2h.01M1309.6 1371.8h.01M1316.4 1340.8h.01M1339.1 1332.6h.01M1348.3 1330.4h.01M1339.5 1327.7h.01M1275.8 1372.6h.01M1318.6 1366.7h.01M1365.3 1339.3h.01M1313.7 1348.9h.01M1336.0 1341.3h.01M1305.0 1362.6h.01M1347.1 1335.6h.01M1326.1 1354.0h.01M1319.2 1353.0h.01M1332.3 1357.5h.01M1297.2 1342.2h.01M1323.7 1334.0h.01M1319.2 1349.4h.01M1331.8 1344.2h.01M1313.6 1337.3h.01M1314.3 1335.7h.01M1330.2 1358.1h.01M1347.4 1347.8h.01M1313.3 1343.0h.01M1313.2 1361.1h.01M1332.9 1355.3h.01M1309.9 1343.7h.01M1292.7 1368.3h.01M1312.4 1346.8h.01M1328.5 1370.9h.01M1309.8 1348.7h.01M1303.3 1357.6h.01M1290.1 1346.2h.01M1317.7 1341.9h.01M1318.4 1355.7h.01M1318.6 1366.5h.01M1304.0 1344.0h.01M1315.1 1346.6h.01M1322.8 1355.0h.01M1306.8 1338.9h.01M1300.6 1372.1h.01M1317.7 1375.5h.01M1323.0 1345.2h.01M1303.4 1341.5h.01M1318.9 1359.0h.01M1329.6 1354.8h.01M1315.4 1341.6h.01M1317.0 1340.9h.01M1308.5 1344.8h.01M1297.3 1347.4h.01M1304.8 1355.5h.01M1325.3 1351.8h.01M1299.4 1350.2h.01M1339.8 1350.4h.01M1324.8 1351.6h.01M1325.7 1340.5h.01M1301.2 1364.7h.01M1303.9 1356.0h.01M1336.3 1340.8h.01M1300.9 1356.4h.01M1290.0 1349.8h.01M1309.9 1358.4h.01M1345.9 1355.9h.01M1342.9 1341.4h.01M1296.2 1349.0h.01M1312.7 1349.4h.01M1314.1 1361.9h.01M1326.7 1360.7h.01M1336.9 1336.2h.01M1310.6 1363.1h.01M1329.8 1338.7h.01M1316.0 1366.3h.01M1335.6 1362.1h.01M1308.2 1361.1h.01M1317.8 1344.7h.01M1309.2 1354.3h.01M1309.7 1361.0h.01M1340.4 1340.9h.01M1320.5 1355.8h.01M1327.7 1358.0h.01M1293.3 1338.5h.01M1308.4 1354.4h.01M1335.9 1352.0h.01M1302.2 1336.3h.01M1321.6 1353.2h.01M1332.7 1354.1h.01M1317.6 1341.1h.01M1319.0 1356.3h.01M1305.1 1355.5h.01M1304.1 1345.2h.01M1309.9 1348.4h.01M1298.8 1351.8h.01M1309.1 1345.8h.01M1324.2 1354.7h.01M1291.8 1342.2h.01M1297.9 1353.5h.01M1281.9 1361.5h.01M1315.7 1353.8h.01M1311.4 1360.2h.01M1323.6 1358.8h.01M1294.4 1326.9h.01M1325.1 1348.6h.01M1324.7 1366.8h.01M1315.8 1360.6h.01M1307.3 1351.9h.01M1313.3 1352.2h.01M1318.0 1372.1h.01M1295.5 1356.9h.01M1317.0 1357.4h.01M1321.2 1338.4h.01M1311.2 1365.9h.01M1316.1 1333.9h.01M1325.7 1372.2h.01M1307.5 1359.9h.01M1379.6 1363.3h.01M1280.6 1354.5h.01M1325.3 1344.4h.01M1316.5 1359.1h.01M1310.8 1353.6h.01M1342.9 1331.1h.01M1329.8 1309.5h.01M1334.9 1336.6h.01M1283.2 1339.1h.01M1335.8 1338.2h.01M1279.8 1332.5h.01M1305.8 1352.6h.01M1317.5 1345.3h.01M1298.4 1365.2h.01M1267.7 1384.2h.01M1370.2 1321.9h.01M1319.0 1346.1h.01M1282.7 1348.7h.01M1295.5 1339.0h.01M1317.0 1344.4h.01M1328.7 1307.5h.01M1283.0 1366.1h.01M1369.5 1348.3h.01M1319.8 1341.4h.01M1300.9 1356.5h.01M1360.3 1331.3h.01M1332.6 1325.9h.01M1318.2 1336.4h.01M1280.2 1366.9h.01M1328.7 1332.4h.01M1348.9 1342.9h.01M1323.5 1362.8h.01M1342.8 1383.5h.01M1296.9 1366.3h.01M1310.1 1379.1h.01M1275.8 1364.6h.01M1313.9 1312.7h.01M1300.9 1375.5h.01M1328.3 1316.5h.01M1343.6 1362.1h.01M1292.5 1377.8h.01M1323.2 1378.5h.01M1276.9 1354.9h.01M1300.3 1339.1h.01M1318.5 1359.4h.01M1273.8 1330.1h.01M1328.5 1367.0h.01M1360.6 1370.7h.01M1274.3 1319.0h.01M1295.2 1359.6h.01M1291.4 1358.2h.01M1292.0 1384.7h.01M1298.0 1354.3h.01M1301.7 1389.6h.01M1266.0 1341.7h.01M1316.9 1345.0h.01M1309.2 1383.7h.01M1299.7 1373.1h.01M1308.7 1337.8h.01M1335.7 1350.1h.01M1293.2 1376.0h.01M1331.4 1349.0h.01M1289.2 1328.1h.01M1277.8 1344.1h.01M1275.7 1391.0h.01M1357.9 1366.1h.01M1296.0 1323.4h.01M1338.1 1341.2h.01M1304.3 1374.7h.01M1331.6 1368.2h.01M1290.8 1360.0h.01M1321.6 1336.3h.01M1297.1 1325.7h.01M1280.9 1393.3h.01M1322.8 1342.6h.01M1315.9 1377.6h.01M1331.4 1316.8h.01M1287.4 1331.2h.01M1255.4 1368.2h.01M1356.9 1352.5h.01M1282.3 1356.3h.01M1328.7 1348.7h.01M1297.5 1330.3h.01M1281.1 1359.3h.01M1352.3 1340.9h.01M1353.4 1334.2h.01M1318.8 1349.5h.01M1341.1 1330.7h.01M1263.2 1352.8h.01M1322.5 1379.7h.01M1314.5 1301.5h.01M1292.1 1353.2h.01M1319.1 1354.5h.01M1318.6 1353.9h.01M1353.5 1323.1h.01M1357.0 1336.4h.01M1322.8 1363.9h.01M1332.2 1309.8h.01M1354.2 1360.5h.01M1312.1 1360.9h.01M1328.8 1367.7h.01M1368.9 1360.7h.01M1325.4 1323.9h.01M1343.4 1372.4h.01M1269.6 1351.4h.01M1357.5 1323.4h.01M1324.0 1314.9h.01M1320.5 1337.9h.01M1288.7 1348.2h.01M1344.6 1367.2h.01M1326.4 1318.3h.01M1336.5 1354.7h.01M1326.8 1343.1h.01M1299.4 1362.9h.01M1350.7 1372.9h.01M1364.9 1360.1h.01M1295.0 1379.0h.01M1320.4 1384.0h.01M1269.9 1371.1h.01M1261.0 1345.5h.01M1301.7 1362.7h.01M1354.7 1346.4h.01M1290.3 1335.5h.01M1361.0 1337.6h.01M1340.9 1332.3h.01M1311.4 1357.1h.01M1341.1 1339.3h.01M1337.6 1345.5h.01M1371.8 1373.1h.01M1335.6 1306.3h.01M1320.3 1357.6h.01M1327.1 1379.3h.01M1324.6 1368.4h.01M1291.0 1342.0h.01M1337.4 1356.2h.01M1324.9 1374.1h.01M1335.0 1351.2h.01M1331.0 1360.5h.01M1309.3 1362.6h.01M1323.2 1374.0h.01" stroke="#ee6a12" stroke-width="1.7" stroke-linecap="square" fill="none" opacity="0.8"/>
<path d="M1322.7 1383.8h.01M1374.4 1333.4h.01M1294.0 1358.2h.01M1286.6 1314.0h.01M1370.1 1306.1h.01M1273.7 1385.3h.01M1346.6 1370.1h.01M1318.5 1357.3h.01M1346.7 1351.0h.01M1381.7 1380.8h.01M1291.2 1385.4h.01M1321.9 1340.1h.01M1330.9 1395.4h.01M1350.6 1345.1h.01M1323.8 1338.5h.01M1359.2 1335.5h.01M1361.3 1338.4h.01M1380.6 1379.3h.01M1276.2 1332.7h.01M1312.0 1348.0h.01M1325.1 1356.7h.01M1357.4 1344.7h.01M1271.7 1371.8h.01M1258.1 1339.4h.01M1257.6 1392.7h.01M1335.9 1337.9h.01M1317.4 1316.9h.01M1264.8 1316.8h.01M1264.6 1338.3h.01M1315.1 1368.4h.01M1311.1 1390.5h.01M1284.4 1323.9h.01M1329.8 1362.4h.01M1300.0 1322.6h.01M1365.9 1323.7h.01M1294.2 1373.3h.01M1381.6 1355.1h.01M1340.4 1339.1h.01M1276.8 1391.1h.01M1349.7 1351.9h.01M1380.8 1354.7h.01M1308.5 1325.8h.01M1278.9 1376.0h.01M1376.0 1317.7h.01M1273.6 1379.5h.01M1270.2 1360.6h.01M1380.1 1312.9h.01M1269.4 1378.1h.01M1282.8 1342.8h.01M1364.3 1348.7h.01M1262.5 1395.3h.01M1332.2 1305.7h.01M1378.5 1328.0h.01M1306.7 1388.6h.01M1358.9 1392.8h.01M1338.2 1395.2h.01M1274.7 1362.5h.01M1323.2 1351.3h.01M1362.4 1387.6h.01M1270.0 1366.4h.01M1298.7 1326.7h.01M1311.9 1327.7h.01M1374.8 1375.4h.01M1371.3 1328.2h.01M1316.3 1336.7h.01M1350.8 1331.1h.01M1351.3 1362.0h.01M1309.4 1388.4h.01M1353.1 1395.1h.01M1348.0 1385.8h.01" stroke="#f0a060" stroke-width="1.5" stroke-linecap="square" fill="none" opacity="0.55"/>
<path d="M1408.7 1274.3h.01M1423.6 1193.0h.01M1424.9 1277.7h.01M1420.9 1283.7h.01M1432.6 1185.0h.01M1413.6 1207.4h.01M1424.7 1190.9h.01M1410.4 1237.1h.01M1428.7 1229.5h.01M1444.5 1182.6h.01M1425.5 1192.1h.01M1417.6 1253.7h.01M1429.8 1183.2h.01M1444.8 1189.4h.01M1400.0 1282.6h.01M1440.2 1185.0h.01M1434.3 1193.9h.01M1409.6 1279.1h.01M1418.7 1200.5h.01M1419.0 1197.7h.01M1415.2 1199.5h.01M1383.4 1302.7h.01M1406.3 1274.6h.01M1392.1 1294.7h.01M1413.5 1210.5h.01M1438.1 1199.6h.01M1394.3 1263.5h.01M1395.1 1289.8h.01M1435.1 1196.8h.01M1408.3 1242.7h.01M1414.2 1264.8h.01M1404.2 1241.4h.01M1372.3 1298.1h.01M1424.0 1189.4h.01M1384.6 1277.8h.01M1420.2 1227.0h.01M1385.5 1289.4h.01M1386.2 1304.1h.01M1404.0 1254.3h.01M1406.4 1238.8h.01M1392.4 1273.7h.01M1444.5 1210.3h.01M1434.0 1196.6h.01M1408.7 1230.4h.01M1426.8 1237.3h.01M1431.7 1215.3h.01M1385.0 1284.9h.01M1387.5 1296.8h.01M1437.7 1223.4h.01M1402.1 1279.0h.01M1440.1 1211.4h.01M1412.1 1296.6h.01M1419.6 1234.6h.01M1404.5 1226.6h.01M1418.3 1254.1h.01M1403.8 1284.8h.01M1477.2 1349.4h.01M1432.3 1219.1h.01M1386.2 1293.8h.01M1509.3 1248.9h.01M1443.0 1283.8h.01M1361.9 1367.5h.01M1514.7 1303.3h.01M1389.8 1316.3h.01M1498.3 1302.0h.01M1470.4 1364.3h.01M1482.1 1308.6h.01M1455.4 1258.5h.01M1365.3 1270.0h.01M1416.3 1307.5h.01M1404.8 1238.1h.01M1346.7 1306.4h.01" stroke="#f2708a" stroke-width="2.3" stroke-linecap="square" fill="none" opacity="0.85"/>
<line x1="1388.2" y1="1080.5" x2="1388.2" y2="1402.8" stroke="#ee4b4b" stroke-width="2.6" stroke-linecap="butt"/>
<line x1="1248.5" y1="1299.2" x2="1572.6" y2="1299.2" stroke="#ee4b4b" stroke-width="2.6" stroke-linecap="butt"/>
<rect x="1248.5" y="1080.5" width="324.1" height="322.3" fill="none" stroke="#666" stroke-width="2" />
<path d="M1244.5 1378.5h4M1272.9 1402.8v4M1244.5 1364.4h4M1287.2 1402.8v4M1244.5 1354.3h4M1297.3 1402.8v4M1244.5 1346.5h4M1305.1 1402.8v4M1244.5 1340.1h4M1311.5 1402.8v4M1244.5 1334.7h4M1317.0 1402.8v4M1244.5 1330.0h4M1321.7 1402.8v4M1244.5 1325.9h4M1325.8 1402.8v4M1244.5 1298.0h4M1353.9 1402.8v4M1244.5 1283.8h4M1368.2 1402.8v4M1244.5 1273.7h4M1378.3 1402.8v4M1244.5 1265.9h4M1386.2 1402.8v4M1244.5 1259.5h4M1392.6 1402.8v4M1244.5 1254.1h4M1398.0 1402.8v4M1244.5 1249.5h4M1402.7 1402.8v4M1244.5 1245.3h4M1406.8 1402.8v4M1244.5 1217.4h4M1434.9 1402.8v4M1244.5 1203.2h4M1449.2 1402.8v4M1244.5 1193.1h4M1459.3 1402.8v4M1244.5 1185.3h4M1467.2 1402.8v4M1244.5 1179.0h4M1473.6 1402.8v4M1244.5 1173.6h4M1479.0 1402.8v4M1244.5 1168.9h4M1483.7 1402.8v4M1244.5 1164.8h4M1487.9 1402.8v4M1244.5 1136.8h4M1516.0 1402.8v4M1244.5 1122.6h4M1530.2 1402.8v4M1244.5 1112.6h4M1540.4 1402.8v4M1244.5 1104.8h4M1548.2 1402.8v4M1244.5 1098.4h4M1554.6 1402.8v4M1244.5 1093.0h4M1560.0 1402.8v4M1244.5 1088.3h4M1564.7 1402.8v4M1244.5 1084.2h4M1568.9 1402.8v4M1241.5 1402.8h7M1248.5 1402.8v7M1241.5 1322.2h7M1329.5 1402.8v7M1241.5 1241.6h7M1410.5 1402.8v7M1241.5 1161.1h7M1491.6 1402.8v7M1241.5 1080.5h7M1572.6 1402.8v7" stroke="#777" stroke-width="1.3" fill="none"/>
<circle cx="1388.2" cy="1153.5" r="7.3" fill="#f90b14"/>
<circle cx="1510.5" cy="1299.2" r="7.3" fill="#f90b14"/>
<circle cx="1388.2" cy="1299.2" r="6" fill="#fff" stroke="#ee3a3a" stroke-width="1.8"/>
<text x="1253.7" y="1100.0" font-size="19.2" text-anchor="start" fill="#3a3a3a" >Dead</text>
<text x="1253.7" y="1122.0" font-size="19.2" text-anchor="start" fill="#3a3a3a" >0.42 %</text>
<text x="1567.1" y="1100.0" font-size="19.2" text-anchor="end" fill="#3a3a3a" >Late Apop./Dead</text>
<text x="1564.1" y="1122.0" font-size="19.2" text-anchor="end" fill="#3a3a3a" >2.04 %</text>
<text x="1253.7" y="1372.8" font-size="19.2" text-anchor="start" fill="#3a3a3a" >97.01 %</text>
<text x="1253.7" y="1395.0" font-size="19.2" text-anchor="start" fill="#3a3a3a" >Live</text>
<text x="1564.1" y="1372.8" font-size="19.2" text-anchor="end" fill="#3a3a3a" >0.52 %</text>
<text x="1564.1" y="1395.0" font-size="19.2" text-anchor="end" fill="#3a3a3a" >Early Apop.</text>
<text x="1239.0" y="1411.0" font-size="18.5" text-anchor="end" fill="#3a3a3a" >0</text>
<text x="1247.0" y="1429.8" font-size="18.5" text-anchor="middle" fill="#3a3a3a" >0</text>
<text x="1239.0" y="1330.4" font-size="18.5" text-anchor="end" fill="#3a3a3a" >1</text>
<text x="1328.0" y="1429.8" font-size="18.5" text-anchor="middle" fill="#3a3a3a" >1</text>
<text x="1239.0" y="1249.8" font-size="18.5" text-anchor="end" fill="#3a3a3a" >2</text>
<text x="1409.0" y="1429.8" font-size="18.5" text-anchor="middle" fill="#3a3a3a" >2</text>
<text x="1239.0" y="1169.3" font-size="18.5" text-anchor="end" fill="#3a3a3a" >3</text>
<text x="1490.1" y="1429.8" font-size="18.5" text-anchor="middle" fill="#3a3a3a" >3</text>
<text x="1239.0" y="1088.7" font-size="18.5" text-anchor="end" fill="#3a3a3a" >4</text>
<text x="1570.1" y="1429.8" font-size="18.5" text-anchor="middle" fill="#3a3a3a" >4</text>
<text x="1406.6" y="1052.0" font-size="29.5" text-anchor="middle" fill="#1c1c1c" >100 <tspan font-family="Liberation Serif, serif" font-size="1.13em">µ</tspan>M</text>
<text x="1409.4" y="1076.2" font-size="20.8" text-anchor="middle" fill="#3a3a3a" >APOPTOSIS PROFILE</text>
<text transform="translate(1212.0,1246.6) rotate(-90)" font-size="20.6" text-anchor="middle" fill="#3a3a3a">VIABILITY</text>
<text x="1242.8" y="1448.7" font-size="20.5" text-anchor="start" fill="#3a3a3a" >Live</text>
<text x="1407.3" y="1448.7" font-size="20.5" text-anchor="middle" fill="#3a3a3a" >ANNEXIN V</text>
<text x="1582.9" y="1448.7" font-size="20.5" text-anchor="end" fill="#3a3a3a" >Apoptotic</text>
<line x1="54.4" y1="1503.9" x2="1577.3" y2="1503.9" stroke="#0a0a0a" stroke-width="3.4" stroke-linecap="butt"/>
<text x="789.0" y="1490.0" font-size="29.5" text-anchor="middle" fill="#1c1c1c" >GA (48 h), GM</text>
<rect x="65.7" y="1782.8" width="130.2" height="103.2" fill="#f2f4b4" stroke="none" stroke-width="0" />
<ellipse cx="148.5" cy="1832.4" rx="37" ry="27" fill="url(#lg)" transform="rotate(-18 148.5 1832.4)"/>
<path d="M158.7 1831.2h.01M144.7 1827.7h.01M153.9 1823.9h.01M164.6 1828.0h.01M150.3 1833.5h.01M149.2 1844.2h.01M164.6 1847.4h.01M146.2 1849.5h.01M145.7 1837.4h.01M129.9 1845.1h.01M127.8 1840.4h.01M155.6 1834.3h.01M163.0 1837.1h.01M155.4 1821.9h.01M150.1 1827.0h.01M156.7 1846.1h.01M148.7 1813.2h.01M162.9 1838.6h.01M155.8 1848.3h.01M126.4 1831.5h.01M148.3 1800.9h.01M104.0 1854.4h.01M147.5 1854.8h.01M170.1 1836.2h.01M161.0 1819.9h.01M135.4 1852.5h.01M153.0 1814.9h.01M141.8 1845.6h.01M166.6 1826.7h.01M145.2 1849.0h.01M164.9 1828.6h.01M160.5 1835.3h.01M172.4 1822.1h.01M137.5 1827.7h.01M152.0 1832.9h.01M105.0 1837.5h.01M145.4 1825.8h.01M158.5 1827.8h.01M166.5 1830.4h.01M143.6 1835.3h.01M157.9 1824.9h.01M145.8 1835.2h.01M185.0 1822.8h.01M167.6 1822.8h.01M156.9 1831.6h.01M150.3 1833.1h.01M149.8 1820.4h.01M160.4 1830.2h.01M132.2 1841.0h.01M140.5 1834.3h.01M149.2 1827.4h.01M128.1 1845.4h.01M151.3 1832.9h.01M170.7 1823.9h.01M160.7 1843.6h.01M174.3 1836.3h.01M155.8 1831.3h.01M156.6 1845.0h.01M154.3 1824.5h.01M147.5 1821.5h.01M128.4 1843.2h.01M155.1 1847.5h.01M145.3 1838.8h.01M134.3 1826.7h.01M184.8 1827.3h.01M146.8 1821.0h.01M150.0 1813.8h.01M153.8 1831.5h.01M133.3 1838.1h.01M142.9 1828.4h.01M160.2 1836.9h.01M151.3 1831.3h.01M166.2 1822.4h.01M145.6 1837.3h.01M135.1 1841.1h.01M163.7 1831.3h.01M177.6 1810.4h.01M141.2 1824.2h.01M150.6 1829.3h.01M138.8 1818.7h.01M159.4 1837.3h.01M128.9 1848.7h.01M138.0 1831.4h.01M152.2 1819.6h.01M148.2 1822.3h.01M144.0 1842.3h.01M166.3 1842.7h.01M137.6 1826.8h.01M127.6 1829.0h.01M155.8 1828.6h.01M177.6 1836.0h.01M168.9 1819.6h.01M110.5 1838.0h.01M152.4 1827.9h.01M133.7 1818.5h.01M150.1 1851.7h.01M161.2 1821.5h.01M133.5 1844.3h.01M151.7 1816.4h.01M165.3 1826.0h.01M146.4 1838.7h.01M140.6 1821.2h.01M104.3 1824.7h.01M159.7 1814.4h.01M138.4 1829.5h.01M135.3 1836.1h.01M106.5 1850.5h.01M121.6 1833.2h.01M133.9 1829.9h.01M160.1 1817.4h.01M141.9 1843.9h.01M128.0 1819.0h.01M154.6 1832.4h.01M138.7 1828.6h.01M171.9 1843.8h.01M140.2 1831.2h.01M161.2 1823.0h.01M152.3 1831.6h.01M169.9 1844.6h.01M130.3 1822.8h.01M131.4 1822.8h.01M144.5 1843.7h.01M127.9 1845.1h.01M136.6 1850.1h.01M154.8 1842.4h.01M142.0 1833.3h.01M168.6 1834.5h.01M159.6 1839.4h.01M162.9 1819.0h.01M133.5 1824.7h.01M149.9 1838.7h.01M149.9 1838.7h.01M158.3 1841.6h.01M124.2 1833.6h.01M141.0 1833.2h.01M139.1 1841.7h.01M178.0 1845.5h.01M159.4 1845.9h.01M158.9 1840.6h.01M163.1 1852.0h.01M134.1 1817.4h.01M161.0 1828.1h.01M133.3 1842.8h.01M135.3 1815.2h.01M133.2 1835.1h.01M153.7 1825.0h.01M140.2 1834.4h.01M133.9 1830.2h.01M174.5 1827.0h.01M163.3 1823.9h.01M185.4 1825.5h.01M142.0 1848.1h.01M168.8 1829.6h.01M150.0 1823.3h.01M127.3 1858.4h.01M165.6 1833.2h.01M163.2 1828.9h.01M149.2 1827.5h.01M129.3 1830.4h.01M155.6 1812.5h.01M139.9 1818.8h.01M165.2 1817.0h.01M149.1 1834.9h.01M137.5 1824.2h.01M155.4 1827.8h.01M145.7 1848.9h.01M139.9 1842.5h.01M136.2 1839.5h.01M167.1 1804.4h.01M148.5 1841.2h.01M165.2 1831.0h.01M163.5 1827.4h.01M153.3 1836.8h.01M137.3 1853.6h.01M134.4 1817.4h.01M154.6 1823.8h.01M131.1 1812.9h.01M155.1 1813.1h.01M154.9 1839.3h.01M139.8 1834.8h.01M134.3 1817.6h.01M145.2 1834.0h.01M117.8 1840.9h.01M169.6 1835.2h.01M143.9 1837.2h.01M160.1 1821.9h.01M151.2 1828.1h.01M156.0 1839.5h.01M146.6 1830.4h.01M145.5 1828.4h.01M154.0 1831.6h.01M118.5 1836.9h.01M156.3 1829.8h.01M136.8 1845.8h.01M137.1 1825.4h.01M152.2 1836.5h.01M169.2 1849.2h.01M151.5 1811.3h.01M163.2 1832.6h.01M129.7 1819.7h.01M131.5 1843.6h.01M126.8 1829.4h.01M170.4 1824.3h.01M157.7 1820.5h.01M129.2 1824.2h.01M155.9 1834.0h.01M138.7 1826.4h.01M161.9 1833.4h.01M138.4 1841.1h.01M147.6 1843.8h.01M142.8 1839.8h.01M136.6 1842.7h.01M150.9 1819.3h.01M137.5 1843.4h.01M150.8 1843.4h.01M150.2 1845.8h.01M123.7 1848.4h.01M184.3 1836.6h.01M165.0 1816.4h.01M172.3 1827.9h.01M147.3 1851.6h.01M149.6 1845.9h.01M149.2 1821.7h.01M149.1 1835.9h.01M138.1 1830.4h.01M147.2 1848.3h.01M152.9 1822.8h.01M132.1 1838.0h.01M150.1 1831.3h.01M136.2 1843.3h.01M159.4 1847.1h.01M147.2 1819.7h.01M141.0 1843.1h.01M165.7 1844.0h.01M154.7 1857.8h.01M166.1 1840.3h.01M154.4 1843.3h.01M131.2 1803.4h.01M160.4 1833.4h.01M161.0 1835.6h.01M123.6 1831.5h.01M164.5 1813.1h.01M123.5 1846.9h.01M185.1 1814.5h.01M141.9 1836.2h.01M144.0 1827.3h.01M157.8 1835.4h.01M121.7 1843.2h.01M165.4 1834.4h.01M143.3 1816.1h.01M140.7 1843.0h.01M155.7 1834.7h.01M134.7 1838.6h.01M167.5 1816.7h.01M138.1 1841.4h.01M136.2 1851.8h.01M142.3 1828.2h.01M143.6 1842.2h.01M125.0 1844.6h.01M135.1 1837.1h.01M145.5 1842.6h.01M129.8 1829.4h.01M142.0 1828.7h.01M143.5 1812.1h.01M145.1 1835.7h.01M163.4 1818.2h.01M151.0 1849.1h.01M145.8 1836.3h.01M139.0 1821.9h.01M151.3 1832.3h.01M141.7 1840.9h.01M115.8 1850.0h.01M159.8 1831.5h.01M153.9 1832.7h.01M120.1 1828.2h.01M128.0 1837.1h.01M142.7 1831.0h.01M144.4 1843.6h.01M144.3 1829.8h.01M147.5 1852.2h.01M148.2 1823.0h.01M138.9 1848.6h.01M146.3 1818.3h.01M157.0 1847.6h.01M142.8 1823.3h.01M145.2 1815.6h.01M178.2 1837.0h.01M138.5 1837.1h.01M142.1 1832.2h.01M138.9 1836.9h.01M150.2 1830.5h.01M158.4 1806.3h.01M122.6 1835.8h.01M129.9 1825.3h.01M157.2 1843.7h.01M126.7 1836.2h.01M143.2 1842.2h.01M163.7 1822.4h.01M157.4 1803.6h.01M169.4 1816.5h.01M139.6 1837.5h.01M153.1 1839.4h.01M146.2 1845.3h.01M161.1 1844.5h.01M149.5 1838.7h.01M150.0 1833.6h.01M158.5 1819.9h.01M175.3 1812.7h.01M149.0 1848.8h.01M142.6 1820.3h.01M180.0 1838.2h.01M172.6 1832.6h.01M138.9 1841.9h.01M173.8 1829.9h.01M162.0 1861.1h.01M163.9 1816.6h.01M124.8 1846.9h.01M133.3 1821.9h.01M162.0 1816.8h.01M138.7 1828.4h.01M156.3 1845.8h.01M151.7 1815.2h.01M162.9 1817.6h.01M148.6 1829.7h.01M157.0 1836.3h.01M151.5 1835.6h.01M153.4 1837.8h.01M160.6 1832.3h.01M128.9 1824.5h.01M163.7 1838.5h.01M138.7 1846.6h.01M163.1 1850.0h.01M137.8 1839.6h.01M135.2 1835.4h.01M156.0 1821.5h.01M158.2 1841.3h.01M182.3 1848.3h.01M174.2 1829.4h.01M151.7 1842.8h.01M143.8 1827.8h.01M133.1 1830.3h.01M161.9 1818.3h.01M163.3 1831.4h.01M169.5 1836.1h.01M121.3 1827.3h.01M137.0 1830.3h.01M159.3 1835.8h.01M143.3 1843.8h.01M149.9 1840.5h.01M163.9 1832.1h.01M117.8 1827.3h.01M155.0 1825.2h.01M147.6 1839.2h.01M168.1 1824.4h.01M149.7 1835.0h.01M160.2 1817.2h.01M154.5 1833.8h.01M143.5 1833.4h.01M145.1 1821.0h.01M137.0 1831.0h.01M144.6 1832.5h.01M134.5 1830.0h.01M148.6 1819.2h.01M167.3 1824.9h.01M149.9 1813.6h.01M152.4 1829.5h.01M126.8 1855.2h.01M150.6 1837.2h.01M125.9 1839.6h.01M154.3 1833.9h.01M159.0 1846.2h.01M157.3 1837.1h.01M150.9 1838.2h.01M146.9 1815.9h.01M157.2 1811.6h.01M164.5 1823.7h.01M177.6 1826.3h.01M171.5 1831.7h.01M152.8 1848.4h.01M136.9 1832.4h.01M179.2 1825.4h.01M160.9 1808.8h.01M161.1 1810.0h.01M140.8 1822.1h.01M137.3 1843.1h.01M150.0 1832.5h.01M148.4 1833.9h.01M139.4 1843.3h.01M164.4 1842.9h.01M150.2 1854.6h.01M128.5 1840.7h.01M155.3 1836.9h.01M122.3 1837.7h.01M153.9 1826.5h.01M163.0 1826.7h.01M132.8 1833.0h.01M125.0 1832.0h.01M162.7 1830.9h.01M142.1 1831.6h.01M130.3 1838.4h.01M133.8 1844.1h.01M118.2 1853.0h.01M156.7 1829.0h.01M154.9 1845.8h.01M140.2 1827.6h.01M152.2 1831.1h.01M149.8 1825.6h.01M174.4 1836.7h.01M149.6 1841.9h.01M148.4 1860.5h.01M165.6 1822.0h.01M149.5 1811.7h.01M158.9 1818.0h.01M143.2 1831.5h.01M133.1 1844.7h.01M151.7 1842.6h.01M137.8 1824.1h.01M137.1 1827.8h.01M143.1 1814.6h.01M161.5 1830.3h.01M133.0 1816.6h.01M161.0 1840.9h.01M138.3 1851.8h.01M177.8 1808.5h.01M143.5 1827.3h.01M147.2 1852.2h.01M165.1 1825.2h.01M171.2 1821.7h.01M129.9 1852.2h.01M135.5 1832.3h.01M139.2 1834.8h.01M124.8 1839.3h.01M136.2 1835.5h.01M120.9 1822.6h.01M162.8 1832.2h.01M132.2 1830.0h.01M140.6 1825.0h.01M124.2 1833.8h.01M154.4 1835.2h.01M174.4 1804.5h.01M163.0 1823.1h.01M172.4 1835.8h.01M173.1 1828.2h.01M149.3 1834.8h.01M162.9 1831.5h.01M145.6 1841.6h.01M128.7 1862.3h.01M142.4 1831.1h.01M133.2 1823.9h.01M187.2 1828.4h.01M170.3 1840.1h.01M158.4 1827.5h.01M167.3 1811.6h.01M182.6 1846.3h.01M147.9 1855.9h.01M123.9 1829.8h.01M147.6 1840.7h.01M158.0 1819.5h.01M147.6 1833.4h.01M173.3 1827.6h.01M173.6 1832.8h.01M112.8 1819.8h.01M140.5 1825.3h.01M157.9 1832.8h.01M170.0 1837.5h.01M164.2 1832.5h.01M151.4 1830.1h.01M141.1 1837.8h.01M122.8 1846.1h.01M145.4 1839.9h.01M160.9 1821.1h.01M173.8 1816.0h.01M139.2 1834.5h.01M138.8 1847.2h.01M165.5 1830.5h.01M143.5 1820.0h.01M177.5 1816.9h.01M126.4 1845.2h.01M149.9 1830.1h.01M143.6 1844.7h.01M134.5 1831.0h.01M143.1 1830.1h.01M167.3 1833.0h.01M133.6 1833.0h.01M137.5 1832.0h.01M159.6 1816.8h.01M183.4 1849.8h.01M187.1 1841.9h.01M126.0 1822.9h.01M127.1 1831.2h.01M135.3 1814.9h.01M87.0 1847.9h.01M179.8 1838.5h.01M115.5 1824.8h.01M101.7 1874.3h.01M167.2 1839.8h.01M127.9 1868.5h.01M151.9 1829.3h.01M163.7 1856.8h.01M126.1 1838.9h.01M120.9 1876.2h.01M145.2 1881.4h.01M166.4 1810.8h.01M188.2 1818.2h.01M160.3 1808.1h.01M132.2 1849.3h.01M148.4 1821.2h.01M144.1 1798.9h.01M136.8 1819.6h.01M131.4 1824.7h.01M179.6 1828.9h.01M161.0 1811.3h.01M146.4 1836.7h.01M183.1 1814.7h.01M115.9 1837.7h.01M124.7 1838.9h.01M154.4 1821.9h.01M148.2 1855.6h.01M152.1 1817.4h.01M175.6 1834.2h.01M173.0 1809.9h.01M149.5 1839.8h.01M159.6 1791.2h.01M153.6 1872.5h.01M114.9 1841.7h.01M153.4 1850.2h.01M96.6 1850.3h.01M153.4 1804.5h.01M100.4 1844.3h.01M138.7 1822.1h.01M141.2 1842.5h.01M100.2 1853.6h.01M170.7 1868.5h.01M134.2 1833.0h.01M153.6 1871.4h.01M170.9 1836.8h.01M136.6 1812.8h.01M157.5 1823.5h.01M85.6 1836.0h.01M122.3 1817.2h.01M133.9 1875.4h.01M144.3 1807.4h.01M164.1 1832.2h.01M164.0 1817.5h.01M166.4 1835.6h.01M162.4 1840.8h.01M117.1 1834.4h.01M166.3 1816.3h.01M155.3 1829.9h.01M103.6 1815.7h.01M138.5 1856.0h.01M90.3 1857.6h.01M94.1 1845.1h.01M125.1 1838.6h.01M141.5 1819.5h.01M93.6 1859.6h.01M130.5 1835.6h.01M158.2 1829.8h.01M72.7 1854.3h.01M134.6 1819.5h.01M160.6 1850.5h.01M144.7 1830.6h.01M175.2 1829.1h.01M166.3 1861.3h.01M135.4 1868.6h.01M156.0 1828.4h.01M143.7 1830.8h.01M152.8 1838.5h.01M154.9 1835.6h.01M180.7 1808.8h.01M136.7 1841.2h.01M135.1 1827.1h.01M160.5 1813.7h.01M143.2 1834.7h.01M106.6 1819.1h.01M145.8 1868.0h.01M116.1 1849.1h.01M138.7 1861.4h.01M186.2 1854.0h.01M158.3 1838.6h.01M120.7 1796.9h.01M171.5 1836.2h.01M102.5 1840.0h.01M174.3 1859.3h.01M150.4 1863.7h.01M171.3 1792.0h.01M103.9 1837.3h.01M133.1 1825.9h.01M153.6 1831.1h.01M157.1 1835.9h.01M181.0 1803.4h.01M187.1 1834.8h.01M132.3 1838.6h.01M154.9 1850.4h.01M117.2 1804.8h.01M147.8 1823.1h.01M76.1 1824.2h.01M111.2 1827.3h.01M152.8 1805.8h.01M172.8 1834.9h.01M124.9 1837.3h.01M137.7 1850.8h.01M162.2 1837.4h.01M180.2 1841.1h.01M70.7 1868.8h.01M179.2 1856.3h.01" stroke="#ee6a12" stroke-width="1.7" stroke-linecap="square" fill="none" opacity="0.8"/>
<path d="M115.5 1869.0h.01M161.4 1838.3h.01M102.9 1861.1h.01M90.4 1842.5h.01M188.8 1861.2h.01M187.6 1822.9h.01M84.8 1814.5h.01M78.7 1825.0h.01M182.3 1860.8h.01M77.7 1871.1h.01M175.1 1809.0h.01M86.6 1850.8h.01M91.0 1851.1h.01M103.0 1878.8h.01M181.5 1861.2h.01M134.4 1835.0h.01M151.6 1860.7h.01M153.9 1819.5h.01M190.5 1864.7h.01M143.0 1878.7h.01M116.9 1804.2h.01M104.5 1797.8h.01M190.3 1796.7h.01M80.9 1878.5h.01M108.6 1830.2h.01M113.2 1808.2h.01M79.7 1824.8h.01M102.0 1838.5h.01M186.6 1858.5h.01M156.9 1827.7h.01M107.5 1821.6h.01M123.8 1813.5h.01M85.1 1876.0h.01M75.8 1852.9h.01M83.1 1826.5h.01M94.8 1829.9h.01M100.0 1846.6h.01M82.0 1826.5h.01M105.9 1858.5h.01M110.9 1843.6h.01M91.6 1824.6h.01M92.4 1853.2h.01M165.1 1804.9h.01M139.6 1871.1h.01M128.4 1831.8h.01M133.5 1794.5h.01M88.1 1874.4h.01M99.3 1841.0h.01M75.9 1817.0h.01M99.3 1832.0h.01M134.7 1845.8h.01M127.7 1879.2h.01M87.9 1805.6h.01M110.7 1876.9h.01M131.6 1819.5h.01M180.5 1872.5h.01M76.6 1811.4h.01M77.3 1830.7h.01M93.2 1824.1h.01M74.4 1820.6h.01M157.5 1821.3h.01M134.9 1855.1h.01M156.3 1854.4h.01M127.4 1854.3h.01M137.4 1879.9h.01M74.2 1869.3h.01M176.4 1852.8h.01M185.4 1800.5h.01M97.1 1849.7h.01M151.1 1849.3h.01" stroke="#f0a060" stroke-width="1.5" stroke-linecap="square" fill="none" opacity="0.55"/>
<path d="M145.5 1738.7h.01M184.0 1717.8h.01M173.4 1718.0h.01M177.3 1716.9h.01M197.6 1707.8h.01M142.7 1748.3h.01M148.8 1748.8h.01M192.3 1719.5h.01M156.7 1728.1h.01M151.2 1757.0h.01M156.7 1756.8h.01M171.8 1740.9h.01M157.5 1738.4h.01M135.3 1756.8h.01M150.5 1741.0h.01M166.8 1730.3h.01M164.5 1732.1h.01M158.0 1717.1h.01M170.0 1713.9h.01M143.0 1745.6h.01M189.3 1716.7h.01M181.1 1741.8h.01M150.1 1753.9h.01M160.6 1737.0h.01M166.6 1741.3h.01M157.4 1732.3h.01M175.6 1752.8h.01M142.7 1755.0h.01M157.1 1736.4h.01M212.8 1700.5h.01M164.0 1739.6h.01M182.7 1728.1h.01M153.0 1747.6h.01M157.0 1740.0h.01M191.9 1695.1h.01M190.4 1713.3h.01M165.9 1718.8h.01M172.1 1733.7h.01M192.1 1706.2h.01M160.4 1748.1h.01M192.3 1692.4h.01M168.9 1734.2h.01M197.1 1701.6h.01M168.5 1716.1h.01M180.0 1720.8h.01M157.8 1752.2h.01M150.7 1740.6h.01M170.9 1744.0h.01M153.8 1742.8h.01M181.1 1715.9h.01M171.7 1739.6h.01M177.9 1711.9h.01M183.7 1693.2h.01M194.4 1687.3h.01M156.4 1737.2h.01M175.7 1721.9h.01M167.1 1721.4h.01M176.1 1738.4h.01M158.4 1742.4h.01M183.4 1715.3h.01M196.3 1682.7h.01M152.0 1733.0h.01M150.1 1750.9h.01M164.1 1723.6h.01M190.8 1693.5h.01M153.8 1756.8h.01M165.2 1751.9h.01M150.1 1751.6h.01M176.4 1742.7h.01M156.9 1771.9h.01M178.7 1719.6h.01M168.5 1715.1h.01M189.9 1701.5h.01M142.5 1757.0h.01M171.4 1729.4h.01M156.6 1748.1h.01M183.3 1719.0h.01M146.4 1746.9h.01M166.4 1716.5h.01M179.5 1730.7h.01M142.4 1756.5h.01M177.2 1741.1h.01M173.2 1733.4h.01M179.5 1717.8h.01M172.2 1748.9h.01M160.1 1737.5h.01M172.8 1728.8h.01M193.1 1701.7h.01M154.3 1745.3h.01M157.7 1752.5h.01M250.3 1818.5h.01M201.4 1801.7h.01M251.7 1834.8h.01M228.5 1836.2h.01M266.4 1826.6h.01M234.8 1846.3h.01M192.4 1812.5h.01M271.5 1828.0h.01M245.8 1827.4h.01M226.1 1816.6h.01M241.6 1825.4h.01M259.7 1850.4h.01M265.9 1850.4h.01M226.4 1804.4h.01M243.9 1831.9h.01M230.1 1818.1h.01M228.3 1800.9h.01M264.0 1832.9h.01M223.9 1816.0h.01M232.9 1804.0h.01M232.6 1832.1h.01M195.7 1804.2h.01M235.7 1804.5h.01M218.2 1802.5h.01M201.3 1821.6h.01M198.0 1825.1h.01M201.2 1765.8h.01M254.4 1715.2h.01M300.4 1750.7h.01M191.2 1717.6h.01M212.3 1745.4h.01M183.5 1803.7h.01M327.7 1745.6h.01M327.6 1769.2h.01M295.7 1798.4h.01" stroke="#f2708a" stroke-width="2.3" stroke-linecap="square" fill="none" opacity="0.85"/>
<line x1="195.9" y1="1562.5" x2="195.9" y2="1886.0" stroke="#ee4b4b" stroke-width="2.6" stroke-linecap="butt"/>
<line x1="65.7" y1="1782.8" x2="389.8" y2="1782.8" stroke="#ee4b4b" stroke-width="2.6" stroke-linecap="butt"/>
<rect x="65.7" y="1562.5" width="324.1" height="323.5" fill="none" stroke="#666" stroke-width="2" />
<path d="M61.7 1861.7h4M90.1 1886.0v4M61.7 1847.4h4M104.4 1886.0v4M61.7 1837.3h4M114.5 1886.0v4M61.7 1829.5h4M122.3 1886.0v4M61.7 1823.1h4M128.7 1886.0v4M61.7 1817.7h4M134.2 1886.0v4M61.7 1813.0h4M138.9 1886.0v4M61.7 1808.8h4M143.0 1886.0v4M61.7 1780.8h4M171.1 1886.0v4M61.7 1766.5h4M185.4 1886.0v4M61.7 1756.4h4M195.5 1886.0v4M61.7 1748.6h4M203.4 1886.0v4M61.7 1742.2h4M209.8 1886.0v4M61.7 1736.8h4M215.2 1886.0v4M61.7 1732.1h4M219.9 1886.0v4M61.7 1728.0h4M224.0 1886.0v4M61.7 1699.9h4M252.1 1886.0v4M61.7 1685.7h4M266.4 1886.0v4M61.7 1675.6h4M276.5 1886.0v4M61.7 1667.7h4M284.4 1886.0v4M61.7 1661.3h4M290.8 1886.0v4M61.7 1655.9h4M296.2 1886.0v4M61.7 1651.2h4M300.9 1886.0v4M61.7 1647.1h4M305.1 1886.0v4M61.7 1619.0h4M333.2 1886.0v4M61.7 1604.8h4M347.4 1886.0v4M61.7 1594.7h4M357.6 1886.0v4M61.7 1586.8h4M365.4 1886.0v4M61.7 1580.4h4M371.8 1886.0v4M61.7 1575.0h4M377.2 1886.0v4M61.7 1570.3h4M381.9 1886.0v4M61.7 1566.2h4M386.1 1886.0v4M58.7 1886.0h7M65.7 1886.0v7M58.7 1805.1h7M146.7 1886.0v7M58.7 1724.2h7M227.8 1886.0v7M58.7 1643.4h7M308.8 1886.0v7M58.7 1562.5h7M389.8 1886.0v7" stroke="#777" stroke-width="1.3" fill="none"/>
<circle cx="195.9" cy="1636.6" r="7.3" fill="#f90b14"/>
<circle cx="324.7" cy="1782.8" r="7.3" fill="#f90b14"/>
<circle cx="195.9" cy="1782.8" r="6" fill="#fff" stroke="#ee3a3a" stroke-width="1.8"/>
<text x="70.9" y="1582.0" font-size="19.2" text-anchor="start" fill="#3a3a3a" >Dead</text>
<text x="70.9" y="1604.0" font-size="19.2" text-anchor="start" fill="#3a3a3a" >4.48 %</text>
<text x="384.3" y="1582.0" font-size="19.2" text-anchor="end" fill="#3a3a3a" >Late Apop./Dead</text>
<text x="381.3" y="1604.0" font-size="19.2" text-anchor="end" fill="#3a3a3a" >0.74 %</text>
<text x="70.9" y="1856.0" font-size="19.2" text-anchor="start" fill="#3a3a3a" >93.94 %</text>
<text x="70.9" y="1878.2" font-size="19.2" text-anchor="start" fill="#3a3a3a" >Live</text>
<text x="381.3" y="1856.0" font-size="19.2" text-anchor="end" fill="#3a3a3a" >0.84 %</text>
<text x="381.3" y="1878.2" font-size="19.2" text-anchor="end" fill="#3a3a3a" >Early Apop.</text>
<text x="56.2" y="1894.2" font-size="18.5" text-anchor="end" fill="#3a3a3a" >0</text>
<text x="64.2" y="1913.0" font-size="18.5" text-anchor="middle" fill="#3a3a3a" >0</text>
<text x="56.2" y="1813.3" font-size="18.5" text-anchor="end" fill="#3a3a3a" >1</text>
<text x="145.2" y="1913.0" font-size="18.5" text-anchor="middle" fill="#3a3a3a" >1</text>
<text x="56.2" y="1732.5" font-size="18.5" text-anchor="end" fill="#3a3a3a" >2</text>
<text x="226.2" y="1913.0" font-size="18.5" text-anchor="middle" fill="#3a3a3a" >2</text>
<text x="56.2" y="1651.6" font-size="18.5" text-anchor="end" fill="#3a3a3a" >3</text>
<text x="307.3" y="1913.0" font-size="18.5" text-anchor="middle" fill="#3a3a3a" >3</text>
<text x="56.2" y="1570.7" font-size="18.5" text-anchor="end" fill="#3a3a3a" >4</text>
<text x="387.3" y="1913.0" font-size="18.5" text-anchor="middle" fill="#3a3a3a" >4</text>
<text x="228.0" y="1533.2" font-size="29.5" text-anchor="middle" fill="#1c1c1c" >Control</text>
<text x="235.3" y="1559.2" font-size="20.8" text-anchor="middle" fill="#3a3a3a" >APOPTOSIS PROFILE</text>
<text transform="translate(33.0,1730.0) rotate(-90)" font-size="20.6" text-anchor="middle" fill="#3a3a3a">VIABILITY</text>
<text x="62.1" y="1933.6" font-size="20.5" text-anchor="start" fill="#3a3a3a" >Live</text>
<text x="227.4" y="1933.6" font-size="20.5" text-anchor="middle" fill="#3a3a3a" >ANNEXIN V</text>
<text x="403.0" y="1933.6" font-size="20.5" text-anchor="end" fill="#3a3a3a" >Apoptotic</text>
<rect x="460.2" y="1782.8" width="130.2" height="103.2" fill="#f2f4b4" stroke="none" stroke-width="0" />
<ellipse cx="523.0" cy="1834.5" rx="37" ry="27" fill="url(#lg)" transform="rotate(-18 523.0 1834.5)"/>
<path d="M536.1 1834.2h.01M535.1 1830.8h.01M518.4 1819.0h.01M499.8 1845.5h.01M496.9 1849.7h.01M515.6 1833.0h.01M506.2 1834.9h.01M512.5 1836.2h.01M517.8 1829.5h.01M521.9 1842.6h.01M524.1 1841.1h.01M518.6 1819.6h.01M542.8 1830.8h.01M543.9 1835.2h.01M509.9 1846.3h.01M519.2 1816.6h.01M515.5 1828.5h.01M541.6 1836.6h.01M491.1 1839.8h.01M528.6 1827.9h.01M506.0 1849.2h.01M493.7 1858.1h.01M538.5 1830.4h.01M536.2 1807.8h.01M511.7 1837.9h.01M510.6 1833.3h.01M515.7 1827.3h.01M534.0 1844.6h.01M521.5 1822.3h.01M504.7 1832.5h.01M521.4 1834.9h.01M506.9 1855.9h.01M496.9 1841.6h.01M526.7 1832.5h.01M516.9 1823.8h.01M533.4 1831.2h.01M506.8 1840.3h.01M530.3 1824.6h.01M523.3 1823.4h.01M557.8 1812.6h.01M542.4 1845.5h.01M535.0 1837.1h.01M532.6 1823.6h.01M524.5 1834.2h.01M551.6 1823.4h.01M535.4 1828.2h.01M520.0 1851.3h.01M543.3 1832.4h.01M530.1 1838.0h.01M521.1 1827.0h.01M544.5 1826.4h.01M503.2 1831.6h.01M533.6 1858.8h.01M555.9 1829.8h.01M502.5 1838.1h.01M508.1 1836.4h.01M532.5 1840.3h.01M512.7 1830.5h.01M524.6 1817.7h.01M529.7 1833.2h.01M530.1 1821.0h.01M538.1 1839.7h.01M499.4 1836.9h.01M490.4 1848.8h.01M554.3 1826.5h.01M516.1 1826.4h.01M530.7 1835.7h.01M512.1 1822.4h.01M516.7 1835.7h.01M538.9 1836.9h.01M534.3 1836.6h.01M533.8 1832.3h.01M495.9 1836.9h.01M535.6 1831.2h.01M519.9 1842.3h.01M522.6 1834.9h.01M529.7 1840.3h.01M528.5 1825.4h.01M508.6 1821.7h.01M514.3 1826.3h.01M519.6 1848.0h.01M517.1 1843.7h.01M520.3 1838.1h.01M509.2 1832.2h.01M536.5 1833.8h.01M540.5 1833.9h.01M482.9 1838.4h.01M537.6 1841.5h.01M523.5 1826.4h.01M505.6 1844.4h.01M537.5 1837.6h.01M545.6 1813.3h.01M524.7 1833.0h.01M506.7 1824.0h.01M520.9 1842.7h.01M514.3 1828.2h.01M532.6 1826.4h.01M534.4 1818.0h.01M508.9 1850.6h.01M539.1 1818.9h.01M523.1 1839.8h.01M499.2 1831.8h.01M513.2 1832.5h.01M505.7 1825.8h.01M508.6 1849.9h.01M498.2 1817.7h.01M560.1 1825.6h.01M520.0 1829.6h.01M533.0 1840.4h.01M505.5 1830.5h.01M501.0 1852.5h.01M502.7 1838.8h.01M508.6 1819.1h.01M527.4 1836.9h.01M496.7 1846.8h.01M534.8 1822.1h.01M539.2 1841.9h.01M533.0 1816.3h.01M526.0 1836.6h.01M513.0 1839.6h.01M517.2 1852.9h.01M521.0 1820.9h.01M540.4 1820.1h.01M533.9 1840.3h.01M518.7 1866.4h.01M513.7 1841.5h.01M538.6 1807.4h.01M517.0 1843.4h.01M522.0 1837.8h.01M520.5 1833.4h.01M550.0 1825.0h.01M511.0 1848.0h.01M525.3 1829.0h.01M504.7 1820.9h.01M492.5 1842.4h.01M523.2 1835.2h.01M539.6 1865.5h.01M518.5 1844.3h.01M537.7 1834.4h.01M527.1 1846.1h.01M530.3 1833.2h.01M557.9 1826.0h.01M522.4 1827.1h.01M522.2 1842.4h.01M505.5 1840.6h.01M515.1 1821.9h.01M543.1 1831.6h.01M539.0 1831.6h.01M537.2 1833.5h.01M540.4 1842.8h.01M504.9 1850.8h.01M533.9 1834.9h.01M506.5 1840.4h.01M541.9 1838.2h.01M494.1 1836.8h.01M547.0 1823.7h.01M524.8 1849.6h.01M519.4 1836.2h.01M512.4 1832.6h.01M530.1 1847.7h.01M535.7 1855.7h.01M529.4 1828.4h.01M531.9 1830.6h.01M496.6 1825.9h.01M515.5 1853.9h.01M512.9 1838.4h.01M526.0 1821.5h.01M520.8 1811.7h.01M489.3 1862.6h.01M516.7 1819.1h.01M496.8 1836.4h.01M530.0 1836.6h.01M528.5 1811.3h.01M504.7 1820.2h.01M546.4 1814.0h.01M533.9 1825.1h.01M537.5 1832.8h.01M531.9 1818.8h.01M531.7 1838.0h.01M519.8 1837.5h.01M515.0 1824.6h.01M544.0 1820.6h.01M515.4 1839.6h.01M476.9 1831.6h.01M521.7 1828.0h.01M530.1 1836.9h.01M517.2 1835.9h.01M535.4 1823.4h.01M501.0 1837.9h.01M508.4 1847.0h.01M558.5 1831.1h.01M558.4 1821.2h.01M517.6 1837.5h.01M540.1 1837.7h.01M509.6 1845.9h.01M526.3 1808.1h.01M507.1 1823.1h.01M505.5 1831.9h.01M516.6 1843.4h.01M546.3 1823.1h.01M519.7 1832.7h.01M524.2 1824.8h.01M515.8 1845.6h.01M521.3 1827.5h.01M517.1 1834.8h.01M520.6 1827.4h.01M523.7 1825.9h.01M521.5 1835.0h.01M523.9 1837.6h.01M530.8 1842.9h.01M539.7 1831.0h.01M534.8 1837.7h.01M539.4 1833.1h.01M513.2 1845.0h.01M515.7 1834.4h.01M530.2 1827.8h.01M547.0 1827.7h.01M527.1 1822.7h.01M542.0 1827.0h.01M524.3 1837.3h.01M513.1 1820.8h.01M532.1 1827.5h.01M552.9 1824.7h.01M509.7 1840.0h.01M534.3 1845.7h.01M494.1 1842.4h.01M534.9 1843.1h.01M518.0 1835.5h.01M545.6 1829.6h.01M534.2 1823.1h.01M554.7 1843.2h.01M518.1 1844.6h.01M524.9 1843.3h.01M510.6 1828.1h.01M507.7 1826.3h.01M516.4 1828.1h.01M523.8 1832.2h.01M518.7 1848.7h.01M542.9 1817.9h.01M526.3 1833.0h.01M512.0 1853.6h.01M502.4 1835.6h.01M548.1 1825.7h.01M525.7 1837.3h.01M494.1 1839.3h.01M513.3 1856.5h.01M525.3 1837.1h.01M524.4 1838.5h.01M511.1 1822.3h.01M498.6 1850.6h.01M521.5 1832.8h.01M516.5 1840.3h.01M525.9 1842.1h.01M522.0 1851.3h.01M534.3 1830.4h.01M504.1 1835.9h.01M507.3 1841.6h.01M513.7 1848.0h.01M525.5 1828.7h.01M534.7 1831.6h.01M517.8 1831.8h.01M507.3 1837.4h.01M540.6 1843.2h.01M525.2 1809.9h.01M501.5 1836.7h.01M478.2 1844.6h.01M518.8 1844.5h.01M503.3 1837.6h.01M535.5 1833.6h.01M511.9 1818.5h.01M515.4 1840.2h.01M502.2 1854.0h.01M512.3 1830.3h.01M518.1 1848.6h.01M519.8 1836.5h.01M527.1 1830.3h.01M518.0 1826.6h.01M517.6 1844.9h.01M531.1 1832.9h.01M519.8 1840.6h.01M525.4 1834.7h.01M519.1 1852.0h.01M550.1 1831.6h.01M522.2 1828.3h.01M512.2 1836.7h.01M524.2 1833.9h.01M515.8 1837.8h.01M523.6 1827.3h.01M530.8 1833.9h.01M523.8 1834.1h.01M507.6 1827.3h.01M522.1 1858.8h.01M504.7 1833.7h.01M541.1 1831.2h.01M531.9 1843.1h.01M564.2 1833.4h.01M524.3 1825.2h.01M517.3 1841.6h.01M536.6 1838.1h.01M516.9 1842.0h.01M523.4 1816.6h.01M544.1 1823.7h.01M512.5 1832.2h.01M522.8 1821.2h.01M498.5 1823.9h.01M512.1 1848.2h.01M520.8 1844.9h.01M518.4 1827.4h.01M499.9 1824.7h.01M526.4 1853.6h.01M506.4 1818.4h.01M476.7 1832.9h.01M516.0 1813.1h.01M528.0 1830.9h.01M543.4 1853.7h.01M505.4 1818.3h.01M533.8 1850.0h.01M553.1 1838.4h.01M546.0 1832.9h.01M549.1 1831.8h.01M518.2 1832.2h.01M539.6 1832.3h.01M511.0 1829.6h.01M540.5 1817.5h.01M510.8 1850.5h.01M514.6 1828.8h.01M547.5 1826.5h.01M550.4 1838.6h.01M529.8 1861.3h.01M539.0 1833.8h.01M528.7 1835.5h.01M525.4 1847.2h.01M517.1 1856.4h.01M507.3 1837.9h.01M530.1 1835.2h.01M507.4 1838.5h.01M555.9 1829.5h.01M518.4 1832.0h.01M520.2 1822.4h.01M509.4 1838.0h.01M549.2 1835.0h.01M516.1 1832.4h.01M529.1 1817.8h.01M512.6 1830.4h.01M501.2 1858.6h.01M551.1 1855.5h.01M509.2 1837.5h.01M503.3 1828.9h.01M493.6 1835.2h.01M527.6 1825.2h.01M529.1 1845.1h.01M541.8 1832.4h.01M541.4 1843.4h.01M516.1 1825.1h.01M488.2 1851.8h.01M509.5 1825.2h.01M494.8 1850.4h.01M541.1 1833.4h.01M511.3 1820.2h.01M496.1 1832.8h.01M533.9 1844.3h.01M522.1 1828.7h.01M526.2 1830.9h.01M529.4 1848.3h.01M524.5 1825.9h.01M505.7 1837.6h.01M528.1 1852.3h.01M534.6 1827.6h.01M539.6 1829.0h.01M507.8 1842.6h.01M521.6 1823.6h.01M518.1 1825.6h.01M513.2 1857.3h.01M547.6 1826.7h.01M498.2 1856.2h.01M547.4 1834.7h.01M514.2 1840.5h.01M543.8 1854.2h.01M527.8 1831.5h.01M523.8 1839.8h.01M503.8 1846.0h.01M507.5 1835.9h.01M537.9 1853.4h.01M531.4 1857.5h.01M525.2 1857.9h.01M523.3 1832.7h.01M541.0 1837.2h.01M518.7 1839.1h.01M519.3 1840.0h.01M482.9 1834.2h.01M520.2 1836.2h.01M508.6 1851.8h.01M527.1 1846.1h.01M531.7 1828.5h.01M504.0 1845.8h.01M537.4 1846.6h.01M512.3 1839.0h.01M501.7 1830.5h.01M502.8 1831.2h.01M515.2 1822.7h.01M513.4 1847.8h.01M533.9 1841.0h.01M505.5 1846.9h.01M535.7 1822.1h.01M579.7 1816.1h.01M503.1 1847.8h.01M512.7 1840.1h.01M522.4 1820.0h.01M550.5 1834.0h.01M518.6 1826.6h.01M511.0 1838.8h.01M538.6 1833.1h.01M513.2 1838.9h.01M530.0 1838.7h.01M522.8 1834.6h.01M535.4 1851.0h.01M525.0 1852.3h.01M533.9 1823.0h.01M520.8 1849.4h.01M524.9 1838.4h.01M526.3 1852.8h.01M517.1 1838.0h.01M546.5 1847.7h.01M539.5 1837.5h.01M528.6 1822.2h.01M541.2 1820.2h.01M511.2 1815.7h.01M528.2 1835.3h.01M549.0 1839.0h.01M525.0 1825.6h.01M515.7 1833.7h.01M524.2 1834.0h.01M483.9 1843.7h.01M531.1 1830.3h.01M527.6 1842.5h.01M516.7 1838.8h.01M515.1 1826.4h.01M518.1 1833.9h.01M524.9 1841.5h.01M524.2 1838.4h.01M495.3 1830.3h.01M523.4 1838.6h.01M525.7 1850.7h.01M552.5 1835.0h.01M504.9 1847.0h.01M485.0 1847.1h.01M507.3 1847.9h.01M540.0 1820.6h.01M509.5 1839.6h.01M528.3 1816.0h.01M532.8 1818.7h.01M515.6 1834.9h.01M516.6 1825.2h.01M545.7 1840.7h.01M524.9 1835.8h.01M527.6 1826.2h.01M507.9 1843.9h.01M514.1 1822.4h.01M503.2 1840.4h.01M524.5 1830.5h.01M545.0 1839.6h.01M532.5 1830.2h.01M533.3 1840.3h.01M525.3 1820.9h.01M523.4 1806.6h.01M510.0 1834.8h.01M516.9 1822.3h.01M492.1 1844.0h.01M525.1 1846.4h.01M545.0 1831.4h.01M512.2 1834.9h.01M520.4 1842.1h.01M539.5 1822.6h.01M510.0 1852.4h.01M509.3 1828.9h.01M509.6 1834.6h.01M541.0 1840.5h.01M499.3 1842.6h.01M515.7 1825.4h.01M529.1 1839.7h.01M504.9 1830.8h.01M496.9 1829.0h.01M529.5 1817.7h.01M534.2 1835.8h.01M499.8 1850.3h.01M545.5 1849.6h.01M503.9 1840.2h.01M516.7 1813.7h.01M496.5 1862.0h.01M534.4 1847.4h.01M543.1 1830.2h.01M526.2 1813.7h.01M508.8 1837.0h.01M498.2 1845.5h.01M499.4 1828.5h.01M528.5 1838.4h.01M539.2 1810.8h.01M547.2 1818.8h.01M513.0 1844.1h.01M531.7 1846.9h.01M482.4 1826.3h.01M530.8 1840.8h.01M499.6 1821.1h.01M530.4 1855.4h.01M510.5 1833.9h.01M543.7 1817.7h.01M487.9 1809.8h.01M512.3 1859.0h.01M575.6 1846.9h.01M516.2 1855.4h.01M507.7 1801.7h.01M495.5 1835.0h.01M484.1 1857.6h.01M535.2 1837.8h.01M483.0 1835.5h.01M546.3 1815.2h.01M543.4 1853.7h.01M544.9 1836.5h.01M578.9 1823.9h.01M511.5 1852.9h.01M524.9 1834.5h.01M552.4 1826.7h.01M547.5 1825.8h.01M515.3 1854.1h.01M569.9 1830.9h.01M539.4 1824.1h.01M500.6 1830.0h.01M495.9 1826.6h.01M524.9 1830.6h.01M530.5 1843.3h.01M521.5 1864.2h.01M536.0 1824.3h.01M562.6 1827.1h.01M557.2 1840.0h.01M535.2 1822.2h.01M509.4 1825.6h.01M517.3 1828.8h.01M511.8 1824.3h.01M508.1 1804.3h.01M546.8 1843.4h.01M512.6 1845.9h.01M557.4 1847.6h.01M523.3 1847.9h.01M555.4 1850.4h.01M519.8 1820.0h.01M556.0 1852.3h.01M511.3 1817.4h.01M518.5 1826.3h.01M543.1 1848.7h.01M497.2 1865.4h.01M527.3 1854.3h.01M535.2 1823.7h.01M515.6 1841.5h.01M488.2 1829.1h.01M519.0 1865.1h.01M553.5 1834.0h.01M520.3 1828.1h.01M537.5 1817.2h.01M508.5 1819.0h.01M508.5 1827.7h.01M507.4 1830.4h.01M533.5 1828.1h.01M564.7 1823.4h.01M519.6 1837.2h.01M499.1 1841.0h.01M483.2 1838.0h.01M482.5 1830.3h.01M504.5 1810.3h.01M555.8 1804.6h.01M522.0 1843.7h.01M531.8 1797.9h.01M495.2 1851.6h.01M530.2 1798.4h.01M536.3 1842.0h.01M553.6 1835.8h.01M524.5 1855.2h.01M530.1 1816.3h.01M533.8 1850.0h.01M484.9 1839.9h.01M561.4 1875.8h.01M539.8 1826.2h.01M550.2 1799.5h.01M499.7 1852.2h.01M545.7 1839.6h.01M534.0 1843.6h.01M516.0 1868.8h.01M582.7 1828.7h.01M565.5 1822.2h.01M503.2 1809.8h.01M523.6 1812.8h.01M528.6 1832.5h.01M552.2 1793.4h.01M516.2 1858.0h.01M503.4 1867.5h.01M536.7 1828.1h.01M517.8 1862.0h.01M499.0 1839.6h.01M474.3 1846.9h.01M531.2 1812.2h.01M537.4 1836.4h.01M536.5 1788.6h.01M545.8 1848.3h.01M523.5 1845.3h.01M555.6 1830.2h.01M509.4 1855.7h.01M513.0 1832.2h.01M529.4 1819.0h.01M555.9 1861.4h.01M480.5 1846.6h.01M558.5 1824.2h.01M529.4 1871.0h.01M476.4 1798.6h.01M539.4 1872.5h.01M532.1 1849.3h.01M557.4 1826.7h.01" stroke="#ee6a12" stroke-width="1.7" stroke-linecap="square" fill="none" opacity="0.8"/>
<path d="M505.6 1849.3h.01M568.2 1807.4h.01M512.6 1809.1h.01M512.5 1805.5h.01M478.0 1794.6h.01M493.1 1807.5h.01M520.4 1837.1h.01M566.8 1825.2h.01M572.4 1846.8h.01M495.7 1800.9h.01M578.3 1832.6h.01M481.1 1874.9h.01M533.2 1837.1h.01M543.9 1797.2h.01M526.8 1877.2h.01M567.0 1804.6h.01M541.3 1819.7h.01M566.3 1870.3h.01M493.6 1844.5h.01M536.1 1808.5h.01M528.9 1799.5h.01M511.3 1829.4h.01M469.3 1839.1h.01M551.8 1794.0h.01M528.2 1849.7h.01M552.3 1824.1h.01M568.0 1795.1h.01M536.0 1841.8h.01M498.8 1855.7h.01M469.5 1815.5h.01M585.8 1791.3h.01M482.9 1790.2h.01M519.0 1793.0h.01M568.2 1837.4h.01M476.9 1854.1h.01M519.2 1812.7h.01M499.9 1822.1h.01M520.8 1865.7h.01M514.9 1851.5h.01M558.8 1864.2h.01M496.7 1857.7h.01M562.3 1833.3h.01M570.7 1820.9h.01M564.9 1802.3h.01M523.3 1792.1h.01M552.7 1865.1h.01M574.0 1804.6h.01M486.2 1832.7h.01M546.4 1872.3h.01M559.7 1873.9h.01M482.9 1866.7h.01M577.5 1818.3h.01M535.3 1791.0h.01M499.8 1857.1h.01M568.1 1818.5h.01M521.4 1799.5h.01M535.1 1854.9h.01M521.7 1864.8h.01M479.0 1852.8h.01M577.4 1868.2h.01M495.0 1851.9h.01M521.5 1795.4h.01M499.4 1795.3h.01M493.3 1822.9h.01M548.7 1864.8h.01M577.9 1869.4h.01M482.6 1861.5h.01M475.1 1840.8h.01M579.4 1789.6h.01M525.9 1815.3h.01" stroke="#f0a060" stroke-width="1.5" stroke-linecap="square" fill="none" opacity="0.55"/>
<path d="M558.5 1731.2h.01M536.6 1752.4h.01M539.9 1740.0h.01M537.5 1766.0h.01M554.7 1715.9h.01M544.2 1742.9h.01M570.6 1705.4h.01M534.0 1760.0h.01M547.2 1736.2h.01M548.3 1747.8h.01M543.5 1738.5h.01M577.1 1696.1h.01M558.5 1730.2h.01M544.3 1735.8h.01M571.9 1725.1h.01M553.5 1730.7h.01M543.6 1732.0h.01M554.7 1708.4h.01M567.7 1723.9h.01M534.6 1744.5h.01M551.1 1734.0h.01M570.5 1709.6h.01M538.9 1741.9h.01M565.7 1738.7h.01M539.3 1755.1h.01M574.9 1694.6h.01M580.1 1701.2h.01M574.2 1714.8h.01M545.2 1740.3h.01M581.4 1700.0h.01M552.9 1737.8h.01M531.3 1755.1h.01M578.3 1699.2h.01M560.9 1729.1h.01M558.5 1714.1h.01M563.4 1713.8h.01M558.4 1726.5h.01M548.2 1739.2h.01M559.3 1722.6h.01M562.9 1710.9h.01M554.7 1726.1h.01M554.2 1722.7h.01M561.3 1728.6h.01M550.0 1726.5h.01M558.8 1732.5h.01M536.7 1757.2h.01M554.0 1736.5h.01M548.9 1748.8h.01M554.1 1731.2h.01M548.1 1734.6h.01M568.9 1732.2h.01M578.8 1720.1h.01M550.3 1731.1h.01M565.6 1704.1h.01M563.2 1696.1h.01M573.1 1707.1h.01M568.6 1708.9h.01M531.2 1749.3h.01M579.9 1708.3h.01M567.3 1712.9h.01M548.1 1736.2h.01M568.9 1715.1h.01M556.0 1724.0h.01M577.0 1708.9h.01M555.2 1737.9h.01M542.8 1750.5h.01M529.8 1747.5h.01M572.3 1705.4h.01M557.8 1704.4h.01M531.5 1752.1h.01M560.7 1720.5h.01M553.4 1716.1h.01M569.4 1701.8h.01M554.7 1760.3h.01M549.3 1741.3h.01M550.1 1747.4h.01M545.2 1746.6h.01M572.2 1696.2h.01M562.1 1729.2h.01M554.3 1717.8h.01M607.0 1765.2h.01M665.7 1725.7h.01M716.9 1723.1h.01M630.8 1735.2h.01M701.5 1730.6h.01M620.2 1713.6h.01M657.6 1726.4h.01M653.2 1742.7h.01M575.8 1801.6h.01M625.4 1853.2h.01M723.0 1830.2h.01M597.5 1726.3h.01M687.4 1704.2h.01M594.3 1770.9h.01M650.3 1792.9h.01M571.1 1722.8h.01M695.4 1728.9h.01M714.4 1740.6h.01" stroke="#f2708a" stroke-width="2.3" stroke-linecap="square" fill="none" opacity="0.85"/>
<line x1="590.4" y1="1562.5" x2="590.4" y2="1886.0" stroke="#ee4b4b" stroke-width="2.6" stroke-linecap="butt"/>
<line x1="460.2" y1="1782.8" x2="784.3" y2="1782.8" stroke="#ee4b4b" stroke-width="2.6" stroke-linecap="butt"/>
<rect x="460.2" y="1562.5" width="324.1" height="323.5" fill="none" stroke="#666" stroke-width="2" />
<path d="M456.2 1861.7h4M484.6 1886.0v4M456.2 1847.4h4M498.9 1886.0v4M456.2 1837.3h4M509.0 1886.0v4M456.2 1829.5h4M516.8 1886.0v4M456.2 1823.1h4M523.2 1886.0v4M456.2 1817.7h4M528.7 1886.0v4M456.2 1813.0h4M533.4 1886.0v4M456.2 1808.8h4M537.5 1886.0v4M456.2 1780.8h4M565.6 1886.0v4M456.2 1766.5h4M579.9 1886.0v4M456.2 1756.4h4M590.0 1886.0v4M456.2 1748.6h4M597.9 1886.0v4M456.2 1742.2h4M604.3 1886.0v4M456.2 1736.8h4M609.7 1886.0v4M456.2 1732.1h4M614.4 1886.0v4M456.2 1728.0h4M618.5 1886.0v4M456.2 1699.9h4M646.6 1886.0v4M456.2 1685.7h4M660.9 1886.0v4M456.2 1675.6h4M671.0 1886.0v4M456.2 1667.7h4M678.9 1886.0v4M456.2 1661.3h4M685.3 1886.0v4M456.2 1655.9h4M690.7 1886.0v4M456.2 1651.2h4M695.4 1886.0v4M456.2 1647.1h4M699.6 1886.0v4M456.2 1619.0h4M727.7 1886.0v4M456.2 1604.8h4M741.9 1886.0v4M456.2 1594.7h4M752.1 1886.0v4M456.2 1586.8h4M759.9 1886.0v4M456.2 1580.4h4M766.3 1886.0v4M456.2 1575.0h4M771.7 1886.0v4M456.2 1570.3h4M776.4 1886.0v4M456.2 1566.2h4M780.6 1886.0v4M453.2 1886.0h7M460.2 1886.0v7M453.2 1805.1h7M541.2 1886.0v7M453.2 1724.2h7M622.2 1886.0v7M453.2 1643.4h7M703.3 1886.0v7M453.2 1562.5h7M784.3 1886.0v7" stroke="#777" stroke-width="1.3" fill="none"/>
<circle cx="590.4" cy="1636.6" r="7.3" fill="#f90b14"/>
<circle cx="719.2" cy="1782.8" r="7.3" fill="#f90b14"/>
<circle cx="590.4" cy="1782.8" r="6" fill="#fff" stroke="#ee3a3a" stroke-width="1.8"/>
<text x="465.4" y="1582.0" font-size="19.2" text-anchor="start" fill="#3a3a3a" >Dead</text>
<text x="465.4" y="1604.0" font-size="19.2" text-anchor="start" fill="#3a3a3a" >4.27 %</text>
<text x="778.8" y="1582.0" font-size="19.2" text-anchor="end" fill="#3a3a3a" >Late Apop./Dead</text>
<text x="775.8" y="1604.0" font-size="19.2" text-anchor="end" fill="#3a3a3a" >0.52 %</text>
<text x="465.4" y="1856.0" font-size="19.2" text-anchor="start" fill="#3a3a3a" >94.85 %</text>
<text x="465.4" y="1878.2" font-size="19.2" text-anchor="start" fill="#3a3a3a" >Live</text>
<text x="775.8" y="1856.0" font-size="19.2" text-anchor="end" fill="#3a3a3a" >0.36 %</text>
<text x="775.8" y="1878.2" font-size="19.2" text-anchor="end" fill="#3a3a3a" >Early Apop.</text>
<text x="450.7" y="1894.2" font-size="18.5" text-anchor="end" fill="#3a3a3a" >0</text>
<text x="458.7" y="1913.0" font-size="18.5" text-anchor="middle" fill="#3a3a3a" >0</text>
<text x="450.7" y="1813.3" font-size="18.5" text-anchor="end" fill="#3a3a3a" >1</text>
<text x="539.7" y="1913.0" font-size="18.5" text-anchor="middle" fill="#3a3a3a" >1</text>
<text x="450.7" y="1732.5" font-size="18.5" text-anchor="end" fill="#3a3a3a" >2</text>
<text x="620.8" y="1913.0" font-size="18.5" text-anchor="middle" fill="#3a3a3a" >2</text>
<text x="450.7" y="1651.6" font-size="18.5" text-anchor="end" fill="#3a3a3a" >3</text>
<text x="701.8" y="1913.0" font-size="18.5" text-anchor="middle" fill="#3a3a3a" >3</text>
<text x="450.7" y="1570.7" font-size="18.5" text-anchor="end" fill="#3a3a3a" >4</text>
<text x="781.8" y="1913.0" font-size="18.5" text-anchor="middle" fill="#3a3a3a" >4</text>
<text x="623.4" y="1533.2" font-size="29.5" text-anchor="middle" fill="#1c1c1c" >20 <tspan font-family="Liberation Serif, serif" font-size="1.13em">µ</tspan>M</text>
<text x="624.4" y="1559.2" font-size="20.8" text-anchor="middle" fill="#3a3a3a" >APOPTOSIS PROFILE</text>
<text transform="translate(429.5,1730.0) rotate(-90)" font-size="20.6" text-anchor="middle" fill="#3a3a3a">VIABILITY</text>
<text x="457.5" y="1933.6" font-size="20.5" text-anchor="start" fill="#3a3a3a" >Live</text>
<text x="621.9" y="1933.6" font-size="20.5" text-anchor="middle" fill="#3a3a3a" >ANNEXIN V</text>
<text x="797.5" y="1933.6" font-size="20.5" text-anchor="end" fill="#3a3a3a" >Apoptotic</text>
<rect x="851.0" y="1782.8" width="130.2" height="103.2" fill="#f2f4b4" stroke="none" stroke-width="0" />
<ellipse cx="910.9" cy="1836.5" rx="37" ry="27" fill="url(#lg)" transform="rotate(-18 910.9 1836.5)"/>
<path d="M908.1 1821.6h.01M903.8 1842.8h.01M885.9 1818.5h.01M887.8 1853.4h.01M929.4 1833.5h.01M919.7 1845.9h.01M884.6 1831.1h.01M880.6 1843.2h.01M908.8 1842.3h.01M889.2 1847.4h.01M909.0 1834.2h.01M913.5 1844.1h.01M883.2 1849.4h.01M911.3 1839.7h.01M930.8 1816.7h.01M910.5 1833.5h.01M912.3 1842.9h.01M916.6 1831.7h.01M919.8 1839.2h.01M911.3 1829.3h.01M923.2 1831.5h.01M903.5 1833.1h.01M909.5 1858.3h.01M921.8 1832.8h.01M908.8 1840.2h.01M918.9 1844.1h.01M891.3 1841.0h.01M907.4 1842.9h.01M897.0 1837.5h.01M895.8 1866.0h.01M908.4 1836.3h.01M946.2 1817.3h.01M885.0 1864.6h.01M941.4 1841.7h.01M930.9 1849.2h.01M887.2 1819.2h.01M908.4 1852.5h.01M917.5 1832.2h.01M922.2 1845.8h.01M915.0 1837.9h.01M924.7 1833.0h.01M898.3 1830.6h.01M907.7 1836.0h.01M928.7 1839.2h.01M912.6 1837.4h.01M932.5 1835.5h.01M926.7 1828.2h.01M920.7 1833.6h.01M894.7 1824.0h.01M918.9 1845.8h.01M929.7 1833.5h.01M907.7 1824.5h.01M911.0 1828.6h.01M899.4 1829.5h.01M905.6 1835.6h.01M892.5 1846.9h.01M916.9 1848.5h.01M926.5 1832.8h.01M929.0 1824.8h.01M880.8 1845.4h.01M901.2 1827.3h.01M894.3 1857.7h.01M893.8 1837.1h.01M906.4 1842.6h.01M922.3 1846.8h.01M884.8 1840.5h.01M898.1 1844.1h.01M899.5 1837.3h.01M930.1 1826.5h.01M909.1 1849.3h.01M923.7 1809.5h.01M895.2 1820.1h.01M912.9 1825.9h.01M898.4 1846.7h.01M931.0 1834.7h.01M884.5 1838.8h.01M896.7 1866.7h.01M905.3 1823.8h.01M923.2 1858.0h.01M898.2 1826.3h.01M916.3 1841.6h.01M928.7 1854.0h.01M891.2 1848.9h.01M895.7 1822.6h.01M910.6 1843.8h.01M918.4 1832.7h.01M925.7 1831.7h.01M923.6 1833.6h.01M909.2 1825.9h.01M915.7 1838.4h.01M930.5 1834.5h.01M899.7 1852.5h.01M921.3 1839.5h.01M897.6 1837.6h.01M904.6 1830.5h.01M906.2 1821.7h.01M893.9 1851.0h.01M898.0 1861.1h.01M907.6 1828.5h.01M919.4 1821.2h.01M922.3 1819.7h.01M924.6 1824.9h.01M901.8 1854.4h.01M925.2 1825.8h.01M902.3 1824.6h.01M907.9 1843.9h.01M903.2 1834.4h.01M888.6 1849.9h.01M901.7 1847.5h.01M929.2 1827.4h.01M901.0 1837.9h.01M907.7 1827.0h.01M895.4 1814.8h.01M914.0 1828.7h.01M928.5 1823.7h.01M913.8 1838.5h.01M915.5 1849.6h.01M909.5 1837.0h.01M915.7 1833.6h.01M916.8 1823.6h.01M913.4 1816.5h.01M903.1 1828.9h.01M900.8 1838.9h.01M911.3 1838.7h.01M895.1 1859.4h.01M908.8 1833.3h.01M905.1 1848.3h.01M892.9 1840.5h.01M914.2 1829.2h.01M893.8 1829.8h.01M919.5 1834.4h.01M929.0 1841.0h.01M924.9 1814.2h.01M917.2 1822.6h.01M891.7 1831.6h.01M909.4 1849.1h.01M921.8 1840.4h.01M892.4 1863.2h.01M918.8 1846.3h.01M916.2 1836.2h.01M890.9 1841.5h.01M866.0 1846.1h.01M891.2 1845.3h.01M915.2 1831.0h.01M910.2 1830.9h.01M925.4 1819.1h.01M910.3 1815.3h.01M917.2 1835.7h.01M906.8 1839.8h.01M917.6 1830.7h.01M918.7 1851.6h.01M937.7 1841.6h.01M903.2 1850.0h.01M912.8 1832.2h.01M913.6 1846.4h.01M905.1 1829.5h.01M903.1 1842.6h.01M896.1 1835.2h.01M909.6 1835.9h.01M875.0 1838.6h.01M914.0 1843.6h.01M910.2 1830.6h.01M895.6 1840.8h.01M919.9 1842.2h.01M912.8 1821.0h.01M915.3 1849.8h.01M919.5 1833.5h.01M908.1 1831.5h.01M912.1 1841.7h.01M889.8 1835.6h.01M902.0 1825.0h.01M901.9 1835.1h.01M911.9 1842.1h.01M917.2 1833.9h.01M916.7 1825.8h.01M918.0 1824.9h.01M931.6 1823.4h.01M910.6 1833.1h.01M908.6 1834.8h.01M897.5 1834.0h.01M923.9 1842.2h.01M908.2 1849.0h.01M904.4 1834.9h.01M896.4 1843.4h.01M936.3 1814.4h.01M912.1 1846.5h.01M899.2 1842.8h.01M936.4 1820.9h.01M928.6 1849.5h.01M921.1 1814.5h.01M908.9 1838.1h.01M905.8 1831.5h.01M907.9 1832.1h.01M904.4 1836.6h.01M900.5 1835.5h.01M939.9 1834.8h.01M906.5 1822.0h.01M904.9 1847.6h.01M900.4 1836.7h.01M906.6 1833.1h.01M919.9 1841.5h.01M890.9 1842.4h.01M902.0 1825.4h.01M886.9 1853.8h.01M893.5 1839.9h.01M921.0 1851.1h.01M938.0 1833.9h.01M874.9 1814.6h.01M918.0 1823.4h.01M902.4 1829.1h.01M907.7 1861.8h.01M895.2 1852.1h.01M917.5 1834.6h.01M918.3 1820.8h.01M905.9 1823.0h.01M923.5 1843.1h.01M891.4 1841.4h.01M926.5 1830.2h.01M899.9 1824.7h.01M947.2 1842.0h.01M882.9 1859.8h.01M917.6 1827.6h.01M890.7 1833.7h.01M905.6 1829.8h.01M916.6 1841.6h.01M892.5 1863.5h.01M894.3 1849.6h.01M919.5 1833.5h.01M887.6 1860.6h.01M898.5 1854.9h.01M909.2 1806.9h.01M924.0 1838.2h.01M918.4 1827.2h.01M925.9 1849.2h.01M921.4 1848.8h.01M914.4 1817.6h.01M905.6 1829.4h.01M891.3 1836.1h.01M912.7 1854.8h.01M932.9 1813.8h.01M887.5 1842.6h.01M928.2 1827.7h.01M901.2 1844.3h.01M940.4 1835.6h.01M929.3 1830.3h.01M913.9 1813.0h.01M925.5 1835.0h.01M890.0 1839.5h.01M922.9 1842.7h.01M909.1 1840.2h.01M902.0 1820.7h.01M930.5 1825.4h.01M913.0 1820.3h.01M916.4 1844.2h.01M920.8 1845.7h.01M913.2 1822.5h.01M916.9 1835.4h.01M897.3 1827.6h.01M899.7 1835.4h.01M922.8 1849.1h.01M914.6 1847.1h.01M908.7 1832.2h.01M910.2 1828.9h.01M922.0 1817.4h.01M899.9 1815.4h.01M934.9 1822.6h.01M927.2 1849.8h.01M919.6 1838.4h.01M916.5 1825.8h.01M910.4 1828.8h.01M915.0 1837.5h.01M928.6 1816.1h.01M926.7 1827.8h.01M909.3 1826.3h.01M919.5 1840.4h.01M892.7 1837.9h.01M928.4 1835.6h.01M909.4 1838.8h.01M925.1 1835.3h.01M934.8 1827.4h.01M907.8 1851.5h.01M926.5 1828.4h.01M938.6 1834.4h.01M894.3 1822.9h.01M919.7 1807.8h.01M910.1 1828.6h.01M921.9 1834.5h.01M901.2 1843.6h.01M899.8 1841.6h.01M902.5 1832.2h.01M904.6 1839.5h.01M876.7 1833.0h.01M913.1 1826.3h.01M923.2 1816.1h.01M884.0 1852.9h.01M917.5 1838.4h.01M916.8 1826.9h.01M925.9 1847.7h.01M909.1 1842.1h.01M906.0 1846.3h.01M903.1 1835.1h.01M927.5 1826.3h.01M911.9 1848.1h.01M913.8 1833.9h.01M909.5 1844.2h.01M874.3 1832.3h.01M892.0 1840.5h.01M933.7 1834.3h.01M919.8 1838.3h.01M894.9 1831.6h.01M919.7 1839.7h.01M943.8 1837.9h.01M926.1 1829.8h.01M899.9 1815.0h.01M913.1 1835.0h.01M925.9 1849.0h.01M915.6 1827.2h.01M924.1 1835.9h.01M878.0 1839.6h.01M924.2 1834.8h.01M916.2 1840.3h.01M902.6 1855.7h.01M908.6 1841.9h.01M913.6 1834.9h.01M912.2 1864.2h.01M902.2 1842.7h.01M902.6 1829.8h.01M899.7 1834.5h.01M899.6 1854.1h.01M903.1 1823.6h.01M905.4 1829.1h.01M913.3 1841.1h.01M908.7 1850.7h.01M914.8 1837.6h.01M902.4 1846.6h.01M892.7 1852.7h.01M923.3 1848.9h.01M901.1 1843.3h.01M925.1 1829.8h.01M887.9 1844.6h.01M928.0 1842.5h.01M924.6 1833.6h.01M899.6 1845.9h.01M941.6 1837.5h.01M926.0 1846.5h.01M937.3 1838.7h.01M900.8 1833.6h.01M896.1 1847.5h.01M927.5 1831.6h.01M916.2 1845.0h.01M915.2 1833.7h.01M908.0 1841.5h.01M914.2 1824.0h.01M895.2 1853.4h.01M921.8 1810.6h.01M915.8 1831.3h.01M893.0 1843.0h.01M905.2 1829.4h.01M923.8 1842.7h.01M931.5 1806.7h.01M908.9 1835.0h.01M901.1 1829.0h.01M916.0 1811.8h.01M883.0 1841.5h.01M917.5 1802.2h.01M923.8 1830.0h.01M896.1 1858.6h.01M922.1 1829.5h.01M927.2 1826.5h.01M938.6 1836.6h.01M907.4 1819.5h.01M898.8 1837.4h.01M919.9 1843.0h.01M913.2 1846.7h.01M922.6 1849.1h.01M919.0 1822.4h.01M907.4 1837.8h.01M920.1 1833.7h.01M920.8 1814.9h.01M889.6 1853.4h.01M913.1 1808.0h.01M894.8 1820.7h.01M907.3 1841.5h.01M917.1 1833.3h.01M926.6 1831.7h.01M931.7 1809.6h.01M900.7 1841.6h.01M923.0 1851.6h.01M903.2 1842.1h.01M899.7 1841.8h.01M938.7 1813.5h.01M931.0 1826.5h.01M906.1 1828.8h.01M902.8 1831.7h.01M929.9 1846.8h.01M903.0 1848.1h.01M911.9 1846.9h.01M925.8 1845.6h.01M912.2 1839.0h.01M900.5 1846.0h.01M908.0 1858.4h.01M893.3 1837.1h.01M920.9 1840.4h.01M915.6 1830.3h.01M899.6 1835.7h.01M918.1 1847.4h.01M899.8 1843.5h.01M900.1 1832.3h.01M923.3 1835.0h.01M921.8 1829.8h.01M902.4 1849.2h.01M882.9 1844.7h.01M900.5 1842.1h.01M915.7 1827.4h.01M911.7 1839.3h.01M905.3 1839.5h.01M930.0 1825.4h.01M905.5 1841.2h.01M925.9 1832.7h.01M902.1 1843.8h.01M896.2 1855.2h.01M898.4 1849.7h.01M908.9 1830.2h.01M926.8 1841.1h.01M930.8 1834.9h.01M890.5 1844.2h.01M905.0 1838.4h.01M890.7 1840.9h.01M919.8 1841.8h.01M927.1 1846.4h.01M891.9 1855.5h.01M919.5 1843.0h.01M891.6 1843.1h.01M913.1 1847.6h.01M896.9 1852.0h.01M933.0 1848.6h.01M902.4 1861.7h.01M907.6 1852.3h.01M917.1 1842.8h.01M951.6 1800.7h.01M905.8 1837.6h.01M910.9 1821.0h.01M915.7 1837.3h.01M911.6 1835.3h.01M903.7 1844.3h.01M914.0 1837.9h.01M925.8 1827.7h.01M936.1 1826.9h.01M934.7 1814.7h.01M906.9 1845.2h.01M935.9 1830.8h.01M907.7 1837.0h.01M920.8 1837.0h.01M891.2 1823.1h.01M923.7 1822.6h.01M889.8 1837.1h.01M927.7 1832.0h.01M913.9 1851.5h.01M906.1 1811.7h.01M897.5 1843.6h.01M929.3 1819.5h.01M888.6 1822.3h.01M913.3 1827.8h.01M887.9 1841.8h.01M901.6 1850.3h.01M903.9 1840.8h.01M925.7 1826.1h.01M940.7 1827.1h.01M914.2 1842.8h.01M907.1 1840.6h.01M923.7 1824.6h.01M932.3 1832.1h.01M917.7 1830.5h.01M910.5 1840.7h.01M910.1 1832.6h.01M901.1 1848.4h.01M890.3 1841.3h.01M896.1 1849.3h.01M930.9 1840.2h.01M923.6 1827.3h.01M960.4 1841.2h.01M934.3 1823.5h.01M906.5 1810.3h.01M919.2 1855.6h.01M908.7 1836.2h.01M922.8 1850.8h.01M941.1 1807.5h.01M900.8 1835.4h.01M902.5 1856.8h.01M885.0 1853.1h.01M892.2 1818.5h.01M886.6 1822.0h.01M902.5 1837.5h.01M975.6 1806.4h.01M900.3 1862.5h.01M905.0 1827.3h.01M918.6 1868.0h.01M956.6 1831.0h.01M902.6 1849.8h.01M876.0 1855.5h.01M887.5 1824.5h.01M907.5 1831.6h.01M941.6 1799.8h.01M897.1 1823.8h.01M894.0 1869.3h.01M919.4 1857.0h.01M880.6 1843.1h.01M909.9 1814.0h.01M961.2 1850.5h.01M918.6 1813.7h.01M933.5 1849.7h.01M929.9 1852.8h.01M893.7 1864.9h.01M963.9 1849.2h.01M928.6 1840.9h.01M881.7 1828.0h.01M920.8 1848.8h.01M951.7 1838.3h.01M870.5 1843.6h.01M894.4 1848.0h.01M927.7 1865.4h.01M914.3 1838.2h.01M953.5 1839.6h.01M904.9 1856.9h.01M936.2 1846.0h.01M893.1 1817.7h.01M913.3 1875.2h.01M919.5 1841.2h.01M906.8 1833.9h.01M904.3 1837.9h.01M905.5 1862.4h.01M874.8 1840.6h.01M883.4 1786.9h.01M899.7 1823.5h.01M892.3 1837.8h.01M945.6 1828.2h.01M917.4 1795.5h.01M900.0 1837.6h.01M917.6 1820.1h.01M883.5 1837.4h.01M948.1 1819.1h.01M860.7 1840.4h.01M916.8 1826.7h.01M897.1 1785.1h.01M896.0 1833.2h.01M913.6 1830.7h.01M894.7 1820.3h.01M901.5 1854.6h.01M929.7 1829.0h.01M946.4 1868.6h.01M895.6 1877.3h.01M912.7 1849.6h.01M917.0 1805.0h.01M918.3 1883.0h.01M944.0 1818.5h.01M913.6 1843.7h.01M891.7 1790.0h.01M916.9 1829.7h.01M933.1 1794.0h.01M926.6 1829.7h.01M908.6 1861.2h.01M914.2 1836.0h.01M926.6 1823.1h.01M927.2 1801.6h.01M903.9 1815.0h.01M883.7 1844.1h.01M881.6 1849.5h.01M930.9 1829.5h.01M902.5 1819.8h.01M912.9 1855.5h.01M890.6 1853.3h.01M916.8 1853.6h.01M886.4 1841.5h.01M935.4 1817.1h.01M941.8 1865.8h.01M913.2 1846.7h.01M889.2 1788.0h.01M923.1 1840.5h.01M880.6 1824.3h.01M910.9 1833.6h.01M865.3 1839.0h.01M902.1 1813.6h.01M912.6 1832.8h.01M900.6 1846.8h.01M930.6 1811.8h.01M889.4 1837.3h.01M960.1 1819.6h.01M929.8 1870.3h.01M868.0 1840.9h.01M876.6 1861.1h.01M951.7 1859.7h.01M920.0 1853.3h.01M888.4 1830.2h.01M889.0 1828.3h.01M917.1 1833.0h.01M920.8 1823.8h.01M978.3 1863.6h.01M924.9 1862.3h.01M911.3 1789.3h.01M909.1 1850.2h.01M906.6 1852.3h.01M890.5 1873.1h.01M882.2 1862.9h.01M875.3 1839.1h.01M929.0 1796.6h.01M893.6 1852.2h.01M958.8 1802.0h.01M912.0 1857.0h.01M885.1 1836.4h.01M882.3 1819.7h.01M958.1 1842.6h.01M932.2 1804.0h.01M935.3 1838.5h.01M923.9 1796.1h.01M945.6 1861.9h.01M920.7 1833.3h.01M904.4 1855.0h.01" stroke="#ee6a12" stroke-width="1.7" stroke-linecap="square" fill="none" opacity="0.8"/>
<path d="M870.7 1837.8h.01M924.8 1839.3h.01M944.3 1827.2h.01M947.9 1868.5h.01M885.3 1809.3h.01M862.5 1855.0h.01M882.0 1794.8h.01M889.8 1856.1h.01M914.2 1797.3h.01M954.4 1791.2h.01M866.3 1842.9h.01M949.2 1861.4h.01M958.3 1851.7h.01M900.9 1838.8h.01M945.5 1797.7h.01M956.5 1849.7h.01M901.1 1874.2h.01M961.4 1865.0h.01M940.9 1849.1h.01M949.8 1871.2h.01M902.2 1802.0h.01M878.7 1868.6h.01M896.7 1866.4h.01M975.4 1819.4h.01M903.3 1799.8h.01M922.7 1806.4h.01M956.1 1793.8h.01M934.8 1810.3h.01M971.4 1816.7h.01M916.1 1817.5h.01M941.0 1824.8h.01M930.1 1814.2h.01M881.9 1849.8h.01M970.6 1873.1h.01M925.7 1800.1h.01M933.8 1873.5h.01M892.7 1820.6h.01M941.2 1874.5h.01M967.7 1850.4h.01M871.6 1862.8h.01M896.5 1827.7h.01M922.7 1803.2h.01M884.6 1822.4h.01M969.7 1813.5h.01M956.1 1816.4h.01M869.0 1812.2h.01M900.9 1835.0h.01M927.4 1849.0h.01M926.5 1829.3h.01M908.0 1840.6h.01M886.4 1826.2h.01M969.8 1831.5h.01M868.0 1847.4h.01M885.7 1815.9h.01M927.7 1814.1h.01M975.2 1877.1h.01M969.4 1795.2h.01M886.5 1818.9h.01M936.8 1803.6h.01M975.7 1825.8h.01M883.7 1833.4h.01M963.1 1854.4h.01M940.3 1818.7h.01M943.3 1839.2h.01M871.6 1873.3h.01M895.3 1833.9h.01M948.7 1864.6h.01M915.8 1820.4h.01M909.5 1806.2h.01M973.7 1839.2h.01" stroke="#f0a060" stroke-width="1.5" stroke-linecap="square" fill="none" opacity="0.55"/>
<path d="M969.8 1724.4h.01M958.3 1741.9h.01M968.3 1697.1h.01M983.1 1704.1h.01M978.1 1712.3h.01M945.9 1743.3h.01M980.2 1714.6h.01M949.4 1749.5h.01M953.3 1717.9h.01M993.3 1696.0h.01M946.1 1728.5h.01M949.0 1744.7h.01M941.5 1759.8h.01M976.3 1709.3h.01M975.5 1695.6h.01M962.0 1732.1h.01M940.1 1739.4h.01M985.0 1680.7h.01M947.6 1723.0h.01M935.0 1747.9h.01M934.2 1736.5h.01M982.3 1696.2h.01M989.3 1699.4h.01M943.9 1740.9h.01M955.2 1748.6h.01M979.3 1708.0h.01M978.2 1709.8h.01M958.7 1705.6h.01M936.8 1760.7h.01M984.6 1709.4h.01M936.4 1721.9h.01M971.3 1715.9h.01M948.1 1727.3h.01M975.6 1705.5h.01M917.1 1749.5h.01M952.2 1729.9h.01M960.4 1712.9h.01M939.8 1740.3h.01M937.7 1722.8h.01M971.1 1699.6h.01M944.2 1754.4h.01M958.4 1710.2h.01M959.3 1734.9h.01M924.8 1746.2h.01M980.7 1688.5h.01M940.2 1755.5h.01M962.4 1713.4h.01M935.3 1762.4h.01M922.5 1768.3h.01M926.3 1780.1h.01M943.8 1729.0h.01M966.5 1706.6h.01M960.8 1718.2h.01M987.2 1713.8h.01M940.4 1735.9h.01M925.6 1745.6h.01M965.7 1705.4h.01M967.1 1717.7h.01M972.7 1705.5h.01M978.4 1701.9h.01M979.3 1706.0h.01M940.7 1757.0h.01M942.5 1743.0h.01M975.9 1694.9h.01M950.2 1713.7h.01M964.7 1707.2h.01M943.4 1728.6h.01M966.3 1725.7h.01M968.2 1706.9h.01M978.6 1709.9h.01M977.6 1706.4h.01M999.3 1770.0h.01M1000.0 1751.1h.01M1006.9 1755.5h.01M993.2 1708.9h.01M979.4 1740.2h.01M986.3 1703.9h.01M989.3 1771.3h.01M987.5 1776.8h.01M1004.1 1708.2h.01M1034.2 1790.2h.01M1087.4 1774.1h.01M1086.7 1848.4h.01M983.5 1783.9h.01M960.0 1824.5h.01M1061.5 1721.3h.01M1042.6 1831.4h.01M1015.4 1765.3h.01M1003.6 1786.0h.01M1006.8 1748.6h.01" stroke="#f2708a" stroke-width="2.3" stroke-linecap="square" fill="none" opacity="0.85"/>
<line x1="981.2" y1="1562.5" x2="981.2" y2="1886.0" stroke="#ee4b4b" stroke-width="2.6" stroke-linecap="butt"/>
<line x1="851.0" y1="1782.8" x2="1175.1" y2="1782.8" stroke="#ee4b4b" stroke-width="2.6" stroke-linecap="butt"/>
<rect x="851.0" y="1562.5" width="324.1" height="323.5" fill="none" stroke="#666" stroke-width="2" />
<path d="M847.0 1861.7h4M875.4 1886.0v4M847.0 1847.4h4M889.7 1886.0v4M847.0 1837.3h4M899.8 1886.0v4M847.0 1829.5h4M907.6 1886.0v4M847.0 1823.1h4M914.0 1886.0v4M847.0 1817.7h4M919.5 1886.0v4M847.0 1813.0h4M924.2 1886.0v4M847.0 1808.8h4M928.3 1886.0v4M847.0 1780.8h4M956.4 1886.0v4M847.0 1766.5h4M970.7 1886.0v4M847.0 1756.4h4M980.8 1886.0v4M847.0 1748.6h4M988.7 1886.0v4M847.0 1742.2h4M995.1 1886.0v4M847.0 1736.8h4M1000.5 1886.0v4M847.0 1732.1h4M1005.2 1886.0v4M847.0 1728.0h4M1009.3 1886.0v4M847.0 1699.9h4M1037.4 1886.0v4M847.0 1685.7h4M1051.7 1886.0v4M847.0 1675.6h4M1061.8 1886.0v4M847.0 1667.7h4M1069.7 1886.0v4M847.0 1661.3h4M1076.1 1886.0v4M847.0 1655.9h4M1081.5 1886.0v4M847.0 1651.2h4M1086.2 1886.0v4M847.0 1647.1h4M1090.4 1886.0v4M847.0 1619.0h4M1118.5 1886.0v4M847.0 1604.8h4M1132.7 1886.0v4M847.0 1594.7h4M1142.9 1886.0v4M847.0 1586.8h4M1150.7 1886.0v4M847.0 1580.4h4M1157.1 1886.0v4M847.0 1575.0h4M1162.5 1886.0v4M847.0 1570.3h4M1167.2 1886.0v4M847.0 1566.2h4M1171.4 1886.0v4M844.0 1886.0h7M851.0 1886.0v7M844.0 1805.1h7M932.0 1886.0v7M844.0 1724.2h7M1013.0 1886.0v7M844.0 1643.4h7M1094.1 1886.0v7M844.0 1562.5h7M1175.1 1886.0v7" stroke="#777" stroke-width="1.3" fill="none"/>
<circle cx="981.2" cy="1636.6" r="7.3" fill="#f90b14"/>
<circle cx="1110.0" cy="1782.8" r="7.3" fill="#f90b14"/>
<circle cx="981.2" cy="1782.8" r="6" fill="#fff" stroke="#ee3a3a" stroke-width="1.8"/>
<text x="856.2" y="1582.0" font-size="19.2" text-anchor="start" fill="#3a3a3a" >Dead</text>
<text x="856.2" y="1604.0" font-size="19.2" text-anchor="start" fill="#3a3a3a" >3.99 %</text>
<text x="1169.6" y="1582.0" font-size="19.2" text-anchor="end" fill="#3a3a3a" >Late Apop./Dead</text>
<text x="1166.6" y="1604.0" font-size="19.2" text-anchor="end" fill="#3a3a3a" >0.79 %</text>
<text x="856.2" y="1856.0" font-size="19.2" text-anchor="start" fill="#3a3a3a" >94.86 %</text>
<text x="856.2" y="1878.2" font-size="19.2" text-anchor="start" fill="#3a3a3a" >Live</text>
<text x="1166.6" y="1856.0" font-size="19.2" text-anchor="end" fill="#3a3a3a" >0.37 %</text>
<text x="1166.6" y="1878.2" font-size="19.2" text-anchor="end" fill="#3a3a3a" >Early Apop.</text>
<text x="841.5" y="1894.2" font-size="18.5" text-anchor="end" fill="#3a3a3a" >0</text>
<text x="849.5" y="1913.0" font-size="18.5" text-anchor="middle" fill="#3a3a3a" >0</text>
<text x="841.5" y="1813.3" font-size="18.5" text-anchor="end" fill="#3a3a3a" >1</text>
<text x="930.5" y="1913.0" font-size="18.5" text-anchor="middle" fill="#3a3a3a" >1</text>
<text x="841.5" y="1732.5" font-size="18.5" text-anchor="end" fill="#3a3a3a" >2</text>
<text x="1011.5" y="1913.0" font-size="18.5" text-anchor="middle" fill="#3a3a3a" >2</text>
<text x="841.5" y="1651.6" font-size="18.5" text-anchor="end" fill="#3a3a3a" >3</text>
<text x="1092.6" y="1913.0" font-size="18.5" text-anchor="middle" fill="#3a3a3a" >3</text>
<text x="841.5" y="1570.7" font-size="18.5" text-anchor="end" fill="#3a3a3a" >4</text>
<text x="1172.6" y="1913.0" font-size="18.5" text-anchor="middle" fill="#3a3a3a" >4</text>
<text x="1012.3" y="1533.2" font-size="29.5" text-anchor="middle" fill="#1c1c1c" >50 <tspan font-family="Liberation Serif, serif" font-size="1.13em">µ</tspan>M</text>
<text x="1006.1" y="1559.2" font-size="20.8" text-anchor="middle" fill="#3a3a3a" >APOPTOSIS PROFILE</text>
<text transform="translate(817.5,1730.0) rotate(-90)" font-size="20.6" text-anchor="middle" fill="#3a3a3a">VIABILITY</text>
<text x="849.5" y="1933.6" font-size="20.5" text-anchor="start" fill="#3a3a3a" >Live</text>
<text x="1014.0" y="1933.6" font-size="20.5" text-anchor="middle" fill="#3a3a3a" >ANNEXIN V</text>
<text x="1190.5" y="1933.6" font-size="20.5" text-anchor="end" fill="#3a3a3a" >Apoptotic</text>
<rect x="1245.6" y="1782.8" width="130.2" height="103.2" fill="#f2f4b4" stroke="none" stroke-width="0" />
<ellipse cx="1308.3" cy="1834.5" rx="37" ry="27" fill="url(#lg)" transform="rotate(-18 1308.3 1834.5)"/>
<path d="M1335.5 1837.1h.01M1298.7 1833.1h.01M1307.7 1820.1h.01M1313.9 1819.3h.01M1298.5 1818.9h.01M1305.8 1839.4h.01M1313.2 1829.6h.01M1262.3 1837.6h.01M1303.6 1843.0h.01M1302.4 1841.4h.01M1305.6 1826.1h.01M1328.0 1834.7h.01M1309.8 1840.9h.01M1337.0 1827.4h.01M1297.0 1848.6h.01M1279.6 1846.5h.01M1329.2 1834.1h.01M1311.7 1825.5h.01M1297.3 1842.1h.01M1299.4 1861.2h.01M1316.8 1849.6h.01M1334.6 1831.2h.01M1333.8 1835.6h.01M1318.6 1834.2h.01M1309.9 1842.9h.01M1307.4 1821.9h.01M1317.9 1833.4h.01M1290.5 1848.8h.01M1294.7 1829.1h.01M1313.6 1807.8h.01M1348.4 1810.8h.01M1341.4 1808.1h.01M1298.7 1821.0h.01M1294.0 1833.7h.01M1313.1 1823.7h.01M1319.5 1824.2h.01M1337.5 1828.0h.01M1306.9 1835.0h.01M1313.9 1814.8h.01M1317.5 1822.9h.01M1315.4 1838.9h.01M1285.8 1838.0h.01M1297.2 1835.2h.01M1339.1 1848.3h.01M1343.2 1822.8h.01M1302.2 1835.9h.01M1315.8 1845.8h.01M1320.3 1818.2h.01M1338.3 1840.2h.01M1295.8 1829.5h.01M1306.9 1823.7h.01M1304.9 1835.0h.01M1341.9 1835.3h.01M1288.0 1850.3h.01M1300.5 1845.0h.01M1336.8 1840.3h.01M1313.5 1851.6h.01M1316.3 1840.4h.01M1330.3 1836.4h.01M1324.1 1821.7h.01M1299.5 1830.8h.01M1314.7 1830.8h.01M1312.4 1847.4h.01M1298.5 1830.7h.01M1301.3 1833.8h.01M1324.1 1832.9h.01M1278.1 1833.7h.01M1276.1 1850.3h.01M1303.8 1806.7h.01M1301.1 1825.7h.01M1289.8 1827.8h.01M1310.0 1840.7h.01M1303.7 1848.3h.01M1322.4 1833.2h.01M1335.5 1846.1h.01M1291.3 1844.3h.01M1321.4 1839.5h.01M1334.0 1821.2h.01M1314.8 1828.9h.01M1320.9 1814.9h.01M1300.5 1844.0h.01M1317.4 1826.6h.01M1311.0 1849.4h.01M1292.4 1839.4h.01M1289.9 1848.5h.01M1302.0 1824.7h.01M1318.2 1828.0h.01M1308.8 1845.1h.01M1325.8 1829.0h.01M1297.2 1839.4h.01M1293.4 1843.2h.01M1290.1 1833.7h.01M1303.2 1845.0h.01M1311.1 1830.5h.01M1313.4 1829.1h.01M1318.8 1841.5h.01M1318.5 1830.6h.01M1333.6 1832.1h.01M1300.4 1836.7h.01M1320.6 1821.2h.01M1303.7 1831.2h.01M1304.2 1833.6h.01M1311.8 1847.7h.01M1342.1 1822.4h.01M1326.2 1851.2h.01M1312.7 1830.1h.01M1318.4 1833.8h.01M1319.6 1830.7h.01M1286.1 1837.7h.01M1298.0 1842.7h.01M1281.5 1835.3h.01M1309.9 1836.9h.01M1275.9 1853.5h.01M1310.9 1830.2h.01M1296.8 1814.5h.01M1309.4 1831.8h.01M1324.8 1830.1h.01M1336.5 1817.5h.01M1305.0 1861.4h.01M1310.8 1823.0h.01M1313.1 1838.3h.01M1305.7 1839.0h.01M1287.9 1840.7h.01M1314.0 1831.9h.01M1327.5 1836.6h.01M1314.6 1837.7h.01M1286.4 1832.8h.01M1307.1 1824.4h.01M1310.0 1835.1h.01M1309.3 1816.9h.01M1327.1 1835.8h.01M1325.0 1832.9h.01M1320.4 1805.6h.01M1279.6 1832.9h.01M1270.5 1847.8h.01M1309.3 1836.3h.01M1264.3 1852.0h.01M1290.2 1827.6h.01M1307.6 1817.8h.01M1304.4 1825.6h.01M1297.7 1856.5h.01M1311.7 1846.8h.01M1315.2 1848.1h.01M1279.0 1849.1h.01M1306.4 1841.4h.01M1311.4 1833.6h.01M1313.7 1853.6h.01M1316.1 1831.9h.01M1313.1 1830.6h.01M1308.6 1823.6h.01M1319.9 1836.7h.01M1328.0 1820.3h.01M1285.8 1831.2h.01M1316.9 1822.2h.01M1322.8 1814.8h.01M1295.8 1827.1h.01M1310.6 1831.0h.01M1311.5 1851.2h.01M1296.4 1831.3h.01M1328.6 1838.4h.01M1331.9 1838.8h.01M1304.8 1832.4h.01M1304.1 1856.3h.01M1287.7 1846.3h.01M1296.5 1832.4h.01M1291.9 1830.4h.01M1315.0 1812.7h.01M1304.7 1841.5h.01M1301.0 1834.2h.01M1311.1 1821.4h.01M1323.3 1841.6h.01M1323.5 1838.5h.01M1310.2 1847.8h.01M1318.2 1804.6h.01M1297.7 1840.2h.01M1283.5 1842.2h.01M1327.1 1822.3h.01M1313.0 1823.5h.01M1329.7 1833.1h.01M1303.5 1840.4h.01M1310.2 1844.0h.01M1319.8 1839.3h.01M1295.1 1833.6h.01M1304.9 1847.7h.01M1303.7 1838.6h.01M1304.9 1834.1h.01M1323.5 1816.9h.01M1328.0 1836.0h.01M1291.5 1844.6h.01M1284.7 1845.0h.01M1286.4 1849.0h.01M1311.6 1829.5h.01M1315.9 1833.9h.01M1328.1 1842.5h.01M1300.7 1834.6h.01M1290.9 1841.3h.01M1312.1 1815.0h.01M1311.7 1843.7h.01M1336.4 1830.1h.01M1297.0 1847.2h.01M1324.5 1832.3h.01M1278.1 1833.6h.01M1321.5 1845.3h.01M1306.7 1834.4h.01M1304.4 1846.2h.01M1336.9 1815.7h.01M1312.5 1820.1h.01M1321.1 1798.2h.01M1282.8 1832.8h.01M1314.0 1833.4h.01M1298.6 1852.4h.01M1343.2 1844.8h.01M1309.4 1829.6h.01M1312.0 1834.1h.01M1323.5 1819.4h.01M1313.6 1842.7h.01M1319.8 1837.1h.01M1297.8 1820.1h.01M1312.4 1856.9h.01M1315.4 1829.6h.01M1295.7 1834.8h.01M1314.5 1824.8h.01M1307.4 1822.2h.01M1300.0 1819.2h.01M1267.3 1815.4h.01M1287.9 1836.2h.01M1321.6 1822.7h.01M1316.7 1839.1h.01M1299.4 1834.8h.01M1308.5 1820.7h.01M1337.7 1825.5h.01M1314.1 1832.0h.01M1324.3 1819.2h.01M1313.5 1817.3h.01M1299.1 1815.8h.01M1305.4 1826.3h.01M1307.6 1826.9h.01M1313.3 1830.3h.01M1316.2 1835.5h.01M1315.8 1843.4h.01M1302.3 1833.7h.01M1289.4 1841.9h.01M1322.8 1825.6h.01M1311.2 1825.3h.01M1314.9 1839.7h.01M1335.2 1850.4h.01M1321.4 1822.8h.01M1354.5 1819.6h.01M1326.5 1816.8h.01M1280.3 1841.7h.01M1325.0 1830.6h.01M1312.7 1845.2h.01M1336.7 1850.3h.01M1314.1 1812.9h.01M1308.9 1832.1h.01M1318.6 1853.9h.01M1272.5 1826.2h.01M1310.9 1834.1h.01M1300.0 1833.2h.01M1332.7 1814.4h.01M1288.1 1860.5h.01M1309.9 1852.7h.01M1314.5 1843.6h.01M1297.8 1810.8h.01M1312.1 1836.8h.01M1325.6 1831.0h.01M1313.5 1843.9h.01M1310.9 1821.4h.01M1335.9 1821.2h.01M1306.4 1853.7h.01M1302.8 1848.0h.01M1327.3 1845.8h.01M1288.5 1840.5h.01M1316.7 1828.6h.01M1318.4 1841.2h.01M1351.2 1809.0h.01M1301.3 1852.3h.01M1312.8 1822.9h.01M1295.8 1851.8h.01M1325.2 1841.2h.01M1304.0 1806.5h.01M1296.7 1831.5h.01M1327.3 1806.7h.01M1317.0 1847.1h.01M1306.1 1840.8h.01M1338.1 1832.5h.01M1315.3 1834.0h.01M1311.9 1847.4h.01M1299.6 1837.0h.01M1314.6 1823.2h.01M1335.0 1851.7h.01M1303.4 1852.2h.01M1293.1 1854.4h.01M1300.7 1854.2h.01M1295.1 1814.3h.01M1316.4 1841.5h.01M1311.8 1834.7h.01M1333.2 1844.4h.01M1303.5 1841.6h.01M1305.0 1844.2h.01M1306.9 1829.3h.01M1290.8 1836.4h.01M1281.1 1830.7h.01M1309.8 1828.0h.01M1290.5 1841.6h.01M1289.1 1832.1h.01M1280.6 1840.3h.01M1296.4 1828.3h.01M1321.0 1824.1h.01M1323.8 1838.8h.01M1321.5 1817.7h.01M1311.0 1842.4h.01M1297.8 1838.7h.01M1324.4 1833.4h.01M1303.1 1821.2h.01M1299.9 1828.2h.01M1308.0 1829.3h.01M1307.4 1815.1h.01M1325.2 1844.4h.01M1292.5 1848.1h.01M1282.3 1825.9h.01M1286.6 1840.1h.01M1311.6 1832.9h.01M1304.9 1842.8h.01M1314.6 1814.5h.01M1317.3 1820.3h.01M1323.3 1842.7h.01M1311.3 1852.1h.01M1299.7 1849.2h.01M1331.4 1827.0h.01M1301.2 1844.4h.01M1307.5 1828.0h.01M1307.2 1818.4h.01M1321.2 1824.6h.01M1320.4 1826.0h.01M1312.5 1840.7h.01M1303.7 1839.6h.01M1286.9 1828.7h.01M1284.5 1826.2h.01M1289.8 1819.6h.01M1291.5 1839.0h.01M1325.8 1812.4h.01M1299.3 1839.5h.01M1319.2 1834.1h.01M1318.0 1846.7h.01M1297.0 1851.2h.01M1318.2 1832.6h.01M1293.5 1846.7h.01M1317.3 1824.2h.01M1313.8 1832.2h.01M1327.1 1836.6h.01M1288.4 1836.6h.01M1308.3 1838.6h.01M1308.3 1843.6h.01M1323.5 1836.5h.01M1294.6 1831.1h.01M1315.2 1825.6h.01M1314.8 1829.2h.01M1305.2 1815.0h.01M1319.5 1836.3h.01M1311.4 1843.0h.01M1281.1 1845.4h.01M1285.1 1831.1h.01M1312.7 1830.8h.01M1292.5 1840.2h.01M1311.3 1822.1h.01M1318.2 1824.6h.01M1305.0 1827.9h.01M1311.4 1823.0h.01M1301.5 1826.5h.01M1292.6 1834.9h.01M1294.0 1836.1h.01M1299.2 1835.2h.01M1321.6 1834.0h.01M1303.8 1837.8h.01M1291.3 1816.1h.01M1321.6 1836.6h.01M1313.1 1829.9h.01M1298.4 1846.8h.01M1316.7 1846.6h.01M1289.4 1842.7h.01M1324.6 1832.1h.01M1301.3 1831.5h.01M1300.8 1849.1h.01M1280.7 1827.1h.01M1334.9 1838.2h.01M1295.0 1834.2h.01M1284.5 1841.5h.01M1304.0 1853.9h.01M1322.2 1834.1h.01M1290.4 1844.5h.01M1297.6 1835.0h.01M1307.9 1822.1h.01M1320.6 1824.3h.01M1305.7 1830.7h.01M1303.3 1819.2h.01M1315.7 1846.7h.01M1333.8 1830.8h.01M1309.8 1848.5h.01M1329.6 1843.5h.01M1313.2 1838.4h.01M1333.5 1838.4h.01M1309.6 1834.8h.01M1339.1 1834.6h.01M1284.0 1843.3h.01M1299.4 1860.4h.01M1302.8 1840.7h.01M1323.6 1837.3h.01M1315.7 1837.4h.01M1352.2 1813.1h.01M1319.8 1832.0h.01M1321.1 1851.5h.01M1274.8 1846.3h.01M1311.7 1821.9h.01M1309.7 1822.1h.01M1302.3 1855.2h.01M1290.4 1846.0h.01M1301.8 1841.7h.01M1296.6 1811.1h.01M1315.9 1847.9h.01M1293.3 1825.7h.01M1311.8 1843.0h.01M1312.1 1823.1h.01M1295.2 1850.5h.01M1325.0 1827.5h.01M1301.4 1814.8h.01M1272.8 1832.3h.01M1322.6 1818.9h.01M1320.4 1843.6h.01M1293.4 1802.5h.01M1319.7 1831.6h.01M1331.7 1846.9h.01M1317.2 1841.6h.01M1307.7 1851.3h.01M1309.3 1832.3h.01M1304.2 1846.3h.01M1286.9 1826.8h.01M1331.0 1839.4h.01M1301.1 1831.8h.01M1312.4 1837.4h.01M1292.4 1838.6h.01M1293.1 1861.2h.01M1332.2 1851.7h.01M1309.2 1851.9h.01M1289.2 1845.7h.01M1327.1 1843.2h.01M1309.4 1847.4h.01M1295.5 1826.2h.01M1295.8 1855.2h.01M1320.0 1834.5h.01M1352.1 1826.9h.01M1306.1 1841.7h.01M1295.3 1838.0h.01M1303.3 1831.3h.01M1322.6 1849.3h.01M1302.2 1829.6h.01M1296.4 1843.6h.01M1325.9 1818.6h.01M1320.7 1832.5h.01M1314.8 1846.3h.01M1298.2 1829.2h.01M1296.3 1839.6h.01M1308.1 1850.1h.01M1300.1 1832.8h.01M1315.8 1815.6h.01M1318.6 1810.0h.01M1299.7 1835.7h.01M1320.6 1841.9h.01M1302.9 1839.0h.01M1310.3 1836.0h.01M1313.1 1861.2h.01M1287.6 1837.0h.01M1309.6 1842.3h.01M1307.8 1825.4h.01M1295.0 1834.2h.01M1303.2 1838.1h.01M1305.5 1826.8h.01M1327.7 1829.6h.01M1277.5 1844.4h.01M1312.9 1818.3h.01M1352.0 1844.7h.01M1289.2 1819.1h.01M1324.8 1815.9h.01M1291.8 1840.8h.01M1261.3 1833.6h.01M1325.4 1822.8h.01M1328.9 1825.8h.01M1273.6 1818.1h.01M1319.9 1830.6h.01M1313.7 1816.2h.01M1326.0 1809.7h.01M1282.6 1835.1h.01M1317.0 1841.0h.01M1352.6 1807.8h.01M1299.9 1809.1h.01M1277.1 1830.4h.01M1329.5 1812.4h.01M1276.8 1872.2h.01M1284.9 1838.2h.01M1324.6 1827.2h.01M1303.2 1817.1h.01M1303.9 1857.0h.01M1269.6 1844.0h.01M1306.0 1865.9h.01M1292.9 1791.8h.01M1285.1 1805.4h.01M1295.6 1852.5h.01M1300.3 1800.5h.01M1313.5 1829.3h.01M1328.8 1831.3h.01M1292.6 1878.7h.01M1323.9 1832.5h.01M1349.9 1834.7h.01M1350.4 1836.8h.01M1305.4 1829.5h.01M1306.8 1851.2h.01M1319.7 1831.3h.01M1302.4 1833.3h.01M1283.6 1827.6h.01M1327.3 1819.1h.01M1332.1 1848.9h.01M1281.7 1870.4h.01M1265.4 1815.5h.01M1318.4 1826.3h.01M1257.3 1836.5h.01M1331.6 1850.4h.01M1286.8 1841.3h.01M1334.5 1820.2h.01M1280.3 1805.8h.01M1328.9 1843.8h.01M1350.2 1814.2h.01M1337.2 1850.4h.01M1318.2 1855.6h.01M1323.9 1836.9h.01M1254.7 1874.0h.01M1295.0 1831.1h.01M1298.7 1851.1h.01M1281.6 1831.9h.01M1297.6 1835.8h.01M1338.7 1842.1h.01M1259.8 1869.9h.01M1328.0 1792.3h.01M1337.3 1826.8h.01M1355.0 1787.6h.01M1332.9 1816.9h.01M1334.5 1831.2h.01M1284.0 1863.5h.01M1317.0 1852.0h.01M1368.4 1787.4h.01M1271.3 1845.0h.01M1307.3 1860.6h.01M1351.8 1868.3h.01M1280.3 1861.3h.01M1294.5 1852.3h.01M1326.7 1865.6h.01M1283.4 1842.6h.01M1292.1 1822.7h.01M1293.0 1849.8h.01M1306.5 1807.4h.01M1307.3 1805.6h.01M1321.4 1843.0h.01M1329.1 1820.8h.01M1322.5 1855.1h.01M1325.1 1840.2h.01M1289.3 1844.7h.01M1301.9 1798.1h.01M1327.9 1829.2h.01M1319.0 1848.5h.01M1281.2 1817.4h.01M1327.5 1818.9h.01M1270.8 1844.2h.01M1313.5 1825.4h.01M1344.1 1831.6h.01M1328.4 1858.2h.01M1301.4 1804.5h.01M1323.8 1853.1h.01M1370.2 1826.0h.01M1326.0 1831.3h.01M1291.6 1822.4h.01M1298.7 1858.7h.01M1312.1 1837.7h.01M1313.6 1870.2h.01M1341.0 1808.3h.01M1324.2 1815.4h.01M1299.1 1838.0h.01M1287.3 1829.1h.01M1319.5 1822.0h.01M1326.5 1834.2h.01M1320.5 1810.1h.01M1327.5 1808.2h.01M1307.4 1817.5h.01M1315.8 1820.1h.01M1317.6 1820.8h.01M1352.9 1845.4h.01M1314.2 1848.0h.01M1298.0 1808.1h.01M1321.5 1823.6h.01M1323.0 1788.9h.01M1315.1 1836.4h.01M1283.1 1855.4h.01M1320.2 1832.3h.01M1350.2 1812.6h.01M1284.5 1839.6h.01M1319.3 1815.2h.01M1307.6 1847.2h.01M1297.0 1817.0h.01M1285.4 1854.9h.01M1314.0 1809.3h.01M1329.2 1831.3h.01M1291.7 1857.7h.01M1346.4 1823.8h.01M1294.6 1823.8h.01M1270.1 1834.5h.01" stroke="#ee6a12" stroke-width="1.7" stroke-linecap="square" fill="none" opacity="0.8"/>
<path d="M1275.5 1814.3h.01M1364.0 1846.2h.01M1310.5 1807.0h.01M1281.4 1813.1h.01M1268.3 1830.2h.01M1328.0 1812.8h.01M1281.7 1798.3h.01M1308.3 1803.5h.01M1268.0 1852.3h.01M1280.4 1858.7h.01M1291.0 1838.4h.01M1342.9 1793.6h.01M1290.4 1815.5h.01M1331.1 1827.7h.01M1331.3 1830.5h.01M1270.8 1871.7h.01M1347.3 1812.3h.01M1361.7 1841.6h.01M1301.2 1869.0h.01M1341.7 1828.1h.01M1341.5 1847.4h.01M1307.7 1845.3h.01M1255.7 1846.1h.01M1318.7 1855.1h.01M1356.0 1844.7h.01M1301.9 1833.1h.01M1256.5 1860.1h.01M1265.8 1828.1h.01M1310.5 1844.7h.01M1303.8 1852.8h.01M1277.5 1873.3h.01M1329.7 1789.3h.01M1306.1 1849.5h.01M1257.1 1843.6h.01M1314.7 1867.3h.01M1322.4 1853.0h.01M1350.3 1821.4h.01M1304.3 1810.0h.01M1352.4 1846.0h.01M1312.8 1847.5h.01M1338.9 1855.9h.01M1348.4 1815.7h.01M1261.0 1853.0h.01M1360.4 1846.5h.01M1268.8 1809.4h.01M1368.7 1819.6h.01M1340.9 1852.4h.01M1333.7 1800.0h.01M1333.1 1831.1h.01M1318.2 1794.8h.01M1315.7 1833.4h.01M1342.3 1840.7h.01M1272.9 1817.8h.01M1297.6 1869.0h.01M1326.3 1832.0h.01M1350.0 1861.2h.01M1365.4 1790.9h.01M1276.6 1805.5h.01M1302.2 1801.2h.01M1323.6 1864.4h.01M1351.2 1819.1h.01M1290.6 1863.6h.01M1356.6 1859.1h.01M1325.2 1843.3h.01M1287.6 1851.0h.01M1291.9 1792.8h.01M1334.1 1804.8h.01M1267.2 1871.1h.01M1324.9 1797.8h.01M1268.7 1867.6h.01" stroke="#f0a060" stroke-width="1.5" stroke-linecap="square" fill="none" opacity="0.55"/>
<path d="M1359.9 1712.5h.01M1355.9 1703.4h.01M1365.7 1682.8h.01M1335.6 1721.7h.01M1332.2 1736.9h.01M1323.1 1739.9h.01M1354.6 1705.9h.01M1337.1 1746.3h.01M1339.7 1744.7h.01M1366.2 1710.3h.01M1344.6 1708.5h.01M1329.2 1751.1h.01M1322.4 1747.1h.01M1364.4 1717.5h.01M1356.4 1703.1h.01M1358.8 1732.6h.01M1346.2 1714.7h.01M1344.9 1727.3h.01M1347.4 1695.5h.01M1361.1 1685.9h.01M1350.7 1705.0h.01M1366.0 1726.9h.01M1339.8 1722.0h.01M1372.7 1686.6h.01M1333.5 1723.2h.01M1360.4 1702.9h.01M1373.9 1715.0h.01M1344.7 1732.8h.01M1387.5 1687.2h.01M1349.1 1739.6h.01M1359.2 1687.6h.01M1367.0 1696.5h.01M1353.2 1713.3h.01M1328.5 1728.6h.01M1316.1 1729.7h.01M1366.8 1696.5h.01M1370.7 1701.1h.01M1373.5 1680.2h.01M1345.8 1719.2h.01M1317.6 1739.9h.01M1365.8 1689.1h.01M1346.3 1712.9h.01M1358.7 1692.5h.01M1345.7 1709.9h.01M1353.2 1708.3h.01M1366.7 1709.5h.01M1370.8 1683.7h.01M1364.8 1687.7h.01M1312.0 1751.5h.01M1374.1 1702.0h.01M1327.3 1719.2h.01M1319.4 1741.5h.01M1372.0 1686.9h.01M1337.2 1728.8h.01M1317.0 1743.2h.01M1333.3 1738.8h.01M1335.6 1728.6h.01M1325.8 1717.1h.01M1371.7 1697.4h.01M1331.8 1744.4h.01M1373.0 1744.5h.01M1409.8 1712.9h.01M1377.2 1751.3h.01M1421.3 1670.2h.01M1371.8 1775.6h.01M1395.1 1774.2h.01M1418.5 1643.6h.01M1403.2 1686.1h.01M1385.0 1731.3h.01M1418.0 1632.9h.01M1404.4 1749.8h.01M1416.7 1659.9h.01M1401.2 1751.1h.01M1424.2 1662.7h.01M1387.6 1739.0h.01M1389.7 1773.0h.01M1417.6 1701.3h.01M1437.2 1643.9h.01M1386.1 1718.9h.01M1414.5 1709.8h.01M1404.2 1724.6h.01M1437.0 1650.6h.01M1396.7 1716.2h.01M1401.6 1703.2h.01M1407.6 1729.8h.01M1489.9 1758.3h.01M1505.7 1764.6h.01M1485.5 1754.3h.01M1409.3 1798.5h.01M1418.9 1851.6h.01M1512.7 1717.7h.01M1445.4 1744.2h.01M1350.8 1766.0h.01M1428.1 1759.7h.01M1439.2 1849.6h.01" stroke="#f2708a" stroke-width="2.3" stroke-linecap="square" fill="none" opacity="0.85"/>
<line x1="1375.8" y1="1562.5" x2="1375.8" y2="1886.0" stroke="#ee4b4b" stroke-width="2.6" stroke-linecap="butt"/>
<line x1="1245.6" y1="1782.8" x2="1569.7" y2="1782.8" stroke="#ee4b4b" stroke-width="2.6" stroke-linecap="butt"/>
<rect x="1245.6" y="1562.5" width="324.1" height="323.5" fill="none" stroke="#666" stroke-width="2" />
<path d="M1241.6 1861.7h4M1270.0 1886.0v4M1241.6 1847.4h4M1284.3 1886.0v4M1241.6 1837.3h4M1294.4 1886.0v4M1241.6 1829.5h4M1302.2 1886.0v4M1241.6 1823.1h4M1308.6 1886.0v4M1241.6 1817.7h4M1314.1 1886.0v4M1241.6 1813.0h4M1318.8 1886.0v4M1241.6 1808.8h4M1322.9 1886.0v4M1241.6 1780.8h4M1351.0 1886.0v4M1241.6 1766.5h4M1365.3 1886.0v4M1241.6 1756.4h4M1375.4 1886.0v4M1241.6 1748.6h4M1383.3 1886.0v4M1241.6 1742.2h4M1389.7 1886.0v4M1241.6 1736.8h4M1395.1 1886.0v4M1241.6 1732.1h4M1399.8 1886.0v4M1241.6 1728.0h4M1403.9 1886.0v4M1241.6 1699.9h4M1432.0 1886.0v4M1241.6 1685.7h4M1446.3 1886.0v4M1241.6 1675.6h4M1456.4 1886.0v4M1241.6 1667.7h4M1464.3 1886.0v4M1241.6 1661.3h4M1470.7 1886.0v4M1241.6 1655.9h4M1476.1 1886.0v4M1241.6 1651.2h4M1480.8 1886.0v4M1241.6 1647.1h4M1485.0 1886.0v4M1241.6 1619.0h4M1513.1 1886.0v4M1241.6 1604.8h4M1527.3 1886.0v4M1241.6 1594.7h4M1537.5 1886.0v4M1241.6 1586.8h4M1545.3 1886.0v4M1241.6 1580.4h4M1551.7 1886.0v4M1241.6 1575.0h4M1557.1 1886.0v4M1241.6 1570.3h4M1561.8 1886.0v4M1241.6 1566.2h4M1566.0 1886.0v4M1238.6 1886.0h7M1245.6 1886.0v7M1238.6 1805.1h7M1326.6 1886.0v7M1238.6 1724.2h7M1407.6 1886.0v7M1238.6 1643.4h7M1488.7 1886.0v7M1238.6 1562.5h7M1569.7 1886.0v7" stroke="#777" stroke-width="1.3" fill="none"/>
<circle cx="1375.8" cy="1636.6" r="7.3" fill="#f90b14"/>
<circle cx="1504.6" cy="1782.8" r="7.3" fill="#f90b14"/>
<circle cx="1375.8" cy="1782.8" r="6" fill="#fff" stroke="#ee3a3a" stroke-width="1.8"/>
<text x="1250.8" y="1582.0" font-size="19.2" text-anchor="start" fill="#3a3a3a" >Dead</text>
<text x="1250.8" y="1604.0" font-size="19.2" text-anchor="start" fill="#3a3a3a" >2.46 %</text>
<text x="1564.2" y="1582.0" font-size="19.2" text-anchor="end" fill="#3a3a3a" >Late Apop./Dead</text>
<text x="1561.2" y="1604.0" font-size="19.2" text-anchor="end" fill="#3a3a3a" >1.18 %</text>
<text x="1250.8" y="1856.0" font-size="19.2" text-anchor="start" fill="#3a3a3a" >95.78 %</text>
<text x="1250.8" y="1878.2" font-size="19.2" text-anchor="start" fill="#3a3a3a" >Live</text>
<text x="1561.2" y="1856.0" font-size="19.2" text-anchor="end" fill="#3a3a3a" >0.59 %</text>
<text x="1561.2" y="1878.2" font-size="19.2" text-anchor="end" fill="#3a3a3a" >Early Apop.</text>
<text x="1236.1" y="1894.2" font-size="18.5" text-anchor="end" fill="#3a3a3a" >0</text>
<text x="1244.1" y="1913.0" font-size="18.5" text-anchor="middle" fill="#3a3a3a" >0</text>
<text x="1236.1" y="1813.3" font-size="18.5" text-anchor="end" fill="#3a3a3a" >1</text>
<text x="1325.1" y="1913.0" font-size="18.5" text-anchor="middle" fill="#3a3a3a" >1</text>
<text x="1236.1" y="1732.5" font-size="18.5" text-anchor="end" fill="#3a3a3a" >2</text>
<text x="1406.1" y="1913.0" font-size="18.5" text-anchor="middle" fill="#3a3a3a" >2</text>
<text x="1236.1" y="1651.6" font-size="18.5" text-anchor="end" fill="#3a3a3a" >3</text>
<text x="1487.2" y="1913.0" font-size="18.5" text-anchor="middle" fill="#3a3a3a" >3</text>
<text x="1236.1" y="1570.7" font-size="18.5" text-anchor="end" fill="#3a3a3a" >4</text>
<text x="1567.2" y="1913.0" font-size="18.5" text-anchor="middle" fill="#3a3a3a" >4</text>
<text x="1406.6" y="1533.2" font-size="29.5" text-anchor="middle" fill="#1c1c1c" >100 <tspan font-family="Liberation Serif, serif" font-size="1.13em">µ</tspan>M</text>
<text x="1409.4" y="1559.2" font-size="20.8" text-anchor="middle" fill="#3a3a3a" >APOPTOSIS PROFILE</text>
<text transform="translate(1212.0,1730.0) rotate(-90)" font-size="20.6" text-anchor="middle" fill="#3a3a3a">VIABILITY</text>
<text x="1242.8" y="1933.6" font-size="20.5" text-anchor="start" fill="#3a3a3a" >Live</text>
<text x="1407.3" y="1933.6" font-size="20.5" text-anchor="middle" fill="#3a3a3a" >ANNEXIN V</text>
<text x="1582.9" y="1933.6" font-size="20.5" text-anchor="end" fill="#3a3a3a" >Apoptotic</text>
</svg>
</body></html>
